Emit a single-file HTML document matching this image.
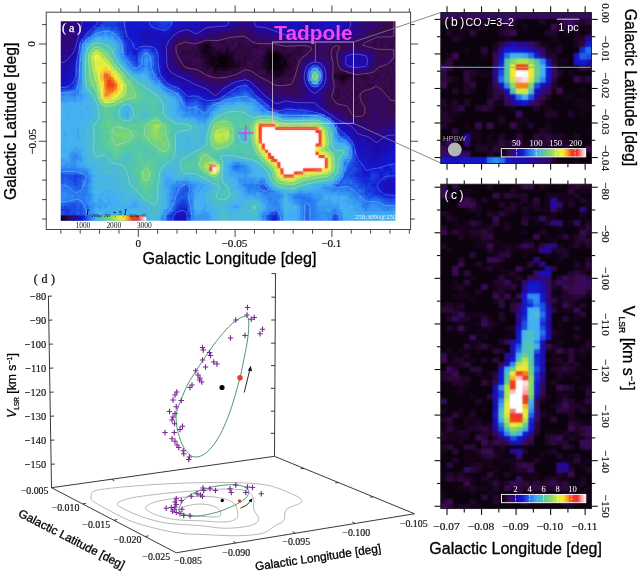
<!DOCTYPE html>
<html lang="en">
<head>
<meta charset="utf-8">
<title>Tadpole molecular cloud figure</title>
<style>
html,body{margin:0;padding:0;background:#fff;}
body{width:640px;height:576px;overflow:hidden;}
svg{display:block;}
</style>
</head>
<body>
<svg width="640" height="576" viewBox="0 0 640 576">
<defs>
<linearGradient id="cb" x1="0" x2="1" y1="0" y2="0"><stop offset="0" stop-color="#000000"/><stop offset="0.042" stop-color="#1b0422"/><stop offset="0.083" stop-color="#380a4c"/><stop offset="0.125" stop-color="#300878"/><stop offset="0.167" stop-color="#2208a0"/><stop offset="0.25" stop-color="#1218d0"/><stop offset="0.333" stop-color="#2270f0"/><stop offset="0.417" stop-color="#44b0f4"/><stop offset="0.5" stop-color="#54c8a8"/><stop offset="0.583" stop-color="#88d868"/><stop offset="0.667" stop-color="#d0ec40"/><stop offset="0.725" stop-color="#f8f030"/><stop offset="0.783" stop-color="#f8a020"/><stop offset="0.833" stop-color="#f04018"/><stop offset="0.9" stop-color="#f03030"/><stop offset="0.95" stop-color="#f8a0a0"/><stop offset="1" stop-color="#ffffff"/></linearGradient>
<filter id="sm" x="-5%" y="-5%" width="110%" height="110%" color-interpolation-filters="sRGB"><feGaussianBlur stdDeviation="0.8" result="b"/><feComposite in="SourceGraphic" in2="b" operator="arithmetic" k1="0" k2="0.6" k3="0.4" k4="0"/></filter>
<filter id="sm2" x="-5%" y="-5%" width="110%" height="110%" color-interpolation-filters="sRGB"><feGaussianBlur stdDeviation="0.8" result="b"/><feComposite in="SourceGraphic" in2="b" operator="arithmetic" k1="0" k2="0.4" k3="0.6" k4="0"/></filter>
<clipPath id="ca"><rect x="60.75" y="21.25" width="334.75" height="199.5"/></clipPath>
<clipPath id="cbp"><rect x="440.8" y="12.6" width="150.6" height="150.9"/></clipPath>
<clipPath id="ccp"><rect x="440.8" y="184.2" width="150.6" height="324.4"/></clipPath>
</defs>
<rect x="0" y="0" width="640" height="576" fill="#fff"/>
<g id="panel-a">
<rect x="46.25" y="12.2" width="364.35" height="217.3" fill="#fff" stroke="#444" stroke-width="1"/>
<g clip-path="url(#ca)"><g filter="url(#sm)">
<rect x="54.75" y="15.25" width="346.75" height="211.5" fill="#3060c0"/>
<path fill="#000000" d="M271.12 52.02H278.32V56.14H271.12ZM218.43 55.14H225.63V59.26H218.43ZM271.12 55.14H281.42V59.26H271.12ZM268.02 58.26H278.32V62.37H268.02ZM218.43 61.37H222.53V65.49H218.43ZM274.22 61.37H278.32V65.49H274.22ZM215.33 64.49H219.43V68.61H215.33ZM271.12 64.49H275.22V68.61H271.12ZM277.32 64.49H281.42V68.61H277.32ZM274.22 67.61H278.32V71.72H274.22Z"/>
<path fill="#0b020e" d="M206.03 42.67H210.13V46.79H206.03ZM206.03 45.79H210.13V49.9H206.03ZM202.93 48.9H207.03V53.02H202.93ZM268.02 52.02H272.12V56.14H268.02ZM277.32 52.02H281.42V56.14H277.32ZM212.23 55.14H216.33V59.26H212.23ZM224.63 55.14H231.82V59.26H224.63ZM268.02 55.14H272.12V59.26H268.02ZM280.42 55.14H284.52V59.26H280.42ZM209.13 58.26H213.23V62.37H209.13ZM215.33 58.26H228.72V62.37H215.33ZM277.32 58.26H281.42V62.37H277.32ZM283.52 58.26H287.62V62.37H283.52ZM212.23 61.37H216.33V65.49H212.23ZM221.53 61.37H228.72V65.49H221.53ZM268.02 61.37H275.22V65.49H268.02ZM277.32 61.37H281.42V65.49H277.32ZM283.52 61.37H287.62V65.49H283.52ZM218.43 64.49H231.82V68.61H218.43ZM268.02 64.49H272.12V68.61H268.02ZM274.22 64.49H278.32V68.61H274.22ZM280.42 64.49H284.52V68.61H280.42ZM271.12 67.61H275.22V71.72H271.12ZM277.32 67.61H281.42V71.72H277.32ZM345.51 73.84H349.61V77.96H345.51Z"/>
<path fill="#16031b" d="M202.93 42.67H207.03V46.79H202.93ZM202.93 45.79H207.03V49.9H202.93ZM209.13 45.79H213.23V49.9H209.13ZM199.83 48.9H203.93V53.02H199.83ZM206.03 48.9H210.13V53.02H206.03ZM224.63 48.9H228.72V53.02H224.63ZM271.12 48.9H275.22V53.02H271.12ZM202.93 52.02H213.23V56.14H202.93ZM215.33 52.02H228.72V56.14H215.33ZM230.82 52.02H234.92V56.14H230.82ZM264.92 52.02H269.02V56.14H264.92ZM206.03 55.14H213.23V59.26H206.03ZM215.33 55.14H219.43V59.26H215.33ZM264.92 55.14H269.02V59.26H264.92ZM212.23 58.26H216.33V62.37H212.23ZM227.72 58.26H234.92V62.37H227.72ZM264.92 58.26H269.02V62.37H264.92ZM280.42 58.26H284.52V62.37H280.42ZM206.03 61.37H213.23V65.49H206.03ZM215.33 61.37H219.43V65.49H215.33ZM227.72 61.37H234.92V65.49H227.72ZM264.92 61.37H269.02V65.49H264.92ZM280.42 61.37H284.52V65.49H280.42ZM209.13 64.49H216.33V68.61H209.13ZM230.82 64.49H238.02V68.61H230.82ZM261.82 64.49H269.02V68.61H261.82ZM283.52 64.49H287.62V68.61H283.52ZM212.23 67.61H219.43V71.72H212.23ZM221.53 67.61H228.72V71.72H221.53ZM264.92 67.61H272.12V71.72H264.92ZM280.42 67.61H284.52V71.72H280.42ZM271.12 70.72H284.52V74.84H271.12ZM274.22 73.84H281.42V77.96H274.22ZM333.11 73.84H337.21V77.96H333.11ZM339.31 73.84H346.51V77.96H339.31ZM348.61 73.84H352.71V77.96H348.61ZM339.31 76.96H346.51V81.08H339.31Z"/>
<path fill="#21052a" d="M218.43 39.55H222.53V43.67H218.43ZM199.83 42.67H203.93V46.79H199.83ZM237.02 42.67H241.12V46.79H237.02ZM196.73 45.79H203.93V49.9H196.73ZM212.23 45.79H216.33V49.9H212.23ZM224.63 45.79H228.72V49.9H224.63ZM280.42 45.79H284.52V49.9H280.42ZM209.13 48.9H222.53V53.02H209.13ZM227.72 48.9H231.82V53.02H227.72ZM233.92 48.9H238.02V53.02H233.92ZM264.92 48.9H272.12V53.02H264.92ZM274.22 48.9H281.42V53.02H274.22ZM199.83 52.02H203.93V56.14H199.83ZM212.23 52.02H216.33V56.14H212.23ZM227.72 52.02H231.82V56.14H227.72ZM280.42 52.02H284.52V56.14H280.42ZM286.62 52.02H293.82V56.14H286.62ZM199.83 55.14H207.03V59.26H199.83ZM230.82 55.14H234.92V59.26H230.82ZM243.22 55.14H247.32V59.26H243.22ZM261.82 55.14H265.92V59.26H261.82ZM283.52 55.14H290.72V59.26H283.52ZM202.93 58.26H210.13V62.37H202.93ZM237.02 58.26H241.12V62.37H237.02ZM261.82 58.26H265.92V62.37H261.82ZM292.82 58.26H296.91V62.37H292.82ZM202.93 61.37H207.03V65.49H202.93ZM233.92 61.37H241.12V65.49H233.92ZM243.22 61.37H247.32V65.49H243.22ZM258.72 61.37H265.92V65.49H258.72ZM286.62 61.37H290.72V65.49H286.62ZM206.03 64.49H210.13V68.61H206.03ZM237.02 64.49H241.12V68.61H237.02ZM286.62 64.49H293.82V68.61H286.62ZM206.03 67.61H210.13V71.72H206.03ZM218.43 67.61H222.53V71.72H218.43ZM227.72 67.61H231.82V71.72H227.72ZM283.52 67.61H290.72V71.72H283.52ZM212.23 70.72H216.33V74.84H212.23ZM264.92 70.72H272.12V74.84H264.92ZM283.52 70.72H287.62V74.84H283.52ZM342.41 70.72H346.51V74.84H342.41ZM271.12 73.84H275.22V77.96H271.12ZM336.21 73.84H340.31V77.96H336.21ZM336.21 76.96H340.31V81.08H336.21ZM345.51 76.96H349.61V81.08H345.51ZM339.31 80.08H346.51V84.19H339.31Z"/>
<path fill="#2c083b" d="M382.7 23.97H386.8V28.08H382.7ZM385.8 27.08H389.9V31.2H385.8ZM395.1 30.2H399.2V34.32H395.1ZM392 33.32H396.1V37.44H392ZM240.12 36.44H244.22V40.55H240.12ZM373.4 36.44H377.5V40.55H373.4ZM385.8 36.44H389.9V40.55H385.8ZM395.1 36.44H399.2V40.55H395.1ZM202.93 39.55H213.23V43.67H202.93ZM221.53 39.55H225.63V43.67H221.53ZM230.82 39.55H234.92V43.67H230.82ZM237.02 39.55H241.12V43.67H237.02ZM373.4 39.55H377.5V43.67H373.4ZM379.6 39.55H383.7V43.67H379.6ZM196.73 42.67H200.83V46.79H196.73ZM209.13 42.67H213.23V46.79H209.13ZM221.53 42.67H228.72V46.79H221.53ZM230.82 42.67H234.92V46.79H230.82ZM240.12 42.67H244.22V46.79H240.12ZM252.52 42.67H259.72V46.79H252.52ZM271.12 42.67H275.22V46.79H271.12ZM364.1 42.67H368.2V46.79H364.1ZM373.4 42.67H377.5V46.79H373.4ZM379.6 42.67H383.7V46.79H379.6ZM388.9 42.67H393V46.79H388.9ZM395.1 42.67H399.2V46.79H395.1ZM218.43 45.79H222.53V49.9H218.43ZM227.72 45.79H231.82V49.9H227.72ZM233.92 45.79H259.72V49.9H233.92ZM261.82 45.79H272.12V49.9H261.82ZM274.22 45.79H278.32V49.9H274.22ZM283.52 45.79H290.72V49.9H283.52ZM295.91 45.79H303.11V49.9H295.91ZM311.41 45.79H318.61V49.9H311.41ZM370.3 45.79H377.5V49.9H370.3ZM379.6 45.79H383.7V49.9H379.6ZM388.9 45.79H393V49.9H388.9ZM181.23 48.9H200.83V53.02H181.23ZM221.53 48.9H225.63V53.02H221.53ZM230.82 48.9H234.92V53.02H230.82ZM240.12 48.9H253.52V53.02H240.12ZM280.42 48.9H287.62V53.02H280.42ZM292.82 48.9H303.11V53.02H292.82ZM178.13 52.02H191.53V56.14H178.13ZM193.63 52.02H200.83V56.14H193.63ZM233.92 52.02H253.52V56.14H233.92ZM255.62 52.02H259.72V56.14H255.62ZM261.82 52.02H265.92V56.14H261.82ZM283.52 52.02H287.62V56.14H283.52ZM292.82 52.02H306.21V56.14H292.82ZM308.31 52.02H312.41V56.14H308.31ZM326.91 52.02H337.21V56.14H326.91ZM184.33 55.14H188.43V59.26H184.33ZM190.53 55.14H200.83V59.26H190.53ZM233.92 55.14H244.22V59.26H233.92ZM246.32 55.14H256.62V59.26H246.32ZM258.72 55.14H262.82V59.26H258.72ZM289.72 55.14H296.91V59.26H289.72ZM379.6 55.14H383.7V59.26H379.6ZM392 55.14H396.1V59.26H392ZM181.23 58.26H185.33V62.37H181.23ZM187.43 58.26H191.53V62.37H187.43ZM199.83 58.26H203.93V62.37H199.83ZM233.92 58.26H238.02V62.37H233.92ZM240.12 58.26H253.52V62.37H240.12ZM255.62 58.26H259.72V62.37H255.62ZM286.62 58.26H293.82V62.37H286.62ZM333.11 58.26H337.21V62.37H333.11ZM392 58.26H396.1V62.37H392ZM181.23 61.37H191.53V65.49H181.23ZM199.83 61.37H203.93V65.49H199.83ZM240.12 61.37H244.22V65.49H240.12ZM252.52 61.37H256.62V65.49H252.52ZM289.72 61.37H300.01V65.49H289.72ZM336.21 61.37H340.31V65.49H336.21ZM388.9 61.37H393V65.49H388.9ZM181.23 64.49H185.33V68.61H181.23ZM187.43 64.49H197.73V68.61H187.43ZM199.83 64.49H207.03V68.61H199.83ZM240.12 64.49H250.42V68.61H240.12ZM252.52 64.49H262.82V68.61H252.52ZM292.82 64.49H296.91V68.61H292.82ZM376.5 64.49H380.6V68.61H376.5ZM199.83 67.61H207.03V71.72H199.83ZM230.82 67.61H241.12V71.72H230.82ZM246.32 67.61H265.92V71.72H246.32ZM289.72 67.61H293.82V71.72H289.72ZM202.93 70.72H207.03V74.84H202.93ZM209.13 70.72H213.23V74.84H209.13ZM215.33 70.72H228.72V74.84H215.33ZM230.82 70.72H238.02V74.84H230.82ZM289.72 70.72H296.91V74.84H289.72ZM333.11 70.72H343.41V74.84H333.11ZM379.6 70.72H383.7V74.84H379.6ZM385.8 70.72H389.9V74.84H385.8ZM395.1 70.72H399.2V74.84H395.1ZM212.23 73.84H222.53V77.96H212.23ZM224.63 73.84H234.92V77.96H224.63ZM255.62 73.84H272.12V77.96H255.62ZM280.42 73.84H293.82V77.96H280.42ZM351.71 73.84H355.81V77.96H351.71ZM357.91 73.84H368.2V77.96H357.91ZM373.4 73.84H380.6V77.96H373.4ZM392 73.84H396.1V77.96H392ZM268.02 76.96H281.42V81.08H268.02ZM333.11 76.96H337.21V81.08H333.11ZM348.61 76.96H355.81V81.08H348.61ZM361.01 76.96H371.3V81.08H361.01ZM373.4 76.96H377.5V81.08H373.4ZM382.7 76.96H386.8V81.08H382.7ZM277.32 80.08H284.52V84.19H277.32ZM286.62 80.08H290.72V84.19H286.62ZM336.21 80.08H340.31V84.19H336.21ZM345.51 80.08H349.61V84.19H345.51ZM351.71 80.08H355.81V84.19H351.71ZM364.1 80.08H368.2V84.19H364.1ZM388.9 80.08H393V84.19H388.9ZM289.72 83.19H293.82V87.31H289.72ZM339.31 83.19H346.51V87.31H339.31ZM348.61 83.19H352.71V87.31H348.61ZM354.81 83.19H362.01V87.31H354.81ZM364.1 83.19H374.4V87.31H364.1ZM382.7 83.19H386.8V87.31H382.7ZM388.9 83.19H393V87.31H388.9ZM395.1 83.19H399.2V87.31H395.1ZM336.21 86.31H340.31V90.43H336.21ZM345.51 86.31H349.61V90.43H345.51ZM351.71 86.31H355.81V90.43H351.71ZM361.01 86.31H365.1V90.43H361.01ZM388.9 86.31H393V90.43H388.9ZM333.11 89.43H340.31V93.55H333.11ZM351.71 89.43H362.01V93.55H351.71ZM364.1 89.43H368.2V93.55H364.1ZM382.7 89.43H386.8V93.55H382.7ZM336.21 92.55H340.31V96.66H336.21ZM342.41 92.55H346.51V96.66H342.41ZM348.61 92.55H358.91V96.66H348.61ZM385.8 92.55H389.9V96.66H385.8ZM395.1 92.55H399.2V96.66H395.1ZM330.01 95.66H340.31V99.78H330.01ZM345.51 95.66H349.61V99.78H345.51ZM348.61 98.78H352.71V102.9H348.61ZM354.81 98.78H358.91V102.9H354.81ZM342.41 101.9H346.51V106.01H342.41ZM351.71 101.9H358.91V106.01H351.71ZM357.91 105.01H362.01V109.13H357.91ZM392 105.01H399.2V109.13H392ZM354.81 108.13H358.91V112.25H354.81ZM348.61 111.25H355.81V115.37H348.61ZM357.91 111.25H362.01V115.37H357.91Z"/>
<path fill="#380a4c" d="M382.7 17.73H399.2V21.85H382.7ZM379.6 20.85H399.2V24.97H379.6ZM379.6 23.97H383.7V28.08H379.6ZM385.8 23.97H399.2V28.08H385.8ZM373.4 27.08H377.5V31.2H373.4ZM379.6 27.08H386.8V31.2H379.6ZM388.9 27.08H396.1V31.2H388.9ZM240.12 30.2H244.22V34.32H240.12ZM373.4 30.2H377.5V34.32H373.4ZM379.6 30.2H386.8V34.32H379.6ZM388.9 30.2H396.1V34.32H388.9ZM224.63 33.32H228.72V37.44H224.63ZM233.92 33.32H247.32V37.44H233.92ZM364.1 33.32H368.2V37.44H364.1ZM376.5 33.32H380.6V37.44H376.5ZM382.7 33.32H393V37.44H382.7ZM395.1 33.32H399.2V37.44H395.1ZM184.33 36.44H188.43V40.55H184.33ZM218.43 36.44H241.12V40.55H218.43ZM243.22 36.44H247.32V40.55H243.22ZM249.42 36.44H253.52V40.55H249.42ZM367.2 36.44H374.4V40.55H367.2ZM376.5 36.44H386.8V40.55H376.5ZM388.9 36.44H396.1V40.55H388.9ZM175.03 39.55H182.23V43.67H175.03ZM184.33 39.55H191.53V43.67H184.33ZM196.73 39.55H203.93V43.67H196.73ZM212.23 39.55H219.43V43.67H212.23ZM224.63 39.55H231.82V43.67H224.63ZM233.92 39.55H238.02V43.67H233.92ZM240.12 39.55H253.52V43.67H240.12ZM255.62 39.55H262.82V43.67H255.62ZM268.02 39.55H272.12V43.67H268.02ZM351.71 39.55H355.81V43.67H351.71ZM364.1 39.55H371.3V43.67H364.1ZM376.5 39.55H380.6V43.67H376.5ZM382.7 39.55H396.1V43.67H382.7ZM175.03 42.67H197.73V46.79H175.03ZM212.23 42.67H222.53V46.79H212.23ZM227.72 42.67H231.82V46.79H227.72ZM233.92 42.67H238.02V46.79H233.92ZM243.22 42.67H253.52V46.79H243.22ZM258.72 42.67H272.12V46.79H258.72ZM274.22 42.67H284.52V46.79H274.22ZM289.72 42.67H293.82V46.79H289.72ZM299.01 42.67H306.21V46.79H299.01ZM308.31 42.67H312.41V46.79H308.31ZM326.91 42.67H349.61V46.79H326.91ZM354.81 42.67H365.1V46.79H354.81ZM367.2 42.67H374.4V46.79H367.2ZM376.5 42.67H380.6V46.79H376.5ZM385.8 42.67H389.9V46.79H385.8ZM392 42.67H396.1V46.79H392ZM171.93 45.79H197.73V49.9H171.93ZM215.33 45.79H219.43V49.9H215.33ZM221.53 45.79H225.63V49.9H221.53ZM230.82 45.79H234.92V49.9H230.82ZM258.72 45.79H262.82V49.9H258.72ZM271.12 45.79H275.22V49.9H271.12ZM277.32 45.79H281.42V49.9H277.32ZM289.72 45.79H296.91V49.9H289.72ZM302.11 45.79H312.41V49.9H302.11ZM330.01 45.79H346.51V49.9H330.01ZM354.81 45.79H358.91V49.9H354.81ZM361.01 45.79H371.3V49.9H361.01ZM382.7 45.79H389.9V49.9H382.7ZM392 45.79H399.2V49.9H392ZM175.03 48.9H182.23V53.02H175.03ZM237.02 48.9H241.12V53.02H237.02ZM252.52 48.9H259.72V53.02H252.52ZM261.82 48.9H265.92V53.02H261.82ZM286.62 48.9H293.82V53.02H286.62ZM302.11 48.9H315.51V53.02H302.11ZM323.81 48.9H343.41V53.02H323.81ZM376.5 48.9H399.2V53.02H376.5ZM190.53 52.02H194.63V56.14H190.53ZM252.52 52.02H256.62V56.14H252.52ZM258.72 52.02H262.82V56.14H258.72ZM317.61 52.02H324.81V56.14H317.61ZM336.21 52.02H340.31V56.14H336.21ZM376.5 52.02H399.2V56.14H376.5ZM178.13 55.14H185.33V59.26H178.13ZM187.43 55.14H191.53V59.26H187.43ZM255.62 55.14H259.72V59.26H255.62ZM295.91 55.14H309.31V59.26H295.91ZM326.91 55.14H337.21V59.26H326.91ZM373.4 55.14H380.6V59.26H373.4ZM382.7 55.14H386.8V59.26H382.7ZM395.1 55.14H399.2V59.26H395.1ZM190.53 58.26H200.83V62.37H190.53ZM252.52 58.26H256.62V62.37H252.52ZM258.72 58.26H262.82V62.37H258.72ZM295.91 58.26H300.01V62.37H295.91ZM326.91 58.26H334.11V62.37H326.91ZM336.21 58.26H340.31V62.37H336.21ZM376.5 58.26H380.6V62.37H376.5ZM382.7 58.26H386.8V62.37H382.7ZM395.1 58.26H399.2V62.37H395.1ZM178.13 61.37H182.23V65.49H178.13ZM190.53 61.37H200.83V65.49H190.53ZM246.32 61.37H253.52V65.49H246.32ZM255.62 61.37H259.72V65.49H255.62ZM330.01 61.37H337.21V65.49H330.01ZM379.6 61.37H383.7V65.49H379.6ZM385.8 61.37H389.9V65.49H385.8ZM392 61.37H399.2V65.49H392ZM178.13 64.49H182.23V68.61H178.13ZM184.33 64.49H188.43V68.61H184.33ZM196.73 64.49H200.83V68.61H196.73ZM249.42 64.49H253.52V68.61H249.42ZM295.91 64.49H300.01V68.61H295.91ZM330.01 64.49H340.31V68.61H330.01ZM379.6 64.49H393V68.61H379.6ZM395.1 64.49H399.2V68.61H395.1ZM181.23 67.61H188.43V71.72H181.23ZM193.63 67.61H200.83V71.72H193.63ZM209.13 67.61H213.23V71.72H209.13ZM240.12 67.61H247.32V71.72H240.12ZM292.82 67.61H300.01V71.72H292.82ZM330.01 67.61H346.51V71.72H330.01ZM373.4 67.61H399.2V71.72H373.4ZM196.73 70.72H200.83V74.84H196.73ZM206.03 70.72H210.13V74.84H206.03ZM227.72 70.72H231.82V74.84H227.72ZM246.32 70.72H265.92V74.84H246.32ZM286.62 70.72H290.72V74.84H286.62ZM295.91 70.72H300.01V74.84H295.91ZM330.01 70.72H334.11V74.84H330.01ZM345.51 70.72H352.71V74.84H345.51ZM361.01 70.72H380.6V74.84H361.01ZM382.7 70.72H386.8V74.84H382.7ZM388.9 70.72H396.1V74.84H388.9ZM202.93 73.84H213.23V77.96H202.93ZM221.53 73.84H225.63V77.96H221.53ZM233.92 73.84H241.12V77.96H233.92ZM252.52 73.84H256.62V77.96H252.52ZM292.82 73.84H300.01V77.96H292.82ZM330.01 73.84H334.11V77.96H330.01ZM354.81 73.84H358.91V77.96H354.81ZM367.2 73.84H374.4V77.96H367.2ZM382.7 73.84H393V77.96H382.7ZM209.13 76.96H222.53V81.08H209.13ZM224.63 76.96H228.72V81.08H224.63ZM255.62 76.96H269.02V81.08H255.62ZM280.42 76.96H296.91V81.08H280.42ZM330.01 76.96H334.11V81.08H330.01ZM354.81 76.96H362.01V81.08H354.81ZM370.3 76.96H374.4V81.08H370.3ZM376.5 76.96H383.7V81.08H376.5ZM385.8 76.96H399.2V81.08H385.8ZM221.53 80.08H225.63V84.19H221.53ZM264.92 80.08H278.32V84.19H264.92ZM283.52 80.08H287.62V84.19H283.52ZM289.72 80.08H300.01V84.19H289.72ZM330.01 80.08H337.21V84.19H330.01ZM348.61 80.08H352.71V84.19H348.61ZM354.81 80.08H365.1V84.19H354.81ZM367.2 80.08H374.4V84.19H367.2ZM376.5 80.08H389.9V84.19H376.5ZM392 80.08H399.2V84.19H392ZM268.02 83.19H290.72V87.31H268.02ZM292.82 83.19H296.91V87.31H292.82ZM333.11 83.19H340.31V87.31H333.11ZM345.51 83.19H349.61V87.31H345.51ZM351.71 83.19H355.81V87.31H351.71ZM361.01 83.19H365.1V87.31H361.01ZM373.4 83.19H383.7V87.31H373.4ZM385.8 83.19H389.9V87.31H385.8ZM271.12 86.31H275.22V90.43H271.12ZM283.52 86.31H287.62V90.43H283.52ZM289.72 86.31H293.82V90.43H289.72ZM330.01 86.31H337.21V90.43H330.01ZM339.31 86.31H346.51V90.43H339.31ZM348.61 86.31H352.71V90.43H348.61ZM354.81 86.31H362.01V90.43H354.81ZM364.1 86.31H374.4V90.43H364.1ZM376.5 86.31H389.9V90.43H376.5ZM392 86.31H399.2V90.43H392ZM330.01 89.43H334.11V93.55H330.01ZM339.31 89.43H352.71V93.55H339.31ZM361.01 89.43H365.1V93.55H361.01ZM367.2 89.43H371.3V93.55H367.2ZM373.4 89.43H377.5V93.55H373.4ZM379.6 89.43H383.7V93.55H379.6ZM385.8 89.43H399.2V93.55H385.8ZM292.82 92.55H296.91V96.66H292.82ZM326.91 92.55H337.21V96.66H326.91ZM339.31 92.55H343.41V96.66H339.31ZM345.51 92.55H349.61V96.66H345.51ZM357.91 92.55H368.2V96.66H357.91ZM379.6 92.55H386.8V96.66H379.6ZM388.9 92.55H396.1V96.66H388.9ZM339.31 95.66H346.51V99.78H339.31ZM351.71 95.66H368.2V99.78H351.71ZM385.8 95.66H399.2V99.78H385.8ZM330.01 98.78H349.61V102.9H330.01ZM351.71 98.78H355.81V102.9H351.71ZM357.91 98.78H368.2V102.9H357.91ZM376.5 98.78H380.6V102.9H376.5ZM382.7 98.78H399.2V102.9H382.7ZM330.01 101.9H343.41V106.01H330.01ZM348.61 101.9H352.71V106.01H348.61ZM357.91 101.9H371.3V106.01H357.91ZM379.6 101.9H383.7V106.01H379.6ZM385.8 101.9H399.2V106.01H385.8ZM333.11 105.01H358.91V109.13H333.11ZM361.01 105.01H371.3V109.13H361.01ZM385.8 105.01H393V109.13H385.8ZM342.41 108.13H346.51V112.25H342.41ZM348.61 108.13H355.81V112.25H348.61ZM357.91 108.13H368.2V112.25H357.91ZM379.6 108.13H383.7V112.25H379.6ZM385.8 108.13H393V112.25H385.8ZM395.1 108.13H399.2V112.25H395.1ZM345.51 111.25H349.61V115.37H345.51ZM354.81 111.25H358.91V115.37H354.81ZM361.01 111.25H368.2V115.37H361.01ZM370.3 111.25H374.4V115.37H370.3ZM385.8 111.25H389.9V115.37H385.8ZM348.61 114.37H371.3V118.48H348.61ZM379.6 114.37H383.7V118.48H379.6ZM385.8 114.37H389.9V118.48H385.8ZM367.2 117.48H371.3V121.6H367.2Z"/>
<path fill="#35095e" d="M370.3 17.73H383.7V21.85H370.3ZM367.2 20.85H371.3V24.97H367.2ZM373.4 20.85H377.5V24.97H373.4ZM364.1 23.97H368.2V28.08H364.1ZM376.5 23.97H380.6V28.08H376.5ZM240.12 27.08H247.32V31.2H240.12ZM364.1 27.08H368.2V31.2H364.1ZM376.5 27.08H380.6V31.2H376.5ZM395.1 27.08H399.2V31.2H395.1ZM224.63 30.2H228.72V34.32H224.63ZM230.82 30.2H241.12V34.32H230.82ZM246.32 30.2H250.42V34.32H246.32ZM364.1 30.2H374.4V34.32H364.1ZM376.5 30.2H380.6V34.32H376.5ZM385.8 30.2H389.9V34.32H385.8ZM209.13 33.32H213.23V37.44H209.13ZM215.33 33.32H225.63V37.44H215.33ZM227.72 33.32H234.92V37.44H227.72ZM246.32 33.32H256.62V37.44H246.32ZM367.2 33.32H377.5V37.44H367.2ZM379.6 33.32H383.7V37.44H379.6ZM181.23 36.44H185.33V40.55H181.23ZM187.43 36.44H191.53V40.55H187.43ZM202.93 36.44H219.43V40.55H202.93ZM246.32 36.44H250.42V40.55H246.32ZM255.62 36.44H265.92V40.55H255.62ZM268.02 36.44H272.12V40.55H268.02ZM361.01 36.44H368.2V40.55H361.01ZM181.23 39.55H185.33V43.67H181.23ZM190.53 39.55H197.73V43.67H190.53ZM252.52 39.55H256.62V43.67H252.52ZM261.82 39.55H269.02V43.67H261.82ZM271.12 39.55H278.32V43.67H271.12ZM280.42 39.55H284.52V43.67H280.42ZM289.72 39.55H293.82V43.67H289.72ZM299.01 39.55H303.11V43.67H299.01ZM305.21 39.55H315.51V43.67H305.21ZM330.01 39.55H334.11V43.67H330.01ZM342.41 39.55H346.51V43.67H342.41ZM348.61 39.55H352.71V43.67H348.61ZM354.81 39.55H365.1V43.67H354.81ZM370.3 39.55H374.4V43.67H370.3ZM395.1 39.55H399.2V43.67H395.1ZM171.93 42.67H176.03V46.79H171.93ZM283.52 42.67H290.72V46.79H283.52ZM292.82 42.67H300.01V46.79H292.82ZM305.21 42.67H309.31V46.79H305.21ZM311.41 42.67H321.71V46.79H311.41ZM323.81 42.67H327.91V46.79H323.81ZM348.61 42.67H355.81V46.79H348.61ZM382.7 42.67H386.8V46.79H382.7ZM317.61 45.79H321.71V49.9H317.61ZM323.81 45.79H331.01V49.9H323.81ZM345.51 45.79H355.81V49.9H345.51ZM357.91 45.79H362.01V49.9H357.91ZM376.5 45.79H380.6V49.9H376.5ZM168.83 48.9H176.03V53.02H168.83ZM258.72 48.9H262.82V53.02H258.72ZM314.51 48.9H324.81V53.02H314.51ZM342.41 48.9H346.51V53.02H342.41ZM364.1 48.9H377.5V53.02H364.1ZM171.93 52.02H179.13V56.14H171.93ZM305.21 52.02H309.31V56.14H305.21ZM311.41 52.02H318.61V56.14H311.41ZM323.81 52.02H327.91V56.14H323.81ZM373.4 52.02H377.5V56.14H373.4ZM171.93 55.14H179.13V59.26H171.93ZM308.31 55.14H327.91V59.26H308.31ZM336.21 55.14H340.31V59.26H336.21ZM385.8 55.14H393V59.26H385.8ZM171.93 58.26H182.23V62.37H171.93ZM184.33 58.26H188.43V62.37H184.33ZM299.01 58.26H309.31V62.37H299.01ZM373.4 58.26H377.5V62.37H373.4ZM379.6 58.26H383.7V62.37H379.6ZM385.8 58.26H393V62.37H385.8ZM175.03 61.37H179.13V65.49H175.03ZM299.01 61.37H303.11V65.49H299.01ZM373.4 61.37H380.6V65.49H373.4ZM382.7 61.37H386.8V65.49H382.7ZM299.01 64.49H303.11V68.61H299.01ZM326.91 64.49H331.01V68.61H326.91ZM339.31 64.49H343.41V68.61H339.31ZM370.3 64.49H377.5V68.61H370.3ZM392 64.49H396.1V68.61H392ZM178.13 67.61H182.23V71.72H178.13ZM187.43 67.61H194.63V71.72H187.43ZM299.01 67.61H303.11V71.72H299.01ZM370.3 67.61H374.4V71.72H370.3ZM187.43 70.72H197.73V74.84H187.43ZM199.83 70.72H203.93V74.84H199.83ZM237.02 70.72H247.32V74.84H237.02ZM326.91 70.72H331.01V74.84H326.91ZM351.71 70.72H362.01V74.84H351.71ZM193.63 73.84H203.93V77.96H193.63ZM240.12 73.84H253.52V77.96H240.12ZM379.6 73.84H383.7V77.96H379.6ZM395.1 73.84H399.2V77.96H395.1ZM202.93 76.96H210.13V81.08H202.93ZM221.53 76.96H225.63V81.08H221.53ZM249.42 76.96H253.52V81.08H249.42ZM295.91 76.96H300.01V81.08H295.91ZM209.13 80.08H213.23V84.19H209.13ZM215.33 80.08H222.53V84.19H215.33ZM224.63 80.08H228.72V84.19H224.63ZM261.82 80.08H265.92V84.19H261.82ZM373.4 80.08H377.5V84.19H373.4ZM212.23 83.19H219.43V87.31H212.23ZM261.82 83.19H269.02V87.31H261.82ZM295.91 83.19H300.01V87.31H295.91ZM330.01 83.19H334.11V87.31H330.01ZM392 83.19H396.1V87.31H392ZM268.02 86.31H272.12V90.43H268.02ZM274.22 86.31H284.52V90.43H274.22ZM286.62 86.31H290.72V90.43H286.62ZM292.82 86.31H303.11V90.43H292.82ZM373.4 86.31H377.5V90.43H373.4ZM271.12 89.43H303.11V93.55H271.12ZM323.81 89.43H331.01V93.55H323.81ZM370.3 89.43H374.4V93.55H370.3ZM376.5 89.43H380.6V93.55H376.5ZM274.22 92.55H278.32V96.66H274.22ZM286.62 92.55H293.82V96.66H286.62ZM295.91 92.55H303.11V96.66H295.91ZM323.81 92.55H327.91V96.66H323.81ZM367.2 92.55H380.6V96.66H367.2ZM323.81 95.66H331.01V99.78H323.81ZM348.61 95.66H352.71V99.78H348.61ZM370.3 95.66H386.8V99.78H370.3ZM323.81 98.78H331.01V102.9H323.81ZM367.2 98.78H377.5V102.9H367.2ZM379.6 98.78H383.7V102.9H379.6ZM323.81 101.9H331.01V106.01H323.81ZM345.51 101.9H349.61V106.01H345.51ZM370.3 101.9H380.6V106.01H370.3ZM382.7 101.9H386.8V106.01H382.7ZM326.91 105.01H334.11V109.13H326.91ZM370.3 105.01H386.8V109.13H370.3ZM333.11 108.13H343.41V112.25H333.11ZM345.51 108.13H349.61V112.25H345.51ZM367.2 108.13H380.6V112.25H367.2ZM382.7 108.13H386.8V112.25H382.7ZM392 108.13H396.1V112.25H392ZM342.41 111.25H346.51V115.37H342.41ZM367.2 111.25H371.3V115.37H367.2ZM376.5 111.25H386.8V115.37H376.5ZM388.9 111.25H399.2V115.37H388.9ZM342.41 114.37H349.61V118.48H342.41ZM382.7 114.37H386.8V118.48H382.7ZM388.9 114.37H399.2V118.48H388.9ZM348.61 117.48H368.2V121.6H348.61ZM373.4 117.48H399.2V121.6H373.4ZM357.91 120.6H365.1V124.72H357.91ZM367.2 120.6H380.6V124.72H367.2ZM382.7 120.6H386.8V124.72H382.7ZM388.9 120.6H393V124.72H388.9ZM364.1 123.72H368.2V127.83H364.1ZM370.3 123.72H374.4V127.83H370.3ZM376.5 123.72H386.8V127.83H376.5Z"/>
<path fill="#32086f" d="M63.45 17.73H76.85V21.85H63.45ZM240.12 17.73H244.22V21.85H240.12ZM357.91 17.73H365.1V21.85H357.91ZM367.2 17.73H371.3V21.85H367.2ZM57.25 20.85H67.55V24.97H57.25ZM69.65 20.85H73.75V24.97H69.65ZM364.1 20.85H368.2V24.97H364.1ZM370.3 20.85H374.4V24.97H370.3ZM376.5 20.85H380.6V24.97H376.5ZM57.25 23.97H67.55V28.08H57.25ZM69.65 23.97H73.75V28.08H69.65ZM75.85 23.97H79.95V28.08H75.85ZM357.91 23.97H365.1V28.08H357.91ZM370.3 23.97H377.5V28.08H370.3ZM60.35 27.08H64.45V31.2H60.35ZM69.65 27.08H76.85V31.2H69.65ZM230.82 27.08H241.12V31.2H230.82ZM246.32 27.08H253.52V31.2H246.32ZM367.2 27.08H374.4V31.2H367.2ZM60.35 30.2H64.45V34.32H60.35ZM69.65 30.2H73.75V34.32H69.65ZM215.33 30.2H219.43V34.32H215.33ZM221.53 30.2H225.63V34.32H221.53ZM227.72 30.2H231.82V34.32H227.72ZM243.22 30.2H247.32V34.32H243.22ZM249.42 30.2H256.62V34.32H249.42ZM57.25 33.32H67.55V37.44H57.25ZM72.75 33.32H76.85V37.44H72.75ZM181.23 33.32H188.43V37.44H181.23ZM206.03 33.32H210.13V37.44H206.03ZM212.23 33.32H216.33V37.44H212.23ZM255.62 33.32H259.72V37.44H255.62ZM354.81 33.32H365.1V37.44H354.81ZM57.25 36.44H61.35V40.55H57.25ZM63.45 36.44H67.55V40.55H63.45ZM175.03 36.44H182.23V40.55H175.03ZM190.53 36.44H194.63V40.55H190.53ZM196.73 36.44H203.93V40.55H196.73ZM252.52 36.44H256.62V40.55H252.52ZM264.92 36.44H269.02V40.55H264.92ZM271.12 36.44H284.52V40.55H271.12ZM342.41 36.44H346.51V40.55H342.41ZM348.61 36.44H362.01V40.55H348.61ZM57.25 39.55H61.35V43.67H57.25ZM171.93 39.55H176.03V43.67H171.93ZM277.32 39.55H281.42V43.67H277.32ZM283.52 39.55H290.72V43.67H283.52ZM292.82 39.55H300.01V43.67H292.82ZM302.11 39.55H306.21V43.67H302.11ZM314.51 39.55H331.01V43.67H314.51ZM333.11 39.55H343.41V43.67H333.11ZM57.25 42.67H61.35V46.79H57.25ZM63.45 42.67H70.65V46.79H63.45ZM320.71 42.67H324.81V46.79H320.71ZM63.45 45.79H67.55V49.9H63.45ZM168.83 45.79H172.93V49.9H168.83ZM320.71 45.79H324.81V49.9H320.71ZM345.51 48.9H365.1V53.02H345.51ZM339.31 52.02H343.41V56.14H339.31ZM370.3 52.02H374.4V56.14H370.3ZM168.83 55.14H172.93V59.26H168.83ZM339.31 55.14H343.41V59.26H339.31ZM320.71 58.26H327.91V62.37H320.71ZM339.31 58.26H343.41V62.37H339.31ZM171.93 61.37H176.03V65.49H171.93ZM302.11 61.37H306.21V65.49H302.11ZM339.31 61.37H343.41V65.49H339.31ZM370.3 61.37H374.4V65.49H370.3ZM175.03 64.49H179.13V68.61H175.03ZM345.51 67.61H349.61V71.72H345.51ZM351.71 67.61H355.81V71.72H351.71ZM367.2 67.61H371.3V71.72H367.2ZM181.23 70.72H188.43V74.84H181.23ZM299.01 70.72H303.11V74.84H299.01ZM190.53 73.84H194.63V77.96H190.53ZM299.01 73.84H303.11V77.96H299.01ZM326.91 73.84H331.01V77.96H326.91ZM196.73 76.96H203.93V81.08H196.73ZM227.72 76.96H241.12V81.08H227.72ZM252.52 76.96H256.62V81.08H252.52ZM299.01 76.96H303.11V81.08H299.01ZM202.93 80.08H210.13V84.19H202.93ZM212.23 80.08H216.33V84.19H212.23ZM255.62 80.08H262.82V84.19H255.62ZM299.01 80.08H303.11V84.19H299.01ZM326.91 80.08H331.01V84.19H326.91ZM206.03 83.19H213.23V87.31H206.03ZM218.43 83.19H222.53V87.31H218.43ZM258.72 83.19H262.82V87.31H258.72ZM299.01 83.19H303.11V87.31H299.01ZM261.82 86.31H269.02V90.43H261.82ZM326.91 86.31H331.01V90.43H326.91ZM264.92 89.43H272.12V93.55H264.92ZM302.11 89.43H306.21V93.55H302.11ZM264.92 92.55H269.02V96.66H264.92ZM271.12 92.55H275.22V96.66H271.12ZM277.32 92.55H287.62V96.66H277.32ZM302.11 92.55H309.31V96.66H302.11ZM320.71 92.55H324.81V96.66H320.71ZM277.32 95.66H284.52V99.78H277.32ZM289.72 95.66H300.01V99.78H289.72ZM320.71 95.66H324.81V99.78H320.71ZM367.2 95.66H371.3V99.78H367.2ZM320.71 98.78H324.81V102.9H320.71ZM323.81 105.01H327.91V109.13H323.81ZM326.91 108.13H334.11V112.25H326.91ZM336.21 111.25H343.41V115.37H336.21ZM373.4 111.25H377.5V115.37H373.4ZM339.31 114.37H343.41V118.48H339.31ZM370.3 114.37H380.6V118.48H370.3ZM345.51 117.48H349.61V121.6H345.51ZM370.3 117.48H374.4V121.6H370.3ZM354.81 120.6H358.91V124.72H354.81ZM364.1 120.6H368.2V124.72H364.1ZM379.6 120.6H383.7V124.72H379.6ZM385.8 120.6H389.9V124.72H385.8ZM392 120.6H399.2V124.72H392ZM367.2 123.72H371.3V127.83H367.2ZM373.4 123.72H377.5V127.83H373.4ZM385.8 123.72H393V127.83H385.8ZM370.3 126.83H380.6V130.95H370.3ZM382.7 126.83H386.8V130.95H382.7ZM370.3 129.95H374.4V134.07H370.3Z"/>
<path fill="#2d0880" d="M57.25 17.73H64.45V21.85H57.25ZM75.85 17.73H79.95V21.85H75.85ZM233.92 17.73H241.12V21.85H233.92ZM243.22 17.73H247.32V21.85H243.22ZM364.1 17.73H368.2V21.85H364.1ZM66.55 20.85H70.65V24.97H66.55ZM72.75 20.85H76.85V24.97H72.75ZM237.02 20.85H250.42V24.97H237.02ZM357.91 20.85H365.1V24.97H357.91ZM66.55 23.97H70.65V28.08H66.55ZM72.75 23.97H76.85V28.08H72.75ZM233.92 23.97H250.42V28.08H233.92ZM351.71 23.97H358.91V28.08H351.71ZM367.2 23.97H371.3V28.08H367.2ZM57.25 27.08H61.35V31.2H57.25ZM63.45 27.08H70.65V31.2H63.45ZM75.85 27.08H79.95V31.2H75.85ZM218.43 27.08H222.53V31.2H218.43ZM224.63 27.08H231.82V31.2H224.63ZM351.71 27.08H365.1V31.2H351.71ZM57.25 30.2H61.35V34.32H57.25ZM63.45 30.2H70.65V34.32H63.45ZM72.75 30.2H76.85V34.32H72.75ZM181.23 30.2H185.33V34.32H181.23ZM206.03 30.2H216.33V34.32H206.03ZM218.43 30.2H222.53V34.32H218.43ZM255.62 30.2H259.72V34.32H255.62ZM261.82 30.2H265.92V34.32H261.82ZM354.81 30.2H365.1V34.32H354.81ZM66.55 33.32H73.75V37.44H66.55ZM187.43 33.32H194.63V37.44H187.43ZM202.93 33.32H207.03V37.44H202.93ZM258.72 33.32H269.02V37.44H258.72ZM351.71 33.32H355.81V37.44H351.71ZM60.35 36.44H64.45V40.55H60.35ZM66.55 36.44H76.85V40.55H66.55ZM171.93 36.44H176.03V40.55H171.93ZM193.63 36.44H197.73V40.55H193.63ZM283.52 36.44H287.62V40.55H283.52ZM305.21 36.44H309.31V40.55H305.21ZM314.51 36.44H321.71V40.55H314.51ZM333.11 36.44H337.21V40.55H333.11ZM345.51 36.44H349.61V40.55H345.51ZM60.35 39.55H76.85V43.67H60.35ZM345.51 39.55H349.61V43.67H345.51ZM60.35 42.67H64.45V46.79H60.35ZM69.65 42.67H76.85V46.79H69.65ZM168.83 42.67H172.93V46.79H168.83ZM57.25 45.79H64.45V49.9H57.25ZM66.55 45.79H70.65V49.9H66.55ZM57.25 48.9H70.65V53.02H57.25ZM165.73 48.9H169.83V53.02H165.73ZM60.35 52.02H64.45V56.14H60.35ZM66.55 52.02H70.65V56.14H66.55ZM168.83 52.02H172.93V56.14H168.83ZM342.41 52.02H346.51V56.14H342.41ZM57.25 55.14H61.35V59.26H57.25ZM370.3 55.14H374.4V59.26H370.3ZM168.83 58.26H172.93V62.37H168.83ZM308.31 58.26H321.71V62.37H308.31ZM370.3 58.26H374.4V62.37H370.3ZM168.83 61.37H172.93V65.49H168.83ZM320.71 61.37H331.01V65.49H320.71ZM171.93 64.49H176.03V68.61H171.93ZM302.11 64.49H306.21V68.61H302.11ZM323.81 64.49H327.91V68.61H323.81ZM367.2 64.49H371.3V68.61H367.2ZM175.03 67.61H179.13V71.72H175.03ZM326.91 67.61H331.01V71.72H326.91ZM348.61 67.61H352.71V71.72H348.61ZM357.91 67.61H368.2V71.72H357.91ZM178.13 70.72H182.23V74.84H178.13ZM193.63 76.96H197.73V81.08H193.63ZM326.91 76.96H331.01V81.08H326.91ZM196.73 80.08H203.93V84.19H196.73ZM227.72 80.08H231.82V84.19H227.72ZM252.52 80.08H256.62V84.19H252.52ZM221.53 83.19H225.63V87.31H221.53ZM255.62 83.19H259.72V87.31H255.62ZM326.91 83.19H331.01V87.31H326.91ZM212.23 86.31H219.43V90.43H212.23ZM323.81 86.31H327.91V90.43H323.81ZM212.23 89.43H219.43V93.55H212.23ZM305.21 89.43H309.31V93.55H305.21ZM320.71 89.43H324.81V93.55H320.71ZM268.02 92.55H272.12V96.66H268.02ZM317.61 92.55H321.71V96.66H317.61ZM271.12 95.66H278.32V99.78H271.12ZM283.52 95.66H290.72V99.78H283.52ZM299.01 95.66H306.21V99.78H299.01ZM295.91 98.78H300.01V102.9H295.91ZM320.71 101.9H324.81V106.01H320.71ZM333.11 111.25H337.21V115.37H333.11ZM336.21 114.37H340.31V118.48H336.21ZM342.41 117.48H346.51V121.6H342.41ZM351.71 120.6H355.81V124.72H351.71ZM357.91 123.72H365.1V127.83H357.91ZM392 123.72H396.1V127.83H392ZM364.1 126.83H371.3V130.95H364.1ZM379.6 126.83H383.7V130.95H379.6ZM385.8 126.83H393V130.95H385.8ZM367.2 129.95H371.3V134.07H367.2ZM373.4 129.95H383.7V134.07H373.4Z"/>
<path fill="#280890" d="M78.95 17.73H83.05V21.85H78.95ZM227.72 17.73H231.82V21.85H227.72ZM246.32 17.73H253.52V21.85H246.32ZM351.71 17.73H358.91V21.85H351.71ZM75.85 20.85H79.95V24.97H75.85ZM230.82 20.85H238.02V24.97H230.82ZM249.42 20.85H253.52V24.97H249.42ZM354.81 20.85H358.91V24.97H354.81ZM249.42 23.97H253.52V28.08H249.42ZM206.03 27.08H219.43V31.2H206.03ZM221.53 27.08H225.63V31.2H221.53ZM252.52 27.08H259.72V31.2H252.52ZM348.61 27.08H352.71V31.2H348.61ZM75.85 30.2H79.95V34.32H75.85ZM184.33 30.2H191.53V34.32H184.33ZM196.73 30.2H200.83V34.32H196.73ZM202.93 30.2H207.03V34.32H202.93ZM258.72 30.2H262.82V34.32H258.72ZM264.92 30.2H275.22V34.32H264.92ZM348.61 30.2H355.81V34.32H348.61ZM75.85 33.32H79.95V37.44H75.85ZM175.03 33.32H182.23V37.44H175.03ZM196.73 33.32H203.93V37.44H196.73ZM268.02 33.32H284.52V37.44H268.02ZM342.41 33.32H352.71V37.44H342.41ZM286.62 36.44H293.82V40.55H286.62ZM299.01 36.44H306.21V40.55H299.01ZM308.31 36.44H315.51V40.55H308.31ZM323.81 36.44H334.11V40.55H323.81ZM336.21 36.44H343.41V40.55H336.21ZM168.83 39.55H172.93V43.67H168.83ZM69.65 45.79H76.85V49.9H69.65ZM165.73 45.79H169.83V49.9H165.73ZM57.25 52.02H61.35V56.14H57.25ZM63.45 52.02H67.55V56.14H63.45ZM165.73 52.02H169.83V56.14H165.73ZM361.01 52.02H371.3V56.14H361.01ZM60.35 55.14H70.65V59.26H60.35ZM165.73 55.14H169.83V59.26H165.73ZM342.41 55.14H346.51V59.26H342.41ZM367.2 55.14H371.3V59.26H367.2ZM60.35 58.26H67.55V62.37H60.35ZM367.2 58.26H371.3V62.37H367.2ZM305.21 61.37H309.31V65.49H305.21ZM342.41 61.37H346.51V65.49H342.41ZM367.2 61.37H371.3V65.49H367.2ZM165.73 64.49H172.93V68.61H165.73ZM342.41 64.49H346.51V68.61H342.41ZM168.83 67.61H176.03V71.72H168.83ZM302.11 67.61H306.21V71.72H302.11ZM354.81 67.61H358.91V71.72H354.81ZM171.93 70.72H176.03V74.84H171.93ZM302.11 70.72H306.21V74.84H302.11ZM181.23 73.84H185.33V77.96H181.23ZM187.43 73.84H191.53V77.96H187.43ZM302.11 73.84H306.21V77.96H302.11ZM187.43 76.96H194.63V81.08H187.43ZM240.12 76.96H250.42V81.08H240.12ZM302.11 76.96H306.21V81.08H302.11ZM230.82 80.08H234.92V84.19H230.82ZM249.42 80.08H253.52V84.19H249.42ZM302.11 80.08H306.21V84.19H302.11ZM196.73 83.19H207.03V87.31H196.73ZM224.63 83.19H228.72V87.31H224.63ZM252.52 83.19H256.62V87.31H252.52ZM302.11 83.19H306.21V87.31H302.11ZM323.81 83.19H327.91V87.31H323.81ZM209.13 86.31H213.23V90.43H209.13ZM218.43 86.31H222.53V90.43H218.43ZM258.72 86.31H262.82V90.43H258.72ZM302.11 86.31H309.31V90.43H302.11ZM320.71 86.31H324.81V90.43H320.71ZM261.82 89.43H265.92V93.55H261.82ZM212.23 92.55H216.33V96.66H212.23ZM308.31 92.55H318.61V96.66H308.31ZM268.02 95.66H272.12V99.78H268.02ZM305.21 95.66H312.41V99.78H305.21ZM314.51 95.66H321.71V99.78H314.51ZM274.22 98.78H284.52V102.9H274.22ZM286.62 98.78H296.91V102.9H286.62ZM299.01 98.78H309.31V102.9H299.01ZM317.61 98.78H321.71V102.9H317.61ZM320.71 105.01H324.81V109.13H320.71ZM330.01 111.25H334.11V115.37H330.01ZM333.11 114.37H337.21V118.48H333.11ZM339.31 117.48H343.41V121.6H339.31ZM345.51 120.6H352.71V124.72H345.51ZM348.61 123.72H358.91V127.83H348.61ZM395.1 123.72H399.2V127.83H395.1ZM354.81 126.83H365.1V130.95H354.81ZM392 126.83H399.2V130.95H392ZM354.81 129.95H368.2V134.07H354.81ZM382.7 129.95H399.2V134.07H382.7ZM367.2 133.07H383.7V137.19H367.2ZM370.3 136.19H374.4V140.3H370.3ZM376.5 136.19H380.6V140.3H376.5Z"/>
<path fill="#2208a0" d="M206.03 17.73H213.23V21.85H206.03ZM230.82 17.73H234.92V21.85H230.82ZM255.62 17.73H259.72V21.85H255.62ZM264.92 17.73H269.02V21.85H264.92ZM305.21 17.73H309.31V21.85H305.21ZM348.61 17.73H352.71V21.85H348.61ZM78.95 20.85H86.15V24.97H78.95ZM206.03 20.85H210.13V24.97H206.03ZM212.23 20.85H216.33V24.97H212.23ZM218.43 20.85H225.63V24.97H218.43ZM227.72 20.85H231.82V24.97H227.72ZM252.52 20.85H265.92V24.97H252.52ZM305.21 20.85H312.41V24.97H305.21ZM348.61 20.85H355.81V24.97H348.61ZM78.95 23.97H83.05V28.08H78.95ZM209.13 23.97H213.23V28.08H209.13ZM215.33 23.97H219.43V28.08H215.33ZM227.72 23.97H234.92V28.08H227.72ZM252.52 23.97H256.62V28.08H252.52ZM261.82 23.97H265.92V28.08H261.82ZM305.21 23.97H312.41V28.08H305.21ZM348.61 23.97H352.71V28.08H348.61ZM78.95 27.08H83.05V31.2H78.95ZM184.33 27.08H188.43V31.2H184.33ZM190.53 27.08H194.63V31.2H190.53ZM202.93 27.08H207.03V31.2H202.93ZM258.72 27.08H275.22V31.2H258.72ZM302.11 27.08H312.41V31.2H302.11ZM342.41 27.08H349.61V31.2H342.41ZM175.03 30.2H182.23V34.32H175.03ZM190.53 30.2H194.63V34.32H190.53ZM199.83 30.2H203.93V34.32H199.83ZM274.22 30.2H284.52V34.32H274.22ZM299.01 30.2H315.51V34.32H299.01ZM317.61 30.2H321.71V34.32H317.61ZM345.51 30.2H349.61V34.32H345.51ZM78.95 33.32H83.05V37.44H78.95ZM171.93 33.32H176.03V37.44H171.93ZM193.63 33.32H197.73V37.44H193.63ZM283.52 33.32H287.62V37.44H283.52ZM305.21 33.32H321.71V37.44H305.21ZM326.91 33.32H340.31V37.44H326.91ZM75.85 36.44H79.95V40.55H75.85ZM168.83 36.44H172.93V40.55H168.83ZM292.82 36.44H300.01V40.55H292.82ZM320.71 36.44H324.81V40.55H320.71ZM165.73 42.67H169.83V46.79H165.73ZM69.65 48.9H76.85V53.02H69.65ZM69.65 52.02H76.85V56.14H69.65ZM162.63 52.02H166.73V56.14H162.63ZM345.51 52.02H362.01V56.14H345.51ZM69.65 55.14H73.75V59.26H69.65ZM57.25 58.26H61.35V62.37H57.25ZM165.73 58.26H169.83V62.37H165.73ZM342.41 58.26H346.51V62.37H342.41ZM364.1 58.26H368.2V62.37H364.1ZM63.45 61.37H70.65V65.49H63.45ZM165.73 61.37H169.83V65.49H165.73ZM345.51 61.37H349.61V65.49H345.51ZM57.25 64.49H61.35V68.61H57.25ZM63.45 64.49H67.55V68.61H63.45ZM162.63 64.49H166.73V68.61H162.63ZM320.71 64.49H324.81V68.61H320.71ZM345.51 64.49H349.61V68.61H345.51ZM165.73 67.61H169.83V71.72H165.73ZM323.81 67.61H327.91V71.72H323.81ZM165.73 70.72H169.83V74.84H165.73ZM175.03 70.72H179.13V74.84H175.03ZM323.81 70.72H327.91V74.84H323.81ZM168.83 73.84H179.13V77.96H168.83ZM184.33 73.84H188.43V77.96H184.33ZM323.81 73.84H327.91V77.96H323.81ZM175.03 76.96H182.23V81.08H175.03ZM184.33 76.96H188.43V81.08H184.33ZM187.43 80.08H197.73V84.19H187.43ZM233.92 80.08H238.02V84.19H233.92ZM323.81 80.08H327.91V84.19H323.81ZM193.63 83.19H197.73V87.31H193.63ZM227.72 83.19H231.82V87.31H227.72ZM202.93 86.31H210.13V90.43H202.93ZM252.52 86.31H259.72V90.43H252.52ZM209.13 89.43H213.23V93.55H209.13ZM218.43 89.43H222.53V93.55H218.43ZM258.72 89.43H262.82V93.55H258.72ZM311.41 89.43H315.51V93.55H311.41ZM317.61 89.43H321.71V93.55H317.61ZM209.13 92.55H213.23V96.66H209.13ZM215.33 92.55H219.43V96.66H215.33ZM261.82 92.55H265.92V96.66H261.82ZM264.92 95.66H269.02V99.78H264.92ZM311.41 95.66H315.51V99.78H311.41ZM271.12 98.78H275.22V102.9H271.12ZM283.52 98.78H287.62V102.9H283.52ZM308.31 98.78H318.61V102.9H308.31ZM274.22 101.9H281.42V106.01H274.22ZM299.01 101.9H303.11V106.01H299.01ZM308.31 101.9H312.41V106.01H308.31ZM314.51 101.9H321.71V106.01H314.51ZM317.61 105.01H321.71V109.13H317.61ZM323.81 108.13H327.91V112.25H323.81ZM326.91 111.25H331.01V115.37H326.91ZM339.31 120.6H346.51V124.72H339.31ZM345.51 123.72H349.61V127.83H345.51ZM351.71 126.83H355.81V130.95H351.71ZM354.81 133.07H368.2V137.19H354.81ZM382.7 133.07H399.2V137.19H382.7ZM364.1 136.19H371.3V140.3H364.1ZM373.4 136.19H377.5V140.3H373.4ZM379.6 136.19H383.7V140.3H379.6ZM388.9 136.19H393V140.3H388.9ZM367.2 139.3H371.3V143.42H367.2ZM373.4 139.3H386.8V143.42H373.4ZM370.3 142.42H380.6V146.54H370.3ZM373.4 145.54H377.5V149.65H373.4ZM376.5 148.65H380.6V152.77H376.5Z"/>
<path fill="#1f0baa" d="M82.05 17.73H86.15V21.85H82.05ZM190.53 17.73H194.63V21.85H190.53ZM196.73 17.73H207.03V21.85H196.73ZM212.23 17.73H228.72V21.85H212.23ZM252.52 17.73H256.62V21.85H252.52ZM258.72 17.73H265.92V21.85H258.72ZM268.02 17.73H272.12V21.85H268.02ZM274.22 17.73H278.32V21.85H274.22ZM299.01 17.73H306.21V21.85H299.01ZM308.31 17.73H318.61V21.85H308.31ZM342.41 17.73H349.61V21.85H342.41ZM199.83 20.85H207.03V24.97H199.83ZM209.13 20.85H213.23V24.97H209.13ZM215.33 20.85H219.43V24.97H215.33ZM264.92 20.85H272.12V24.97H264.92ZM302.11 20.85H306.21V24.97H302.11ZM311.41 20.85H315.51V24.97H311.41ZM345.51 20.85H349.61V24.97H345.51ZM82.05 23.97H86.15V28.08H82.05ZM199.83 23.97H210.13V28.08H199.83ZM212.23 23.97H216.33V28.08H212.23ZM218.43 23.97H228.72V28.08H218.43ZM255.62 23.97H259.72V28.08H255.62ZM264.92 23.97H272.12V28.08H264.92ZM277.32 23.97H281.42V28.08H277.32ZM302.11 23.97H306.21V28.08H302.11ZM311.41 23.97H315.51V28.08H311.41ZM342.41 23.97H349.61V28.08H342.41ZM178.13 27.08H185.33V31.2H178.13ZM187.43 27.08H191.53V31.2H187.43ZM196.73 27.08H203.93V31.2H196.73ZM274.22 27.08H281.42V31.2H274.22ZM283.52 27.08H287.62V31.2H283.52ZM299.01 27.08H303.11V31.2H299.01ZM311.41 27.08H315.51V31.2H311.41ZM339.31 27.08H343.41V31.2H339.31ZM78.95 30.2H83.05V34.32H78.95ZM171.93 30.2H176.03V34.32H171.93ZM193.63 30.2H197.73V34.32H193.63ZM283.52 30.2H290.72V34.32H283.52ZM295.91 30.2H300.01V34.32H295.91ZM314.51 30.2H318.61V34.32H314.51ZM320.71 30.2H327.91V34.32H320.71ZM330.01 30.2H346.51V34.32H330.01ZM147.14 33.32H151.24V37.44H147.14ZM168.83 33.32H172.93V37.44H168.83ZM286.62 33.32H296.91V37.44H286.62ZM299.01 33.32H306.21V37.44H299.01ZM320.71 33.32H327.91V37.44H320.71ZM339.31 33.32H343.41V37.44H339.31ZM147.14 36.44H151.24V40.55H147.14ZM75.85 39.55H79.95V43.67H75.85ZM159.54 39.55H163.63V43.67H159.54ZM165.73 39.55H169.83V43.67H165.73ZM162.63 42.67H166.73V46.79H162.63ZM162.63 45.79H166.73V49.9H162.63ZM162.63 48.9H166.73V53.02H162.63ZM72.75 55.14H76.85V59.26H72.75ZM162.63 55.14H166.73V59.26H162.63ZM345.51 55.14H352.71V59.26H345.51ZM354.81 55.14H368.2V59.26H354.81ZM66.55 58.26H73.75V62.37H66.55ZM162.63 58.26H166.73V62.37H162.63ZM345.51 58.26H352.71V62.37H345.51ZM354.81 58.26H365.1V62.37H354.81ZM57.25 61.37H64.45V65.49H57.25ZM162.63 61.37H166.73V65.49H162.63ZM308.31 61.37H312.41V65.49H308.31ZM314.51 61.37H321.71V65.49H314.51ZM348.61 61.37H352.71V65.49H348.61ZM361.01 61.37H368.2V65.49H361.01ZM60.35 64.49H64.45V68.61H60.35ZM66.55 64.49H70.65V68.61H66.55ZM305.21 64.49H309.31V68.61H305.21ZM354.81 64.49H368.2V68.61H354.81ZM57.25 67.61H70.65V71.72H57.25ZM162.63 67.61H166.73V71.72H162.63ZM57.25 70.72H61.35V74.84H57.25ZM168.83 70.72H172.93V74.84H168.83ZM57.25 73.84H64.45V77.96H57.25ZM165.73 73.84H169.83V77.96H165.73ZM178.13 73.84H182.23V77.96H178.13ZM171.93 76.96H176.03V81.08H171.93ZM181.23 76.96H185.33V81.08H181.23ZM323.81 76.96H327.91V81.08H323.81ZM178.13 80.08H188.43V84.19H178.13ZM237.02 80.08H241.12V84.19H237.02ZM246.32 80.08H250.42V84.19H246.32ZM305.21 80.08H309.31V84.19H305.21ZM181.23 83.19H194.63V87.31H181.23ZM249.42 83.19H253.52V87.31H249.42ZM305.21 83.19H309.31V87.31H305.21ZM320.71 83.19H324.81V87.31H320.71ZM190.53 86.31H203.93V90.43H190.53ZM221.53 86.31H228.72V90.43H221.53ZM308.31 86.31H312.41V90.43H308.31ZM317.61 86.31H321.71V90.43H317.61ZM202.93 89.43H210.13V93.55H202.93ZM308.31 89.43H312.41V93.55H308.31ZM314.51 89.43H318.61V93.55H314.51ZM218.43 92.55H222.53V96.66H218.43ZM258.72 92.55H262.82V96.66H258.72ZM212.23 95.66H216.33V99.78H212.23ZM261.82 95.66H265.92V99.78H261.82ZM268.02 98.78H272.12V102.9H268.02ZM271.12 101.9H275.22V106.01H271.12ZM280.42 101.9H284.52V106.01H280.42ZM289.72 101.9H300.01V106.01H289.72ZM302.11 101.9H309.31V106.01H302.11ZM311.41 101.9H315.51V106.01H311.41ZM274.22 105.01H281.42V109.13H274.22ZM308.31 105.01H318.61V109.13H308.31ZM320.71 108.13H324.81V112.25H320.71ZM323.81 111.25H327.91V115.37H323.81ZM330.01 114.37H334.11V118.48H330.01ZM333.11 117.48H340.31V121.6H333.11ZM336.21 120.6H340.31V124.72H336.21ZM345.51 126.83H349.61V130.95H345.51ZM351.71 129.95H355.81V134.07H351.71ZM351.71 133.07H355.81V137.19H351.71ZM354.81 136.19H365.1V140.3H354.81ZM382.7 136.19H389.9V140.3H382.7ZM392 136.19H399.2V140.3H392ZM357.91 139.3H362.01V143.42H357.91ZM364.1 139.3H368.2V143.42H364.1ZM370.3 139.3H374.4V143.42H370.3ZM385.8 139.3H396.1V143.42H385.8ZM364.1 142.42H371.3V146.54H364.1ZM379.6 142.42H389.9V146.54H379.6ZM376.5 145.54H386.8V149.65H376.5ZM370.3 148.65H377.5V152.77H370.3ZM385.8 148.65H389.9V152.77H385.8ZM373.4 151.77H380.6V155.89H373.4ZM376.5 154.89H380.6V159.01H376.5ZM385.8 182.94H389.9V187.06H385.8Z"/>
<path fill="#1c0eb3" d="M85.15 17.73H92.35V21.85H85.15ZM181.23 17.73H191.53V21.85H181.23ZM193.63 17.73H197.73V21.85H193.63ZM271.12 17.73H275.22V21.85H271.12ZM277.32 17.73H284.52V21.85H277.32ZM317.61 17.73H321.71V21.85H317.61ZM330.01 17.73H334.11V21.85H330.01ZM336.21 17.73H343.41V21.85H336.21ZM85.15 20.85H92.35V24.97H85.15ZM181.23 20.85H185.33V24.97H181.23ZM187.43 20.85H200.83V24.97H187.43ZM224.63 20.85H228.72V24.97H224.63ZM271.12 20.85H293.82V24.97H271.12ZM299.01 20.85H303.11V24.97H299.01ZM314.51 20.85H324.81V24.97H314.51ZM336.21 20.85H346.51V24.97H336.21ZM85.15 23.97H89.25V28.08H85.15ZM181.23 23.97H185.33V28.08H181.23ZM187.43 23.97H191.53V28.08H187.43ZM193.63 23.97H200.83V28.08H193.63ZM258.72 23.97H262.82V28.08H258.72ZM271.12 23.97H278.32V28.08H271.12ZM280.42 23.97H293.82V28.08H280.42ZM295.91 23.97H303.11V28.08H295.91ZM314.51 23.97H324.81V28.08H314.51ZM339.31 23.97H343.41V28.08H339.31ZM82.05 27.08H86.15V31.2H82.05ZM171.93 27.08H179.13V31.2H171.93ZM193.63 27.08H197.73V31.2H193.63ZM280.42 27.08H284.52V31.2H280.42ZM286.62 27.08H290.72V31.2H286.62ZM295.91 27.08H300.01V31.2H295.91ZM314.51 27.08H340.31V31.2H314.51ZM82.05 30.2H86.15V34.32H82.05ZM144.04 30.2H148.14V34.32H144.04ZM289.72 30.2H296.91V34.32H289.72ZM326.91 30.2H331.01V34.32H326.91ZM140.94 33.32H148.14V37.44H140.94ZM150.24 33.32H154.34V37.44H150.24ZM159.54 33.32H163.63V37.44H159.54ZM165.73 33.32H169.83V37.44H165.73ZM295.91 33.32H300.01V37.44H295.91ZM144.04 36.44H148.14V40.55H144.04ZM156.44 36.44H169.83V40.55H156.44ZM144.04 39.55H148.14V43.67H144.04ZM162.63 39.55H166.73V43.67H162.63ZM75.85 42.67H79.95V46.79H75.85ZM156.44 42.67H163.63V46.79H156.44ZM159.54 45.79H163.63V49.9H159.54ZM159.54 48.9H163.63V53.02H159.54ZM351.71 55.14H355.81V59.26H351.71ZM72.75 58.26H76.85V62.37H72.75ZM351.71 58.26H355.81V62.37H351.71ZM69.65 61.37H73.75V65.49H69.65ZM311.41 61.37H315.51V65.49H311.41ZM351.71 61.37H362.01V65.49H351.71ZM348.61 64.49H355.81V68.61H348.61ZM305.21 67.61H309.31V71.72H305.21ZM320.71 67.61H324.81V71.72H320.71ZM60.35 70.72H73.75V74.84H60.35ZM162.63 70.72H166.73V74.84H162.63ZM63.45 73.84H67.55V77.96H63.45ZM57.25 76.96H61.35V81.08H57.25ZM63.45 76.96H67.55V81.08H63.45ZM165.73 76.96H172.93V81.08H165.73ZM57.25 80.08H61.35V84.19H57.25ZM171.93 80.08H179.13V84.19H171.93ZM240.12 80.08H247.32V84.19H240.12ZM320.71 80.08H324.81V84.19H320.71ZM178.13 83.19H182.23V87.31H178.13ZM230.82 83.19H234.92V87.31H230.82ZM181.23 86.31H191.53V90.43H181.23ZM227.72 86.31H231.82V90.43H227.72ZM311.41 86.31H318.61V90.43H311.41ZM196.73 89.43H203.93V93.55H196.73ZM221.53 89.43H228.72V93.55H221.53ZM255.62 89.43H259.72V93.55H255.62ZM199.83 92.55H203.93V96.66H199.83ZM206.03 92.55H210.13V96.66H206.03ZM264.92 98.78H269.02V102.9H264.92ZM283.52 101.9H290.72V106.01H283.52ZM271.12 105.01H275.22V109.13H271.12ZM280.42 105.01H284.52V109.13H280.42ZM292.82 105.01H296.91V109.13H292.82ZM299.01 105.01H303.11V109.13H299.01ZM305.21 105.01H309.31V109.13H305.21ZM317.61 108.13H321.71V112.25H317.61ZM320.71 111.25H324.81V115.37H320.71ZM326.91 114.37H331.01V118.48H326.91ZM336.21 123.72H346.51V127.83H336.21ZM342.41 126.83H346.51V130.95H342.41ZM348.61 126.83H352.71V130.95H348.61ZM348.61 129.95H352.71V134.07H348.61ZM351.71 136.19H355.81V140.3H351.71ZM354.81 139.3H358.91V143.42H354.81ZM361.01 139.3H365.1V143.42H361.01ZM357.91 142.42H365.1V146.54H357.91ZM388.9 142.42H393V146.54H388.9ZM364.1 145.54H374.4V149.65H364.1ZM385.8 145.54H393V149.65H385.8ZM367.2 148.65H371.3V152.77H367.2ZM379.6 148.65H386.8V152.77H379.6ZM364.1 151.77H368.2V155.89H364.1ZM379.6 151.77H386.8V155.89H379.6ZM370.3 154.89H377.5V159.01H370.3ZM382.7 182.94H386.8V187.06H382.7ZM388.9 182.94H399.2V187.06H388.9ZM382.7 186.06H386.8V190.18H382.7ZM388.9 186.06H393V190.18H388.9ZM388.9 189.18H393V193.3H388.9ZM178.13 217.23H182.23V221.35H178.13Z"/>
<path fill="#1812bd" d="M178.13 17.73H182.23V21.85H178.13ZM283.52 17.73H300.01V21.85H283.52ZM320.71 17.73H331.01V21.85H320.71ZM333.11 17.73H337.21V21.85H333.11ZM178.13 20.85H182.23V24.97H178.13ZM184.33 20.85H188.43V24.97H184.33ZM292.82 20.85H300.01V24.97H292.82ZM330.01 20.85H337.21V24.97H330.01ZM88.25 23.97H92.35V28.08H88.25ZM178.13 23.97H182.23V28.08H178.13ZM184.33 23.97H188.43V28.08H184.33ZM190.53 23.97H194.63V28.08H190.53ZM292.82 23.97H296.91V28.08H292.82ZM323.81 23.97H334.11V28.08H323.81ZM336.21 23.97H340.31V28.08H336.21ZM85.15 27.08H89.25V31.2H85.15ZM137.84 27.08H148.14V31.2H137.84ZM289.72 27.08H296.91V31.2H289.72ZM140.94 30.2H145.04V34.32H140.94ZM147.14 30.2H160.54V34.32H147.14ZM168.83 30.2H172.93V34.32H168.83ZM82.05 33.32H86.15V37.44H82.05ZM137.84 33.32H141.94V37.44H137.84ZM153.34 33.32H160.54V37.44H153.34ZM162.63 33.32H166.73V37.44H162.63ZM78.95 36.44H83.05V40.55H78.95ZM140.94 36.44H145.04V40.55H140.94ZM150.24 36.44H157.44V40.55H150.24ZM140.94 39.55H145.04V43.67H140.94ZM150.24 39.55H160.54V43.67H150.24ZM75.85 45.79H79.95V49.9H75.85ZM156.44 45.79H160.54V49.9H156.44ZM75.85 48.9H79.95V53.02H75.85ZM159.54 52.02H163.63V56.14H159.54ZM159.54 55.14H163.63V59.26H159.54ZM159.54 58.26H163.63V62.37H159.54ZM72.75 61.37H76.85V65.49H72.75ZM159.54 61.37H163.63V65.49H159.54ZM69.65 64.49H73.75V68.61H69.65ZM159.54 64.49H163.63V68.61H159.54ZM317.61 64.49H321.71V68.61H317.61ZM69.65 67.61H76.85V71.72H69.65ZM159.54 67.61H163.63V71.72H159.54ZM320.71 70.72H324.81V74.84H320.71ZM66.55 73.84H76.85V77.96H66.55ZM162.63 73.84H166.73V77.96H162.63ZM305.21 73.84H309.31V77.96H305.21ZM60.35 76.96H64.45V81.08H60.35ZM66.55 76.96H70.65V81.08H66.55ZM305.21 76.96H309.31V81.08H305.21ZM60.35 80.08H67.55V84.19H60.35ZM168.83 80.08H172.93V84.19H168.83ZM57.25 83.19H67.55V87.31H57.25ZM171.93 83.19H179.13V87.31H171.93ZM230.82 86.31H234.92V90.43H230.82ZM249.42 86.31H253.52V90.43H249.42ZM184.33 89.43H197.73V93.55H184.33ZM252.52 89.43H256.62V93.55H252.52ZM202.93 92.55H207.03V96.66H202.93ZM206.03 95.66H213.23V99.78H206.03ZM215.33 95.66H222.53V99.78H215.33ZM258.72 95.66H262.82V99.78H258.72ZM268.02 101.9H272.12V106.01H268.02ZM283.52 105.01H293.82V109.13H283.52ZM295.91 105.01H300.01V109.13H295.91ZM302.11 105.01H306.21V109.13H302.11ZM274.22 108.13H281.42V112.25H274.22ZM311.41 108.13H318.61V112.25H311.41ZM317.61 111.25H321.71V115.37H317.61ZM330.01 117.48H334.11V121.6H330.01ZM333.11 120.6H337.21V124.72H333.11ZM339.31 126.83H343.41V130.95H339.31ZM345.51 129.95H349.61V134.07H345.51ZM348.61 133.07H352.71V137.19H348.61ZM348.61 136.19H352.71V140.3H348.61ZM351.71 139.3H355.81V143.42H351.71ZM395.1 139.3H399.2V143.42H395.1ZM354.81 142.42H358.91V146.54H354.81ZM392 142.42H399.2V146.54H392ZM354.81 145.54H365.1V149.65H354.81ZM392 145.54H399.2V149.65H392ZM354.81 148.65H368.2V152.77H354.81ZM388.9 148.65H399.2V152.77H388.9ZM357.91 151.77H365.1V155.89H357.91ZM367.2 151.77H374.4V155.89H367.2ZM388.9 151.77H393V155.89H388.9ZM357.91 154.89H362.01V159.01H357.91ZM364.1 154.89H371.3V159.01H364.1ZM379.6 154.89H386.8V159.01H379.6ZM367.2 158.01H383.7V162.12H367.2ZM370.3 161.12H377.5V165.24H370.3ZM382.7 179.83H396.1V183.94H382.7ZM385.8 186.06H389.9V190.18H385.8ZM392 186.06H399.2V190.18H392ZM382.7 189.18H389.9V193.3H382.7ZM392 189.18H396.1V193.3H392ZM181.23 211H185.33V215.12H181.23ZM175.03 214.12H188.43V218.23H175.03ZM175.03 217.23H179.13V221.35H175.03ZM181.23 217.23H188.43V221.35H181.23ZM175.03 220.35H188.43V224.47H175.03Z"/>
<path fill="#1515c6" d="M91.35 17.73H95.44V21.85H91.35ZM131.64 17.73H138.84V21.85H131.64ZM140.94 17.73H148.14V21.85H140.94ZM171.93 17.73H179.13V21.85H171.93ZM91.35 20.85H98.54V24.97H91.35ZM128.54 20.85H132.64V24.97H128.54ZM134.74 20.85H141.94V24.97H134.74ZM144.04 20.85H151.24V24.97H144.04ZM171.93 20.85H179.13V24.97H171.93ZM323.81 20.85H331.01V24.97H323.81ZM91.35 23.97H95.44V28.08H91.35ZM171.93 23.97H179.13V28.08H171.93ZM333.11 23.97H337.21V28.08H333.11ZM88.25 27.08H92.35V31.2H88.25ZM147.14 27.08H154.34V31.2H147.14ZM168.83 27.08H172.93V31.2H168.83ZM125.44 30.2H129.54V34.32H125.44ZM131.64 30.2H141.94V34.32H131.64ZM159.54 30.2H169.83V34.32H159.54ZM134.74 33.32H138.84V37.44H134.74ZM134.74 36.44H141.94V40.55H134.74ZM137.84 39.55H141.94V43.67H137.84ZM147.14 39.55H151.24V43.67H147.14ZM137.84 42.67H157.44V46.79H137.84ZM156.44 48.9H160.54V53.02H156.44ZM75.85 52.02H79.95V56.14H75.85ZM156.44 58.26H160.54V62.37H156.44ZM72.75 64.49H76.85V68.61H72.75ZM308.31 64.49H312.41V68.61H308.31ZM72.75 70.72H76.85V74.84H72.75ZM159.54 70.72H163.63V74.84H159.54ZM305.21 70.72H309.31V74.84H305.21ZM159.54 73.84H163.63V77.96H159.54ZM320.71 73.84H324.81V77.96H320.71ZM69.65 76.96H76.85V81.08H69.65ZM162.63 76.96H166.73V81.08H162.63ZM320.71 76.96H324.81V81.08H320.71ZM66.55 80.08H73.75V84.19H66.55ZM165.73 80.08H169.83V84.19H165.73ZM66.55 83.19H70.65V87.31H66.55ZM233.92 83.19H241.12V87.31H233.92ZM246.32 83.19H250.42V87.31H246.32ZM308.31 83.19H312.41V87.31H308.31ZM317.61 83.19H321.71V87.31H317.61ZM178.13 86.31H182.23V90.43H178.13ZM181.23 89.43H185.33V93.55H181.23ZM227.72 89.43H231.82V93.55H227.72ZM184.33 92.55H191.53V96.66H184.33ZM196.73 92.55H200.83V96.66H196.73ZM221.53 92.55H225.63V96.66H221.53ZM252.52 92.55H259.72V96.66H252.52ZM202.93 95.66H207.03V99.78H202.93ZM261.82 98.78H265.92V102.9H261.82ZM271.12 108.13H275.22V112.25H271.12ZM308.31 108.13H312.41V112.25H308.31ZM314.51 111.25H318.61V115.37H314.51ZM336.21 126.83H340.31V130.95H336.21ZM342.41 129.95H346.51V134.07H342.41ZM345.51 133.07H349.61V137.19H345.51ZM354.81 151.77H358.91V155.89H354.81ZM385.8 151.77H389.9V155.89H385.8ZM392 151.77H399.2V155.89H392ZM361.01 154.89H365.1V159.01H361.01ZM385.8 154.89H389.9V159.01H385.8ZM392 154.89H399.2V159.01H392ZM357.91 158.01H368.2V162.12H357.91ZM382.7 158.01H396.1V162.12H382.7ZM367.2 161.12H371.3V165.24H367.2ZM376.5 161.12H386.8V165.24H376.5ZM392 161.12H399.2V165.24H392ZM367.2 164.24H374.4V168.36H367.2ZM379.6 173.59H383.7V177.71H379.6ZM385.8 176.71H393V180.83H385.8ZM379.6 179.83H383.7V183.94H379.6ZM395.1 179.83H399.2V183.94H395.1ZM379.6 182.94H383.7V187.06H379.6ZM379.6 186.06H383.7V190.18H379.6ZM379.6 189.18H383.7V193.3H379.6ZM395.1 189.18H399.2V193.3H395.1ZM392 192.3H396.1V196.41H392ZM175.03 211H182.23V215.12H175.03ZM171.93 214.12H176.03V218.23H171.93ZM171.93 220.35H176.03V224.47H171.93Z"/>
<path fill="#1218d0" d="M94.44 17.73H98.54V21.85H94.44ZM119.24 17.73H132.64V21.85H119.24ZM137.84 17.73H141.94V21.85H137.84ZM147.14 17.73H151.24V21.85H147.14ZM165.73 17.73H172.93V21.85H165.73ZM97.54 20.85H101.64V24.97H97.54ZM125.44 20.85H129.54V24.97H125.44ZM131.64 20.85H135.74V24.97H131.64ZM140.94 20.85H145.04V24.97H140.94ZM150.24 20.85H154.34V24.97H150.24ZM94.44 23.97H98.54V28.08H94.44ZM125.44 23.97H151.24V28.08H125.44ZM153.34 23.97H157.44V28.08H153.34ZM168.83 23.97H172.93V28.08H168.83ZM91.35 27.08H95.44V31.2H91.35ZM122.34 27.08H138.84V31.2H122.34ZM153.34 27.08H163.63V31.2H153.34ZM165.73 27.08H169.83V31.2H165.73ZM85.15 30.2H89.25V34.32H85.15ZM128.54 30.2H132.64V34.32H128.54ZM125.44 33.32H135.74V37.44H125.44ZM82.05 36.44H86.15V40.55H82.05ZM122.34 36.44H135.74V40.55H122.34ZM78.95 39.55H83.05V43.67H78.95ZM128.54 39.55H138.84V43.67H128.54ZM134.74 42.67H138.84V46.79H134.74ZM131.64 45.79H141.94V49.9H131.64ZM150.24 45.79H157.44V49.9H150.24ZM131.64 48.9H138.84V53.02H131.64ZM131.64 52.02H138.84V56.14H131.64ZM156.44 52.02H160.54V56.14H156.44ZM75.85 55.14H79.95V59.26H75.85ZM156.44 55.14H160.54V59.26H156.44ZM156.44 61.37H160.54V65.49H156.44ZM162.63 80.08H166.73V84.19H162.63ZM69.65 83.19H73.75V87.31H69.65ZM168.83 83.19H172.93V87.31H168.83ZM240.12 83.19H244.22V87.31H240.12ZM57.25 86.31H61.35V90.43H57.25ZM233.92 86.31H238.02V90.43H233.92ZM246.32 86.31H250.42V90.43H246.32ZM190.53 92.55H197.73V96.66H190.53ZM224.63 92.55H228.72V96.66H224.63ZM184.33 95.66H191.53V99.78H184.33ZM199.83 95.66H203.93V99.78H199.83ZM202.93 98.78H213.23V102.9H202.93ZM264.92 101.9H269.02V106.01H264.92ZM268.02 105.01H272.12V109.13H268.02ZM280.42 108.13H287.62V112.25H280.42ZM292.82 108.13H300.01V112.25H292.82ZM302.11 108.13H309.31V112.25H302.11ZM311.41 111.25H315.51V115.37H311.41ZM323.81 114.37H327.91V118.48H323.81ZM339.31 129.95H343.41V134.07H339.31ZM351.71 142.42H355.81V146.54H351.71ZM351.71 145.54H355.81V149.65H351.71ZM354.81 154.89H358.91V159.01H354.81ZM388.9 154.89H393V159.01H388.9ZM354.81 158.01H358.91V162.12H354.81ZM395.1 158.01H399.2V162.12H395.1ZM357.91 161.12H368.2V165.24H357.91ZM385.8 161.12H393V165.24H385.8ZM361.01 164.24H368.2V168.36H361.01ZM373.4 164.24H389.9V168.36H373.4ZM361.01 167.36H380.6V171.47H361.01ZM382.7 167.36H393V171.47H382.7ZM395.1 167.36H399.2V171.47H395.1ZM361.01 170.47H371.3V174.59H361.01ZM376.5 170.47H386.8V174.59H376.5ZM388.9 170.47H393V174.59H388.9ZM395.1 170.47H399.2V174.59H395.1ZM361.01 173.59H371.3V177.71H361.01ZM388.9 173.59H399.2V177.71H388.9ZM379.6 176.71H383.7V180.83H379.6ZM392 176.71H399.2V180.83H392ZM376.5 179.83H380.6V183.94H376.5ZM370.3 182.94H380.6V187.06H370.3ZM376.5 186.06H380.6V190.18H376.5ZM379.6 192.3H393V196.41H379.6ZM395.1 192.3H399.2V196.41H395.1ZM181.23 207.88H188.43V212H181.23ZM184.33 211H188.43V215.12H184.33ZM274.22 214.12H278.32V218.23H274.22ZM171.93 217.23H176.03V221.35H171.93ZM271.12 217.23H278.32V221.35H271.12ZM271.12 220.35H278.32V224.47H271.12Z"/>
<path fill="#152ad6" d="M97.54 17.73H104.74V21.85H97.54ZM109.94 17.73H114.04V21.85H109.94ZM116.14 17.73H120.24V21.85H116.14ZM150.24 17.73H154.34V21.85H150.24ZM156.44 17.73H163.63V21.85H156.44ZM100.64 20.85H104.74V24.97H100.64ZM116.14 20.85H126.44V24.97H116.14ZM153.34 20.85H160.54V24.97H153.34ZM168.83 20.85H172.93V24.97H168.83ZM97.54 23.97H101.64V28.08H97.54ZM116.14 23.97H126.44V28.08H116.14ZM150.24 23.97H154.34V28.08H150.24ZM156.44 23.97H160.54V28.08H156.44ZM165.73 23.97H169.83V28.08H165.73ZM119.24 27.08H123.34V31.2H119.24ZM162.63 27.08H166.73V31.2H162.63ZM88.25 30.2H92.35V34.32H88.25ZM122.34 30.2H126.44V34.32H122.34ZM85.15 33.32H89.25V37.44H85.15ZM122.34 33.32H126.44V37.44H122.34ZM125.44 39.55H129.54V43.67H125.44ZM125.44 42.67H135.74V46.79H125.44ZM125.44 45.79H132.64V49.9H125.44ZM140.94 45.79H151.24V49.9H140.94ZM125.44 48.9H132.64V53.02H125.44ZM137.84 48.9H141.94V53.02H137.84ZM150.24 48.9H157.44V53.02H150.24ZM125.44 52.02H129.54V56.14H125.44ZM134.74 55.14H138.84V59.26H134.74ZM75.85 58.26H79.95V62.37H75.85ZM134.74 58.26H138.84V62.37H134.74ZM156.44 64.49H160.54V68.61H156.44ZM311.41 64.49H318.61V68.61H311.41ZM156.44 67.61H160.54V71.72H156.44ZM156.44 70.72H160.54V74.84H156.44ZM156.44 73.84H160.54V77.96H156.44ZM159.54 76.96H163.63V81.08H159.54ZM72.75 80.08H76.85V84.19H72.75ZM165.73 83.19H169.83V87.31H165.73ZM243.22 83.19H247.32V87.31H243.22ZM60.35 86.31H73.75V90.43H60.35ZM175.03 86.31H179.13V90.43H175.03ZM237.02 86.31H241.12V90.43H237.02ZM178.13 89.43H182.23V93.55H178.13ZM230.82 89.43H234.92V93.55H230.82ZM249.42 89.43H253.52V93.55H249.42ZM181.23 92.55H185.33V96.66H181.23ZM227.72 92.55H231.82V96.66H227.72ZM190.53 95.66H200.83V99.78H190.53ZM255.62 95.66H259.72V99.78H255.62ZM184.33 98.78H188.43V102.9H184.33ZM199.83 98.78H203.93V102.9H199.83ZM212.23 98.78H219.43V102.9H212.23ZM202.93 101.9H207.03V106.01H202.93ZM286.62 108.13H293.82V112.25H286.62ZM299.01 108.13H303.11V112.25H299.01ZM308.31 111.25H312.41V115.37H308.31ZM339.31 133.07H346.51V137.19H339.31ZM348.61 139.3H352.71V143.42H348.61ZM354.81 164.24H362.01V168.36H354.81ZM388.9 164.24H399.2V168.36H388.9ZM357.91 167.36H362.01V171.47H357.91ZM379.6 167.36H383.7V171.47H379.6ZM392 167.36H396.1V171.47H392ZM354.81 170.47H362.01V174.59H354.81ZM370.3 170.47H377.5V174.59H370.3ZM385.8 170.47H389.9V174.59H385.8ZM392 170.47H396.1V174.59H392ZM354.81 173.59H362.01V177.71H354.81ZM376.5 173.59H380.6V177.71H376.5ZM382.7 173.59H389.9V177.71H382.7ZM357.91 176.71H371.3V180.83H357.91ZM373.4 176.71H380.6V180.83H373.4ZM382.7 176.71H386.8V180.83H382.7ZM361.01 179.83H377.5V183.94H361.01ZM364.1 182.94H368.2V187.06H364.1ZM370.3 186.06H377.5V190.18H370.3ZM367.2 189.18H371.3V193.3H367.2ZM373.4 189.18H380.6V193.3H373.4ZM373.4 192.3H380.6V196.41H373.4ZM382.7 195.41H399.2V199.53H382.7ZM178.13 204.76H188.43V208.88H178.13ZM175.03 207.88H182.23V212H175.03ZM171.93 211H176.03V215.12H171.93ZM168.83 214.12H172.93V218.23H168.83ZM187.43 214.12H191.53V218.23H187.43ZM271.12 214.12H275.22V218.23H271.12ZM60.35 217.23H64.45V221.35H60.35Z"/>
<path fill="#183bdd" d="M103.74 17.73H110.94V21.85H103.74ZM113.04 17.73H117.14V21.85H113.04ZM153.34 17.73H157.44V21.85H153.34ZM162.63 17.73H166.73V21.85H162.63ZM103.74 20.85H117.14V24.97H103.74ZM159.54 20.85H169.83V24.97H159.54ZM103.74 23.97H117.14V28.08H103.74ZM159.54 23.97H166.73V28.08H159.54ZM109.94 27.08H114.04V31.2H109.94ZM116.14 27.08H120.24V31.2H116.14ZM119.24 30.2H123.34V34.32H119.24ZM88.25 33.32H92.35V37.44H88.25ZM119.24 33.32H123.34V37.44H119.24ZM122.34 39.55H126.44V43.67H122.34ZM128.54 52.02H132.64V56.14H128.54ZM153.34 52.02H157.44V56.14H153.34ZM128.54 55.14H135.74V59.26H128.54ZM153.34 55.14H157.44V59.26H153.34ZM131.64 58.26H135.74V62.37H131.64ZM153.34 58.26H157.44V62.37H153.34ZM75.85 61.37H79.95V65.49H75.85ZM134.74 61.37H138.84V65.49H134.74ZM75.85 64.49H79.95V68.61H75.85ZM153.34 64.49H157.44V68.61H153.34ZM308.31 67.61H312.41V71.72H308.31ZM317.61 67.61H321.71V71.72H317.61ZM308.31 80.08H312.41V84.19H308.31ZM317.61 80.08H321.71V84.19H317.61ZM72.75 83.19H76.85V87.31H72.75ZM311.41 83.19H315.51V87.31H311.41ZM171.93 86.31H176.03V90.43H171.93ZM240.12 86.31H247.32V90.43H240.12ZM233.92 89.43H241.12V93.55H233.92ZM246.32 89.43H250.42V93.55H246.32ZM249.42 92.55H253.52V96.66H249.42ZM181.23 95.66H185.33V99.78H181.23ZM221.53 95.66H225.63V99.78H221.53ZM252.52 95.66H256.62V99.78H252.52ZM187.43 98.78H194.63V102.9H187.43ZM196.73 98.78H200.83V102.9H196.73ZM258.72 98.78H262.82V102.9H258.72ZM199.83 101.9H203.93V106.01H199.83ZM206.03 101.9H210.13V106.01H206.03ZM261.82 101.9H265.92V106.01H261.82ZM202.93 105.01H207.03V109.13H202.93ZM268.02 108.13H272.12V112.25H268.02ZM277.32 111.25H284.52V115.37H277.32ZM299.01 111.25H303.11V115.37H299.01ZM305.21 111.25H309.31V115.37H305.21ZM333.11 123.72H337.21V127.83H333.11ZM336.21 129.95H340.31V134.07H336.21ZM345.51 136.19H349.61V140.3H345.51ZM351.71 148.65H355.81V152.77H351.71ZM351.71 154.89H355.81V159.01H351.71ZM351.71 161.12H358.91V165.24H351.71ZM351.71 164.24H355.81V168.36H351.71ZM348.61 167.36H352.71V171.47H348.61ZM354.81 167.36H358.91V171.47H354.81ZM351.71 170.47H355.81V174.59H351.71ZM72.75 173.59H79.95V177.71H72.75ZM348.61 173.59H355.81V177.71H348.61ZM370.3 173.59H377.5V177.71H370.3ZM72.75 176.71H76.85V180.83H72.75ZM354.81 176.71H358.91V180.83H354.81ZM370.3 176.71H374.4V180.83H370.3ZM72.75 179.83H76.85V183.94H72.75ZM354.81 179.83H362.01V183.94H354.81ZM357.91 182.94H365.1V187.06H357.91ZM367.2 182.94H371.3V187.06H367.2ZM364.1 186.06H371.3V190.18H364.1ZM364.1 189.18H368.2V193.3H364.1ZM370.3 189.18H374.4V193.3H370.3ZM364.1 192.3H368.2V196.41H364.1ZM370.3 192.3H374.4V196.41H370.3ZM379.6 195.41H383.7V199.53H379.6ZM181.23 198.53H185.33V202.65H181.23ZM388.9 198.53H393V202.65H388.9ZM178.13 201.65H188.43V205.76H178.13ZM63.45 204.76H67.55V208.88H63.45ZM72.75 204.76H76.85V208.88H72.75ZM175.03 204.76H179.13V208.88H175.03ZM57.25 207.88H70.65V212H57.25ZM63.45 211H70.65V215.12H63.45ZM72.75 211H76.85V215.12H72.75ZM274.22 211H278.32V215.12H274.22ZM57.25 214.12H79.95V218.23H57.25ZM165.73 214.12H169.83V218.23H165.73ZM268.02 214.12H272.12V218.23H268.02ZM57.25 217.23H61.35V221.35H57.25ZM63.45 217.23H67.55V221.35H63.45ZM72.75 217.23H79.95V221.35H72.75ZM168.83 217.23H172.93V221.35H168.83ZM268.02 217.23H272.12V221.35H268.02ZM333.11 217.23H337.21V221.35H333.11ZM57.25 220.35H61.35V224.47H57.25ZM63.45 220.35H67.55V224.47H63.45ZM69.65 220.35H73.75V224.47H69.65ZM168.83 220.35H172.93V224.47H168.83ZM187.43 220.35H191.53V224.47H187.43ZM268.02 220.35H272.12V224.47H268.02ZM333.11 220.35H337.21V224.47H333.11Z"/>
<path fill="#1c4de3" d="M100.64 23.97H104.74V28.08H100.64ZM94.44 27.08H98.54V31.2H94.44ZM103.74 27.08H107.84V31.2H103.74ZM113.04 27.08H117.14V31.2H113.04ZM91.35 30.2H95.44V34.32H91.35ZM116.14 30.2H120.24V34.32H116.14ZM119.24 36.44H123.34V40.55H119.24ZM78.95 42.67H83.05V46.79H78.95ZM122.34 42.67H126.44V46.79H122.34ZM122.34 45.79H126.44V49.9H122.34ZM122.34 48.9H126.44V53.02H122.34ZM140.94 48.9H145.04V53.02H140.94ZM147.14 48.9H151.24V53.02H147.14ZM137.84 52.02H141.94V56.14H137.84ZM150.24 52.02H154.34V56.14H150.24ZM128.54 58.26H132.64V62.37H128.54ZM131.64 61.37H135.74V65.49H131.64ZM153.34 61.37H157.44V65.49H153.34ZM134.74 64.49H138.84V68.61H134.74ZM75.85 67.61H79.95V71.72H75.85ZM153.34 67.61H157.44V71.72H153.34ZM75.85 70.72H79.95V74.84H75.85ZM153.34 70.72H157.44V74.84H153.34ZM75.85 73.84H79.95V77.96H75.85ZM75.85 76.96H79.95V81.08H75.85ZM159.54 80.08H163.63V84.19H159.54ZM162.63 83.19H166.73V87.31H162.63ZM314.51 83.19H318.61V87.31H314.51ZM72.75 86.31H76.85V90.43H72.75ZM168.83 86.31H172.93V90.43H168.83ZM57.25 89.43H64.45V93.55H57.25ZM175.03 89.43H179.13V93.55H175.03ZM240.12 89.43H247.32V93.55H240.12ZM178.13 92.55H182.23V96.66H178.13ZM230.82 92.55H241.12V96.66H230.82ZM224.63 95.66H228.72V99.78H224.63ZM193.63 98.78H197.73V102.9H193.63ZM218.43 98.78H222.53V102.9H218.43ZM255.62 98.78H259.72V102.9H255.62ZM184.33 101.9H191.53V106.01H184.33ZM196.73 101.9H200.83V106.01H196.73ZM209.13 101.9H213.23V106.01H209.13ZM258.72 101.9H262.82V106.01H258.72ZM199.83 105.01H203.93V109.13H199.83ZM264.92 105.01H269.02V109.13H264.92ZM202.93 108.13H207.03V112.25H202.93ZM283.52 111.25H300.01V115.37H283.52ZM302.11 111.25H306.21V115.37H302.11ZM342.41 136.19H346.51V140.3H342.41ZM351.71 151.77H355.81V155.89H351.71ZM351.71 158.01H355.81V162.12H351.71ZM348.61 161.12H352.71V165.24H348.61ZM348.61 164.24H352.71V168.36H348.61ZM345.51 167.36H349.61V171.47H345.51ZM351.71 167.36H355.81V171.47H351.71ZM342.41 170.47H352.71V174.59H342.41ZM57.25 173.59H73.75V177.71H57.25ZM78.95 173.59H83.05V177.71H78.95ZM342.41 173.59H349.61V177.71H342.41ZM60.35 176.71H64.45V180.83H60.35ZM66.55 176.71H73.75V180.83H66.55ZM75.85 176.71H83.05V180.83H75.85ZM342.41 176.71H346.51V180.83H342.41ZM348.61 176.71H355.81V180.83H348.61ZM69.65 179.83H73.75V183.94H69.65ZM75.85 179.83H79.95V183.94H75.85ZM339.31 179.83H343.41V183.94H339.31ZM351.71 179.83H355.81V183.94H351.71ZM72.75 182.94H79.95V187.06H72.75ZM184.33 182.94H188.43V187.06H184.33ZM333.11 182.94H340.31V187.06H333.11ZM184.33 186.06H188.43V190.18H184.33ZM261.82 186.06H269.02V190.18H261.82ZM357.91 186.06H365.1V190.18H357.91ZM181.23 189.18H188.43V193.3H181.23ZM181.23 192.3H185.33V196.41H181.23ZM367.2 192.3H371.3V196.41H367.2ZM184.33 195.41H188.43V199.53H184.33ZM367.2 195.41H374.4V199.53H367.2ZM376.5 195.41H380.6V199.53H376.5ZM178.13 198.53H182.23V202.65H178.13ZM184.33 198.53H188.43V202.65H184.33ZM382.7 198.53H389.9V202.65H382.7ZM392 198.53H399.2V202.65H392ZM69.65 201.65H76.85V205.76H69.65ZM175.03 201.65H179.13V205.76H175.03ZM57.25 204.76H64.45V208.88H57.25ZM66.55 204.76H73.75V208.88H66.55ZM78.95 204.76H83.05V208.88H78.95ZM69.65 207.88H83.05V212H69.65ZM171.93 207.88H176.03V212H171.93ZM57.25 211H64.45V215.12H57.25ZM69.65 211H73.75V215.12H69.65ZM78.95 211H83.05V215.12H78.95ZM168.83 211H172.93V215.12H168.83ZM187.43 211H191.53V215.12H187.43ZM271.12 211H275.22V215.12H271.12ZM78.95 214.12H83.05V218.23H78.95ZM264.92 214.12H269.02V218.23H264.92ZM333.11 214.12H337.21V218.23H333.11ZM66.55 217.23H73.75V221.35H66.55ZM78.95 217.23H83.05V221.35H78.95ZM165.73 217.23H169.83V221.35H165.73ZM187.43 217.23H191.53V221.35H187.43ZM277.32 217.23H281.42V221.35H277.32ZM60.35 220.35H64.45V224.47H60.35ZM66.55 220.35H70.65V224.47H66.55ZM72.75 220.35H83.05V224.47H72.75ZM165.73 220.35H169.83V224.47H165.73Z"/>
<path fill="#1f5eea" d="M97.54 27.08H104.74V31.2H97.54ZM106.84 27.08H110.94V31.2H106.84ZM113.04 30.2H117.14V34.32H113.04ZM116.14 33.32H120.24V37.44H116.14ZM85.15 36.44H89.25V40.55H85.15ZM82.05 39.55H86.15V43.67H82.05ZM78.95 45.79H83.05V49.9H78.95ZM78.95 48.9H83.05V53.02H78.95ZM144.04 48.9H148.14V53.02H144.04ZM122.34 52.02H126.44V56.14H122.34ZM140.94 52.02H145.04V56.14H140.94ZM147.14 52.02H151.24V56.14H147.14ZM125.44 55.14H129.54V59.26H125.44ZM137.84 55.14H141.94V59.26H137.84ZM150.24 58.26H154.34V62.37H150.24ZM137.84 61.37H141.94V65.49H137.84ZM131.64 64.49H135.74V68.61H131.64ZM150.24 64.49H154.34V68.61H150.24ZM150.24 67.61H154.34V71.72H150.24ZM156.44 76.96H160.54V81.08H156.44ZM75.85 80.08H79.95V84.19H75.85ZM75.85 83.19H79.95V87.31H75.85ZM165.73 86.31H169.83V90.43H165.73ZM63.45 89.43H70.65V93.55H63.45ZM171.93 89.43H176.03V93.55H171.93ZM240.12 92.55H244.22V96.66H240.12ZM246.32 92.55H250.42V96.66H246.32ZM227.72 95.66H234.92V99.78H227.72ZM249.42 95.66H253.52V99.78H249.42ZM181.23 98.78H185.33V102.9H181.23ZM190.53 101.9H197.73V106.01H190.53ZM184.33 105.01H188.43V109.13H184.33ZM190.53 105.01H194.63V109.13H190.53ZM196.73 105.01H200.83V109.13H196.73ZM206.03 105.01H210.13V109.13H206.03ZM261.82 105.01H265.92V109.13H261.82ZM199.83 108.13H203.93V112.25H199.83ZM264.92 108.13H269.02V112.25H264.92ZM320.71 114.37H324.81V118.48H320.71ZM326.91 117.48H331.01V121.6H326.91ZM330.01 120.6H334.11V124.72H330.01ZM336.21 133.07H340.31V137.19H336.21ZM345.51 139.3H349.61V143.42H345.51ZM348.61 142.42H352.71V146.54H348.61ZM348.61 158.01H352.71V162.12H348.61ZM233.92 164.24H238.02V168.36H233.92ZM345.51 164.24H349.61V168.36H345.51ZM57.25 170.47H64.45V174.59H57.25ZM82.05 173.59H86.15V177.71H82.05ZM57.25 176.71H61.35V180.83H57.25ZM63.45 176.71H67.55V180.83H63.45ZM82.05 176.71H86.15V180.83H82.05ZM339.31 176.71H343.41V180.83H339.31ZM345.51 176.71H349.61V180.83H345.51ZM57.25 179.83H70.65V183.94H57.25ZM78.95 179.83H83.05V183.94H78.95ZM345.51 179.83H349.61V183.94H345.51ZM60.35 182.94H64.45V187.06H60.35ZM66.55 182.94H73.75V187.06H66.55ZM78.95 182.94H83.05V187.06H78.95ZM258.72 182.94H265.92V187.06H258.72ZM339.31 182.94H358.91V187.06H339.31ZM72.75 186.06H83.05V190.18H72.75ZM181.23 186.06H185.33V190.18H181.23ZM187.43 186.06H191.53V190.18H187.43ZM258.72 186.06H262.82V190.18H258.72ZM336.21 186.06H340.31V190.18H336.21ZM351.71 186.06H358.91V190.18H351.71ZM72.75 189.18H76.85V193.3H72.75ZM178.13 189.18H182.23V193.3H178.13ZM187.43 189.18H191.53V193.3H187.43ZM264.92 189.18H269.02V193.3H264.92ZM354.81 189.18H358.91V193.3H354.81ZM361.01 189.18H365.1V193.3H361.01ZM175.03 192.3H182.23V196.41H175.03ZM184.33 192.3H188.43V196.41H184.33ZM357.91 192.3H365.1V196.41H357.91ZM175.03 195.41H185.33V199.53H175.03ZM302.11 195.41H306.21V199.53H302.11ZM364.1 195.41H368.2V199.53H364.1ZM373.4 195.41H377.5V199.53H373.4ZM75.85 198.53H79.95V202.65H75.85ZM171.93 198.53H179.13V202.65H171.93ZM367.2 198.53H371.3V202.65H367.2ZM379.6 198.53H383.7V202.65H379.6ZM57.25 201.65H61.35V205.76H57.25ZM63.45 201.65H70.65V205.76H63.45ZM75.85 201.65H83.05V205.76H75.85ZM187.43 201.65H191.53V205.76H187.43ZM382.7 201.65H399.2V205.76H382.7ZM75.85 204.76H79.95V208.88H75.85ZM85.15 204.76H89.25V208.88H85.15ZM171.93 204.76H176.03V208.88H171.93ZM187.43 204.76H191.53V208.88H187.43ZM305.21 204.76H309.31V208.88H305.21ZM82.05 207.88H86.15V212H82.05ZM187.43 207.88H191.53V212H187.43ZM274.22 207.88H278.32V212H274.22ZM305.21 207.88H309.31V212H305.21ZM75.85 211H79.95V215.12H75.85ZM82.05 211H86.15V215.12H82.05ZM268.02 211H272.12V215.12H268.02ZM305.21 211H309.31V215.12H305.21ZM333.11 211H337.21V215.12H333.11ZM82.05 214.12H86.15V218.23H82.05ZM277.32 214.12H281.42V218.23H277.32ZM305.21 214.12H309.31V218.23H305.21ZM330.01 214.12H334.11V218.23H330.01ZM336.21 214.12H340.31V218.23H336.21ZM82.05 217.23H86.15V221.35H82.05ZM264.92 217.23H269.02V221.35H264.92ZM305.21 217.23H309.31V221.35H305.21ZM330.01 217.23H334.11V221.35H330.01ZM336.21 217.23H340.31V221.35H336.21ZM82.05 220.35H86.15V224.47H82.05ZM264.92 220.35H269.02V224.47H264.92ZM277.32 220.35H281.42V224.47H277.32ZM305.21 220.35H309.31V224.47H305.21ZM336.21 220.35H340.31V224.47H336.21Z"/>
<path fill="#2270f0" d="M94.44 30.2H104.74V34.32H94.44ZM106.84 30.2H114.04V34.32H106.84ZM91.35 33.32H95.44V37.44H91.35ZM119.24 39.55H123.34V43.67H119.24ZM78.95 52.02H83.05V56.14H78.95ZM122.34 55.14H126.44V59.26H122.34ZM140.94 55.14H145.04V59.26H140.94ZM150.24 55.14H154.34V59.26H150.24ZM125.44 58.26H129.54V62.37H125.44ZM137.84 58.26H145.04V62.37H137.84ZM128.54 61.37H132.64V65.49H128.54ZM147.14 61.37H154.34V65.49H147.14ZM137.84 64.49H145.04V68.61H137.84ZM134.74 67.61H138.84V71.72H134.74ZM308.31 70.72H312.41V74.84H308.31ZM150.24 73.84H157.44V77.96H150.24ZM153.34 76.96H157.44V81.08H153.34ZM69.65 89.43H76.85V93.55H69.65ZM168.83 89.43H172.93V93.55H168.83ZM243.22 92.55H247.32V96.66H243.22ZM233.92 95.66H238.02V99.78H233.92ZM240.12 95.66H244.22V99.78H240.12ZM246.32 95.66H250.42V99.78H246.32ZM221.53 98.78H225.63V102.9H221.53ZM212.23 101.9H216.33V106.01H212.23ZM187.43 105.01H191.53V109.13H187.43ZM209.13 105.01H213.23V109.13H209.13ZM184.33 108.13H188.43V112.25H184.33ZM190.53 108.13H194.63V112.25H190.53ZM196.73 108.13H200.83V112.25H196.73ZM206.03 108.13H210.13V112.25H206.03ZM196.73 111.25H200.83V115.37H196.73ZM202.93 111.25H207.03V115.37H202.93ZM274.22 111.25H278.32V115.37H274.22ZM286.62 114.37H303.11V118.48H286.62ZM339.31 136.19H343.41V140.3H339.31ZM348.61 145.54H352.71V149.65H348.61ZM348.61 151.77H352.71V155.89H348.61ZM342.41 161.12H349.61V165.24H342.41ZM237.02 164.24H241.12V168.36H237.02ZM57.25 167.36H61.35V171.47H57.25ZM233.92 167.36H238.02V171.47H233.92ZM63.45 170.47H79.95V174.59H63.45ZM85.15 176.71H89.25V180.83H85.15ZM85.15 179.83H89.25V183.94H85.15ZM336.21 179.83H340.31V183.94H336.21ZM342.41 179.83H346.51V183.94H342.41ZM348.61 179.83H352.71V183.94H348.61ZM57.25 182.94H61.35V187.06H57.25ZM63.45 182.94H67.55V187.06H63.45ZM249.42 182.94H253.52V187.06H249.42ZM255.62 182.94H259.72V187.06H255.62ZM63.45 186.06H73.75V190.18H63.45ZM82.05 186.06H86.15V190.18H82.05ZM175.03 186.06H182.23V190.18H175.03ZM255.62 186.06H259.72V190.18H255.62ZM333.11 186.06H337.21V190.18H333.11ZM345.51 186.06H352.71V190.18H345.51ZM69.65 189.18H73.75V193.3H69.65ZM75.85 189.18H83.05V193.3H75.85ZM175.03 189.18H179.13V193.3H175.03ZM258.72 189.18H265.92V193.3H258.72ZM268.02 189.18H272.12V193.3H268.02ZM351.71 189.18H355.81V193.3H351.71ZM357.91 189.18H362.01V193.3H357.91ZM75.85 192.3H79.95V196.41H75.85ZM82.05 192.3H86.15V196.41H82.05ZM187.43 192.3H191.53V196.41H187.43ZM354.81 192.3H358.91V196.41H354.81ZM72.75 195.41H76.85V199.53H72.75ZM292.82 195.41H303.11V199.53H292.82ZM361.01 195.41H365.1V199.53H361.01ZM66.55 198.53H76.85V202.65H66.55ZM82.05 198.53H86.15V202.65H82.05ZM187.43 198.53H191.53V202.65H187.43ZM305.21 198.53H312.41V202.65H305.21ZM364.1 198.53H368.2V202.65H364.1ZM370.3 198.53H380.6V202.65H370.3ZM60.35 201.65H64.45V205.76H60.35ZM82.05 201.65H86.15V205.76H82.05ZM171.93 201.65H176.03V205.76H171.93ZM302.11 201.65H309.31V205.76H302.11ZM364.1 201.65H371.3V205.76H364.1ZM379.6 201.65H383.7V205.76H379.6ZM82.05 204.76H86.15V208.88H82.05ZM308.31 204.76H312.41V208.88H308.31ZM395.1 204.76H399.2V208.88H395.1ZM165.73 211H169.83V215.12H165.73ZM277.32 211H281.42V215.12H277.32ZM302.11 211H306.21V215.12H302.11ZM85.15 214.12H89.25V218.23H85.15ZM190.53 214.12H194.63V218.23H190.53ZM261.82 214.12H265.92V218.23H261.82ZM302.11 214.12H306.21V218.23H302.11ZM308.31 214.12H312.41V218.23H308.31ZM85.15 217.23H89.25V221.35H85.15ZM190.53 217.23H194.63V221.35H190.53ZM308.31 217.23H312.41V221.35H308.31ZM85.15 220.35H89.25V224.47H85.15ZM162.63 220.35H166.73V224.47H162.63ZM330.01 220.35H334.11V224.47H330.01Z"/>
<path fill="#297df1" d="M113.04 33.32H117.14V37.44H113.04ZM88.25 36.44H92.35V40.55H88.25ZM113.04 36.44H120.24V40.55H113.04ZM119.24 42.67H123.34V46.79H119.24ZM144.04 52.02H148.14V56.14H144.04ZM78.95 55.14H83.05V59.26H78.95ZM147.14 55.14H151.24V59.26H147.14ZM78.95 61.37H83.05V65.49H78.95ZM125.44 61.37H129.54V65.49H125.44ZM140.94 61.37H145.04V65.49H140.94ZM128.54 64.49H132.64V68.61H128.54ZM147.14 64.49H151.24V68.61H147.14ZM137.84 67.61H141.94V71.72H137.84ZM147.14 67.61H151.24V71.72H147.14ZM150.24 70.72H154.34V74.84H150.24ZM308.31 73.84H312.41V77.96H308.31ZM317.61 76.96H321.71V81.08H317.61ZM156.44 80.08H160.54V84.19H156.44ZM159.54 83.19H163.63V87.31H159.54ZM75.85 86.31H79.95V90.43H75.85ZM162.63 86.31H166.73V90.43H162.63ZM75.85 89.43H79.95V93.55H75.85ZM165.73 89.43H169.83V93.55H165.73ZM60.35 92.55H64.45V96.66H60.35ZM69.65 92.55H76.85V96.66H69.65ZM178.13 95.66H182.23V99.78H178.13ZM237.02 95.66H241.12V99.78H237.02ZM243.22 95.66H247.32V99.78H243.22ZM224.63 98.78H228.72V102.9H224.63ZM252.52 98.78H256.62V102.9H252.52ZM181.23 101.9H185.33V106.01H181.23ZM215.33 101.9H219.43V106.01H215.33ZM255.62 101.9H259.72V106.01H255.62ZM181.23 105.01H185.33V109.13H181.23ZM193.63 105.01H197.73V109.13H193.63ZM212.23 105.01H216.33V109.13H212.23ZM187.43 108.13H191.53V112.25H187.43ZM209.13 108.13H213.23V112.25H209.13ZM261.82 108.13H265.92V112.25H261.82ZM190.53 111.25H194.63V115.37H190.53ZM199.83 111.25H203.93V115.37H199.83ZM206.03 111.25H210.13V115.37H206.03ZM202.93 114.37H210.13V118.48H202.93ZM280.42 114.37H287.62V118.48H280.42ZM302.11 114.37H309.31V118.48H302.11ZM317.61 114.37H321.71V118.48H317.61ZM336.21 136.19H340.31V140.3H336.21ZM345.51 142.42H349.61V146.54H345.51ZM348.61 148.65H352.71V152.77H348.61ZM72.75 154.89H76.85V159.01H72.75ZM348.61 154.89H352.71V159.01H348.61ZM230.82 164.24H234.92V168.36H230.82ZM240.12 164.24H244.22V168.36H240.12ZM342.41 164.24H346.51V168.36H342.41ZM60.35 167.36H79.95V171.47H60.35ZM230.82 167.36H234.92V171.47H230.82ZM237.02 167.36H241.12V171.47H237.02ZM342.41 167.36H346.51V171.47H342.41ZM78.95 170.47H89.25V174.59H78.95ZM85.15 173.59H89.25V177.71H85.15ZM82.05 179.83H86.15V183.94H82.05ZM258.72 179.83H265.92V183.94H258.72ZM82.05 182.94H89.25V187.06H82.05ZM178.13 182.94H185.33V187.06H178.13ZM187.43 182.94H191.53V187.06H187.43ZM243.22 182.94H250.42V187.06H243.22ZM252.52 182.94H256.62V187.06H252.52ZM264.92 182.94H269.02V187.06H264.92ZM57.25 186.06H64.45V190.18H57.25ZM85.15 186.06H89.25V190.18H85.15ZM171.93 186.06H176.03V190.18H171.93ZM246.32 186.06H256.62V190.18H246.32ZM339.31 186.06H346.51V190.18H339.31ZM57.25 189.18H70.65V193.3H57.25ZM82.05 189.18H89.25V193.3H82.05ZM171.93 189.18H176.03V193.3H171.93ZM246.32 189.18H250.42V193.3H246.32ZM271.12 189.18H275.22V193.3H271.12ZM333.11 189.18H337.21V193.3H333.11ZM339.31 189.18H343.41V193.3H339.31ZM345.51 189.18H352.71V193.3H345.51ZM66.55 192.3H76.85V196.41H66.55ZM78.95 192.3H83.05V196.41H78.95ZM85.15 192.3H89.25V196.41H85.15ZM171.93 192.3H176.03V196.41H171.93ZM261.82 192.3H269.02V196.41H261.82ZM295.91 192.3H303.11V196.41H295.91ZM351.71 192.3H355.81V196.41H351.71ZM66.55 195.41H70.65V199.53H66.55ZM75.85 195.41H86.15V199.53H75.85ZM171.93 195.41H176.03V199.53H171.93ZM187.43 195.41H191.53V199.53H187.43ZM268.02 195.41H272.12V199.53H268.02ZM305.21 195.41H312.41V199.53H305.21ZM354.81 195.41H358.91V199.53H354.81ZM57.25 198.53H67.55V202.65H57.25ZM78.95 198.53H83.05V202.65H78.95ZM168.83 198.53H172.93V202.65H168.83ZM190.53 198.53H194.63V202.65H190.53ZM268.02 198.53H272.12V202.65H268.02ZM274.22 198.53H278.32V202.65H274.22ZM299.01 198.53H306.21V202.65H299.01ZM311.41 198.53H315.51V202.65H311.41ZM361.01 198.53H365.1V202.65H361.01ZM85.15 201.65H89.25V205.76H85.15ZM271.12 201.65H278.32V205.76H271.12ZM299.01 201.65H303.11V205.76H299.01ZM308.31 201.65H315.51V205.76H308.31ZM361.01 201.65H365.1V205.76H361.01ZM373.4 201.65H380.6V205.76H373.4ZM88.25 204.76H92.35V208.88H88.25ZM168.83 204.76H172.93V208.88H168.83ZM302.11 204.76H306.21V208.88H302.11ZM311.41 204.76H315.51V208.88H311.41ZM361.01 204.76H368.2V208.88H361.01ZM382.7 204.76H396.1V208.88H382.7ZM85.15 207.88H89.25V212H85.15ZM168.83 207.88H172.93V212H168.83ZM190.53 207.88H194.63V212H190.53ZM268.02 207.88H275.22V212H268.02ZM277.32 207.88H281.42V212H277.32ZM302.11 207.88H306.21V212H302.11ZM308.31 207.88H315.51V212H308.31ZM333.11 207.88H337.21V212H333.11ZM364.1 207.88H368.2V212H364.1ZM385.8 207.88H389.9V212H385.8ZM395.1 207.88H399.2V212H395.1ZM85.15 211H89.25V215.12H85.15ZM190.53 211H194.63V215.12H190.53ZM264.92 211H269.02V215.12H264.92ZM308.31 211H315.51V215.12H308.31ZM330.01 211H334.11V215.12H330.01ZM336.21 211H340.31V215.12H336.21ZM162.63 214.12H166.73V218.23H162.63ZM280.42 214.12H284.52V218.23H280.42ZM311.41 214.12H318.61V218.23H311.41ZM162.63 217.23H166.73V221.35H162.63ZM261.82 217.23H265.92V221.35H261.82ZM302.11 217.23H306.21V221.35H302.11ZM311.41 217.23H315.51V221.35H311.41ZM326.91 217.23H331.01V221.35H326.91ZM339.31 217.23H343.41V221.35H339.31ZM88.25 220.35H92.35V224.47H88.25ZM190.53 220.35H194.63V224.47H190.53ZM261.82 220.35H265.92V224.47H261.82ZM299.01 220.35H306.21V224.47H299.01ZM308.31 220.35H318.61V224.47H308.31ZM326.91 220.35H331.01V224.47H326.91Z"/>
<path fill="#308af2" d="M103.74 30.2H107.84V34.32H103.74ZM94.44 33.32H104.74V37.44H94.44ZM106.84 33.32H114.04V37.44H106.84ZM85.15 39.55H89.25V43.67H85.15ZM116.14 39.55H120.24V43.67H116.14ZM82.05 42.67H86.15V46.79H82.05ZM119.24 45.79H123.34V49.9H119.24ZM119.24 52.02H123.34V56.14H119.24ZM144.04 55.14H148.14V59.26H144.04ZM78.95 58.26H83.05V62.37H78.95ZM122.34 58.26H126.44V62.37H122.34ZM147.14 58.26H151.24V62.37H147.14ZM78.95 64.49H83.05V68.61H78.95ZM144.04 64.49H148.14V68.61H144.04ZM78.95 67.61H83.05V71.72H78.95ZM131.64 67.61H135.74V71.72H131.64ZM140.94 67.61H145.04V71.72H140.94ZM311.41 67.61H315.51V71.72H311.41ZM78.95 70.72H83.05V74.84H78.95ZM317.61 70.72H321.71V74.84H317.61ZM78.95 73.84H83.05V77.96H78.95ZM78.95 76.96H83.05V81.08H78.95ZM150.24 76.96H154.34V81.08H150.24ZM308.31 76.96H312.41V81.08H308.31ZM78.95 80.08H83.05V84.19H78.95ZM153.34 80.08H157.44V84.19H153.34ZM57.25 92.55H61.35V96.66H57.25ZM63.45 92.55H70.65V96.66H63.45ZM75.85 92.55H79.95V96.66H75.85ZM171.93 92.55H179.13V96.66H171.93ZM72.75 95.66H76.85V99.78H72.75ZM175.03 95.66H179.13V99.78H175.03ZM178.13 98.78H182.23V102.9H178.13ZM227.72 98.78H238.02V102.9H227.72ZM240.12 98.78H253.52V102.9H240.12ZM178.13 101.9H182.23V106.01H178.13ZM218.43 101.9H222.53V106.01H218.43ZM178.13 105.01H182.23V109.13H178.13ZM258.72 105.01H262.82V109.13H258.72ZM181.23 108.13H185.33V112.25H181.23ZM193.63 108.13H197.73V112.25H193.63ZM258.72 108.13H262.82V112.25H258.72ZM184.33 111.25H191.53V115.37H184.33ZM193.63 111.25H197.73V115.37H193.63ZM268.02 111.25H275.22V115.37H268.02ZM184.33 114.37H188.43V118.48H184.33ZM190.53 114.37H203.93V118.48H190.53ZM308.31 114.37H312.41V118.48H308.31ZM196.73 117.48H200.83V121.6H196.73ZM202.93 117.48H207.03V121.6H202.93ZM323.81 117.48H327.91V121.6H323.81ZM333.11 126.83H337.21V130.95H333.11ZM339.31 139.3H346.51V143.42H339.31ZM72.75 151.77H76.85V155.89H72.75ZM69.65 154.89H73.75V159.01H69.65ZM75.85 154.89H79.95V159.01H75.85ZM69.65 158.01H76.85V162.12H69.65ZM78.95 158.01H83.05V162.12H78.95ZM345.51 158.01H349.61V162.12H345.51ZM72.75 161.12H76.85V165.24H72.75ZM233.92 161.12H241.12V165.24H233.92ZM57.25 164.24H61.35V168.36H57.25ZM63.45 164.24H67.55V168.36H63.45ZM69.65 164.24H76.85V168.36H69.65ZM243.22 164.24H247.32V168.36H243.22ZM78.95 167.36H86.15V171.47H78.95ZM240.12 167.36H247.32V171.47H240.12ZM237.02 170.47H241.12V174.59H237.02ZM243.22 170.47H247.32V174.59H243.22ZM88.25 173.59H92.35V177.71H88.25ZM339.31 173.59H343.41V177.71H339.31ZM88.25 176.71H92.35V180.83H88.25ZM88.25 179.83H92.35V183.94H88.25ZM175.03 179.83H179.13V183.94H175.03ZM181.23 179.83H188.43V183.94H181.23ZM243.22 179.83H247.32V183.94H243.22ZM249.42 179.83H253.52V183.94H249.42ZM171.93 182.94H179.13V187.06H171.93ZM190.53 182.94H194.63V187.06H190.53ZM240.12 182.94H244.22V187.06H240.12ZM168.83 186.06H172.93V190.18H168.83ZM190.53 186.06H194.63V190.18H190.53ZM243.22 186.06H247.32V190.18H243.22ZM268.02 186.06H272.12V190.18H268.02ZM323.81 186.06H334.11V190.18H323.81ZM190.53 189.18H194.63V193.3H190.53ZM249.42 189.18H259.72V193.3H249.42ZM330.01 189.18H334.11V193.3H330.01ZM342.41 189.18H346.51V193.3H342.41ZM57.25 192.3H67.55V196.41H57.25ZM88.25 192.3H92.35V196.41H88.25ZM168.83 192.3H172.93V196.41H168.83ZM190.53 192.3H194.63V196.41H190.53ZM252.52 192.3H256.62V196.41H252.52ZM268.02 192.3H281.42V196.41H268.02ZM292.82 192.3H296.91V196.41H292.82ZM302.11 192.3H312.41V196.41H302.11ZM348.61 192.3H352.71V196.41H348.61ZM57.25 195.41H67.55V199.53H57.25ZM69.65 195.41H73.75V199.53H69.65ZM85.15 195.41H92.35V199.53H85.15ZM190.53 195.41H194.63V199.53H190.53ZM264.92 195.41H269.02V199.53H264.92ZM271.12 195.41H281.42V199.53H271.12ZM289.72 195.41H293.82V199.53H289.72ZM311.41 195.41H315.51V199.53H311.41ZM348.61 195.41H355.81V199.53H348.61ZM357.91 195.41H362.01V199.53H357.91ZM85.15 198.53H92.35V202.65H85.15ZM271.12 198.53H275.22V202.65H271.12ZM292.82 198.53H300.01V202.65H292.82ZM314.51 198.53H318.61V202.65H314.51ZM354.81 198.53H362.01V202.65H354.81ZM91.35 201.65H95.44V205.76H91.35ZM168.83 201.65H172.93V205.76H168.83ZM190.53 201.65H194.63V205.76H190.53ZM268.02 201.65H272.12V205.76H268.02ZM277.32 201.65H281.42V205.76H277.32ZM295.91 201.65H300.01V205.76H295.91ZM314.51 201.65H318.61V205.76H314.51ZM370.3 201.65H374.4V205.76H370.3ZM190.53 204.76H194.63V208.88H190.53ZM271.12 204.76H281.42V208.88H271.12ZM299.01 204.76H303.11V208.88H299.01ZM314.51 204.76H318.61V208.88H314.51ZM367.2 204.76H371.3V208.88H367.2ZM376.5 204.76H383.7V208.88H376.5ZM88.25 207.88H92.35V212H88.25ZM165.73 207.88H169.83V212H165.73ZM299.01 207.88H303.11V212H299.01ZM314.51 207.88H318.61V212H314.51ZM330.01 207.88H334.11V212H330.01ZM379.6 207.88H386.8V212H379.6ZM388.9 207.88H393V212H388.9ZM88.25 211H92.35V215.12H88.25ZM261.82 211H265.92V215.12H261.82ZM299.01 211H303.11V215.12H299.01ZM314.51 211H331.01V215.12H314.51ZM88.25 214.12H92.35V218.23H88.25ZM199.83 214.12H203.93V218.23H199.83ZM299.01 214.12H303.11V218.23H299.01ZM317.61 214.12H321.71V218.23H317.61ZM323.81 214.12H331.01V218.23H323.81ZM339.31 214.12H343.41V218.23H339.31ZM159.54 217.23H163.63V221.35H159.54ZM193.63 217.23H197.73V221.35H193.63ZM280.42 217.23H284.52V221.35H280.42ZM299.01 217.23H303.11V221.35H299.01ZM314.51 217.23H324.81V221.35H314.51ZM196.73 220.35H200.83V224.47H196.73ZM280.42 220.35H284.52V224.47H280.42ZM317.61 220.35H327.91V224.47H317.61ZM339.31 220.35H343.41V224.47H339.31Z"/>
<path fill="#3696f2" d="M103.74 33.32H107.84V37.44H103.74ZM91.35 36.44H95.44V40.55H91.35ZM119.24 48.9H123.34V53.02H119.24ZM119.24 55.14H123.34V59.26H119.24ZM144.04 58.26H148.14V62.37H144.04ZM144.04 61.37H148.14V65.49H144.04ZM125.44 64.49H129.54V68.61H125.44ZM128.54 67.61H132.64V71.72H128.54ZM144.04 67.61H148.14V71.72H144.04ZM314.51 67.61H318.61V71.72H314.51ZM131.64 70.72H141.94V74.84H131.64ZM147.14 70.72H151.24V74.84H147.14ZM147.14 73.84H151.24V77.96H147.14ZM317.61 73.84H321.71V77.96H317.61ZM78.95 83.19H83.05V87.31H78.95ZM78.95 86.31H83.05V90.43H78.95ZM159.54 86.31H163.63V90.43H159.54ZM162.63 89.43H166.73V93.55H162.63ZM78.95 92.55H83.05V96.66H78.95ZM168.83 92.55H172.93V96.66H168.83ZM57.25 95.66H73.75V99.78H57.25ZM78.95 95.66H83.05V99.78H78.95ZM57.25 98.78H70.65V102.9H57.25ZM72.75 98.78H76.85V102.9H72.75ZM237.02 98.78H241.12V102.9H237.02ZM221.53 101.9H225.63V106.01H221.53ZM230.82 101.9H234.92V106.01H230.82ZM252.52 101.9H256.62V106.01H252.52ZM215.33 105.01H219.43V109.13H215.33ZM255.62 105.01H259.72V109.13H255.62ZM178.13 108.13H182.23V112.25H178.13ZM212.23 108.13H216.33V112.25H212.23ZM181.23 111.25H185.33V115.37H181.23ZM209.13 111.25H213.23V115.37H209.13ZM261.82 111.25H265.92V115.37H261.82ZM181.23 114.37H185.33V118.48H181.23ZM187.43 114.37H191.53V118.48H187.43ZM311.41 114.37H318.61V118.48H311.41ZM199.83 117.48H203.93V121.6H199.83ZM202.93 120.6H207.03V124.72H202.93ZM333.11 129.95H337.21V134.07H333.11ZM333.11 133.07H337.21V137.19H333.11ZM336.21 139.3H340.31V143.42H336.21ZM69.65 151.77H73.75V155.89H69.65ZM75.85 151.77H79.95V155.89H75.85ZM78.95 154.89H83.05V159.01H78.95ZM60.35 158.01H64.45V162.12H60.35ZM75.85 158.01H79.95V162.12H75.85ZM342.41 158.01H346.51V162.12H342.41ZM57.25 161.12H61.35V165.24H57.25ZM63.45 161.12H73.75V165.24H63.45ZM230.82 161.12H234.92V165.24H230.82ZM60.35 164.24H64.45V168.36H60.35ZM66.55 164.24H70.65V168.36H66.55ZM75.85 164.24H79.95V168.36H75.85ZM227.72 164.24H231.82V168.36H227.72ZM246.32 164.24H250.42V168.36H246.32ZM85.15 167.36H89.25V171.47H85.15ZM246.32 167.36H250.42V171.47H246.32ZM233.92 170.47H238.02V174.59H233.92ZM240.12 170.47H244.22V174.59H240.12ZM246.32 170.47H250.42V174.59H246.32ZM243.22 173.59H247.32V177.71H243.22ZM237.02 176.71H256.62V180.83H237.02ZM258.72 176.71H265.92V180.83H258.72ZM165.73 179.83H169.83V183.94H165.73ZM178.13 179.83H182.23V183.94H178.13ZM187.43 179.83H191.53V183.94H187.43ZM237.02 179.83H244.22V183.94H237.02ZM246.32 179.83H250.42V183.94H246.32ZM252.52 179.83H259.72V183.94H252.52ZM333.11 179.83H337.21V183.94H333.11ZM88.25 182.94H92.35V187.06H88.25ZM168.83 182.94H172.93V187.06H168.83ZM193.63 182.94H197.73V187.06H193.63ZM330.01 182.94H334.11V187.06H330.01ZM88.25 186.06H92.35V190.18H88.25ZM193.63 186.06H197.73V190.18H193.63ZM199.83 186.06H203.93V190.18H199.83ZM320.71 186.06H324.81V190.18H320.71ZM88.25 189.18H92.35V193.3H88.25ZM168.83 189.18H172.93V193.3H168.83ZM196.73 189.18H200.83V193.3H196.73ZM243.22 189.18H247.32V193.3H243.22ZM274.22 189.18H278.32V193.3H274.22ZM299.01 189.18H303.11V193.3H299.01ZM323.81 189.18H331.01V193.3H323.81ZM336.21 189.18H340.31V193.3H336.21ZM246.32 192.3H253.52V196.41H246.32ZM258.72 192.3H262.82V196.41H258.72ZM280.42 192.3H284.52V196.41H280.42ZM286.62 192.3H293.82V196.41H286.62ZM311.41 192.3H321.71V196.41H311.41ZM330.01 192.3H334.11V196.41H330.01ZM336.21 192.3H349.61V196.41H336.21ZM168.83 195.41H172.93V199.53H168.83ZM258.72 195.41H265.92V199.53H258.72ZM280.42 195.41H284.52V199.53H280.42ZM314.51 195.41H324.81V199.53H314.51ZM97.54 198.53H101.64V202.65H97.54ZM261.82 198.53H269.02V202.65H261.82ZM277.32 198.53H281.42V202.65H277.32ZM317.61 198.53H321.71V202.65H317.61ZM351.71 198.53H355.81V202.65H351.71ZM88.25 201.65H92.35V205.76H88.25ZM264.92 201.65H269.02V205.76H264.92ZM292.82 201.65H296.91V205.76H292.82ZM326.91 201.65H331.01V205.76H326.91ZM351.71 201.65H362.01V205.76H351.71ZM91.35 204.76H95.44V208.88H91.35ZM97.54 204.76H101.64V208.88H97.54ZM103.74 204.76H107.84V208.88H103.74ZM233.92 204.76H238.02V208.88H233.92ZM264.92 204.76H272.12V208.88H264.92ZM317.61 204.76H340.31V208.88H317.61ZM357.91 204.76H362.01V208.88H357.91ZM370.3 204.76H377.5V208.88H370.3ZM91.35 207.88H95.44V212H91.35ZM162.63 207.88H166.73V212H162.63ZM264.92 207.88H269.02V212H264.92ZM280.42 207.88H284.52V212H280.42ZM317.61 207.88H327.91V212H317.61ZM336.21 207.88H340.31V212H336.21ZM354.81 207.88H358.91V212H354.81ZM361.01 207.88H365.1V212H361.01ZM367.2 207.88H380.6V212H367.2ZM392 207.88H396.1V212H392ZM91.35 211H95.44V215.12H91.35ZM162.63 211H166.73V215.12H162.63ZM199.83 211H210.13V215.12H199.83ZM280.42 211H284.52V215.12H280.42ZM339.31 211H343.41V215.12H339.31ZM91.35 214.12H95.44V218.23H91.35ZM159.54 214.12H163.63V218.23H159.54ZM193.63 214.12H200.83V218.23H193.63ZM202.93 214.12H210.13V218.23H202.93ZM258.72 214.12H262.82V218.23H258.72ZM320.71 214.12H324.81V218.23H320.71ZM88.25 217.23H92.35V221.35H88.25ZM196.73 217.23H210.13V221.35H196.73ZM323.81 217.23H327.91V221.35H323.81ZM91.35 220.35H95.44V224.47H91.35ZM159.54 220.35H163.63V224.47H159.54ZM193.63 220.35H197.73V224.47H193.63ZM199.83 220.35H210.13V224.47H199.83ZM295.91 220.35H300.01V224.47H295.91ZM342.41 220.35H346.51V224.47H342.41Z"/>
<path fill="#3da3f3" d="M100.64 36.44H104.74V40.55H100.64ZM106.84 36.44H114.04V40.55H106.84ZM88.25 39.55H92.35V43.67H88.25ZM113.04 39.55H117.14V43.67H113.04ZM116.14 42.67H120.24V46.79H116.14ZM82.05 45.79H86.15V49.9H82.05ZM116.14 45.79H120.24V49.9H116.14ZM82.05 48.9H86.15V53.02H82.05ZM116.14 48.9H120.24V53.02H116.14ZM116.14 52.02H120.24V56.14H116.14ZM119.24 58.26H123.34V62.37H119.24ZM122.34 61.37H126.44V65.49H122.34ZM140.94 70.72H148.14V74.84H140.94ZM147.14 76.96H151.24V81.08H147.14ZM150.24 80.08H154.34V84.19H150.24ZM311.41 80.08H315.51V84.19H311.41ZM153.34 83.19H160.54V87.31H153.34ZM78.95 89.43H83.05V93.55H78.95ZM82.05 92.55H86.15V96.66H82.05ZM165.73 92.55H169.83V96.66H165.73ZM75.85 95.66H79.95V99.78H75.85ZM82.05 95.66H86.15V99.78H82.05ZM168.83 95.66H176.03V99.78H168.83ZM69.65 98.78H73.75V102.9H69.65ZM75.85 98.78H83.05V102.9H75.85ZM175.03 98.78H179.13V102.9H175.03ZM63.45 101.9H67.55V106.01H63.45ZM175.03 101.9H179.13V106.01H175.03ZM224.63 101.9H231.82V106.01H224.63ZM243.22 101.9H253.52V106.01H243.22ZM57.25 105.01H61.35V109.13H57.25ZM85.15 105.01H89.25V109.13H85.15ZM175.03 105.01H179.13V109.13H175.03ZM218.43 105.01H222.53V109.13H218.43ZM252.52 105.01H256.62V109.13H252.52ZM175.03 108.13H179.13V112.25H175.03ZM215.33 108.13H219.43V112.25H215.33ZM252.52 108.13H259.72V112.25H252.52ZM125.44 111.25H129.54V115.37H125.44ZM175.03 111.25H182.23V115.37H175.03ZM258.72 111.25H262.82V115.37H258.72ZM264.92 111.25H269.02V115.37H264.92ZM66.55 114.37H70.65V118.48H66.55ZM125.44 114.37H129.54V118.48H125.44ZM178.13 114.37H182.23V118.48H178.13ZM209.13 114.37H213.23V118.48H209.13ZM277.32 114.37H281.42V118.48H277.32ZM187.43 117.48H191.53V121.6H187.43ZM193.63 117.48H197.73V121.6H193.63ZM206.03 117.48H210.13V121.6H206.03ZM320.71 117.48H324.81V121.6H320.71ZM57.25 120.6H61.35V124.72H57.25ZM196.73 120.6H203.93V124.72H196.73ZM330.01 123.72H334.11V127.83H330.01ZM75.85 126.83H79.95V130.95H75.85ZM63.45 129.95H67.55V134.07H63.45ZM69.65 129.95H73.75V134.07H69.65ZM75.85 129.95H79.95V134.07H75.85ZM57.25 133.07H61.35V137.19H57.25ZM63.45 133.07H67.55V137.19H63.45ZM75.85 133.07H79.95V137.19H75.85ZM57.25 136.19H61.35V140.3H57.25ZM75.85 136.19H79.95V140.3H75.85ZM333.11 136.19H337.21V140.3H333.11ZM60.35 145.54H64.45V149.65H60.35ZM72.75 145.54H79.95V149.65H72.75ZM63.45 148.65H67.55V152.77H63.45ZM69.65 148.65H83.05V152.77H69.65ZM66.55 151.77H70.65V155.89H66.55ZM78.95 151.77H83.05V155.89H78.95ZM57.25 154.89H61.35V159.01H57.25ZM66.55 154.89H70.65V159.01H66.55ZM345.51 154.89H349.61V159.01H345.51ZM57.25 158.01H61.35V162.12H57.25ZM63.45 158.01H70.65V162.12H63.45ZM82.05 158.01H86.15V162.12H82.05ZM60.35 161.12H64.45V165.24H60.35ZM75.85 161.12H83.05V165.24H75.85ZM240.12 161.12H247.32V165.24H240.12ZM78.95 164.24H86.15V168.36H78.95ZM88.25 167.36H92.35V171.47H88.25ZM227.72 167.36H231.82V171.47H227.72ZM249.42 167.36H253.52V171.47H249.42ZM88.25 170.47H92.35V174.59H88.25ZM227.72 170.47H234.92V174.59H227.72ZM249.42 170.47H253.52V174.59H249.42ZM339.31 170.47H343.41V174.59H339.31ZM91.35 173.59H95.44V177.71H91.35ZM162.63 173.59H166.73V177.71H162.63ZM227.72 173.59H244.22V177.71H227.72ZM246.32 173.59H250.42V177.71H246.32ZM165.73 176.71H172.93V180.83H165.73ZM184.33 176.71H188.43V180.83H184.33ZM233.92 176.71H238.02V180.83H233.92ZM255.62 176.71H259.72V180.83H255.62ZM336.21 176.71H340.31V180.83H336.21ZM91.35 179.83H95.44V183.94H91.35ZM162.63 179.83H166.73V183.94H162.63ZM168.83 179.83H176.03V183.94H168.83ZM190.53 179.83H200.83V183.94H190.53ZM264.92 179.83H269.02V183.94H264.92ZM162.63 182.94H169.83V187.06H162.63ZM196.73 182.94H207.03V187.06H196.73ZM237.02 182.94H241.12V187.06H237.02ZM320.71 182.94H331.01V187.06H320.71ZM91.35 186.06H95.44V190.18H91.35ZM165.73 186.06H169.83V190.18H165.73ZM196.73 186.06H200.83V190.18H196.73ZM237.02 186.06H244.22V190.18H237.02ZM317.61 186.06H321.71V190.18H317.61ZM106.84 189.18H110.94V193.3H106.84ZM165.73 189.18H169.83V193.3H165.73ZM193.63 189.18H197.73V193.3H193.63ZM202.93 189.18H207.03V193.3H202.93ZM240.12 189.18H244.22V193.3H240.12ZM277.32 189.18H281.42V193.3H277.32ZM295.91 189.18H300.01V193.3H295.91ZM302.11 189.18H324.81V193.3H302.11ZM91.35 192.3H95.44V196.41H91.35ZM100.64 192.3H104.74V196.41H100.64ZM165.73 192.3H169.83V196.41H165.73ZM193.63 192.3H197.73V196.41H193.63ZM199.83 192.3H203.93V196.41H199.83ZM243.22 192.3H247.32V196.41H243.22ZM255.62 192.3H259.72V196.41H255.62ZM320.71 192.3H331.01V196.41H320.71ZM333.11 192.3H337.21V196.41H333.11ZM91.35 195.41H95.44V199.53H91.35ZM97.54 195.41H101.64V199.53H97.54ZM106.84 195.41H110.94V199.53H106.84ZM165.73 195.41H169.83V199.53H165.73ZM193.63 195.41H197.73V199.53H193.63ZM243.22 195.41H247.32V199.53H243.22ZM252.52 195.41H259.72V199.53H252.52ZM286.62 195.41H290.72V199.53H286.62ZM326.91 195.41H331.01V199.53H326.91ZM336.21 195.41H340.31V199.53H336.21ZM345.51 195.41H349.61V199.53H345.51ZM91.35 198.53H95.44V202.65H91.35ZM100.64 198.53H104.74V202.65H100.64ZM106.84 198.53H110.94V202.65H106.84ZM165.73 198.53H169.83V202.65H165.73ZM258.72 198.53H262.82V202.65H258.72ZM280.42 198.53H284.52V202.65H280.42ZM286.62 198.53H293.82V202.65H286.62ZM320.71 198.53H334.11V202.65H320.71ZM336.21 198.53H340.31V202.65H336.21ZM342.41 198.53H352.71V202.65H342.41ZM94.44 201.65H114.04V205.76H94.44ZM131.64 201.65H138.84V205.76H131.64ZM165.73 201.65H169.83V205.76H165.73ZM202.93 201.65H207.03V205.76H202.93ZM261.82 201.65H265.92V205.76H261.82ZM280.42 201.65H284.52V205.76H280.42ZM289.72 201.65H293.82V205.76H289.72ZM317.61 201.65H327.91V205.76H317.61ZM330.01 201.65H340.31V205.76H330.01ZM345.51 201.65H352.71V205.76H345.51ZM94.44 204.76H98.54V208.88H94.44ZM100.64 204.76H104.74V208.88H100.64ZM128.54 204.76H138.84V208.88H128.54ZM165.73 204.76H169.83V208.88H165.73ZM202.93 204.76H207.03V208.88H202.93ZM230.82 204.76H234.92V208.88H230.82ZM237.02 204.76H241.12V208.88H237.02ZM280.42 204.76H284.52V208.88H280.42ZM295.91 204.76H300.01V208.88H295.91ZM345.51 204.76H349.61V208.88H345.51ZM351.71 204.76H358.91V208.88H351.71ZM97.54 207.88H101.64V212H97.54ZM193.63 207.88H197.73V212H193.63ZM199.83 207.88H207.03V212H199.83ZM261.82 207.88H265.92V212H261.82ZM295.91 207.88H300.01V212H295.91ZM326.91 207.88H331.01V212H326.91ZM339.31 207.88H343.41V212H339.31ZM348.61 207.88H355.81V212H348.61ZM357.91 207.88H362.01V212H357.91ZM94.44 211H98.54V215.12H94.44ZM103.74 211H110.94V215.12H103.74ZM159.54 211H163.63V215.12H159.54ZM193.63 211H200.83V215.12H193.63ZM258.72 211H262.82V215.12H258.72ZM295.91 211H300.01V215.12H295.91ZM354.81 211H396.1V215.12H354.81ZM209.13 214.12H213.23V218.23H209.13ZM289.72 214.12H300.01V218.23H289.72ZM357.91 214.12H362.01V218.23H357.91ZM364.1 214.12H371.3V218.23H364.1ZM376.5 214.12H380.6V218.23H376.5ZM91.35 217.23H95.44V221.35H91.35ZM209.13 217.23H213.23V221.35H209.13ZM258.72 217.23H262.82V221.35H258.72ZM295.91 217.23H300.01V221.35H295.91ZM342.41 217.23H346.51V221.35H342.41ZM354.81 217.23H358.91V221.35H354.81ZM373.4 217.23H380.6V221.35H373.4ZM382.7 217.23H386.8V221.35H382.7ZM97.54 220.35H101.64V224.47H97.54ZM156.44 220.35H160.54V224.47H156.44ZM258.72 220.35H262.82V224.47H258.72ZM283.52 220.35H287.62V224.47H283.52ZM348.61 220.35H352.71V224.47H348.61Z"/>
<path fill="#44b0f4" d="M94.44 36.44H98.54V40.55H94.44ZM103.74 36.44H107.84V40.55H103.74ZM106.84 39.55H114.04V43.67H106.84ZM85.15 42.67H89.25V46.79H85.15ZM113.04 42.67H117.14V46.79H113.04ZM82.05 52.02H86.15V56.14H82.05ZM116.14 55.14H120.24V59.26H116.14ZM122.34 64.49H126.44V68.61H122.34ZM125.44 67.61H129.54V71.72H125.44ZM137.84 73.84H141.94V77.96H137.84ZM144.04 73.84H148.14V77.96H144.04ZM147.14 80.08H151.24V84.19H147.14ZM314.51 80.08H318.61V84.19H314.51ZM150.24 83.19H154.34V87.31H150.24ZM82.05 86.31H86.15V90.43H82.05ZM156.44 86.31H160.54V90.43H156.44ZM159.54 89.43H163.63V93.55H159.54ZM85.15 92.55H89.25V96.66H85.15ZM162.63 92.55H166.73V96.66H162.63ZM85.15 95.66H89.25V99.78H85.15ZM82.05 98.78H89.25V102.9H82.05ZM171.93 98.78H176.03V102.9H171.93ZM57.25 101.9H64.45V106.01H57.25ZM66.55 101.9H86.15V106.01H66.55ZM88.25 101.9H92.35V106.01H88.25ZM168.83 101.9H176.03V106.01H168.83ZM233.92 101.9H241.12V106.01H233.92ZM60.35 105.01H83.05V109.13H60.35ZM125.44 105.01H129.54V109.13H125.44ZM171.93 105.01H176.03V109.13H171.93ZM221.53 105.01H225.63V109.13H221.53ZM249.42 105.01H253.52V109.13H249.42ZM57.25 108.13H61.35V112.25H57.25ZM63.45 108.13H73.75V112.25H63.45ZM75.85 108.13H89.25V112.25H75.85ZM91.35 108.13H95.44V112.25H91.35ZM122.34 108.13H129.54V112.25H122.34ZM171.93 108.13H176.03V112.25H171.93ZM57.25 111.25H61.35V115.37H57.25ZM63.45 111.25H70.65V115.37H63.45ZM72.75 111.25H86.15V115.37H72.75ZM88.25 111.25H92.35V115.37H88.25ZM122.34 111.25H126.44V115.37H122.34ZM171.93 111.25H176.03V115.37H171.93ZM212.23 111.25H216.33V115.37H212.23ZM255.62 111.25H259.72V115.37H255.62ZM60.35 114.37H67.55V118.48H60.35ZM69.65 114.37H92.35V118.48H69.65ZM171.93 114.37H179.13V118.48H171.93ZM57.25 117.48H76.85V121.6H57.25ZM78.95 117.48H83.05V121.6H78.95ZM88.25 117.48H92.35V121.6H88.25ZM181.23 117.48H185.33V121.6H181.23ZM190.53 117.48H194.63V121.6H190.53ZM60.35 120.6H86.15V124.72H60.35ZM193.63 120.6H197.73V124.72H193.63ZM206.03 120.6H210.13V124.72H206.03ZM326.91 120.6H331.01V124.72H326.91ZM57.25 123.72H79.95V127.83H57.25ZM82.05 123.72H86.15V127.83H82.05ZM202.93 123.72H207.03V127.83H202.93ZM57.25 126.83H76.85V130.95H57.25ZM202.93 126.83H207.03V130.95H202.93ZM330.01 126.83H334.11V130.95H330.01ZM60.35 129.95H64.45V134.07H60.35ZM72.75 129.95H76.85V134.07H72.75ZM82.05 129.95H86.15V134.07H82.05ZM66.55 133.07H76.85V137.19H66.55ZM82.05 133.07H86.15V137.19H82.05ZM243.22 133.07H247.32V137.19H243.22ZM60.35 136.19H70.65V140.3H60.35ZM72.75 136.19H76.85V140.3H72.75ZM82.05 136.19H86.15V140.3H82.05ZM243.22 136.19H247.32V140.3H243.22ZM60.35 139.3H67.55V143.42H60.35ZM69.65 139.3H83.05V143.42H69.65ZM333.11 139.3H337.21V143.42H333.11ZM57.25 142.42H76.85V146.54H57.25ZM184.33 142.42H188.43V146.54H184.33ZM339.31 142.42H346.51V146.54H339.31ZM63.45 145.54H73.75V149.65H63.45ZM78.95 145.54H86.15V149.65H78.95ZM345.51 145.54H349.61V149.65H345.51ZM57.25 148.65H64.45V152.77H57.25ZM66.55 148.65H70.65V152.77H66.55ZM82.05 148.65H86.15V152.77H82.05ZM345.51 148.65H349.61V152.77H345.51ZM60.35 151.77H67.55V155.89H60.35ZM345.51 151.77H349.61V155.89H345.51ZM60.35 154.89H67.55V159.01H60.35ZM82.05 154.89H86.15V159.01H82.05ZM342.41 154.89H346.51V159.01H342.41ZM230.82 158.01H238.02V162.12H230.82ZM240.12 158.01H244.22V162.12H240.12ZM82.05 161.12H86.15V165.24H82.05ZM227.72 161.12H231.82V165.24H227.72ZM246.32 161.12H253.52V165.24H246.32ZM85.15 164.24H92.35V168.36H85.15ZM224.63 164.24H228.72V168.36H224.63ZM249.42 164.24H253.52V168.36H249.42ZM339.31 164.24H343.41V168.36H339.31ZM91.35 167.36H95.44V171.47H91.35ZM171.93 167.36H176.03V171.47H171.93ZM224.63 167.36H228.72V171.47H224.63ZM339.31 167.36H343.41V171.47H339.31ZM91.35 170.47H95.44V174.59H91.35ZM97.54 170.47H101.64V174.59H97.54ZM165.73 170.47H169.83V174.59H165.73ZM224.63 170.47H228.72V174.59H224.63ZM252.52 170.47H265.92V174.59H252.52ZM94.44 173.59H98.54V177.71H94.44ZM165.73 173.59H172.93V177.71H165.73ZM224.63 173.59H228.72V177.71H224.63ZM249.42 173.59H259.72V177.71H249.42ZM91.35 176.71H95.44V180.83H91.35ZM162.63 176.71H166.73V180.83H162.63ZM171.93 176.71H179.13V180.83H171.93ZM181.23 176.71H185.33V180.83H181.23ZM187.43 176.71H191.53V180.83H187.43ZM230.82 176.71H234.92V180.83H230.82ZM264.92 176.71H269.02V180.83H264.92ZM199.83 179.83H203.93V183.94H199.83ZM230.82 179.83H238.02V183.94H230.82ZM330.01 179.83H334.11V183.94H330.01ZM91.35 182.94H95.44V187.06H91.35ZM103.74 182.94H107.84V187.06H103.74ZM109.94 182.94H114.04V187.06H109.94ZM206.03 182.94H210.13V187.06H206.03ZM268.02 182.94H272.12V187.06H268.02ZM314.51 182.94H321.71V187.06H314.51ZM94.44 186.06H98.54V190.18H94.44ZM162.63 186.06H166.73V190.18H162.63ZM202.93 186.06H213.23V190.18H202.93ZM233.92 186.06H238.02V190.18H233.92ZM271.12 186.06H278.32V190.18H271.12ZM311.41 186.06H318.61V190.18H311.41ZM91.35 189.18H95.44V193.3H91.35ZM100.64 189.18H107.84V193.3H100.64ZM162.63 189.18H166.73V193.3H162.63ZM199.83 189.18H203.93V193.3H199.83ZM206.03 189.18H210.13V193.3H206.03ZM280.42 189.18H284.52V193.3H280.42ZM94.44 192.3H101.64V196.41H94.44ZM103.74 192.3H120.24V196.41H103.74ZM162.63 192.3H166.73V196.41H162.63ZM196.73 192.3H200.83V196.41H196.73ZM202.93 192.3H207.03V196.41H202.93ZM240.12 192.3H244.22V196.41H240.12ZM283.52 192.3H287.62V196.41H283.52ZM94.44 195.41H98.54V199.53H94.44ZM100.64 195.41H107.84V199.53H100.64ZM109.94 195.41H117.14V199.53H109.94ZM119.24 195.41H123.34V199.53H119.24ZM196.73 195.41H207.03V199.53H196.73ZM240.12 195.41H244.22V199.53H240.12ZM246.32 195.41H253.52V199.53H246.32ZM283.52 195.41H287.62V199.53H283.52ZM323.81 195.41H327.91V199.53H323.81ZM330.01 195.41H337.21V199.53H330.01ZM339.31 195.41H346.51V199.53H339.31ZM94.44 198.53H98.54V202.65H94.44ZM103.74 198.53H107.84V202.65H103.74ZM109.94 198.53H123.34V202.65H109.94ZM128.54 198.53H138.84V202.65H128.54ZM193.63 198.53H207.03V202.65H193.63ZM237.02 198.53H241.12V202.65H237.02ZM246.32 198.53H250.42V202.65H246.32ZM252.52 198.53H259.72V202.65H252.52ZM333.11 198.53H337.21V202.65H333.11ZM339.31 198.53H343.41V202.65H339.31ZM113.04 201.65H132.64V205.76H113.04ZM162.63 201.65H166.73V205.76H162.63ZM196.73 201.65H203.93V205.76H196.73ZM206.03 201.65H210.13V205.76H206.03ZM230.82 201.65H238.02V205.76H230.82ZM240.12 201.65H244.22V205.76H240.12ZM339.31 201.65H346.51V205.76H339.31ZM106.84 204.76H129.54V208.88H106.84ZM137.84 204.76H141.94V208.88H137.84ZM144.04 204.76H148.14V208.88H144.04ZM162.63 204.76H166.73V208.88H162.63ZM193.63 204.76H203.93V208.88H193.63ZM206.03 204.76H210.13V208.88H206.03ZM261.82 204.76H265.92V208.88H261.82ZM289.72 204.76H296.91V208.88H289.72ZM339.31 204.76H346.51V208.88H339.31ZM348.61 204.76H352.71V208.88H348.61ZM94.44 207.88H98.54V212H94.44ZM100.64 207.88H117.14V212H100.64ZM119.24 207.88H132.64V212H119.24ZM134.74 207.88H138.84V212H134.74ZM140.94 207.88H145.04V212H140.94ZM159.54 207.88H163.63V212H159.54ZM196.73 207.88H200.83V212H196.73ZM206.03 207.88H213.23V212H206.03ZM230.82 207.88H234.92V212H230.82ZM237.02 207.88H241.12V212H237.02ZM258.72 207.88H262.82V212H258.72ZM286.62 207.88H296.91V212H286.62ZM342.41 207.88H349.61V212H342.41ZM100.64 211H104.74V215.12H100.64ZM144.04 211H148.14V215.12H144.04ZM209.13 211H213.23V215.12H209.13ZM283.52 211H296.91V215.12H283.52ZM342.41 211H355.81V215.12H342.41ZM395.1 211H399.2V215.12H395.1ZM94.44 214.12H107.84V218.23H94.44ZM140.94 214.12H148.14V218.23H140.94ZM283.52 214.12H290.72V218.23H283.52ZM342.41 214.12H358.91V218.23H342.41ZM370.3 214.12H377.5V218.23H370.3ZM379.6 214.12H393V218.23H379.6ZM94.44 217.23H110.94V221.35H94.44ZM140.94 217.23H151.24V221.35H140.94ZM156.44 217.23H160.54V221.35H156.44ZM212.23 217.23H216.33V221.35H212.23ZM246.32 217.23H250.42V221.35H246.32ZM283.52 217.23H296.91V221.35H283.52ZM345.51 217.23H352.71V221.35H345.51ZM357.91 217.23H374.4V221.35H357.91ZM379.6 217.23H383.7V221.35H379.6ZM388.9 217.23H393V221.35H388.9ZM94.44 220.35H98.54V224.47H94.44ZM100.64 220.35H110.94V224.47H100.64ZM116.14 220.35H120.24V224.47H116.14ZM137.84 220.35H148.14V224.47H137.84ZM209.13 220.35H213.23V224.47H209.13ZM286.62 220.35H296.91V224.47H286.62ZM345.51 220.35H349.61V224.47H345.51ZM351.71 220.35H393V224.47H351.71Z"/>
<path fill="#47b5e5" d="M97.54 36.44H101.64V40.55H97.54ZM100.64 39.55H107.84V43.67H100.64ZM109.94 42.67H114.04V46.79H109.94ZM82.05 55.14H86.15V59.26H82.05ZM82.05 58.26H86.15V62.37H82.05ZM119.24 61.37H123.34V65.49H119.24ZM82.05 67.61H86.15V71.72H82.05ZM128.54 70.72H132.64V74.84H128.54ZM134.74 73.84H138.84V77.96H134.74ZM140.94 73.84H145.04V77.96H140.94ZM82.05 76.96H86.15V81.08H82.05ZM137.84 76.96H148.14V81.08H137.84ZM144.04 80.08H148.14V84.19H144.04ZM82.05 83.19H86.15V87.31H82.05ZM153.34 86.31H157.44V90.43H153.34ZM82.05 89.43H89.25V93.55H82.05ZM156.44 89.43H160.54V93.55H156.44ZM159.54 92.55H163.63V96.66H159.54ZM88.25 95.66H92.35V99.78H88.25ZM165.73 95.66H169.83V99.78H165.73ZM88.25 98.78H92.35V102.9H88.25ZM168.83 98.78H172.93V102.9H168.83ZM85.15 101.9H89.25V106.01H85.15ZM91.35 101.9H95.44V106.01H91.35ZM165.73 101.9H169.83V106.01H165.73ZM240.12 101.9H244.22V106.01H240.12ZM82.05 105.01H86.15V109.13H82.05ZM88.25 105.01H92.35V109.13H88.25ZM168.83 105.01H172.93V109.13H168.83ZM224.63 105.01H231.82V109.13H224.63ZM60.35 108.13H64.45V112.25H60.35ZM72.75 108.13H76.85V112.25H72.75ZM88.25 108.13H92.35V112.25H88.25ZM128.54 108.13H132.64V112.25H128.54ZM168.83 108.13H172.93V112.25H168.83ZM218.43 108.13H225.63V112.25H218.43ZM246.32 108.13H253.52V112.25H246.32ZM60.35 111.25H64.45V115.37H60.35ZM69.65 111.25H73.75V115.37H69.65ZM85.15 111.25H89.25V115.37H85.15ZM91.35 111.25H95.44V115.37H91.35ZM168.83 111.25H172.93V115.37H168.83ZM249.42 111.25H256.62V115.37H249.42ZM57.25 114.37H61.35V118.48H57.25ZM91.35 114.37H95.44V118.48H91.35ZM119.24 114.37H126.44V118.48H119.24ZM212.23 114.37H216.33V118.48H212.23ZM252.52 114.37H256.62V118.48H252.52ZM274.22 114.37H278.32V118.48H274.22ZM75.85 117.48H79.95V121.6H75.85ZM82.05 117.48H89.25V121.6H82.05ZM91.35 117.48H98.54V121.6H91.35ZM125.44 117.48H129.54V121.6H125.44ZM178.13 117.48H182.23V121.6H178.13ZM184.33 117.48H188.43V121.6H184.33ZM209.13 117.48H213.23V121.6H209.13ZM280.42 117.48H303.11V121.6H280.42ZM308.31 117.48H312.41V121.6H308.31ZM317.61 117.48H321.71V121.6H317.61ZM85.15 120.6H89.25V124.72H85.15ZM190.53 120.6H194.63V124.72H190.53ZM78.95 123.72H83.05V127.83H78.95ZM85.15 123.72H89.25V127.83H85.15ZM196.73 123.72H200.83V127.83H196.73ZM326.91 123.72H331.01V127.83H326.91ZM78.95 126.83H86.15V130.95H78.95ZM57.25 129.95H61.35V134.07H57.25ZM66.55 129.95H70.65V134.07H66.55ZM78.95 129.95H83.05V134.07H78.95ZM199.83 129.95H207.03V134.07H199.83ZM243.22 129.95H247.32V134.07H243.22ZM60.35 133.07H64.45V137.19H60.35ZM78.95 133.07H83.05V137.19H78.95ZM184.33 133.07H188.43V137.19H184.33ZM202.93 133.07H207.03V137.19H202.93ZM69.65 136.19H73.75V140.3H69.65ZM78.95 136.19H83.05V140.3H78.95ZM85.15 136.19H89.25V140.3H85.15ZM175.03 136.19H179.13V140.3H175.03ZM184.33 136.19H191.53V140.3H184.33ZM199.83 136.19H207.03V140.3H199.83ZM240.12 136.19H244.22V140.3H240.12ZM57.25 139.3H61.35V143.42H57.25ZM66.55 139.3H70.65V143.42H66.55ZM82.05 139.3H86.15V143.42H82.05ZM184.33 139.3H191.53V143.42H184.33ZM199.83 139.3H203.93V143.42H199.83ZM240.12 139.3H244.22V143.42H240.12ZM75.85 142.42H86.15V146.54H75.85ZM178.13 142.42H182.23V146.54H178.13ZM190.53 142.42H200.83V146.54H190.53ZM333.11 142.42H340.31V146.54H333.11ZM57.25 145.54H61.35V149.65H57.25ZM181.23 145.54H191.53V149.65H181.23ZM193.63 145.54H197.73V149.65H193.63ZM333.11 145.54H337.21V149.65H333.11ZM85.15 148.65H89.25V152.77H85.15ZM175.03 148.65H179.13V152.77H175.03ZM57.25 151.77H61.35V155.89H57.25ZM82.05 151.77H89.25V155.89H82.05ZM85.15 154.89H92.35V159.01H85.15ZM103.74 154.89H107.84V159.01H103.74ZM85.15 158.01H89.25V162.12H85.15ZM224.63 158.01H228.72V162.12H224.63ZM237.02 158.01H241.12V162.12H237.02ZM85.15 161.12H98.54V165.24H85.15ZM224.63 161.12H228.72V165.24H224.63ZM252.52 161.12H256.62V165.24H252.52ZM339.31 161.12H343.41V165.24H339.31ZM91.35 164.24H98.54V168.36H91.35ZM165.73 164.24H169.83V168.36H165.73ZM252.52 164.24H259.72V168.36H252.52ZM97.54 167.36H101.64V171.47H97.54ZM168.83 167.36H172.93V171.47H168.83ZM252.52 167.36H262.82V171.47H252.52ZM94.44 170.47H98.54V174.59H94.44ZM100.64 170.47H104.74V174.59H100.64ZM109.94 170.47H114.04V174.59H109.94ZM116.14 170.47H120.24V174.59H116.14ZM162.63 170.47H166.73V174.59H162.63ZM168.83 170.47H179.13V174.59H168.83ZM221.53 170.47H225.63V174.59H221.53ZM264.92 170.47H269.02V174.59H264.92ZM97.54 173.59H117.14V177.71H97.54ZM159.54 173.59H163.63V177.71H159.54ZM171.93 173.59H179.13V177.71H171.93ZM258.72 173.59H269.02V177.71H258.72ZM336.21 173.59H340.31V177.71H336.21ZM94.44 176.71H114.04V180.83H94.44ZM178.13 176.71H182.23V180.83H178.13ZM190.53 176.71H197.73V180.83H190.53ZM224.63 176.71H231.82V180.83H224.63ZM333.11 176.71H337.21V180.83H333.11ZM94.44 179.83H98.54V183.94H94.44ZM100.64 179.83H120.24V183.94H100.64ZM159.54 179.83H163.63V183.94H159.54ZM202.93 179.83H207.03V183.94H202.93ZM224.63 179.83H228.72V183.94H224.63ZM268.02 179.83H272.12V183.94H268.02ZM323.81 179.83H331.01V183.94H323.81ZM94.44 182.94H101.64V187.06H94.44ZM106.84 182.94H110.94V187.06H106.84ZM113.04 182.94H117.14V187.06H113.04ZM209.13 182.94H213.23V187.06H209.13ZM227.72 182.94H238.02V187.06H227.72ZM308.31 182.94H315.51V187.06H308.31ZM97.54 186.06H120.24V190.18H97.54ZM159.54 186.06H163.63V190.18H159.54ZM230.82 186.06H234.92V190.18H230.82ZM299.01 186.06H303.11V190.18H299.01ZM305.21 186.06H312.41V190.18H305.21ZM94.44 189.18H101.64V193.3H94.44ZM109.94 189.18H123.34V193.3H109.94ZM159.54 189.18H163.63V193.3H159.54ZM230.82 189.18H234.92V193.3H230.82ZM237.02 189.18H241.12V193.3H237.02ZM283.52 189.18H296.91V193.3H283.52ZM119.24 192.3H129.54V196.41H119.24ZM159.54 192.3H163.63V196.41H159.54ZM209.13 192.3H213.23V196.41H209.13ZM237.02 192.3H241.12V196.41H237.02ZM116.14 195.41H120.24V199.53H116.14ZM122.34 195.41H126.44V199.53H122.34ZM128.54 195.41H135.74V199.53H128.54ZM162.63 195.41H166.73V199.53H162.63ZM206.03 195.41H213.23V199.53H206.03ZM237.02 195.41H241.12V199.53H237.02ZM159.54 198.53H166.73V202.65H159.54ZM206.03 198.53H210.13V202.65H206.03ZM227.72 198.53H238.02V202.65H227.72ZM240.12 198.53H247.32V202.65H240.12ZM283.52 198.53H287.62V202.65H283.52ZM137.84 201.65H145.04V205.76H137.84ZM159.54 201.65H163.63V205.76H159.54ZM193.63 201.65H197.73V205.76H193.63ZM209.13 201.65H213.23V205.76H209.13ZM227.72 201.65H231.82V205.76H227.72ZM237.02 201.65H241.12V205.76H237.02ZM243.22 201.65H247.32V205.76H243.22ZM258.72 201.65H262.82V205.76H258.72ZM283.52 201.65H290.72V205.76H283.52ZM140.94 204.76H145.04V208.88H140.94ZM159.54 204.76H163.63V208.88H159.54ZM209.13 204.76H213.23V208.88H209.13ZM221.53 204.76H231.82V208.88H221.53ZM240.12 204.76H244.22V208.88H240.12ZM258.72 204.76H262.82V208.88H258.72ZM283.52 204.76H290.72V208.88H283.52ZM116.14 207.88H120.24V212H116.14ZM131.64 207.88H135.74V212H131.64ZM137.84 207.88H141.94V212H137.84ZM144.04 207.88H148.14V212H144.04ZM212.23 207.88H219.43V212H212.23ZM224.63 207.88H231.82V212H224.63ZM233.92 207.88H238.02V212H233.92ZM255.62 207.88H259.72V212H255.62ZM283.52 207.88H287.62V212H283.52ZM97.54 211H101.64V215.12H97.54ZM109.94 211H145.04V215.12H109.94ZM150.24 211H154.34V215.12H150.24ZM212.23 211H219.43V215.12H212.23ZM227.72 211H241.12V215.12H227.72ZM246.32 211H250.42V215.12H246.32ZM255.62 211H259.72V215.12H255.62ZM106.84 214.12H114.04V218.23H106.84ZM116.14 214.12H132.64V218.23H116.14ZM137.84 214.12H141.94V218.23H137.84ZM147.14 214.12H151.24V218.23H147.14ZM156.44 214.12H160.54V218.23H156.44ZM212.23 214.12H219.43V218.23H212.23ZM227.72 214.12H234.92V218.23H227.72ZM237.02 214.12H241.12V218.23H237.02ZM246.32 214.12H250.42V218.23H246.32ZM255.62 214.12H259.72V218.23H255.62ZM361.01 214.12H365.1V218.23H361.01ZM392 214.12H396.1V218.23H392ZM116.14 217.23H123.34V221.35H116.14ZM125.44 217.23H132.64V221.35H125.44ZM134.74 217.23H141.94V221.35H134.74ZM215.33 217.23H219.43V221.35H215.33ZM227.72 217.23H234.92V221.35H227.72ZM240.12 217.23H244.22V221.35H240.12ZM249.42 217.23H253.52V221.35H249.42ZM255.62 217.23H259.72V221.35H255.62ZM351.71 217.23H355.81V221.35H351.71ZM385.8 217.23H389.9V221.35H385.8ZM392 217.23H396.1V221.35H392ZM109.94 220.35H117.14V224.47H109.94ZM119.24 220.35H126.44V224.47H119.24ZM134.74 220.35H138.84V224.47H134.74ZM147.14 220.35H151.24V224.47H147.14ZM212.23 220.35H219.43V224.47H212.23ZM233.92 220.35H244.22V224.47H233.92ZM246.32 220.35H250.42V224.47H246.32ZM392 220.35H399.2V224.47H392Z"/>
<path fill="#4abad6" d="M91.35 39.55H101.64V43.67H91.35ZM88.25 42.67H92.35V46.79H88.25ZM85.15 45.79H89.25V49.9H85.15ZM113.04 45.79H117.14V49.9H113.04ZM113.04 48.9H117.14V53.02H113.04ZM113.04 52.02H117.14V56.14H113.04ZM113.04 55.14H117.14V59.26H113.04ZM116.14 58.26H120.24V62.37H116.14ZM82.05 61.37H86.15V65.49H82.05ZM82.05 64.49H86.15V68.61H82.05ZM82.05 70.72H86.15V74.84H82.05ZM125.44 70.72H129.54V74.84H125.44ZM82.05 73.84H86.15V77.96H82.05ZM131.64 73.84H135.74V77.96H131.64ZM134.74 76.96H138.84V81.08H134.74ZM82.05 80.08H86.15V84.19H82.05ZM137.84 80.08H141.94V84.19H137.84ZM144.04 83.19H148.14V87.31H144.04ZM144.04 86.31H148.14V90.43H144.04ZM150.24 86.31H154.34V90.43H150.24ZM88.25 92.55H92.35V96.66H88.25ZM91.35 98.78H95.44V102.9H91.35ZM162.63 98.78H169.83V102.9H162.63ZM94.44 101.9H98.54V106.01H94.44ZM125.44 101.9H129.54V106.01H125.44ZM162.63 101.9H166.73V106.01H162.63ZM91.35 105.01H98.54V109.13H91.35ZM122.34 105.01H126.44V109.13H122.34ZM128.54 105.01H132.64V109.13H128.54ZM165.73 105.01H169.83V109.13H165.73ZM230.82 105.01H250.42V109.13H230.82ZM94.44 108.13H98.54V112.25H94.44ZM119.24 108.13H123.34V112.25H119.24ZM165.73 108.13H169.83V112.25H165.73ZM233.92 108.13H241.12V112.25H233.92ZM94.44 111.25H98.54V115.37H94.44ZM119.24 111.25H123.34V115.37H119.24ZM165.73 111.25H169.83V115.37H165.73ZM215.33 111.25H222.53V115.37H215.33ZM246.32 111.25H250.42V115.37H246.32ZM94.44 114.37H98.54V118.48H94.44ZM128.54 114.37H132.64V118.48H128.54ZM144.04 114.37H148.14V118.48H144.04ZM165.73 114.37H172.93V118.48H165.73ZM258.72 114.37H265.92V118.48H258.72ZM268.02 114.37H275.22V118.48H268.02ZM165.73 117.48H179.13V121.6H165.73ZM302.11 117.48H309.31V121.6H302.11ZM311.41 117.48H318.61V121.6H311.41ZM88.25 120.6H92.35V124.72H88.25ZM175.03 120.6H179.13V124.72H175.03ZM181.23 120.6H191.53V124.72H181.23ZM323.81 120.6H327.91V124.72H323.81ZM88.25 123.72H92.35V127.83H88.25ZM193.63 123.72H197.73V127.83H193.63ZM199.83 123.72H203.93V127.83H199.83ZM206.03 123.72H210.13V127.83H206.03ZM85.15 126.83H92.35V130.95H85.15ZM190.53 126.83H203.93V130.95H190.53ZM85.15 129.95H92.35V134.07H85.15ZM178.13 129.95H182.23V134.07H178.13ZM184.33 129.95H188.43V134.07H184.33ZM190.53 129.95H200.83V134.07H190.53ZM246.32 129.95H250.42V134.07H246.32ZM85.15 133.07H95.44V137.19H85.15ZM175.03 133.07H185.33V137.19H175.03ZM187.43 133.07H194.63V137.19H187.43ZM196.73 133.07H203.93V137.19H196.73ZM240.12 133.07H244.22V137.19H240.12ZM88.25 136.19H92.35V140.3H88.25ZM178.13 136.19H185.33V140.3H178.13ZM190.53 136.19H200.83V140.3H190.53ZM330.01 136.19H334.11V140.3H330.01ZM85.15 139.3H92.35V143.42H85.15ZM175.03 139.3H185.33V143.42H175.03ZM190.53 139.3H200.83V143.42H190.53ZM202.93 139.3H207.03V143.42H202.93ZM243.22 139.3H247.32V143.42H243.22ZM85.15 142.42H92.35V146.54H85.15ZM175.03 142.42H179.13V146.54H175.03ZM181.23 142.42H185.33V146.54H181.23ZM187.43 142.42H191.53V146.54H187.43ZM199.83 142.42H203.93V146.54H199.83ZM85.15 145.54H92.35V149.65H85.15ZM175.03 145.54H182.23V149.65H175.03ZM190.53 145.54H194.63V149.65H190.53ZM196.73 145.54H207.03V149.65H196.73ZM336.21 145.54H346.51V149.65H336.21ZM178.13 148.65H194.63V152.77H178.13ZM88.25 151.77H92.35V155.89H88.25ZM178.13 151.77H188.43V155.89H178.13ZM91.35 154.89H95.44V159.01H91.35ZM175.03 154.89H179.13V159.01H175.03ZM227.72 154.89H234.92V159.01H227.72ZM88.25 158.01H95.44V162.12H88.25ZM97.54 158.01H107.84V162.12H97.54ZM175.03 158.01H182.23V162.12H175.03ZM227.72 158.01H231.82V162.12H227.72ZM243.22 158.01H247.32V162.12H243.22ZM249.42 158.01H253.52V162.12H249.42ZM339.31 158.01H343.41V162.12H339.31ZM97.54 161.12H107.84V165.24H97.54ZM109.94 161.12H114.04V165.24H109.94ZM168.83 161.12H179.13V165.24H168.83ZM221.53 161.12H225.63V165.24H221.53ZM255.62 161.12H259.72V165.24H255.62ZM97.54 164.24H104.74V168.36H97.54ZM109.94 164.24H117.14V168.36H109.94ZM168.83 164.24H179.13V168.36H168.83ZM221.53 164.24H225.63V168.36H221.53ZM258.72 164.24H262.82V168.36H258.72ZM94.44 167.36H98.54V171.47H94.44ZM100.64 167.36H123.34V171.47H100.64ZM162.63 167.36H169.83V171.47H162.63ZM175.03 167.36H182.23V171.47H175.03ZM221.53 167.36H225.63V171.47H221.53ZM261.82 167.36H265.92V171.47H261.82ZM113.04 170.47H117.14V174.59H113.04ZM122.34 170.47H126.44V174.59H122.34ZM159.54 170.47H163.63V174.59H159.54ZM181.23 170.47H185.33V174.59H181.23ZM116.14 173.59H120.24V177.71H116.14ZM125.44 173.59H129.54V177.71H125.44ZM178.13 173.59H197.73V177.71H178.13ZM221.53 173.59H225.63V177.71H221.53ZM113.04 176.71H126.44V180.83H113.04ZM159.54 176.71H163.63V180.83H159.54ZM196.73 176.71H200.83V180.83H196.73ZM221.53 176.71H225.63V180.83H221.53ZM97.54 179.83H101.64V183.94H97.54ZM119.24 179.83H123.34V183.94H119.24ZM206.03 179.83H210.13V183.94H206.03ZM227.72 179.83H231.82V183.94H227.72ZM100.64 182.94H104.74V187.06H100.64ZM116.14 182.94H129.54V187.06H116.14ZM159.54 182.94H163.63V187.06H159.54ZM212.23 182.94H216.33V187.06H212.23ZM271.12 182.94H275.22V187.06H271.12ZM305.21 182.94H309.31V187.06H305.21ZM119.24 186.06H132.64V190.18H119.24ZM212.23 186.06H216.33V190.18H212.23ZM277.32 186.06H281.42V190.18H277.32ZM295.91 186.06H300.01V190.18H295.91ZM302.11 186.06H306.21V190.18H302.11ZM122.34 189.18H132.64V193.3H122.34ZM209.13 189.18H213.23V193.3H209.13ZM215.33 189.18H222.53V193.3H215.33ZM227.72 189.18H231.82V193.3H227.72ZM233.92 189.18H238.02V193.3H233.92ZM128.54 192.3H138.84V196.41H128.54ZM206.03 192.3H210.13V196.41H206.03ZM212.23 192.3H216.33V196.41H212.23ZM230.82 192.3H238.02V196.41H230.82ZM125.44 195.41H129.54V199.53H125.44ZM134.74 195.41H141.94V199.53H134.74ZM159.54 195.41H163.63V199.53H159.54ZM233.92 195.41H238.02V199.53H233.92ZM122.34 198.53H129.54V202.65H122.34ZM137.84 198.53H141.94V202.65H137.84ZM209.13 198.53H216.33V202.65H209.13ZM249.42 198.53H253.52V202.65H249.42ZM144.04 201.65H148.14V205.76H144.04ZM156.44 201.65H160.54V205.76H156.44ZM212.23 201.65H216.33V205.76H212.23ZM218.43 201.65H228.72V205.76H218.43ZM246.32 201.65H253.52V205.76H246.32ZM255.62 201.65H259.72V205.76H255.62ZM147.14 204.76H154.34V208.88H147.14ZM212.23 204.76H222.53V208.88H212.23ZM243.22 204.76H250.42V208.88H243.22ZM147.14 207.88H154.34V212H147.14ZM156.44 207.88H160.54V212H156.44ZM218.43 207.88H225.63V212H218.43ZM240.12 207.88H250.42V212H240.12ZM147.14 211H151.24V215.12H147.14ZM153.34 211H160.54V215.12H153.34ZM218.43 211H228.72V215.12H218.43ZM240.12 211H247.32V215.12H240.12ZM249.42 211H253.52V215.12H249.42ZM113.04 214.12H117.14V218.23H113.04ZM131.64 214.12H138.84V218.23H131.64ZM150.24 214.12H157.44V218.23H150.24ZM218.43 214.12H222.53V218.23H218.43ZM233.92 214.12H238.02V218.23H233.92ZM240.12 214.12H247.32V218.23H240.12ZM249.42 214.12H256.62V218.23H249.42ZM395.1 214.12H399.2V218.23H395.1ZM109.94 217.23H117.14V221.35H109.94ZM122.34 217.23H126.44V221.35H122.34ZM131.64 217.23H135.74V221.35H131.64ZM150.24 217.23H157.44V221.35H150.24ZM218.43 217.23H222.53V221.35H218.43ZM233.92 217.23H241.12V221.35H233.92ZM243.22 217.23H247.32V221.35H243.22ZM252.52 217.23H256.62V221.35H252.52ZM395.1 217.23H399.2V221.35H395.1ZM125.44 220.35H135.74V224.47H125.44ZM150.24 220.35H157.44V224.47H150.24ZM224.63 220.35H234.92V224.47H224.63ZM243.22 220.35H247.32V224.47H243.22ZM249.42 220.35H259.72V224.47H249.42Z"/>
<path fill="#4ebec6" d="M103.74 42.67H110.94V46.79H103.74ZM109.94 45.79H114.04V49.9H109.94ZM116.14 61.37H120.24V65.49H116.14ZM119.24 64.49H123.34V68.61H119.24ZM122.34 67.61H126.44V71.72H122.34ZM128.54 73.84H132.64V77.96H128.54ZM131.64 76.96H135.74V81.08H131.64ZM134.74 80.08H138.84V84.19H134.74ZM140.94 80.08H145.04V84.19H140.94ZM137.84 83.19H145.04V87.31H137.84ZM147.14 83.19H151.24V87.31H147.14ZM85.15 86.31H89.25V90.43H85.15ZM147.14 86.31H151.24V90.43H147.14ZM147.14 89.43H157.44V93.55H147.14ZM147.14 92.55H154.34V96.66H147.14ZM156.44 92.55H160.54V96.66H156.44ZM91.35 95.66H98.54V99.78H91.35ZM156.44 95.66H166.73V99.78H156.44ZM94.44 98.78H98.54V102.9H94.44ZM159.54 98.78H163.63V102.9H159.54ZM156.44 101.9H163.63V106.01H156.44ZM97.54 105.01H101.64V109.13H97.54ZM119.24 105.01H123.34V109.13H119.24ZM159.54 105.01H166.73V109.13H159.54ZM97.54 108.13H101.64V112.25H97.54ZM116.14 108.13H120.24V112.25H116.14ZM131.64 108.13H135.74V112.25H131.64ZM144.04 108.13H148.14V112.25H144.04ZM159.54 108.13H166.73V112.25H159.54ZM224.63 108.13H234.92V112.25H224.63ZM240.12 108.13H247.32V112.25H240.12ZM128.54 111.25H135.74V115.37H128.54ZM140.94 111.25H148.14V115.37H140.94ZM221.53 111.25H228.72V115.37H221.53ZM243.22 111.25H247.32V115.37H243.22ZM97.54 114.37H101.64V118.48H97.54ZM116.14 114.37H120.24V118.48H116.14ZM131.64 114.37H135.74V118.48H131.64ZM140.94 114.37H145.04V118.48H140.94ZM147.14 114.37H151.24V118.48H147.14ZM159.54 114.37H166.73V118.48H159.54ZM215.33 114.37H219.43V118.48H215.33ZM246.32 114.37H253.52V118.48H246.32ZM264.92 114.37H269.02V118.48H264.92ZM128.54 117.48H135.74V121.6H128.54ZM144.04 117.48H148.14V121.6H144.04ZM277.32 117.48H281.42V121.6H277.32ZM91.35 120.6H98.54V124.72H91.35ZM171.93 120.6H176.03V124.72H171.93ZM178.13 120.6H182.23V124.72H178.13ZM209.13 120.6H213.23V124.72H209.13ZM320.71 120.6H324.81V124.72H320.71ZM91.35 123.72H95.44V127.83H91.35ZM178.13 123.72H182.23V127.83H178.13ZM190.53 123.72H194.63V127.83H190.53ZM91.35 126.83H95.44V130.95H91.35ZM178.13 126.83H182.23V130.95H178.13ZM184.33 126.83H191.53V130.95H184.33ZM206.03 126.83H210.13V130.95H206.03ZM240.12 126.83H244.22V130.95H240.12ZM91.35 129.95H98.54V134.07H91.35ZM175.03 129.95H179.13V134.07H175.03ZM181.23 129.95H185.33V134.07H181.23ZM187.43 129.95H191.53V134.07H187.43ZM206.03 129.95H210.13V134.07H206.03ZM240.12 129.95H244.22V134.07H240.12ZM330.01 129.95H334.11V134.07H330.01ZM193.63 133.07H197.73V137.19H193.63ZM237.02 133.07H241.12V137.19H237.02ZM246.32 133.07H250.42V137.19H246.32ZM330.01 133.07H334.11V137.19H330.01ZM91.35 136.19H98.54V140.3H91.35ZM206.03 136.19H210.13V140.3H206.03ZM237.02 136.19H241.12V140.3H237.02ZM246.32 136.19H250.42V140.3H246.32ZM91.35 139.3H95.44V143.42H91.35ZM233.92 139.3H241.12V143.42H233.92ZM246.32 139.3H250.42V143.42H246.32ZM330.01 139.3H334.11V143.42H330.01ZM91.35 142.42H95.44V146.54H91.35ZM202.93 142.42H207.03V146.54H202.93ZM246.32 142.42H250.42V146.54H246.32ZM91.35 145.54H98.54V149.65H91.35ZM330.01 145.54H334.11V149.65H330.01ZM88.25 148.65H95.44V152.77H88.25ZM193.63 148.65H200.83V152.77H193.63ZM333.11 148.65H346.51V152.77H333.11ZM91.35 151.77H101.64V155.89H91.35ZM103.74 151.77H110.94V155.89H103.74ZM125.44 151.77H129.54V155.89H125.44ZM171.93 151.77H179.13V155.89H171.93ZM187.43 151.77H194.63V155.89H187.43ZM221.53 151.77H231.82V155.89H221.53ZM240.12 151.77H244.22V155.89H240.12ZM336.21 151.77H343.41V155.89H336.21ZM94.44 154.89H98.54V159.01H94.44ZM100.64 154.89H104.74V159.01H100.64ZM106.84 154.89H110.94V159.01H106.84ZM122.34 154.89H132.64V159.01H122.34ZM168.83 154.89H176.03V159.01H168.83ZM178.13 154.89H191.53V159.01H178.13ZM215.33 154.89H228.72V159.01H215.33ZM233.92 154.89H244.22V159.01H233.92ZM339.31 154.89H343.41V159.01H339.31ZM94.44 158.01H98.54V162.12H94.44ZM106.84 158.01H110.94V162.12H106.84ZM116.14 158.01H120.24V162.12H116.14ZM122.34 158.01H129.54V162.12H122.34ZM168.83 158.01H176.03V162.12H168.83ZM221.53 158.01H225.63V162.12H221.53ZM246.32 158.01H250.42V162.12H246.32ZM252.52 158.01H256.62V162.12H252.52ZM106.84 161.12H110.94V165.24H106.84ZM113.04 161.12H117.14V165.24H113.04ZM122.34 161.12H129.54V165.24H122.34ZM159.54 161.12H163.63V165.24H159.54ZM165.73 161.12H169.83V165.24H165.73ZM178.13 161.12H182.23V165.24H178.13ZM336.21 161.12H340.31V165.24H336.21ZM103.74 164.24H110.94V168.36H103.74ZM116.14 164.24H123.34V168.36H116.14ZM162.63 164.24H166.73V168.36H162.63ZM178.13 164.24H182.23V168.36H178.13ZM122.34 167.36H129.54V171.47H122.34ZM159.54 167.36H163.63V171.47H159.54ZM181.23 167.36H185.33V171.47H181.23ZM336.21 167.36H340.31V171.47H336.21ZM103.74 170.47H110.94V174.59H103.74ZM119.24 170.47H123.34V174.59H119.24ZM125.44 170.47H132.64V174.59H125.44ZM178.13 170.47H182.23V174.59H178.13ZM184.33 170.47H188.43V174.59H184.33ZM190.53 170.47H197.73V174.59H190.53ZM336.21 170.47H340.31V174.59H336.21ZM119.24 173.59H126.44V177.71H119.24ZM196.73 173.59H200.83V177.71H196.73ZM333.11 173.59H337.21V177.71H333.11ZM125.44 176.71H132.64V180.83H125.44ZM156.44 176.71H160.54V180.83H156.44ZM199.83 176.71H207.03V180.83H199.83ZM209.13 176.71H213.23V180.83H209.13ZM218.43 176.71H222.53V180.83H218.43ZM268.02 176.71H272.12V180.83H268.02ZM122.34 179.83H132.64V183.94H122.34ZM156.44 179.83H160.54V183.94H156.44ZM209.13 179.83H216.33V183.94H209.13ZM218.43 179.83H225.63V183.94H218.43ZM317.61 179.83H324.81V183.94H317.61ZM134.74 182.94H138.84V187.06H134.74ZM156.44 182.94H160.54V187.06H156.44ZM215.33 182.94H228.72V187.06H215.33ZM302.11 182.94H306.21V187.06H302.11ZM131.64 186.06H135.74V190.18H131.64ZM156.44 186.06H160.54V190.18H156.44ZM215.33 186.06H225.63V190.18H215.33ZM227.72 186.06H231.82V190.18H227.72ZM280.42 186.06H293.82V190.18H280.42ZM131.64 189.18H138.84V193.3H131.64ZM156.44 189.18H160.54V193.3H156.44ZM212.23 189.18H216.33V193.3H212.23ZM137.84 192.3H141.94V196.41H137.84ZM153.34 192.3H160.54V196.41H153.34ZM215.33 192.3H219.43V196.41H215.33ZM227.72 192.3H231.82V196.41H227.72ZM153.34 195.41H160.54V199.53H153.34ZM215.33 195.41H225.63V199.53H215.33ZM227.72 195.41H234.92V199.53H227.72ZM140.94 198.53H151.24V202.65H140.94ZM156.44 198.53H160.54V202.65H156.44ZM215.33 198.53H228.72V202.65H215.33ZM147.14 201.65H157.44V205.76H147.14ZM215.33 201.65H219.43V205.76H215.33ZM252.52 201.65H256.62V205.76H252.52ZM153.34 204.76H160.54V208.88H153.34ZM249.42 204.76H253.52V208.88H249.42ZM255.62 204.76H259.72V208.88H255.62ZM153.34 207.88H157.44V212H153.34ZM249.42 207.88H256.62V212H249.42ZM252.52 211H256.62V215.12H252.52ZM221.53 214.12H228.72V218.23H221.53ZM221.53 217.23H228.72V221.35H221.53ZM218.43 220.35H225.63V224.47H218.43Z"/>
<path fill="#51c3b7" d="M91.35 42.67H95.44V46.79H91.35ZM97.54 42.67H104.74V46.79H97.54ZM103.74 45.79H110.94V49.9H103.74ZM85.15 48.9H89.25V53.02H85.15ZM109.94 48.9H114.04V53.02H109.94ZM85.15 52.02H89.25V56.14H85.15ZM109.94 52.02H114.04V56.14H109.94ZM113.04 58.26H117.14V62.37H113.04ZM85.15 67.61H89.25V71.72H85.15ZM122.34 70.72H126.44V74.84H122.34ZM311.41 70.72H318.61V74.84H311.41ZM131.64 80.08H135.74V84.19H131.64ZM85.15 83.19H89.25V87.31H85.15ZM137.84 86.31H141.94V90.43H137.84ZM88.25 89.43H95.44V93.55H88.25ZM144.04 89.43H148.14V93.55H144.04ZM91.35 92.55H95.44V96.66H91.35ZM153.34 92.55H157.44V96.66H153.34ZM144.04 95.66H148.14V99.78H144.04ZM150.24 95.66H157.44V99.78H150.24ZM140.94 98.78H148.14V102.9H140.94ZM156.44 98.78H160.54V102.9H156.44ZM122.34 101.9H126.44V106.01H122.34ZM128.54 101.9H135.74V106.01H128.54ZM140.94 101.9H145.04V106.01H140.94ZM147.14 101.9H151.24V106.01H147.14ZM153.34 101.9H157.44V106.01H153.34ZM116.14 105.01H120.24V109.13H116.14ZM131.64 105.01H135.74V109.13H131.64ZM137.84 105.01H154.34V109.13H137.84ZM156.44 105.01H160.54V109.13H156.44ZM134.74 108.13H145.04V112.25H134.74ZM147.14 108.13H151.24V112.25H147.14ZM153.34 108.13H160.54V112.25H153.34ZM97.54 111.25H101.64V115.37H97.54ZM113.04 111.25H120.24V115.37H113.04ZM134.74 111.25H141.94V115.37H134.74ZM147.14 111.25H154.34V115.37H147.14ZM156.44 111.25H166.73V115.37H156.44ZM227.72 111.25H244.22V115.37H227.72ZM100.64 114.37H104.74V118.48H100.64ZM113.04 114.37H117.14V118.48H113.04ZM134.74 114.37H141.94V118.48H134.74ZM150.24 114.37H154.34V118.48H150.24ZM156.44 114.37H160.54V118.48H156.44ZM218.43 114.37H225.63V118.48H218.43ZM227.72 114.37H231.82V118.48H227.72ZM237.02 114.37H247.32V118.48H237.02ZM255.62 114.37H259.72V118.48H255.62ZM97.54 117.48H104.74V121.6H97.54ZM119.24 117.48H126.44V121.6H119.24ZM137.84 117.48H145.04V121.6H137.84ZM162.63 117.48H166.73V121.6H162.63ZM212.23 117.48H216.33V121.6H212.23ZM240.12 117.48H247.32V121.6H240.12ZM249.42 117.48H253.52V121.6H249.42ZM274.22 117.48H278.32V121.6H274.22ZM97.54 120.6H101.64V124.72H97.54ZM122.34 120.6H129.54V124.72H122.34ZM168.83 120.6H172.93V124.72H168.83ZM283.52 120.6H287.62V124.72H283.52ZM94.44 123.72H98.54V127.83H94.44ZM168.83 123.72H179.13V127.83H168.83ZM184.33 123.72H191.53V127.83H184.33ZM323.81 123.72H327.91V127.83H323.81ZM94.44 126.83H101.64V130.95H94.44ZM171.93 126.83H179.13V130.95H171.93ZM181.23 126.83H185.33V130.95H181.23ZM237.02 126.83H241.12V130.95H237.02ZM243.22 126.83H247.32V130.95H243.22ZM326.91 126.83H331.01V130.95H326.91ZM97.54 129.95H101.64V134.07H97.54ZM171.93 129.95H176.03V134.07H171.93ZM237.02 129.95H241.12V134.07H237.02ZM94.44 133.07H101.64V137.19H94.44ZM168.83 133.07H176.03V137.19H168.83ZM206.03 133.07H210.13V137.19H206.03ZM97.54 136.19H104.74V140.3H97.54ZM171.93 136.19H176.03V140.3H171.93ZM233.92 136.19H238.02V140.3H233.92ZM94.44 139.3H101.64V143.42H94.44ZM171.93 139.3H176.03V143.42H171.93ZM206.03 139.3H210.13V143.42H206.03ZM94.44 142.42H101.64V146.54H94.44ZM140.94 142.42H145.04V146.54H140.94ZM171.93 142.42H176.03V146.54H171.93ZM206.03 142.42H210.13V146.54H206.03ZM243.22 142.42H247.32V146.54H243.22ZM330.01 142.42H334.11V146.54H330.01ZM97.54 145.54H104.74V149.65H97.54ZM131.64 145.54H135.74V149.65H131.64ZM171.93 145.54H176.03V149.65H171.93ZM237.02 145.54H244.22V149.65H237.02ZM94.44 148.65H107.84V152.77H94.44ZM128.54 148.65H132.64V152.77H128.54ZM137.84 148.65H141.94V152.77H137.84ZM144.04 148.65H151.24V152.77H144.04ZM171.93 148.65H176.03V152.77H171.93ZM199.83 148.65H203.93V152.77H199.83ZM206.03 148.65H210.13V152.77H206.03ZM221.53 148.65H225.63V152.77H221.53ZM227.72 148.65H234.92V152.77H227.72ZM237.02 148.65H241.12V152.77H237.02ZM246.32 148.65H253.52V152.77H246.32ZM330.01 148.65H334.11V152.77H330.01ZM100.64 151.77H104.74V155.89H100.64ZM109.94 151.77H114.04V155.89H109.94ZM119.24 151.77H126.44V155.89H119.24ZM128.54 151.77H135.74V155.89H128.54ZM144.04 151.77H148.14V155.89H144.04ZM150.24 151.77H157.44V155.89H150.24ZM193.63 151.77H200.83V155.89H193.63ZM215.33 151.77H222.53V155.89H215.33ZM230.82 151.77H241.12V155.89H230.82ZM243.22 151.77H247.32V155.89H243.22ZM249.42 151.77H253.52V155.89H249.42ZM342.41 151.77H346.51V155.89H342.41ZM97.54 154.89H101.64V159.01H97.54ZM119.24 154.89H123.34V159.01H119.24ZM131.64 154.89H135.74V159.01H131.64ZM153.34 154.89H157.44V159.01H153.34ZM190.53 154.89H197.73V159.01H190.53ZM212.23 154.89H216.33V159.01H212.23ZM243.22 154.89H253.52V159.01H243.22ZM109.94 158.01H117.14V162.12H109.94ZM119.24 158.01H123.34V162.12H119.24ZM128.54 158.01H138.84V162.12H128.54ZM156.44 158.01H163.63V162.12H156.44ZM165.73 158.01H169.83V162.12H165.73ZM181.23 158.01H194.63V162.12H181.23ZM218.43 158.01H222.53V162.12H218.43ZM255.62 158.01H259.72V162.12H255.62ZM336.21 158.01H340.31V162.12H336.21ZM116.14 161.12H123.34V165.24H116.14ZM131.64 161.12H135.74V165.24H131.64ZM162.63 161.12H166.73V165.24H162.63ZM181.23 161.12H188.43V165.24H181.23ZM193.63 161.12H197.73V165.24H193.63ZM218.43 161.12H222.53V165.24H218.43ZM258.72 161.12H262.82V165.24H258.72ZM122.34 164.24H129.54V168.36H122.34ZM131.64 164.24H138.84V168.36H131.64ZM156.44 164.24H163.63V168.36H156.44ZM193.63 164.24H197.73V168.36H193.63ZM261.82 164.24H265.92V168.36H261.82ZM336.21 164.24H340.31V168.36H336.21ZM128.54 167.36H132.64V171.47H128.54ZM153.34 167.36H160.54V171.47H153.34ZM184.33 167.36H197.73V171.47H184.33ZM264.92 167.36H269.02V171.47H264.92ZM156.44 170.47H160.54V174.59H156.44ZM187.43 170.47H191.53V174.59H187.43ZM196.73 170.47H200.83V174.59H196.73ZM218.43 170.47H222.53V174.59H218.43ZM268.02 170.47H272.12V174.59H268.02ZM128.54 173.59H135.74V177.71H128.54ZM156.44 173.59H160.54V177.71H156.44ZM199.83 173.59H203.93V177.71H199.83ZM218.43 173.59H222.53V177.71H218.43ZM268.02 173.59H272.12V177.71H268.02ZM330.01 173.59H334.11V177.71H330.01ZM131.64 176.71H138.84V180.83H131.64ZM153.34 176.71H157.44V180.83H153.34ZM206.03 176.71H210.13V180.83H206.03ZM326.91 176.71H334.11V180.83H326.91ZM131.64 179.83H138.84V183.94H131.64ZM153.34 179.83H157.44V183.94H153.34ZM271.12 179.83H275.22V183.94H271.12ZM308.31 179.83H318.61V183.94H308.31ZM128.54 182.94H135.74V187.06H128.54ZM274.22 182.94H278.32V187.06H274.22ZM299.01 182.94H303.11V187.06H299.01ZM134.74 186.06H141.94V190.18H134.74ZM150.24 186.06H157.44V190.18H150.24ZM224.63 186.06H228.72V190.18H224.63ZM292.82 186.06H296.91V190.18H292.82ZM137.84 189.18H141.94V193.3H137.84ZM150.24 189.18H157.44V193.3H150.24ZM221.53 189.18H228.72V193.3H221.53ZM140.94 192.3H145.04V196.41H140.94ZM218.43 192.3H228.72V196.41H218.43ZM140.94 195.41H148.14V199.53H140.94ZM150.24 195.41H154.34V199.53H150.24ZM212.23 195.41H216.33V199.53H212.23ZM224.63 195.41H228.72V199.53H224.63ZM150.24 198.53H157.44V202.65H150.24ZM252.52 204.76H256.62V208.88H252.52Z"/>
<path fill="#54c8a8" d="M94.44 42.67H98.54V46.79H94.44ZM88.25 45.79H92.35V49.9H88.25ZM100.64 45.79H104.74V49.9H100.64ZM106.84 48.9H110.94V53.02H106.84ZM85.15 55.14H89.25V59.26H85.15ZM109.94 55.14H114.04V59.26H109.94ZM85.15 61.37H89.25V65.49H85.15ZM85.15 64.49H89.25V68.61H85.15ZM116.14 64.49H120.24V68.61H116.14ZM119.24 67.61H123.34V71.72H119.24ZM85.15 70.72H89.25V74.84H85.15ZM85.15 73.84H89.25V77.96H85.15ZM125.44 73.84H129.54V77.96H125.44ZM85.15 76.96H89.25V81.08H85.15ZM128.54 76.96H132.64V81.08H128.54ZM85.15 80.08H89.25V84.19H85.15ZM134.74 83.19H138.84V87.31H134.74ZM88.25 86.31H95.44V90.43H88.25ZM140.94 86.31H145.04V90.43H140.94ZM137.84 89.43H145.04V93.55H137.84ZM94.44 92.55H98.54V96.66H94.44ZM140.94 92.55H148.14V96.66H140.94ZM147.14 95.66H151.24V99.78H147.14ZM125.44 98.78H132.64V102.9H125.44ZM137.84 98.78H141.94V102.9H137.84ZM147.14 98.78H157.44V102.9H147.14ZM97.54 101.9H101.64V106.01H97.54ZM119.24 101.9H123.34V106.01H119.24ZM134.74 101.9H141.94V106.01H134.74ZM144.04 101.9H148.14V106.01H144.04ZM150.24 101.9H154.34V106.01H150.24ZM100.64 105.01H104.74V109.13H100.64ZM113.04 105.01H117.14V109.13H113.04ZM134.74 105.01H138.84V109.13H134.74ZM153.34 105.01H157.44V109.13H153.34ZM100.64 108.13H104.74V112.25H100.64ZM106.84 108.13H117.14V112.25H106.84ZM150.24 108.13H154.34V112.25H150.24ZM100.64 111.25H104.74V115.37H100.64ZM109.94 111.25H114.04V115.37H109.94ZM153.34 111.25H157.44V115.37H153.34ZM106.84 114.37H114.04V118.48H106.84ZM153.34 114.37H157.44V118.48H153.34ZM224.63 114.37H228.72V118.48H224.63ZM230.82 114.37H238.02V118.48H230.82ZM113.04 117.48H120.24V121.6H113.04ZM134.74 117.48H138.84V121.6H134.74ZM147.14 117.48H151.24V121.6H147.14ZM159.54 117.48H163.63V121.6H159.54ZM230.82 117.48H241.12V121.6H230.82ZM246.32 117.48H250.42V121.6H246.32ZM252.52 117.48H256.62V121.6H252.52ZM119.24 120.6H123.34V124.72H119.24ZM128.54 120.6H138.84V124.72H128.54ZM162.63 120.6H169.83V124.72H162.63ZM212.23 120.6H216.33V124.72H212.23ZM230.82 120.6H247.32V124.72H230.82ZM249.42 120.6H253.52V124.72H249.42ZM286.62 120.6H293.82V124.72H286.62ZM295.91 120.6H300.01V124.72H295.91ZM317.61 120.6H321.71V124.72H317.61ZM97.54 123.72H101.64V127.83H97.54ZM103.74 123.72H107.84V127.83H103.74ZM134.74 123.72H138.84V127.83H134.74ZM181.23 123.72H185.33V127.83H181.23ZM209.13 123.72H213.23V127.83H209.13ZM233.92 123.72H241.12V127.83H233.92ZM243.22 123.72H247.32V127.83H243.22ZM103.74 126.83H107.84V130.95H103.74ZM168.83 126.83H172.93V130.95H168.83ZM233.92 126.83H238.02V130.95H233.92ZM246.32 126.83H250.42V130.95H246.32ZM100.64 129.95H104.74V134.07H100.64ZM168.83 129.95H172.93V134.07H168.83ZM233.92 129.95H238.02V134.07H233.92ZM326.91 129.95H331.01V134.07H326.91ZM100.64 133.07H104.74V137.19H100.64ZM233.92 133.07H238.02V137.19H233.92ZM134.74 136.19H141.94V140.3H134.74ZM168.83 136.19H172.93V140.3H168.83ZM103.74 139.3H107.84V143.42H103.74ZM131.64 139.3H135.74V143.42H131.64ZM137.84 139.3H141.94V143.42H137.84ZM100.64 142.42H104.74V146.54H100.64ZM128.54 142.42H138.84V146.54H128.54ZM144.04 142.42H148.14V146.54H144.04ZM233.92 142.42H244.22V146.54H233.92ZM249.42 142.42H253.52V146.54H249.42ZM103.74 145.54H107.84V149.65H103.74ZM122.34 145.54H129.54V149.65H122.34ZM134.74 145.54H151.24V149.65H134.74ZM206.03 145.54H210.13V149.65H206.03ZM230.82 145.54H238.02V149.65H230.82ZM243.22 145.54H253.52V149.65H243.22ZM326.91 145.54H331.01V149.65H326.91ZM106.84 148.65H114.04V152.77H106.84ZM119.24 148.65H129.54V152.77H119.24ZM131.64 148.65H138.84V152.77H131.64ZM140.94 148.65H145.04V152.77H140.94ZM153.34 148.65H157.44V152.77H153.34ZM168.83 148.65H172.93V152.77H168.83ZM202.93 148.65H207.03V152.77H202.93ZM224.63 148.65H228.72V152.77H224.63ZM233.92 148.65H238.02V152.77H233.92ZM240.12 148.65H247.32V152.77H240.12ZM252.52 148.65H256.62V152.77H252.52ZM134.74 151.77H145.04V155.89H134.74ZM147.14 151.77H151.24V155.89H147.14ZM165.73 151.77H172.93V155.89H165.73ZM209.13 151.77H216.33V155.89H209.13ZM246.32 151.77H250.42V155.89H246.32ZM333.11 151.77H337.21V155.89H333.11ZM109.94 154.89H114.04V159.01H109.94ZM140.94 154.89H148.14V159.01H140.94ZM150.24 154.89H154.34V159.01H150.24ZM156.44 154.89H169.83V159.01H156.44ZM252.52 154.89H259.72V159.01H252.52ZM336.21 154.89H340.31V159.01H336.21ZM140.94 158.01H157.44V162.12H140.94ZM162.63 158.01H166.73V162.12H162.63ZM193.63 158.01H197.73V162.12H193.63ZM215.33 158.01H219.43V162.12H215.33ZM128.54 161.12H132.64V165.24H128.54ZM134.74 161.12H138.84V165.24H134.74ZM150.24 161.12H160.54V165.24H150.24ZM187.43 161.12H194.63V165.24H187.43ZM128.54 164.24H132.64V168.36H128.54ZM137.84 164.24H141.94V168.36H137.84ZM153.34 164.24H157.44V168.36H153.34ZM181.23 164.24H185.33V168.36H181.23ZM264.92 164.24H269.02V168.36H264.92ZM131.64 167.36H135.74V171.47H131.64ZM218.43 167.36H222.53V171.47H218.43ZM268.02 167.36H272.12V171.47H268.02ZM131.64 170.47H138.84V174.59H131.64ZM153.34 170.47H157.44V174.59H153.34ZM199.83 170.47H203.93V174.59H199.83ZM333.11 170.47H337.21V174.59H333.11ZM134.74 173.59H138.84V177.71H134.74ZM150.24 173.59H157.44V177.71H150.24ZM202.93 173.59H210.13V177.71H202.93ZM320.71 176.71H327.91V180.83H320.71ZM215.33 179.83H219.43V183.94H215.33ZM302.11 179.83H309.31V183.94H302.11ZM137.84 182.94H145.04V187.06H137.84ZM150.24 182.94H157.44V187.06H150.24ZM295.91 182.94H300.01V187.06H295.91ZM140.94 186.06H145.04V190.18H140.94ZM147.14 186.06H151.24V190.18H147.14ZM140.94 189.18H145.04V193.3H140.94ZM147.14 189.18H151.24V193.3H147.14ZM144.04 192.3H154.34V196.41H144.04ZM147.14 195.41H151.24V199.53H147.14Z"/>
<path fill="#5ecb9b" d="M88.25 48.9H92.35V53.02H88.25ZM103.74 48.9H107.84V53.02H103.74ZM106.84 52.02H110.94V56.14H106.84ZM85.15 58.26H89.25V62.37H85.15ZM113.04 61.37H117.14V65.49H113.04ZM125.44 76.96H129.54V81.08H125.44ZM311.41 76.96H315.51V81.08H311.41ZM88.25 80.08H92.35V84.19H88.25ZM88.25 83.19H92.35V87.31H88.25ZM131.64 83.19H135.74V87.31H131.64ZM134.74 86.31H138.84V90.43H134.74ZM94.44 89.43H98.54V93.55H94.44ZM134.74 89.43H138.84V93.55H134.74ZM137.84 92.55H141.94V96.66H137.84ZM137.84 95.66H145.04V99.78H137.84ZM122.34 98.78H126.44V102.9H122.34ZM131.64 98.78H138.84V102.9H131.64ZM116.14 101.9H120.24V106.01H116.14ZM103.74 105.01H114.04V109.13H103.74ZM103.74 111.25H110.94V115.37H103.74ZM103.74 114.37H107.84V118.48H103.74ZM103.74 117.48H114.04V121.6H103.74ZM150.24 117.48H154.34V121.6H150.24ZM215.33 117.48H231.82V121.6H215.33ZM255.62 117.48H259.72V121.6H255.62ZM261.82 117.48H265.92V121.6H261.82ZM271.12 117.48H275.22V121.6H271.12ZM100.64 120.6H107.84V124.72H100.64ZM109.94 120.6H120.24V124.72H109.94ZM137.84 120.6H148.14V124.72H137.84ZM159.54 120.6H163.63V124.72H159.54ZM246.32 120.6H250.42V124.72H246.32ZM280.42 120.6H284.52V124.72H280.42ZM292.82 120.6H296.91V124.72H292.82ZM299.01 120.6H312.41V124.72H299.01ZM314.51 120.6H318.61V124.72H314.51ZM100.64 123.72H104.74V127.83H100.64ZM109.94 123.72H114.04V127.83H109.94ZM122.34 123.72H135.74V127.83H122.34ZM137.84 123.72H141.94V127.83H137.84ZM165.73 123.72H169.83V127.83H165.73ZM246.32 123.72H250.42V127.83H246.32ZM320.71 123.72H324.81V127.83H320.71ZM100.64 126.83H104.74V130.95H100.64ZM106.84 126.83H110.94V130.95H106.84ZM128.54 126.83H145.04V130.95H128.54ZM165.73 126.83H169.83V130.95H165.73ZM209.13 126.83H213.23V130.95H209.13ZM249.42 126.83H253.52V130.95H249.42ZM103.74 129.95H107.84V134.07H103.74ZM137.84 129.95H145.04V134.07H137.84ZM209.13 129.95H213.23V134.07H209.13ZM249.42 129.95H253.52V134.07H249.42ZM103.74 133.07H114.04V137.19H103.74ZM137.84 133.07H141.94V137.19H137.84ZM165.73 133.07H169.83V137.19H165.73ZM249.42 133.07H253.52V137.19H249.42ZM326.91 133.07H331.01V137.19H326.91ZM103.74 136.19H110.94V140.3H103.74ZM131.64 136.19H135.74V140.3H131.64ZM249.42 136.19H253.52V140.3H249.42ZM326.91 136.19H331.01V140.3H326.91ZM100.64 139.3H104.74V143.42H100.64ZM113.04 139.3H117.14V143.42H113.04ZM134.74 139.3H138.84V143.42H134.74ZM140.94 139.3H148.14V143.42H140.94ZM168.83 139.3H172.93V143.42H168.83ZM249.42 139.3H253.52V143.42H249.42ZM103.74 142.42H110.94V146.54H103.74ZM125.44 142.42H129.54V146.54H125.44ZM137.84 142.42H141.94V146.54H137.84ZM147.14 142.42H154.34V146.54H147.14ZM168.83 142.42H172.93V146.54H168.83ZM209.13 142.42H213.23V146.54H209.13ZM230.82 142.42H234.92V146.54H230.82ZM326.91 142.42H331.01V146.54H326.91ZM106.84 145.54H114.04V149.65H106.84ZM116.14 145.54H123.34V149.65H116.14ZM128.54 145.54H132.64V149.65H128.54ZM150.24 145.54H157.44V149.65H150.24ZM168.83 145.54H172.93V149.65H168.83ZM209.13 145.54H213.23V149.65H209.13ZM227.72 145.54H231.82V149.65H227.72ZM252.52 145.54H256.62V149.65H252.52ZM113.04 148.65H117.14V152.77H113.04ZM150.24 148.65H154.34V152.77H150.24ZM165.73 148.65H169.83V152.77H165.73ZM209.13 148.65H222.53V152.77H209.13ZM113.04 151.77H120.24V155.89H113.04ZM156.44 151.77H166.73V155.89H156.44ZM206.03 151.77H210.13V155.89H206.03ZM252.52 151.77H256.62V155.89H252.52ZM113.04 154.89H120.24V159.01H113.04ZM134.74 154.89H141.94V159.01H134.74ZM147.14 154.89H151.24V159.01H147.14ZM196.73 154.89H200.83V159.01H196.73ZM209.13 154.89H213.23V159.01H209.13ZM333.11 154.89H337.21V159.01H333.11ZM137.84 158.01H141.94V162.12H137.84ZM196.73 158.01H200.83V162.12H196.73ZM212.23 158.01H216.33V162.12H212.23ZM258.72 158.01H262.82V162.12H258.72ZM333.11 158.01H337.21V162.12H333.11ZM137.84 161.12H148.14V165.24H137.84ZM261.82 161.12H265.92V165.24H261.82ZM333.11 161.12H337.21V165.24H333.11ZM140.94 164.24H145.04V168.36H140.94ZM147.14 164.24H154.34V168.36H147.14ZM184.33 164.24H194.63V168.36H184.33ZM218.43 164.24H222.53V168.36H218.43ZM134.74 167.36H145.04V171.47H134.74ZM150.24 167.36H154.34V171.47H150.24ZM196.73 167.36H200.83V171.47H196.73ZM333.11 167.36H337.21V171.47H333.11ZM137.84 170.47H141.94V174.59H137.84ZM137.84 173.59H141.94V177.71H137.84ZM271.12 173.59H275.22V177.71H271.12ZM137.84 176.71H141.94V180.83H137.84ZM150.24 176.71H154.34V180.83H150.24ZM212.23 176.71H219.43V180.83H212.23ZM271.12 176.71H275.22V180.83H271.12ZM317.61 176.71H321.71V180.83H317.61ZM137.84 179.83H141.94V183.94H137.84ZM147.14 179.83H154.34V183.94H147.14ZM147.14 182.94H151.24V187.06H147.14ZM277.32 182.94H284.52V187.06H277.32ZM286.62 182.94H290.72V187.06H286.62ZM292.82 182.94H296.91V187.06H292.82ZM144.04 186.06H148.14V190.18H144.04ZM144.04 189.18H148.14V193.3H144.04Z"/>
<path fill="#69ce8e" d="M91.35 45.79H101.64V49.9H91.35ZM106.84 55.14H110.94V59.26H106.84ZM109.94 58.26H114.04V62.37H109.94ZM88.25 70.72H92.35V74.84H88.25ZM122.34 73.84H126.44V77.96H122.34ZM88.25 76.96H92.35V81.08H88.25ZM314.51 76.96H318.61V81.08H314.51ZM128.54 80.08H132.64V84.19H128.54ZM128.54 83.19H132.64V87.31H128.54ZM131.64 86.31H135.74V90.43H131.64ZM131.64 89.43H135.74V93.55H131.64ZM134.74 92.55H138.84V96.66H134.74ZM131.64 95.66H138.84V99.78H131.64ZM97.54 98.78H101.64V102.9H97.54ZM103.74 108.13H107.84V112.25H103.74ZM156.44 117.48H160.54V121.6H156.44ZM258.72 117.48H262.82V121.6H258.72ZM264.92 117.48H272.12V121.6H264.92ZM106.84 120.6H110.94V124.72H106.84ZM147.14 120.6H151.24V124.72H147.14ZM215.33 120.6H222.53V124.72H215.33ZM227.72 120.6H231.82V124.72H227.72ZM277.32 120.6H281.42V124.72H277.32ZM311.41 120.6H315.51V124.72H311.41ZM106.84 123.72H110.94V127.83H106.84ZM113.04 123.72H123.34V127.83H113.04ZM140.94 123.72H148.14V127.83H140.94ZM227.72 123.72H234.92V127.83H227.72ZM240.12 123.72H244.22V127.83H240.12ZM249.42 123.72H253.52V127.83H249.42ZM109.94 126.83H120.24V130.95H109.94ZM122.34 126.83H129.54V130.95H122.34ZM144.04 126.83H148.14V130.95H144.04ZM162.63 126.83H166.73V130.95H162.63ZM230.82 126.83H234.92V130.95H230.82ZM323.81 126.83H327.91V130.95H323.81ZM106.84 129.95H114.04V134.07H106.84ZM116.14 129.95H120.24V134.07H116.14ZM131.64 129.95H138.84V134.07H131.64ZM144.04 129.95H148.14V134.07H144.04ZM162.63 129.95H169.83V134.07H162.63ZM230.82 129.95H234.92V134.07H230.82ZM131.64 133.07H138.84V137.19H131.64ZM140.94 133.07H148.14V137.19H140.94ZM209.13 133.07H213.23V137.19H209.13ZM109.94 136.19H114.04V140.3H109.94ZM128.54 136.19H132.64V140.3H128.54ZM140.94 136.19H148.14V140.3H140.94ZM162.63 136.19H169.83V140.3H162.63ZM106.84 139.3H114.04V143.42H106.84ZM116.14 139.3H120.24V143.42H116.14ZM122.34 139.3H132.64V143.42H122.34ZM147.14 139.3H154.34V143.42H147.14ZM165.73 139.3H169.83V143.42H165.73ZM209.13 139.3H213.23V143.42H209.13ZM230.82 139.3H234.92V143.42H230.82ZM326.91 139.3H331.01V143.42H326.91ZM109.94 142.42H117.14V146.54H109.94ZM119.24 142.42H126.44V146.54H119.24ZM153.34 142.42H157.44V146.54H153.34ZM165.73 142.42H169.83V146.54H165.73ZM227.72 142.42H231.82V146.54H227.72ZM113.04 145.54H117.14V149.65H113.04ZM156.44 145.54H160.54V149.65H156.44ZM165.73 145.54H169.83V149.65H165.73ZM212.23 145.54H216.33V149.65H212.23ZM221.53 145.54H228.72V149.65H221.53ZM116.14 148.65H120.24V152.77H116.14ZM156.44 148.65H163.63V152.77H156.44ZM326.91 148.65H331.01V152.77H326.91ZM199.83 151.77H207.03V155.89H199.83ZM255.62 151.77H259.72V155.89H255.62ZM199.83 154.89H203.93V159.01H199.83ZM147.14 161.12H151.24V165.24H147.14ZM196.73 161.12H200.83V165.24H196.73ZM215.33 161.12H219.43V165.24H215.33ZM144.04 164.24H148.14V168.36H144.04ZM196.73 164.24H200.83V168.36H196.73ZM333.11 164.24H337.21V168.36H333.11ZM144.04 167.36H151.24V171.47H144.04ZM199.83 167.36H203.93V171.47H199.83ZM150.24 170.47H154.34V174.59H150.24ZM202.93 170.47H210.13V174.59H202.93ZM271.12 170.47H275.22V174.59H271.12ZM330.01 170.47H334.11V174.59H330.01ZM209.13 173.59H219.43V177.71H209.13ZM326.91 173.59H331.01V177.71H326.91ZM147.14 176.71H151.24V180.83H147.14ZM308.31 176.71H318.61V180.83H308.31ZM140.94 179.83H148.14V183.94H140.94ZM274.22 179.83H278.32V183.94H274.22ZM299.01 179.83H303.11V183.94H299.01ZM144.04 182.94H148.14V187.06H144.04ZM283.52 182.94H287.62V187.06H283.52ZM289.72 182.94H293.82V187.06H289.72Z"/>
<path fill="#73d282" d="M100.64 48.9H104.74V53.02H100.64ZM88.25 52.02H92.35V56.14H88.25ZM88.25 64.49H92.35V68.61H88.25ZM113.04 64.49H117.14V68.61H113.04ZM88.25 67.61H92.35V71.72H88.25ZM119.24 70.72H123.34V74.84H119.24ZM88.25 73.84H92.35V77.96H88.25ZM311.41 73.84H318.61V77.96H311.41ZM91.35 76.96H95.44V81.08H91.35ZM122.34 76.96H126.44V81.08H122.34ZM125.44 80.08H129.54V84.19H125.44ZM94.44 86.31H98.54V90.43H94.44ZM125.44 86.31H132.64V90.43H125.44ZM128.54 89.43H132.64V93.55H128.54ZM131.64 92.55H135.74V96.66H131.64ZM125.44 95.66H132.64V99.78H125.44ZM119.24 98.78H123.34V102.9H119.24ZM100.64 101.9H104.74V106.01H100.64ZM109.94 101.9H117.14V106.01H109.94ZM153.34 117.48H157.44V121.6H153.34ZM150.24 120.6H160.54V124.72H150.24ZM224.63 120.6H228.72V124.72H224.63ZM252.52 120.6H256.62V124.72H252.52ZM147.14 123.72H151.24V127.83H147.14ZM159.54 123.72H166.73V127.83H159.54ZM212.23 123.72H216.33V127.83H212.23ZM119.24 126.83H123.34V130.95H119.24ZM147.14 126.83H151.24V130.95H147.14ZM159.54 126.83H163.63V130.95H159.54ZM119.24 129.95H132.64V134.07H119.24ZM147.14 129.95H151.24V134.07H147.14ZM113.04 133.07H117.14V137.19H113.04ZM128.54 133.07H132.64V137.19H128.54ZM162.63 133.07H166.73V137.19H162.63ZM230.82 133.07H234.92V137.19H230.82ZM113.04 136.19H123.34V140.3H113.04ZM125.44 136.19H129.54V140.3H125.44ZM147.14 136.19H151.24V140.3H147.14ZM209.13 136.19H213.23V140.3H209.13ZM230.82 136.19H234.92V140.3H230.82ZM119.24 139.3H123.34V143.42H119.24ZM156.44 139.3H160.54V143.42H156.44ZM162.63 139.3H166.73V143.42H162.63ZM227.72 139.3H231.82V143.42H227.72ZM116.14 142.42H120.24V146.54H116.14ZM156.44 142.42H163.63V146.54H156.44ZM224.63 142.42H228.72V146.54H224.63ZM252.52 142.42H256.62V146.54H252.52ZM159.54 145.54H166.73V149.65H159.54ZM215.33 145.54H222.53V149.65H215.33ZM162.63 148.65H166.73V152.77H162.63ZM330.01 151.77H334.11V155.89H330.01ZM202.93 154.89H210.13V159.01H202.93ZM258.72 154.89H262.82V159.01H258.72ZM199.83 158.01H203.93V162.12H199.83ZM209.13 158.01H213.23V162.12H209.13ZM261.82 158.01H265.92V162.12H261.82ZM199.83 161.12H203.93V165.24H199.83ZM264.92 161.12H269.02V165.24H264.92ZM268.02 164.24H272.12V168.36H268.02ZM271.12 167.36H275.22V171.47H271.12ZM140.94 170.47H151.24V174.59H140.94ZM140.94 173.59H145.04V177.71H140.94ZM147.14 173.59H151.24V177.71H147.14ZM323.81 173.59H327.91V177.71H323.81ZM140.94 176.71H148.14V180.83H140.94ZM305.21 176.71H309.31V180.83H305.21ZM277.32 179.83H281.42V183.94H277.32ZM295.91 179.83H300.01V183.94H295.91Z"/>
<path fill="#7ed575" d="M91.35 48.9H95.44V53.02H91.35ZM103.74 52.02H107.84V56.14H103.74ZM88.25 58.26H92.35V62.37H88.25ZM88.25 61.37H92.35V65.49H88.25ZM116.14 67.61H120.24V71.72H116.14ZM91.35 73.84H95.44V77.96H91.35ZM91.35 80.08H95.44V84.19H91.35ZM91.35 83.19H98.54V87.31H91.35ZM125.44 83.19H129.54V87.31H125.44ZM125.44 89.43H129.54V93.55H125.44ZM125.44 92.55H132.64V96.66H125.44ZM122.34 95.66H126.44V99.78H122.34ZM116.14 98.78H120.24V102.9H116.14ZM106.84 101.9H110.94V106.01H106.84ZM221.53 120.6H225.63V124.72H221.53ZM215.33 123.72H219.43V127.83H215.33ZM221.53 123.72H228.72V127.83H221.53ZM317.61 123.72H321.71V127.83H317.61ZM212.23 126.83H216.33V130.95H212.23ZM227.72 126.83H231.82V130.95H227.72ZM113.04 129.95H117.14V134.07H113.04ZM150.24 129.95H154.34V134.07H150.24ZM159.54 129.95H163.63V134.07H159.54ZM227.72 129.95H231.82V134.07H227.72ZM323.81 129.95H327.91V134.07H323.81ZM116.14 133.07H129.54V137.19H116.14ZM147.14 133.07H151.24V137.19H147.14ZM156.44 133.07H163.63V137.19H156.44ZM122.34 136.19H126.44V140.3H122.34ZM150.24 136.19H154.34V140.3H150.24ZM156.44 136.19H163.63V140.3H156.44ZM153.34 139.3H157.44V143.42H153.34ZM159.54 139.3H163.63V143.42H159.54ZM212.23 139.3H216.33V143.42H212.23ZM252.52 139.3H256.62V143.42H252.52ZM162.63 142.42H166.73V146.54H162.63ZM212.23 142.42H216.33V146.54H212.23ZM218.43 142.42H225.63V146.54H218.43ZM323.81 145.54H327.91V149.65H323.81ZM255.62 148.65H259.72V152.77H255.62ZM323.81 148.65H327.91V152.77H323.81ZM330.01 154.89H334.11V159.01H330.01ZM202.93 158.01H210.13V162.12H202.93ZM199.83 164.24H203.93V168.36H199.83ZM202.93 167.36H207.03V171.47H202.93ZM144.04 173.59H148.14V177.71H144.04ZM320.71 173.59H324.81V177.71H320.71ZM274.22 176.71H278.32V180.83H274.22ZM302.11 176.71H306.21V180.83H302.11ZM280.42 179.83H284.52V183.94H280.42Z"/>
<path fill="#88d868" d="M97.54 48.9H101.64V53.02H97.54ZM88.25 55.14H92.35V59.26H88.25ZM103.74 55.14H107.84V59.26H103.74ZM106.84 58.26H110.94V62.37H106.84ZM109.94 61.37H114.04V65.49H109.94ZM91.35 70.72H95.44V74.84H91.35ZM116.14 70.72H120.24V74.84H116.14ZM94.44 80.08H98.54V84.19H94.44ZM122.34 80.08H126.44V84.19H122.34ZM97.54 92.55H101.64V96.66H97.54ZM97.54 95.66H101.64V99.78H97.54ZM103.74 101.9H107.84V106.01H103.74ZM274.22 120.6H278.32V124.72H274.22ZM150.24 123.72H154.34V127.83H150.24ZM218.43 123.72H222.53V127.83H218.43ZM252.52 123.72H256.62V127.83H252.52ZM286.62 123.72H290.72V127.83H286.62ZM292.82 123.72H303.11V127.83H292.82ZM150.24 126.83H154.34V130.95H150.24ZM156.44 126.83H160.54V130.95H156.44ZM215.33 126.83H219.43V130.95H215.33ZM156.44 129.95H160.54V134.07H156.44ZM212.23 129.95H216.33V134.07H212.23ZM252.52 129.95H256.62V134.07H252.52ZM150.24 133.07H154.34V137.19H150.24ZM227.72 133.07H231.82V137.19H227.72ZM323.81 133.07H327.91V137.19H323.81ZM153.34 136.19H157.44V140.3H153.34ZM212.23 136.19H216.33V140.3H212.23ZM227.72 136.19H231.82V140.3H227.72ZM323.81 136.19H327.91V140.3H323.81ZM215.33 142.42H219.43V146.54H215.33ZM258.72 151.77H262.82V155.89H258.72ZM202.93 161.12H210.13V165.24H202.93ZM330.01 161.12H334.11V165.24H330.01ZM330.01 167.36H334.11V171.47H330.01ZM215.33 170.47H219.43V174.59H215.33ZM326.91 170.47H331.01V174.59H326.91ZM274.22 173.59H278.32V177.71H274.22ZM314.51 173.59H321.71V177.71H314.51ZM299.01 176.71H303.11V180.83H299.01ZM283.52 179.83H287.62V183.94H283.52ZM289.72 179.83H296.91V183.94H289.72Z"/>
<path fill="#96dc60" d="M100.64 52.02H104.74V56.14H100.64ZM109.94 64.49H114.04V68.61H109.94ZM91.35 67.61H95.44V71.72H91.35ZM113.04 67.61H117.14V71.72H113.04ZM119.24 73.84H123.34V77.96H119.24ZM97.54 89.43H101.64V93.55H97.54ZM122.34 92.55H126.44V96.66H122.34ZM119.24 95.66H123.34V99.78H119.24ZM100.64 98.78H104.74V102.9H100.64ZM113.04 98.78H117.14V102.9H113.04ZM255.62 120.6H259.72V124.72H255.62ZM268.02 120.6H272.12V124.72H268.02ZM277.32 123.72H284.52V127.83H277.32ZM289.72 123.72H293.82V127.83H289.72ZM302.11 123.72H309.31V127.83H302.11ZM311.41 123.72H318.61V127.83H311.41ZM218.43 126.83H228.72V130.95H218.43ZM252.52 126.83H256.62V130.95H252.52ZM320.71 126.83H324.81V130.95H320.71ZM153.34 129.95H157.44V134.07H153.34ZM153.34 133.07H157.44V137.19H153.34ZM212.23 133.07H216.33V137.19H212.23ZM252.52 133.07H256.62V137.19H252.52ZM252.52 136.19H256.62V140.3H252.52ZM215.33 139.3H219.43V143.42H215.33ZM221.53 139.3H228.72V143.42H221.53ZM323.81 139.3H327.91V143.42H323.81ZM323.81 142.42H327.91V146.54H323.81ZM255.62 145.54H259.72V149.65H255.62ZM320.71 148.65H324.81V152.77H320.71ZM326.91 151.77H331.01V155.89H326.91ZM261.82 154.89H265.92V159.01H261.82ZM330.01 158.01H334.11V162.12H330.01ZM209.13 161.12H213.23V165.24H209.13ZM202.93 164.24H207.03V168.36H202.93ZM271.12 164.24H275.22V168.36H271.12ZM330.01 164.24H334.11V168.36H330.01ZM206.03 167.36H210.13V171.47H206.03ZM274.22 170.47H278.32V174.59H274.22ZM308.31 173.59H315.51V177.71H308.31ZM277.32 176.71H281.42V180.83H277.32ZM295.91 176.71H300.01V180.83H295.91ZM286.62 179.83H290.72V183.94H286.62Z"/>
<path fill="#a5e058" d="M94.44 48.9H98.54V53.02H94.44ZM91.35 52.02H95.44V56.14H91.35ZM100.64 55.14H104.74V59.26H100.64ZM91.35 61.37H95.44V65.49H91.35ZM106.84 61.37H110.94V65.49H106.84ZM91.35 64.49H95.44V68.61H91.35ZM94.44 76.96H98.54V81.08H94.44ZM119.24 76.96H123.34V81.08H119.24ZM122.34 86.31H126.44V90.43H122.34ZM122.34 89.43H126.44V93.55H122.34ZM258.72 120.6H269.02V124.72H258.72ZM271.12 120.6H275.22V124.72H271.12ZM153.34 123.72H160.54V127.83H153.34ZM283.52 123.72H287.62V127.83H283.52ZM308.31 123.72H312.41V127.83H308.31ZM153.34 126.83H157.44V130.95H153.34ZM218.43 129.95H222.53V134.07H218.43ZM221.53 136.19H225.63V140.3H221.53ZM218.43 139.3H222.53V143.42H218.43ZM320.71 145.54H324.81V149.65H320.71ZM264.92 158.01H269.02V162.12H264.92ZM212.23 161.12H216.33V165.24H212.23ZM268.02 161.12H272.12V165.24H268.02Z"/>
<path fill="#b3e450" d="M97.54 52.02H101.64V56.14H97.54ZM91.35 58.26H95.44V62.37H91.35ZM103.74 58.26H107.84V62.37H103.74ZM94.44 70.72H98.54V74.84H94.44ZM94.44 73.84H98.54V77.96H94.44ZM122.34 83.19H126.44V87.31H122.34ZM97.54 86.31H101.64V90.43H97.54ZM116.14 95.66H120.24V99.78H116.14ZM109.94 98.78H114.04V102.9H109.94ZM215.33 129.95H219.43V134.07H215.33ZM221.53 129.95H228.72V134.07H221.53ZM218.43 136.19H222.53V140.3H218.43ZM224.63 136.19H228.72V140.3H224.63ZM255.62 142.42H259.72V146.54H255.62ZM317.61 148.65H321.71V152.77H317.61ZM206.03 164.24H210.13V168.36H206.03ZM302.11 173.59H309.31V177.71H302.11Z"/>
<path fill="#c2e848" d="M91.35 55.14H95.44V59.26H91.35ZM109.94 67.61H114.04V71.72H109.94ZM116.14 73.84H120.24V77.96H116.14ZM97.54 80.08H101.64V84.19H97.54ZM119.24 80.08H123.34V84.19H119.24ZM97.54 83.19H101.64V87.31H97.54ZM119.24 89.43H123.34V93.55H119.24ZM119.24 92.55H123.34V96.66H119.24ZM106.84 98.78H110.94V102.9H106.84ZM215.33 133.07H228.72V137.19H215.33ZM215.33 136.19H219.43V140.3H215.33ZM258.72 148.65H262.82V152.77H258.72ZM323.81 151.77H327.91V155.89H323.81ZM326.91 154.89H331.01V159.01H326.91ZM274.22 164.24H278.32V168.36H274.22ZM274.22 167.36H278.32V171.47H274.22ZM209.13 170.47H213.23V174.59H209.13ZM320.71 170.47H327.91V174.59H320.71ZM299.01 173.59H303.11V177.71H299.01ZM280.42 176.71H284.52V180.83H280.42ZM292.82 176.71H296.91V180.83H292.82Z"/>
<path fill="#d0ec40" d="M94.44 52.02H98.54V56.14H94.44ZM97.54 55.14H101.64V59.26H97.54ZM100.64 58.26H104.74V62.37H100.64ZM94.44 61.37H98.54V65.49H94.44ZM103.74 61.37H107.84V65.49H103.74ZM106.84 64.49H110.94V68.61H106.84ZM94.44 67.61H98.54V71.72H94.44ZM113.04 70.72H117.14V74.84H113.04ZM116.14 92.55H120.24V96.66H116.14ZM100.64 95.66H104.74V99.78H100.64ZM113.04 95.66H117.14V99.78H113.04ZM103.74 98.78H107.84V102.9H103.74ZM317.61 126.83H321.71V130.95H317.61ZM320.71 129.95H324.81V134.07H320.71ZM255.62 139.3H259.72V143.42H255.62ZM261.82 151.77H265.92V155.89H261.82ZM271.12 161.12H275.22V165.24H271.12ZM326.91 161.12H331.01V165.24H326.91ZM215.33 164.24H219.43V168.36H215.33ZM326.91 167.36H331.01V171.47H326.91ZM314.51 170.47H318.61V174.59H314.51ZM277.32 173.59H281.42V177.71H277.32ZM283.52 176.71H287.62V180.83H283.52Z"/>
<path fill="#dbed3b" d="M97.54 58.26H101.64V62.37H97.54ZM97.54 61.37H104.74V65.49H97.54ZM94.44 64.49H98.54V68.61H94.44ZM97.54 73.84H101.64V77.96H97.54ZM97.54 76.96H101.64V81.08H97.54ZM116.14 76.96H120.24V81.08H116.14ZM255.62 123.72H259.72V127.83H255.62ZM274.22 123.72H278.32V127.83H274.22ZM320.71 133.07H324.81V137.19H320.71ZM258.72 145.54H262.82V149.65H258.72ZM317.61 145.54H321.71V149.65H317.61ZM320.71 151.77H324.81V155.89H320.71ZM264.92 154.89H269.02V159.01H264.92ZM268.02 158.01H272.12V162.12H268.02ZM326.91 158.01H331.01V162.12H326.91ZM215.33 167.36H219.43V171.47H215.33ZM317.61 170.47H321.71V174.59H317.61ZM286.62 176.71H290.72V180.83H286.62Z"/>
<path fill="#e7ee37" d="M94.44 58.26H98.54V62.37H94.44ZM97.54 64.49H107.84V68.61H97.54ZM97.54 67.61H101.64V71.72H97.54ZM97.54 70.72H101.64V74.84H97.54ZM109.94 70.72H114.04V74.84H109.94ZM113.04 73.84H117.14V77.96H113.04ZM100.64 86.31H104.74V90.43H100.64ZM119.24 86.31H123.34V90.43H119.24ZM100.64 92.55H104.74V96.66H100.64ZM109.94 95.66H114.04V99.78H109.94ZM255.62 126.83H259.72V130.95H255.62ZM255.62 136.19H259.72V140.3H255.62ZM320.71 136.19H324.81V140.3H320.71ZM320.71 139.3H324.81V143.42H320.71ZM320.71 142.42H324.81V146.54H320.71ZM326.91 164.24H331.01V168.36H326.91ZM277.32 170.47H281.42V174.59H277.32ZM308.31 170.47H315.51V174.59H308.31ZM295.91 173.59H300.01V177.71H295.91ZM289.72 176.71H293.82V180.83H289.72Z"/>
<path fill="#f2ef32" d="M94.44 55.14H98.54V59.26H94.44ZM106.84 67.61H110.94V71.72H106.84ZM100.64 83.19H104.74V87.31H100.64ZM119.24 83.19H123.34V87.31H119.24ZM100.64 89.43H104.74V93.55H100.64ZM116.14 89.43H120.24V93.55H116.14ZM113.04 92.55H117.14V96.66H113.04ZM255.62 129.95H259.72V134.07H255.62ZM255.62 133.07H259.72V137.19H255.62ZM258.72 142.42H262.82V146.54H258.72ZM323.81 167.36H327.91V171.47H323.81ZM212.23 170.47H216.33V174.59H212.23ZM305.21 170.47H309.31V174.59H305.21Z"/>
<path fill="#f8e52e" d="M100.64 67.61H104.74V71.72H100.64ZM113.04 76.96H117.14V81.08H113.04ZM100.64 80.08H104.74V84.19H100.64ZM116.14 80.08H120.24V84.19H116.14ZM314.51 145.54H318.61V149.65H314.51ZM261.82 148.65H265.92V152.77H261.82ZM314.51 148.65H318.61V152.77H314.51ZM264.92 151.77H269.02V155.89H264.92ZM317.61 151.77H321.71V155.89H317.61ZM323.81 154.89H327.91V159.01H323.81ZM274.22 161.12H278.32V165.24H274.22ZM277.32 167.36H281.42V171.47H277.32ZM320.71 167.36H324.81V171.47H320.71ZM280.42 173.59H284.52V177.71H280.42ZM292.82 173.59H296.91V177.71H292.82Z"/>
<path fill="#f8ce29" d="M103.74 67.61H107.84V71.72H103.74ZM100.64 70.72H104.74V74.84H100.64ZM109.94 73.84H114.04V77.96H109.94ZM116.14 83.19H120.24V87.31H116.14ZM116.14 86.31H120.24V90.43H116.14ZM109.94 92.55H114.04V96.66H109.94ZM103.74 95.66H110.94V99.78H103.74ZM302.11 170.47H306.21V174.59H302.11Z"/>
<path fill="#f8b725" d="M106.84 70.72H110.94V74.84H106.84ZM100.64 73.84H104.74V77.96H100.64ZM100.64 76.96H104.74V81.08H100.64ZM113.04 89.43H117.14V93.55H113.04Z"/>
<path fill="#f8a020" d="M103.74 70.72H107.84V74.84H103.74ZM113.04 80.08H117.14V84.19H113.04ZM103.74 89.43H107.84V93.55H103.74ZM106.84 92.55H110.94V96.66H106.84Z"/>
<path fill="#f5801d" d="M106.84 73.84H110.94V77.96H106.84ZM103.74 76.96H107.84V81.08H103.74ZM109.94 76.96H114.04V81.08H109.94ZM103.74 80.08H107.84V84.19H103.74ZM103.74 83.19H107.84V87.31H103.74ZM103.74 86.31H107.84V90.43H103.74ZM113.04 86.31H117.14V90.43H113.04ZM106.84 89.43H114.04V93.55H106.84ZM103.74 92.55H107.84V96.66H103.74Z"/>
<path fill="#f3601b" d="M103.74 73.84H107.84V77.96H103.74ZM106.84 76.96H110.94V81.08H106.84ZM109.94 80.08H114.04V84.19H109.94ZM113.04 83.19H117.14V87.31H113.04ZM106.84 86.31H114.04V90.43H106.84ZM314.51 126.83H318.61V130.95H314.51ZM209.13 164.24H213.23V168.36H209.13Z"/>
<path fill="#f04018" d="M106.84 80.08H110.94V84.19H106.84ZM106.84 83.19H114.04V87.31H106.84ZM261.82 123.72H275.22V127.83H261.82ZM286.62 126.83H293.82V130.95H286.62ZM295.91 126.83H306.21V130.95H295.91ZM317.61 142.42H321.71V146.54H317.61ZM268.02 154.89H272.12V159.01H268.02ZM271.12 158.01H275.22V162.12H271.12ZM323.81 158.01H327.91V162.12H323.81ZM277.32 164.24H281.42V168.36H277.32Z"/>
<path fill="#f03c1e" d="M258.72 123.72H262.82V127.83H258.72ZM274.22 126.83H284.52V130.95H274.22ZM305.21 126.83H315.51V130.95H305.21ZM258.72 136.19H262.82V140.3H258.72ZM258.72 139.3H262.82V143.42H258.72ZM308.31 167.36H312.41V171.47H308.31ZM314.51 167.36H321.71V171.47H314.51ZM295.91 170.47H303.11V174.59H295.91ZM283.52 173.59H293.82V177.71H283.52Z"/>
<path fill="#f03824" d="M283.52 126.83H287.62V130.95H283.52ZM292.82 126.83H296.91V130.95H292.82ZM258.72 129.95H262.82V134.07H258.72ZM317.61 129.95H321.71V134.07H317.61ZM258.72 133.07H262.82V137.19H258.72ZM317.61 136.19H321.71V140.3H317.61ZM317.61 139.3H321.71V143.42H317.61ZM261.82 142.42H265.92V146.54H261.82ZM314.51 142.42H318.61V146.54H314.51ZM261.82 145.54H265.92V149.65H261.82ZM268.02 151.77H272.12V155.89H268.02ZM314.51 151.77H318.61V155.89H314.51ZM317.61 154.89H324.81V159.01H317.61ZM274.22 158.01H278.32V162.12H274.22ZM277.32 161.12H281.42V165.24H277.32ZM323.81 161.12H327.91V165.24H323.81ZM323.81 164.24H327.91V168.36H323.81ZM280.42 167.36H284.52V171.47H280.42ZM302.11 167.36H309.31V171.47H302.11ZM311.41 167.36H315.51V171.47H311.41ZM280.42 170.47H284.52V174.59H280.42ZM292.82 170.47H296.91V174.59H292.82Z"/>
<path fill="#f0342a" d="M258.72 126.83H262.82V130.95H258.72ZM314.51 129.95H318.61V134.07H314.51ZM317.61 133.07H321.71V137.19H317.61ZM264.92 148.65H269.02V152.77H264.92ZM271.12 154.89H275.22V159.01H271.12ZM209.13 167.36H213.23V171.47H209.13Z"/>
<path fill="#f57b7b" d="M212.23 164.24H216.33V168.36H212.23Z"/>
<path fill="#ffffff" d="M261.82 126.83H275.22V130.95H261.82ZM261.82 129.95H315.51V134.07H261.82ZM261.82 133.07H318.61V137.19H261.82ZM261.82 136.19H318.61V140.3H261.82ZM261.82 139.3H318.61V143.42H261.82ZM264.92 142.42H315.51V146.54H264.92ZM264.92 145.54H315.51V149.65H264.92ZM268.02 148.65H315.51V152.77H268.02ZM271.12 151.77H315.51V155.89H271.12ZM274.22 154.89H318.61V159.01H274.22ZM277.32 158.01H324.81V162.12H277.32ZM280.42 161.12H324.81V165.24H280.42ZM280.42 164.24H324.81V168.36H280.42ZM212.23 167.36H216.33V171.47H212.23ZM283.52 167.36H303.11V171.47H283.52ZM283.52 170.47H293.82V174.59H283.52Z"/>
</g>
<path d="M393.8 21.2L393.8 36.2L392.2 36.8L377.2 37.1L366.8 41.7L363.5 43.8L363 45.2L363.8 45.5L377.2 49.2L393.8 49.8L393.6 58.8L392.2 59.2L392.1 60.2L390.8 60.9L390.5 61.8L386.3 64.8L378.8 66.9L375 70.8L372.8 72.2L368.2 73.4L356.2 74.6L344.2 71L341.2 69.5L338.6 66.2L336.8 57.2L337.2 52.8L339.8 46.8L336.8 45.7L333.6 46.8L331.8 49.8L331 54.2L333.1 63.2L332.7 76.8L334.2 85.8L333.5 90.2L331.5 96.2L332.9 99.2L336.7 103.8L345.8 105.7L348.4 108.2L351.6 114.2L353.3 115.8L356.2 116.8L362.2 116L364.4 114.2L365 109.8L364.6 106.8L361 100.8L359.8 96.2L360.8 93L363.8 91L369.8 89.3L375.8 86.4L377.2 86.5L382 90.2L388.9 97.8L389.2 98.7L390.3 99.2L390.8 100.4L395.2 100.7M291.3 84.2L293.2 81.9L299.8 60.2L302.2 57.5L307 54.2L311.1 49.8L311.8 48.2L310.6 46.8L303.8 45.4L285.8 46.4L275.2 43.8L257.2 43.5L254.2 42.8L251.2 41.2L245.2 36.6L242.2 36.2L228.5 37.8L218.2 40.6L206.2 40.2L195.8 43.8L192.8 43.6L185.2 42L177.8 44.5L175.8 46.8L176.2 51.8L177.7 55.8L183.9 66.2L186.8 67.9L197.2 69.7L206.8 75.2L210.9 76.8L216.8 78.1L225.8 77.3L236.2 74.5L243.8 70.5L246.8 69.7L251.2 71L259.6 76.8L275.2 85.1L278.2 85.6L284.2 85.5L291.3 84.2M60.8 62.5L63.8 62.1L66.8 60.3L72.2 54.2L74.2 50.9L81.3 27.2L82.1 21.2M228.9 21.2L228.3 24.2L226.3 25.8L207.8 27.4L204.8 28.6L197.2 33.6L195.8 33.7L188.8 30.2L185.2 29.9L179.2 31.7L174.2 34.8L168.8 40.8L166.2 46.8L166.9 64.8L167.8 67.8L169.7 70.8L171.8 72.7L176.2 75.5L186.5 79.8L195.8 84.9L206.3 88.8L213.6 94.8L215.2 95.2L216.9 94.8L222.8 89L231.8 83.6L236.2 81.8L245.2 79.7L249.8 81.4L260.2 90.9L265.3 96.2L275.2 103.1L276.8 103.7L285.8 101L296.2 102.6L314.2 102.7L318.7 106.8L338.8 120.2L351.2 126.2L353 127.8L357.8 134L368.2 136.7L375.8 142.4L377.2 142.3L384.8 136.5L387.8 135.5L395.2 134.8M350.7 21.2L350.4 25.8L348.8 29.3L345.8 32L339.8 34.8L335.2 35.7L326.2 36.2L306.8 35.2L296.2 37.5L288.9 36.2L266.2 27.8L257.2 26.8L255.5 25.8L254.8 24.2L254.5 21.2M365.2 66.4L356.2 67.7L348.4 66.2L346.3 64.8L345.8 63.4L345.8 57.2L347.2 55.4L353.2 54.2L358.5 54.2L365.2 55.6L367 57.2L367.4 60.2L366.9 64.8L365.2 66.4M317.2 92L315.8 93L314.2 93L311.2 91.2L308.7 88.8L305.7 84.2L304.2 78.2L304.5 72.2L306.7 66.2L309.8 63.6L314.2 62L318.8 62.6L322.2 64.8L324.5 67.8L326 73.8L325.8 79.8L324.4 84.2L322.3 87.2L317.2 92M60.8 87.6L66 87.2L69.8 85.8L71.6 84.2L74.2 80.3L75.8 75.3L76.2 64.8L80.2 43.2L82.4 39.2L88.7 31.8L96.8 24.2L97.4 21.2M124.2 21.2L124.6 25.8L126.8 35.7L128.2 38.1L132.2 42.2L134.4 48.2L135.8 49.6L140.2 46.8L146.2 46.1L152.2 46.8L155.2 48.3L157.9 54.2L158.7 67.8L160 73.8L161.5 76.8L167.2 83.4L180.8 89.7L186.8 95.9L188.2 96.4L194.2 95.9L197.2 96.3L206.2 100.7L215.2 100.2L221.2 97.8L237.1 87.2L241.5 85.8L245.2 85.3L248.2 87.1L254.2 94.2L270.8 108.2L273.4 109.8L279.8 110.9L287.2 109L306.8 110.6L320.2 113.6L329.2 118.1L333.8 121.9L339.8 130L347.2 136.1L351.8 141.1L354.3 145.8L356.2 155.1L357.8 159L363 165.2L365.2 169.3L366.8 170.5L372.8 168.9L380.2 167.7L387.6 165.2L395.2 163.6M171.7 21.2L171.5 24.2L169.6 27.2L167.2 29.2L164.2 30.2L158.2 29.1L153.1 27.2L150.8 25.8L149.7 24.2L149.3 21.2M317.2 86.3L314.2 86.8L311.2 85.3L309.2 82.8L307.6 78.2L307.7 73.8L309.3 69.2L311.2 67L314.2 65.7L317.2 66.1L319.6 67.8L321.5 70.8L322.4 73.8L322.4 78.2L321.5 81.2L319.8 84.2L317.2 86.3M395.2 175.9L387.8 176L384.8 177L379.2 181.8L377.4 184.8L377.2 186.2L379.6 190.8L383.2 193.8L387.8 195.1L395.2 195.2M187.3 220.8L186.8 214.4L185.2 211.3L183.8 210.4L179.2 211.1L176.2 212.5L173.3 216.2L172.7 220.8M60.8 92.8L74.2 91.9L75.8 91L77.2 88.8L79.2 78.2L79.6 64.8L81.5 49.8L82.6 45.2L84.8 41.6L87.8 39L96.8 33.1L105.8 30.8L110.2 31.7L114.8 34L119.2 38.9L122.3 45.2L123.3 54.2L124.5 57.2L131 64.8L134.2 67.7L137.2 68.2L140.1 66.2L141.4 63.2L142.3 57.2L144 54.2L146.2 53.2L149.2 54.7L150.6 57.2L151.5 67.8L154.5 76.8L164.2 87.5L174.8 92.4L178.2 94.8L180.3 97.8L183.8 105L185.2 107.1L186.8 108.2L195.8 107.2L204.8 113.9L206.2 113.4L210.8 107L213.8 104.9L227.2 99.4L236.2 97.4L245.2 96.2L255.8 101.3L259 103.8L264.8 109.8L267.8 111.3L284.2 115.3L317.2 115.5L321.8 116.7L327.8 119.8L330.8 122.2L334 126.2L338.6 136.8L340.3 138.2L345.8 141L348.8 143.8L350.5 147.2L351.1 150.2L351.3 154.8L350.2 159.3L345.8 166.1L344.6 171.2L342.3 177.2L340.3 180.2L334.3 186.2L335.2 187.6L338.2 187.9L344.2 186.5L347.2 186.5L354.3 190.8L363.8 199.9L365.8 201.2L368.2 201.7L375.8 201.5L386.2 205.6L395.2 205.8M317.2 83.3L315.8 83.9L312.8 83.3L310.9 81.2L309.8 78.2L309.6 75.2L310.3 72.2L312.5 69.2L314.2 68.4L317.5 69.2L318.9 70.8L320.2 73.8L320.4 76.8L319.8 79.8L317.2 83.3M60.8 184.9L63.8 185L66.8 185.9L74.2 191.7L77.2 192.5L80.2 191L81.8 189.2L85.6 180.2L86.3 177.2L85.8 175.8L84.1 174.2L77.2 171.7L74.2 171.3L60.8 171.7M192.1 220.8L191.8 214.8L188.7 196.8L189.8 187.8L189.4 186.2L188.2 185.3L185.2 184.4L182.2 185.1L180.3 186.2L179.1 187.8L172.1 207.2L165.2 216.2L164.8 220.8M267.5 190.8L267.9 189.2L267.5 187.8L264.8 184.2L261.8 183.8L259.6 184.8L258.2 186.2L258.8 187.8L263.2 190.8L266.2 191.5L267.5 190.8M87.3 220.8L86.2 210.5L84 204.2L81.7 201.2L78.8 199.7L75.8 199.3L68.2 201.5L60.8 201.9M310.2 220.8L310 207.2L308.7 204.2L306.8 202.8L305.2 203.7L304.7 205.8L304.6 220.8M280.7 220.8L280.4 216.2L279.4 213.2L276.8 209.6L275.2 209L270.8 210.9L266.2 214.4L265.3 216.2L264.9 220.8M339.5 220.8L339.4 217.8L338.5 214.8L336.8 213L335.2 212.7L333.8 213.2L332 214.8L330.9 217.8L330.8 220.8M155.2 205.3L144.8 199.8L137.2 191.1L131.2 186.2L129.7 183.2L127.4 172.8L125.2 168.9L122.2 165.3L111.8 162.7L109.5 160.8L107.2 156.5L105.8 155.2L102.8 155L96.8 156.4L95.2 155.3L94.3 153.2L92.9 145.8L94.3 136.8L93.4 127.8L94.3 124.8L98.6 118.8L99.4 114.2L98.4 108.2L94 96.2L87.8 89L86.1 85.8L85.4 64.8L85.7 55.8L87.8 48.6L90.8 45.3L95.2 43L98.2 42.7L102.8 43.6L109.2 46.8L111.8 49.8L114.9 57.2L118.6 63.2L126.8 72.7L135.8 81L141.8 84.6L148.4 90.2L158.4 96.2L160.6 99.2L162.4 103.8L163.2 106.8L163.7 114.2L165.9 117.2L176.2 123.6L186.8 124.1L191.3 126.2L191.7 127.8L189.8 129.5L177.8 131.5L175.9 133.8L175.2 136.8L175.4 148.8L174.1 156.2L172.4 159.2L170.2 161.6L162.8 166.7L161.2 168.9L159.8 172.8L157.7 186.2L157.6 198.2L156.8 203.2L155.2 205.3M315.8 79.8L314.2 79.8L312.9 78.2L312.5 76.8L312.8 74.5L314.2 72.6L315.8 72.6L317.5 75.2L317.2 78L315.8 79.8M130 120.2L132.2 118.8L134 115.8L133 109.8L131.8 106.8L130.4 105.2L128.2 104.2L125.2 104.1L122.2 105.7L120.1 108.2L118.7 112.8L118.6 115.8L120.7 118.8L123.8 120.7L126.8 121.2L130 120.2M225.8 198.8L219.8 199.3L218.2 199.1L216.8 197.9L216.2 195.2L219.4 187.8L219.3 186.2L195.8 174.1L194.2 173.6L186.8 173.6L184.4 172.8L181.5 169.8L180 165.2L180.8 161.8L182.7 159.2L186.8 157.1L191.9 153.2L204 147.2L205.8 145.8L206.4 144.2L207.4 133.8L210 124.8L215.2 118L224.2 113.2L228.8 112L237.8 111L245.1 112.8L249.8 116.5L252.8 117.6L260.2 116.5L272.2 117L276.8 118L282 120.2L290.2 120.9L314.2 120L318.8 120.7L326.2 124.8L329.2 128.4L331 133.8L332.4 145.8L333.8 148.6L338.2 151L343 150.2L343.6 151.8L343 153.2L341.2 154.5L339.2 159.2L337.4 171.2L335.2 175.1L332.2 178.1L327.8 180.2L310.1 183.2L302.2 185.3L296.2 188L291.8 188.7L281.2 187.7L275.2 185L271.2 180.2L267.4 171.2L258.8 163L255.8 161L249.8 159L228.8 155.3L224.2 155.2L220.3 156.2L222.2 160.8L222.9 165.2L221.9 177.2L222.3 181.8L223.2 183.2L227.4 186.2L229.9 193.8L229.9 195.2L229 196.8L225.8 198.8M246.8 142.8L248.1 139.8L247.9 133.8L246.8 130.9L243.8 130.4L240.8 132L239.5 133.8L239 135.2L239.3 138.2L240.8 140.8L242.2 142.1L245.2 143L246.8 142.8M254.2 209.1L252.6 207.2L254.2 206L255.9 207.2L254.2 209.1M113.2 105.3L108.8 106.6L105.8 106.5L101.2 103.3L99.4 100.8L96.3 91.8L91.5 82.8L89.5 72.2L88.5 57.2L89.1 54.2L90.8 50.9L93.3 48.2L95.2 47.2L98.2 47.2L101 48.2L104.2 50.3L106.7 52.8L116.1 66.2L122.9 73.8L131.5 85.8L135.7 94.8L135.8 96.2L134.2 97.8L125.2 99.7L113.2 105.3M167.2 150.3L165.8 151.4L164.2 151.6L159.8 149.5L150.8 142.3L144.8 135.2L144.5 129.2L145.6 126.2L148.9 123.2L153.8 120.3L156.8 119.9L158.2 120.5L162.1 123.2L164.3 126.2L166.1 135.2L169 144.2L168.8 147.2L167.2 150.3M296.2 183.7L291.8 184.6L284.2 184.1L281.2 183.6L277.6 181.8L274 177.2L272.1 171.2L270.8 168.8L264.8 163.2L256.8 153.2L254.7 148.8L252.3 141.2L251.1 127.8L251.7 124.8L255.8 120.8L260.2 119.5L269.2 119.6L275.2 120.3L279.8 122.5L282.8 123.1L293.2 123.5L315.8 122.9L321.8 125.3L326.1 129.2L327.3 132.2L328.5 139.8L327.9 148.8L332.2 153.2L334.1 157.8L334.5 166.8L333.2 171.2L330.8 174.2L327.8 176.1L303.8 180.4L296.2 183.7M218.2 148.9L215.2 148.8L213.8 148L212.2 145.1L210.9 136.8L212.4 129.2L213.8 125.9L216.8 122.9L224.2 121.3L227.2 121.6L230.2 124.2L232.5 129.2L233.4 135.2L232.7 139.8L231.2 142.8L228.8 145.1L224.2 147.1L218.2 148.9M117.8 144.8L116.2 145.1L114.6 144.2L112 138.2L111.8 133.2L113.3 127.8L116.2 126.6L126.8 128.9L130.2 130.8L131.6 132.2L132.8 135.2L132.6 136.8L131.2 138.9L126.8 142L117.8 144.8M216.8 175.8L213.8 176.7L209.2 175.1L203.5 171.2L200.7 168.2L199.6 165.2L199.8 162.2L201.3 157.8L203.2 155.5L206.2 154.4L207.8 155.1L210.8 158.4L216.8 161.5L219 163.8L220.1 166.8L220.1 169.8L219.1 172.8L216.8 175.8M146.2 180.6L144.8 180.1L143.6 178.8L142.5 175.8L143.3 171.2L144.8 168.6L146.2 167.9L147.8 169.2L148.6 171.2L149.6 175.8L148.4 178.8L146.2 180.6M110.2 102.5L107.2 103.1L104.2 102.2L101.4 99.2L100 96.2L93.4 70.8L91.7 60.2L91.5 57.2L92.2 54.5L95.2 51.3L96.8 51L99.8 52.1L107.2 59.8L113.3 67.8L120.2 75.2L122.9 79.8L125.4 85.8L125.7 88.8L125 93.2L123.1 96.2L116.2 100.3L110.2 102.5M296.2 180.3L293.2 181.3L290.2 181.5L282.8 180.7L279.8 179.5L276.7 175.8L273.8 167.6L266.5 160.8L259.4 151.8L255.2 141.2L254.4 136.8L254.1 127.8L255.1 124.8L257.2 122.8L260.2 121.8L270.8 121.9L275.2 122.6L279.4 124.8L281.2 125.1L315.8 125.2L321.3 127.8L324.1 130.8L325.3 135.2L325.8 142.8L323.2 148.8L323.7 150.2L328.1 153.2L330.4 156.2L331.6 165.2L330.6 169.8L329.2 171.6L326.2 173.5L303.6 177.2L299.2 178.6L296.2 180.3M221.2 141.4L218.2 141.8L216.7 141.2L214.8 138.2L214.9 133.8L216.8 130.4L218.2 129.5L224.2 129L225.8 129.6L228 132.2L229 135.2L228.8 136.8L227.2 139.3L225.8 140.4L221.2 141.4M213.8 174.3L210.8 173.6L207 169.8L205.7 166.8L205.6 165.2L206.5 163.8L209.2 162.6L213.8 162.4L216.7 163.8L218 165.2L218.8 168.2L218.1 171.2L216.8 173.1L213.8 174.3M110.2 99.8L107.2 100.5L105.8 100.3L104.1 99.2L102.2 96.2L97.4 69.2L94.9 58.8L95.2 56.1L96.8 55.2L98.2 55.9L101.2 60.6L107.2 65L116.6 75.2L119.2 79L121.8 84.2L121.9 88.8L120 93.2L116.9 96.2L110.2 99.8M293.2 178.9L284.2 178.6L280.8 177.2L278.5 174.2L276.7 168.2L275.2 165.7L268.1 159.2L260.9 150.2L257.3 141.2L256 135.2L255.9 127.8L257.2 125.1L258.8 124L261.8 123.4L272.2 123.6L275.2 124.3L278.2 126.1L281.2 126.6L314.2 126.6L318.8 128.1L322 130.8L323.2 133.8L323.7 142.8L322.2 145.8L319.7 148.8L319.8 150.2L321.2 151.8L326.4 154.8L328.5 157.8L329.4 163.8L328.8 168.2L327.8 169.8L324.8 171.5L300.8 175.5L293.2 178.9M213.8 173.1L210.8 172.2L208.8 169.8L208.3 168.2L208.4 166.8L209.2 165.2L212.2 163.6L215.2 164.1L216.7 165.2L217.8 168.2L216.8 171.4L213.8 173.1M108.8 96.7L107.2 97.1L105.8 96.6L104.6 94.8L103.9 85.8L102.5 78.2L102.8 73.5L104.2 71.1L105.8 70.6L108.8 72.6L114.8 79.1L117.3 82.8L118.3 85.8L117.8 88.4L116.2 90.5L108.8 96.7M294.8 176L291.8 177L287.2 176.9L282.8 175.8L281.2 174.6L277.6 165.2L269.3 157.8L263.3 150.2L260.9 145.8L257.9 136.8L257.6 129.2L258.8 126.1L261.8 125.1L270.8 125.1L273.8 125.5L277.9 127.8L279.8 128.1L314.2 128.2L317.2 129.1L320.2 131.3L321.4 133.8L321.9 141.2L320.9 144.2L317.8 147.2L317.4 150.2L318.8 152.5L324.8 156.1L326.2 157.8L327.5 162.2L327.1 166.8L324.8 169.2L300.8 173.3L294.8 176M215.2 171.3L213.8 171.9L212.2 171.6L210.2 169.8L210.1 166.8L211.6 165.2L213.8 164.8L215.2 165.5L216.3 166.8L216.4 169.8L215.2 171.3" fill="none" stroke="#fff" stroke-opacity="0.42" stroke-width="0.6"/>
<rect x="60.75" y="215.5" width="85.6" height="5.3" fill="url(#cb)"/>
</g>
<line x1="68.53" y1="215.5" x2="68.53" y2="217.6" stroke="#000" stroke-width="0.3" />
<line x1="76.31" y1="216.2" x2="76.31" y2="217.4" stroke="#000" stroke-width="0.3" />
<line x1="84.1" y1="215.5" x2="84.1" y2="217.6" stroke="#000" stroke-width="0.3" />
<line x1="91.88" y1="216.2" x2="91.88" y2="217.4" stroke="#000" stroke-width="0.3" />
<line x1="99.66" y1="215.5" x2="99.66" y2="217.6" stroke="#000" stroke-width="0.3" />
<line x1="107.44" y1="216.2" x2="107.44" y2="217.4" stroke="#000" stroke-width="0.3" />
<line x1="115.22" y1="215.5" x2="115.22" y2="217.6" stroke="#000" stroke-width="0.3" />
<line x1="123" y1="216.2" x2="123" y2="217.4" stroke="#000" stroke-width="0.3" />
<line x1="130.79" y1="215.5" x2="130.79" y2="217.6" stroke="#000" stroke-width="0.3" />
<line x1="138.57" y1="216.2" x2="138.57" y2="217.4" stroke="#000" stroke-width="0.3" />
<line x1="146.35" y1="215.5" x2="146.35" y2="217.6" stroke="#000" stroke-width="0.3" />
<text x="146" y="215" font-family="'Liberation Serif',serif" font-size="5" fill="#000" text-anchor="end" ><tspan font-style="italic" font-size="9">I</tspan><tspan font-size="4.4" dy="1.5">−200to+200</tspan><tspan dy="-1.5" font-size="6.8" font-style="italic"> + 5 </tspan><tspan font-style="italic" font-size="9">I</tspan><tspan font-size="4.4" dy="1.5">−150to−80</tspan></text>
<text x="82.9" y="227.6" font-family="'Liberation Serif',serif" font-size="7.4" fill="#111" text-anchor="middle" >1000</text>
<text x="113.8" y="227.6" font-family="'Liberation Serif',serif" font-size="7.4" fill="#111" text-anchor="middle" >2000</text>
<text x="144.3" y="227.6" font-family="'Liberation Serif',serif" font-size="7.4" fill="#111" text-anchor="middle" >3000</text>
<text x="375.6" y="219" font-family="'Liberation Serif',serif" font-size="6.6" fill="#fff" text-anchor="middle" opacity="0.9">250:3000@250</text>
<line x1="60.86" y1="229.5" x2="60.86" y2="233.7" stroke="#333" stroke-width="0.9" />
<line x1="60.86" y1="12.2" x2="60.86" y2="8.42" stroke="#333" stroke-width="0.9" />
<line x1="80.22" y1="229.5" x2="80.22" y2="233.7" stroke="#333" stroke-width="0.9" />
<line x1="80.22" y1="12.2" x2="80.22" y2="8.42" stroke="#333" stroke-width="0.9" />
<line x1="99.58" y1="229.5" x2="99.58" y2="233.7" stroke="#333" stroke-width="0.9" />
<line x1="99.58" y1="12.2" x2="99.58" y2="8.42" stroke="#333" stroke-width="0.9" />
<line x1="118.94" y1="229.5" x2="118.94" y2="233.7" stroke="#333" stroke-width="0.9" />
<line x1="118.94" y1="12.2" x2="118.94" y2="8.42" stroke="#333" stroke-width="0.9" />
<line x1="138.3" y1="229.5" x2="138.3" y2="237" stroke="#333" stroke-width="0.9" />
<line x1="138.3" y1="12.2" x2="138.3" y2="5.45" stroke="#333" stroke-width="0.9" />
<line x1="157.66" y1="229.5" x2="157.66" y2="233.7" stroke="#333" stroke-width="0.9" />
<line x1="157.66" y1="12.2" x2="157.66" y2="8.42" stroke="#333" stroke-width="0.9" />
<line x1="177.02" y1="229.5" x2="177.02" y2="233.7" stroke="#333" stroke-width="0.9" />
<line x1="177.02" y1="12.2" x2="177.02" y2="8.42" stroke="#333" stroke-width="0.9" />
<line x1="196.38" y1="229.5" x2="196.38" y2="233.7" stroke="#333" stroke-width="0.9" />
<line x1="196.38" y1="12.2" x2="196.38" y2="8.42" stroke="#333" stroke-width="0.9" />
<line x1="215.74" y1="229.5" x2="215.74" y2="233.7" stroke="#333" stroke-width="0.9" />
<line x1="215.74" y1="12.2" x2="215.74" y2="8.42" stroke="#333" stroke-width="0.9" />
<line x1="235.1" y1="229.5" x2="235.1" y2="237" stroke="#333" stroke-width="0.9" />
<line x1="235.1" y1="12.2" x2="235.1" y2="5.45" stroke="#333" stroke-width="0.9" />
<line x1="254.46" y1="229.5" x2="254.46" y2="233.7" stroke="#333" stroke-width="0.9" />
<line x1="254.46" y1="12.2" x2="254.46" y2="8.42" stroke="#333" stroke-width="0.9" />
<line x1="273.82" y1="229.5" x2="273.82" y2="233.7" stroke="#333" stroke-width="0.9" />
<line x1="273.82" y1="12.2" x2="273.82" y2="8.42" stroke="#333" stroke-width="0.9" />
<line x1="293.18" y1="229.5" x2="293.18" y2="233.7" stroke="#333" stroke-width="0.9" />
<line x1="293.18" y1="12.2" x2="293.18" y2="8.42" stroke="#333" stroke-width="0.9" />
<line x1="312.54" y1="229.5" x2="312.54" y2="233.7" stroke="#333" stroke-width="0.9" />
<line x1="312.54" y1="12.2" x2="312.54" y2="8.42" stroke="#333" stroke-width="0.9" />
<line x1="331.9" y1="229.5" x2="331.9" y2="237" stroke="#333" stroke-width="0.9" />
<line x1="331.9" y1="12.2" x2="331.9" y2="5.45" stroke="#333" stroke-width="0.9" />
<line x1="351.26" y1="229.5" x2="351.26" y2="233.7" stroke="#333" stroke-width="0.9" />
<line x1="351.26" y1="12.2" x2="351.26" y2="8.42" stroke="#333" stroke-width="0.9" />
<line x1="370.62" y1="229.5" x2="370.62" y2="233.7" stroke="#333" stroke-width="0.9" />
<line x1="370.62" y1="12.2" x2="370.62" y2="8.42" stroke="#333" stroke-width="0.9" />
<line x1="389.98" y1="229.5" x2="389.98" y2="233.7" stroke="#333" stroke-width="0.9" />
<line x1="389.98" y1="12.2" x2="389.98" y2="8.42" stroke="#333" stroke-width="0.9" />
<line x1="409.34" y1="229.5" x2="409.34" y2="233.7" stroke="#333" stroke-width="0.9" />
<line x1="409.34" y1="12.2" x2="409.34" y2="8.42" stroke="#333" stroke-width="0.9" />
<line x1="46.25" y1="24.55" x2="42.05" y2="24.55" stroke="#333" stroke-width="0.9" />
<line x1="410.6" y1="24.55" x2="414.8" y2="24.55" stroke="#333" stroke-width="0.9" />
<line x1="46.25" y1="44" x2="38.75" y2="44" stroke="#333" stroke-width="0.9" />
<line x1="410.6" y1="44" x2="418.1" y2="44" stroke="#333" stroke-width="0.9" />
<line x1="46.25" y1="63.45" x2="42.05" y2="63.45" stroke="#333" stroke-width="0.9" />
<line x1="410.6" y1="63.45" x2="414.8" y2="63.45" stroke="#333" stroke-width="0.9" />
<line x1="46.25" y1="82.9" x2="42.05" y2="82.9" stroke="#333" stroke-width="0.9" />
<line x1="410.6" y1="82.9" x2="414.8" y2="82.9" stroke="#333" stroke-width="0.9" />
<line x1="46.25" y1="102.35" x2="42.05" y2="102.35" stroke="#333" stroke-width="0.9" />
<line x1="410.6" y1="102.35" x2="414.8" y2="102.35" stroke="#333" stroke-width="0.9" />
<line x1="46.25" y1="121.8" x2="42.05" y2="121.8" stroke="#333" stroke-width="0.9" />
<line x1="410.6" y1="121.8" x2="414.8" y2="121.8" stroke="#333" stroke-width="0.9" />
<line x1="46.25" y1="141.25" x2="38.75" y2="141.25" stroke="#333" stroke-width="0.9" />
<line x1="410.6" y1="141.25" x2="418.1" y2="141.25" stroke="#333" stroke-width="0.9" />
<line x1="46.25" y1="160.7" x2="42.05" y2="160.7" stroke="#333" stroke-width="0.9" />
<line x1="410.6" y1="160.7" x2="414.8" y2="160.7" stroke="#333" stroke-width="0.9" />
<line x1="46.25" y1="180.15" x2="42.05" y2="180.15" stroke="#333" stroke-width="0.9" />
<line x1="410.6" y1="180.15" x2="414.8" y2="180.15" stroke="#333" stroke-width="0.9" />
<line x1="46.25" y1="199.6" x2="42.05" y2="199.6" stroke="#333" stroke-width="0.9" />
<line x1="410.6" y1="199.6" x2="414.8" y2="199.6" stroke="#333" stroke-width="0.9" />
<line x1="46.25" y1="219.05" x2="42.05" y2="219.05" stroke="#333" stroke-width="0.9" />
<line x1="410.6" y1="219.05" x2="414.8" y2="219.05" stroke="#333" stroke-width="0.9" />
<text x="138.3" y="247.4" font-family="'Liberation Serif',serif" font-size="11.2" fill="#111" text-anchor="middle"  stroke="#111" stroke-width="0.18">0</text>
<text x="234.5" y="247.4" font-family="'Liberation Serif',serif" font-size="11.2" fill="#111" text-anchor="middle"  stroke="#111" stroke-width="0.18">−0.05</text>
<text x="331.3" y="247.4" font-family="'Liberation Serif',serif" font-size="11.2" fill="#111" text-anchor="middle"  stroke="#111" stroke-width="0.18">−0.1</text>
<text x="34.6" y="44" font-family="'Liberation Serif',serif" font-size="11.2" fill="#111" text-anchor="middle" transform="rotate(-90 34.6 44)"  stroke="#111" stroke-width="0.18">0</text>
<text x="35.6" y="141.85" font-family="'Liberation Serif',serif" font-size="11.2" fill="#111" text-anchor="middle" transform="rotate(-90 35.6 141.85)"  stroke="#111" stroke-width="0.18">−0.05</text>
<text x="229.5" y="263.8" font-family="'Liberation Sans',sans-serif" font-size="16.15" fill="#000" text-anchor="middle"  stroke="#000" stroke-width="0.3">Galactic Longitude [deg]</text>
<text x="16.2" y="121.3" font-family="'Liberation Sans',sans-serif" font-size="16.3" fill="#000" text-anchor="middle" transform="rotate(-90 16.2 121.3)" textLength="157.5" lengthAdjust="spacingAndGlyphs" stroke="#000" stroke-width="0.3">Galactic Latitude [deg]</text>
<text x="62" y="31.8" font-family="'Liberation Serif',serif" font-size="12" fill="#fff" text-anchor="start" letter-spacing="0" stroke="#fff" stroke-width="0.25">( a )</text>
<rect x="272.5" y="42" width="81" height="81.3" fill="none" stroke="#d8d0e0" stroke-opacity="0.85" stroke-width="0.9"/>
<line x1="353.5" y1="42" x2="440.8" y2="12.5" stroke="#7a7a7a" stroke-width="0.9" />
<line x1="353.5" y1="123.3" x2="440.8" y2="163.1" stroke="#7a7a7a" stroke-width="0.9" />
<text x="313.4" y="40.4" font-family="'Liberation Sans',sans-serif" font-size="20.8" fill="#f446f0" text-anchor="middle" font-weight="bold" stroke="none">Tadpole</text>
<line x1="315.4" y1="42" x2="315.4" y2="62" stroke="#e838d8" stroke-width="0.8" />
<line x1="238" y1="133.1" x2="253.2" y2="133.1" stroke="#e040e0" stroke-width="1.6" />
<line x1="245.6" y1="125.4" x2="245.6" y2="141" stroke="#e040e0" stroke-width="1.6" />
</g>
<g id="panel-b">
<g clip-path="url(#cbp)"><g filter="url(#sm2)">
<rect x="432.8" y="4.6" width="166.6" height="166.9" fill="#0b020e"/>
<path fill="#0b020e" d="M446.19 17.99H452.98V24.78H446.19ZM457.78 17.99H470.36V24.78H457.78ZM475.15 17.99H481.95V24.78H475.15ZM486.74 17.99H499.32V24.78H486.74ZM521.49 17.99H539.87V24.78H521.49ZM544.66 17.99H557.25V24.78H544.66ZM434.61 23.78H464.57V30.58H434.61ZM469.36 23.78H476.15V30.58H469.36ZM486.74 23.78H499.32V30.58H486.74ZM515.7 23.78H522.49V30.58H515.7ZM527.28 23.78H551.45V30.58H527.28ZM434.61 29.58H447.19V36.37H434.61ZM451.98 29.58H458.78V36.37H451.98ZM463.57 29.58H470.36V36.37H463.57ZM475.15 29.58H499.32V36.37H475.15ZM515.7 29.58H545.66V36.37H515.7ZM556.25 29.58H563.04V36.37H556.25ZM567.83 29.58H574.62V36.37H567.83ZM579.42 29.58H586.21V36.37H579.42ZM434.61 35.37H452.98V42.16H434.61ZM463.57 35.37H505.12V42.16H463.57ZM509.91 35.37H551.45V42.16H509.91ZM556.25 35.37H574.62V42.16H556.25ZM434.61 41.16H493.53V47.95H434.61ZM550.45 41.16H557.25V47.95H550.45ZM562.04 41.16H574.62V47.95H562.04ZM434.61 46.95H464.57V53.75H434.61ZM469.36 46.95H481.95V53.75H469.36ZM486.74 46.95H493.53V53.75H486.74ZM562.04 46.95H580.42V53.75H562.04ZM434.61 52.75H447.19V59.54H434.61ZM457.78 52.75H481.95V59.54H457.78ZM486.74 52.75H493.53V59.54H486.74ZM556.25 52.75H574.62V59.54H556.25ZM451.98 58.54H493.53V65.33H451.98ZM567.83 58.54H574.62V65.33H567.83ZM451.98 64.33H458.78V71.12H451.98ZM463.57 64.33H493.53V71.12H463.57ZM556.25 64.33H580.42V71.12H556.25ZM446.19 70.12H464.57V76.92H446.19ZM562.04 70.12H568.83V76.92H562.04ZM573.62 70.12H597.79V76.92H573.62ZM457.78 75.92H464.57V82.71H457.78ZM475.15 75.92H493.53V82.71H475.15ZM556.25 75.92H574.62V82.71H556.25ZM446.19 81.71H464.57V88.5H446.19ZM475.15 81.71H487.74V88.5H475.15ZM556.25 81.71H597.79V88.5H556.25ZM434.61 87.5H452.98V94.29H434.61ZM457.78 87.5H464.57V94.29H457.78ZM475.15 87.5H487.74V94.29H475.15ZM562.04 87.5H580.42V94.29H562.04ZM585.21 87.5H597.79V94.29H585.21ZM434.61 93.29H487.74V100.08H434.61ZM550.45 93.29H563.04V100.08H550.45ZM573.62 93.29H597.79V100.08H573.62ZM446.19 99.08H452.98V105.88H446.19ZM457.78 99.08H464.57V105.88H457.78ZM469.36 99.08H487.74V105.88H469.36ZM544.66 99.08H574.62V105.88H544.66ZM463.57 104.88H476.15V111.67H463.57ZM492.53 104.88H510.91V111.67H492.53ZM515.7 104.88H534.08V111.67H515.7ZM538.87 104.88H545.66V111.67H538.87ZM550.45 104.88H580.42V111.67H550.45ZM457.78 110.67H516.7V117.46H457.78ZM521.49 110.67H545.66V117.46H521.49ZM556.25 110.67H568.83V117.46H556.25ZM573.62 110.67H580.42V117.46H573.62ZM585.21 110.67H597.79V117.46H585.21ZM451.98 116.46H499.32V123.25H451.98ZM504.12 116.46H516.7V123.25H504.12ZM527.28 116.46H597.79V123.25H527.28ZM446.19 122.25H464.57V129.05H446.19ZM469.36 122.25H476.15V129.05H469.36ZM480.95 122.25H487.74V129.05H480.95ZM492.53 122.25H510.91V129.05H492.53ZM521.49 122.25H528.28V129.05H521.49ZM533.08 122.25H545.66V129.05H533.08ZM550.45 122.25H597.79V129.05H550.45ZM434.61 128.05H452.98V134.84H434.61ZM457.78 128.05H470.36V134.84H457.78ZM480.95 128.05H516.7V134.84H480.95ZM521.49 128.05H539.87V134.84H521.49ZM550.45 128.05H586.21V134.84H550.45ZM434.61 133.84H464.57V140.63H434.61ZM480.95 133.84H487.74V140.63H480.95ZM492.53 133.84H499.32V140.63H492.53ZM504.12 133.84H516.7V140.63H504.12ZM521.49 133.84H534.08V140.63H521.49ZM567.83 133.84H574.62V140.63H567.83ZM579.42 133.84H597.79V140.63H579.42ZM457.78 139.63H464.57V146.42H457.78ZM469.36 139.63H476.15V146.42H469.36ZM480.95 139.63H487.74V146.42H480.95ZM567.83 139.63H597.79V146.42H567.83ZM457.78 145.42H464.57V152.22H457.78ZM469.36 145.42H476.15V152.22H469.36ZM538.87 145.42H551.45V152.22H538.87ZM556.25 145.42H563.04V152.22H556.25ZM573.62 145.42H586.21V152.22H573.62ZM469.36 151.22H487.74V158.01H469.36ZM492.53 151.22H516.7V158.01H492.53ZM521.49 151.22H539.87V158.01H521.49ZM544.66 151.22H568.83V158.01H544.66ZM573.62 151.22H597.79V158.01H573.62ZM556.25 157.01H574.62V163.8H556.25ZM579.42 157.01H597.79V163.8H579.42ZM556.25 162.8H574.62V169.59H556.25ZM579.42 162.8H597.79V169.59H579.42Z"/>
<path fill="#16031b" d="M451.98 17.99H458.78V24.78H451.98ZM515.7 17.99H522.49V24.78H515.7ZM556.25 17.99H563.04V24.78H556.25ZM463.57 23.78H470.36V30.58H463.57ZM475.15 23.78H487.74V30.58H475.15ZM498.32 23.78H505.12V30.58H498.32ZM509.91 23.78H516.7V30.58H509.91ZM521.49 23.78H528.28V30.58H521.49ZM556.25 23.78H563.04V30.58H556.25ZM579.42 23.78H597.79V30.58H579.42ZM457.78 29.58H464.57V36.37H457.78ZM562.04 29.58H568.83V36.37H562.04ZM573.62 29.58H580.42V36.37H573.62ZM585.21 29.58H597.79V36.37H585.21ZM457.78 35.37H464.57V42.16H457.78ZM504.12 35.37H510.91V42.16H504.12ZM550.45 35.37H557.25V42.16H550.45ZM492.53 41.16H499.32V47.95H492.53ZM538.87 41.16H551.45V47.95H538.87ZM556.25 41.16H563.04V47.95H556.25ZM573.62 41.16H580.42V47.95H573.62ZM463.57 46.95H470.36V53.75H463.57ZM544.66 46.95H557.25V53.75H544.66ZM446.19 52.75H452.98V59.54H446.19ZM480.95 52.75H487.74V59.54H480.95ZM434.61 58.54H447.19V65.33H434.61ZM556.25 58.54H568.83V65.33H556.25ZM457.78 64.33H464.57V71.12H457.78ZM475.15 70.12H493.53V76.92H475.15ZM567.83 70.12H574.62V76.92H567.83ZM451.98 75.92H458.78V82.71H451.98ZM469.36 75.92H476.15V82.71H469.36ZM486.74 81.71H493.53V88.5H486.74ZM469.36 87.5H476.15V94.29H469.36ZM486.74 87.5H493.53V94.29H486.74ZM550.45 87.5H557.25V94.29H550.45ZM579.42 87.5H586.21V94.29H579.42ZM486.74 93.29H493.53V100.08H486.74ZM562.04 93.29H574.62V100.08H562.04ZM492.53 99.08H505.12V105.88H492.53ZM573.62 99.08H597.79V105.88H573.62ZM434.61 104.88H452.98V111.67H434.61ZM509.91 104.88H516.7V111.67H509.91ZM544.66 104.88H551.45V111.67H544.66ZM579.42 104.88H597.79V111.67H579.42ZM446.19 110.67H458.78V117.46H446.19ZM579.42 110.67H586.21V117.46H579.42ZM515.7 116.46H528.28V123.25H515.7ZM463.57 122.25H470.36V129.05H463.57ZM515.7 122.25H522.49V129.05H515.7ZM544.66 122.25H551.45V129.05H544.66ZM469.36 128.05H481.95V134.84H469.36ZM515.7 128.05H522.49V134.84H515.7ZM544.66 128.05H551.45V134.84H544.66ZM585.21 128.05H597.79V134.84H585.21ZM469.36 133.84H481.95V140.63H469.36ZM486.74 133.84H493.53V140.63H486.74ZM562.04 133.84H568.83V140.63H562.04ZM451.98 139.63H458.78V146.42H451.98ZM475.15 139.63H481.95V146.42H475.15ZM486.74 139.63H499.32V146.42H486.74ZM521.49 139.63H528.28V146.42H521.49ZM556.25 139.63H563.04V146.42H556.25ZM446.19 145.42H458.78V152.22H446.19ZM463.57 145.42H470.36V152.22H463.57ZM486.74 145.42H493.53V152.22H486.74ZM509.91 145.42H522.49V152.22H509.91ZM527.28 145.42H539.87V152.22H527.28ZM515.7 151.22H522.49V158.01H515.7ZM567.83 151.22H574.62V158.01H567.83ZM573.62 157.01H580.42V163.8H573.62ZM573.62 162.8H580.42V169.59H573.62Z"/>
<path fill="#21052a" d="M434.61 17.99H447.19V24.78H434.61ZM469.36 17.99H476.15V24.78H469.36ZM480.95 17.99H487.74V24.78H480.95ZM498.32 17.99H505.12V24.78H498.32ZM538.87 17.99H545.66V24.78H538.87ZM579.42 17.99H586.21V24.78H579.42ZM504.12 23.78H510.91V30.58H504.12ZM573.62 23.78H580.42V30.58H573.62ZM446.19 29.58H452.98V36.37H446.19ZM498.32 29.58H505.12V36.37H498.32ZM544.66 29.58H557.25V36.37H544.66ZM451.98 35.37H458.78V42.16H451.98ZM573.62 35.37H586.21V42.16H573.62ZM492.53 46.95H499.32V53.75H492.53ZM556.25 46.95H563.04V53.75H556.25ZM544.66 52.75H557.25V59.54H544.66ZM550.45 58.54H557.25V65.33H550.45ZM585.21 64.33H597.79V71.12H585.21ZM469.36 70.12H476.15V76.92H469.36ZM556.25 70.12H563.04V76.92H556.25ZM446.19 75.92H452.98V82.71H446.19ZM579.42 75.92H586.21V82.71H579.42ZM463.57 81.71H470.36V88.5H463.57ZM550.45 81.71H557.25V88.5H550.45ZM451.98 87.5H458.78V94.29H451.98ZM463.57 87.5H470.36V94.29H463.57ZM498.32 93.29H505.12V100.08H498.32ZM544.66 93.29H551.45V100.08H544.66ZM434.61 99.08H447.19V105.88H434.61ZM451.98 99.08H458.78V105.88H451.98ZM463.57 99.08H470.36V105.88H463.57ZM538.87 99.08H545.66V105.88H538.87ZM451.98 104.88H458.78V111.67H451.98ZM475.15 104.88H481.95V111.67H475.15ZM486.74 104.88H493.53V111.67H486.74ZM533.08 104.88H539.87V111.67H533.08ZM434.61 110.67H447.19V117.46H434.61ZM544.66 110.67H557.25V117.46H544.66ZM567.83 110.67H574.62V117.46H567.83ZM434.61 116.46H452.98V123.25H434.61ZM498.32 116.46H505.12V123.25H498.32ZM434.61 122.25H447.19V129.05H434.61ZM527.28 122.25H534.08V129.05H527.28ZM538.87 128.05H545.66V134.84H538.87ZM498.32 133.84H505.12V140.63H498.32ZM538.87 133.84H545.66V140.63H538.87ZM550.45 133.84H563.04V140.63H550.45ZM573.62 133.84H580.42V140.63H573.62ZM434.61 139.63H447.19V146.42H434.61ZM504.12 139.63H510.91V146.42H504.12ZM527.28 139.63H545.66V146.42H527.28ZM550.45 139.63H557.25V146.42H550.45ZM562.04 139.63H568.83V146.42H562.04ZM475.15 145.42H487.74V152.22H475.15ZM498.32 145.42H510.91V152.22H498.32ZM521.49 145.42H528.28V152.22H521.49ZM550.45 145.42H557.25V152.22H550.45ZM567.83 145.42H574.62V152.22H567.83ZM486.74 151.22H493.53V158.01H486.74ZM538.87 151.22H545.66V158.01H538.87ZM550.45 157.01H557.25V163.8H550.45ZM550.45 162.8H557.25V169.59H550.45Z"/>
<path fill="#2c083b" d="M509.91 17.99H516.7V24.78H509.91ZM573.62 17.99H580.42V24.78H573.62ZM585.21 17.99H597.79V24.78H585.21ZM562.04 23.78H568.83V30.58H562.04ZM469.36 29.58H476.15V36.37H469.36ZM504.12 29.58H510.91V36.37H504.12ZM498.32 41.16H505.12V47.95H498.32ZM533.08 41.16H539.87V47.95H533.08ZM579.42 41.16H586.21V47.95H579.42ZM480.95 46.95H487.74V53.75H480.95ZM446.19 58.54H452.98V65.33H446.19ZM446.19 64.33H452.98V71.12H446.19ZM579.42 64.33H586.21V71.12H579.42ZM434.61 70.12H447.19V76.92H434.61ZM463.57 70.12H470.36V76.92H463.57ZM434.61 75.92H447.19V82.71H434.61ZM463.57 75.92H470.36V82.71H463.57ZM550.45 75.92H557.25V82.71H550.45ZM585.21 75.92H597.79V82.71H585.21ZM469.36 81.71H476.15V88.5H469.36ZM492.53 87.5H499.32V94.29H492.53ZM492.53 93.29H499.32V100.08H492.53ZM486.74 99.08H493.53V105.88H486.74ZM457.78 104.88H464.57V111.67H457.78ZM480.95 104.88H487.74V111.67H480.95ZM451.98 128.05H458.78V134.84H451.98ZM515.7 133.84H522.49V140.63H515.7ZM533.08 133.84H539.87V140.63H533.08ZM544.66 133.84H551.45V140.63H544.66ZM498.32 139.63H505.12V146.42H498.32ZM509.91 139.63H516.7V146.42H509.91ZM544.66 139.63H551.45V146.42H544.66ZM492.53 145.42H499.32V152.22H492.53ZM562.04 145.42H568.83V152.22H562.04Z"/>
<path fill="#380a4c" d="M562.04 17.99H568.83V24.78H562.04ZM550.45 23.78H557.25V30.58H550.45ZM509.91 29.58H516.7V36.37H509.91ZM538.87 46.95H545.66V53.75H538.87ZM451.98 52.75H458.78V59.54H451.98ZM492.53 52.75H499.32V59.54H492.53ZM492.53 58.54H499.32V65.33H492.53ZM550.45 64.33H557.25V71.12H550.45ZM550.45 70.12H557.25V76.92H550.45ZM573.62 75.92H580.42V82.71H573.62ZM434.61 81.71H447.19V88.5H434.61ZM492.53 81.71H499.32V88.5H492.53ZM498.32 87.5H505.12V94.29H498.32ZM544.66 87.5H551.45V94.29H544.66ZM556.25 87.5H563.04V94.29H556.25ZM538.87 93.29H545.66V100.08H538.87ZM504.12 99.08H510.91V105.88H504.12ZM533.08 99.08H539.87V105.88H533.08ZM475.15 122.25H481.95V129.05H475.15ZM486.74 122.25H493.53V129.05H486.74ZM509.91 122.25H516.7V129.05H509.91ZM515.7 139.63H522.49V146.42H515.7ZM434.61 145.42H447.19V152.22H434.61ZM585.21 145.42H597.79V152.22H585.21Z"/>
<path fill="#35095e" d="M434.61 6.41H597.79V13.2H434.61ZM434.61 12.2H597.79V18.99H434.61ZM504.12 17.99H510.91V24.78H504.12ZM567.83 17.99H574.62V24.78H567.83ZM567.83 23.78H574.62V30.58H567.83ZM434.61 64.33H447.19V71.12H434.61ZM515.7 110.67H522.49V117.46H515.7ZM446.19 139.63H452.98V146.42H446.19ZM463.57 151.22H470.36V158.01H463.57ZM544.66 157.01H551.45V163.8H544.66ZM544.66 162.8H551.45V169.59H544.66Z"/>
<path fill="#32086f" d="M527.28 41.16H534.08V47.95H527.28ZM492.53 64.33H499.32V71.12H492.53ZM492.53 75.92H499.32V82.71H492.53ZM504.12 93.29H510.91V100.08H504.12ZM434.61 151.22H447.19V158.01H434.61ZM457.78 151.22H464.57V158.01H457.78Z"/>
<path fill="#2d0880" d="M463.57 139.63H470.36V146.42H463.57ZM446.19 151.22H458.78V158.01H446.19ZM533.08 157.01H545.66V163.8H533.08ZM533.08 162.8H545.66V169.59H533.08Z"/>
<path fill="#280890" d="M504.12 41.16H510.91V47.95H504.12ZM515.7 41.16H528.28V47.95H515.7ZM498.32 46.95H505.12V53.75H498.32ZM533.08 46.95H539.87V53.75H533.08ZM538.87 52.75H545.66V59.54H538.87ZM492.53 70.12H499.32V76.92H492.53ZM544.66 81.71H551.45V88.5H544.66ZM538.87 87.5H545.66V94.29H538.87ZM533.08 93.29H539.87V100.08H533.08ZM509.91 99.08H516.7V105.88H509.91ZM527.28 99.08H534.08V105.88H527.28Z"/>
<path fill="#2208a0" d="M585.21 35.37H597.79V42.16H585.21ZM463.57 133.84H470.36V140.63H463.57ZM527.28 157.01H534.08V163.8H527.28ZM527.28 162.8H534.08V169.59H527.28Z"/>
<path fill="#1f0baa" d="M585.21 58.54H597.79V65.33H585.21ZM521.49 157.01H528.28V163.8H521.49ZM521.49 162.8H528.28V169.59H521.49Z"/>
<path fill="#1c0eb3" d="M509.91 41.16H516.7V47.95H509.91ZM527.28 46.95H534.08V53.75H527.28ZM498.32 52.75H505.12V59.54H498.32ZM544.66 58.54H551.45V65.33H544.66ZM498.32 81.71H505.12V88.5H498.32ZM538.87 81.71H545.66V88.5H538.87ZM504.12 87.5H510.91V94.29H504.12ZM533.08 87.5H539.87V94.29H533.08ZM509.91 93.29H516.7V100.08H509.91ZM515.7 99.08H522.49V105.88H515.7ZM451.98 157.01H458.78V163.8H451.98ZM509.91 157.01H522.49V163.8H509.91ZM451.98 162.8H458.78V169.59H451.98ZM509.91 162.8H522.49V169.59H509.91Z"/>
<path fill="#1812bd" d="M446.19 157.01H452.98V163.8H446.19ZM469.36 157.01H476.15V163.8H469.36ZM446.19 162.8H452.98V169.59H446.19ZM469.36 162.8H476.15V169.59H469.36Z"/>
<path fill="#1515c6" d="M515.7 46.95H528.28V53.75H515.7ZM573.62 52.75H580.42V59.54H573.62ZM573.62 58.54H580.42V65.33H573.62ZM544.66 75.92H551.45V82.71H544.66ZM521.49 99.08H528.28V105.88H521.49ZM434.61 157.01H447.19V163.8H434.61ZM457.78 157.01H470.36V163.8H457.78ZM475.15 157.01H487.74V163.8H475.15ZM434.61 162.8H447.19V169.59H434.61ZM457.78 162.8H470.36V169.59H457.78ZM475.15 162.8H487.74V169.59H475.15Z"/>
<path fill="#1218d0" d="M585.21 41.16H597.79V47.95H585.21ZM504.12 46.95H516.7V53.75H504.12ZM533.08 52.75H539.87V59.54H533.08ZM498.32 58.54H505.12V65.33H498.32ZM579.42 58.54H586.21V65.33H579.42ZM544.66 64.33H551.45V71.12H544.66ZM544.66 70.12H551.45V76.92H544.66ZM504.12 157.01H510.91V163.8H504.12ZM504.12 162.8H510.91V169.59H504.12Z"/>
<path fill="#152ad6" d="M579.42 46.95H586.21V53.75H579.42ZM498.32 64.33H505.12V71.12H498.32Z"/>
<path fill="#1c4de3" d="M585.21 52.75H597.79V59.54H585.21ZM498.32 70.12H505.12V76.92H498.32ZM533.08 81.71H539.87V88.5H533.08ZM527.28 93.29H534.08V100.08H527.28Z"/>
<path fill="#1f5eea" d="M579.42 52.75H586.21V59.54H579.42Z"/>
<path fill="#2270f0" d="M585.21 46.95H597.79V53.75H585.21ZM504.12 52.75H510.91V59.54H504.12ZM527.28 52.75H534.08V59.54H527.28ZM498.32 75.92H505.12V82.71H498.32ZM515.7 93.29H522.49V100.08H515.7ZM486.74 157.01H493.53V163.8H486.74ZM498.32 157.01H505.12V163.8H498.32ZM486.74 162.8H493.53V169.59H486.74ZM498.32 162.8H505.12V169.59H498.32Z"/>
<path fill="#308af2" d="M538.87 58.54H545.66V65.33H538.87ZM538.87 75.92H545.66V82.71H538.87ZM504.12 81.71H510.91V88.5H504.12ZM492.53 157.01H499.32V163.8H492.53ZM492.53 162.8H499.32V169.59H492.53Z"/>
<path fill="#3da3f3" d="M521.49 52.75H528.28V59.54H521.49Z"/>
<path fill="#44b0f4" d="M509.91 52.75H522.49V59.54H509.91ZM538.87 64.33H545.66V71.12H538.87ZM538.87 70.12H545.66V76.92H538.87ZM521.49 93.29H528.28V100.08H521.49Z"/>
<path fill="#4ebec6" d="M509.91 87.5H516.7V94.29H509.91ZM527.28 87.5H534.08V94.29H527.28Z"/>
<path fill="#54c8a8" d="M504.12 58.54H510.91V65.33H504.12ZM533.08 58.54H539.87V65.33H533.08ZM504.12 64.33H510.91V71.12H504.12ZM504.12 70.12H510.91V76.92H504.12ZM504.12 75.92H510.91V82.71H504.12ZM533.08 75.92H539.87V82.71H533.08Z"/>
<path fill="#69ce8e" d="M533.08 64.33H539.87V71.12H533.08ZM533.08 70.12H539.87V76.92H533.08Z"/>
<path fill="#7ed575" d="M527.28 81.71H534.08V88.5H527.28Z"/>
<path fill="#88d868" d="M509.91 58.54H516.7V65.33H509.91ZM527.28 58.54H534.08V65.33H527.28ZM509.91 81.71H516.7V88.5H509.91Z"/>
<path fill="#b3e450" d="M515.7 58.54H528.28V65.33H515.7Z"/>
<path fill="#d0ec40" d="M527.28 64.33H534.08V71.12H527.28ZM509.91 75.92H516.7V82.71H509.91ZM527.28 75.92H534.08V82.71H527.28ZM515.7 87.5H528.28V94.29H515.7Z"/>
<path fill="#e7ee37" d="M509.91 64.33H516.7V71.12H509.91Z"/>
<path fill="#f8e52e" d="M509.91 70.12H516.7V76.92H509.91ZM527.28 70.12H534.08V76.92H527.28Z"/>
<path fill="#f5801d" d="M515.7 81.71H528.28V88.5H515.7Z"/>
<path fill="#f04018" d="M515.7 64.33H528.28V71.12H515.7Z"/>
<path fill="#fac0c0" d="M515.7 75.92H522.49V82.71H515.7Z"/>
<path fill="#fddfdf" d="M521.49 75.92H528.28V82.71H521.49Z"/>
<path fill="#ffffff" d="M515.7 70.12H528.28V76.92H515.7Z"/>
</g></g>
<line x1="440.8" y1="67.3" x2="591.4" y2="67.3" stroke="#62c0bc" stroke-width="1" />
<rect x="501.3" y="148.6" width="84.4" height="8.3" fill="url(#cb)" stroke="#fff" stroke-width="0.9"/><line x1="516.6" y1="148.6" x2="516.6" y2="156.9" stroke="#fff" stroke-width="0.6" stroke-dasharray="2.4 1.2"/><line x1="536.2" y1="148.6" x2="536.2" y2="156.9" stroke="#fff" stroke-width="0.6" stroke-dasharray="2.4 1.2"/><line x1="555.7" y1="148.6" x2="555.7" y2="156.9" stroke="#fff" stroke-width="0.6" stroke-dasharray="2.4 1.2"/><line x1="575.1" y1="148.6" x2="575.1" y2="156.9" stroke="#fff" stroke-width="0.6" stroke-dasharray="2.4 1.2"/><text x="516.2" y="146.4" font-family="'Liberation Serif',serif" font-size="8.6" fill="#fff" text-anchor="middle" >50</text><text x="536" y="146.4" font-family="'Liberation Serif',serif" font-size="8.6" fill="#fff" text-anchor="middle" >100</text><text x="555.7" y="146.4" font-family="'Liberation Serif',serif" font-size="8.6" fill="#fff" text-anchor="middle" >150</text><text x="575.5" y="146.4" font-family="'Liberation Serif',serif" font-size="8.6" fill="#fff" text-anchor="middle" >200</text>
<text x="444.4" y="25.6" font-family="'Liberation Sans',sans-serif" font-size="12" fill="#fff" text-anchor="start" letter-spacing="-0.4" stroke="none">( b )</text>
<text x="465.6" y="25.8" font-family="'Liberation Sans',sans-serif" font-size="10.7" fill="#fff" text-anchor="start" stroke="none">CO <tspan font-style="italic">J</tspan>=3–2</text>
<line x1="556.8" y1="19.2" x2="579.4" y2="19.2" stroke="#fff" stroke-width="0.8" />
<text x="568.4" y="31.4" font-family="'Liberation Sans',sans-serif" font-size="10.8" fill="#fff" text-anchor="middle" stroke="none">1 pc</text>
<text x="454.5" y="140.6" font-family="'Liberation Sans',sans-serif" font-size="7.6" fill="#aaa" text-anchor="middle" >HPBW</text>
<circle cx="454.8" cy="149.6" r="7" fill="#b4b4b4"/>
<rect x="440.8" y="12.6" width="150.6" height="150.9" fill="none" stroke="#111" stroke-width="0.9"/>
<line x1="447" y1="12.6" x2="447" y2="6.3" stroke="#111" stroke-width="1.1" />
<line x1="447" y1="163.5" x2="447" y2="169.8" stroke="#111" stroke-width="1.1" />
<line x1="464.27" y1="12.6" x2="464.27" y2="8.8" stroke="#111" stroke-width="1.1" />
<line x1="464.27" y1="163.5" x2="464.27" y2="167.3" stroke="#111" stroke-width="1.1" />
<line x1="481.54" y1="12.6" x2="481.54" y2="6.3" stroke="#111" stroke-width="1.1" />
<line x1="481.54" y1="163.5" x2="481.54" y2="169.8" stroke="#111" stroke-width="1.1" />
<line x1="498.81" y1="12.6" x2="498.81" y2="8.8" stroke="#111" stroke-width="1.1" />
<line x1="498.81" y1="163.5" x2="498.81" y2="167.3" stroke="#111" stroke-width="1.1" />
<line x1="516.08" y1="12.6" x2="516.08" y2="6.3" stroke="#111" stroke-width="1.1" />
<line x1="516.08" y1="163.5" x2="516.08" y2="169.8" stroke="#111" stroke-width="1.1" />
<line x1="533.35" y1="12.6" x2="533.35" y2="8.8" stroke="#111" stroke-width="1.1" />
<line x1="533.35" y1="163.5" x2="533.35" y2="167.3" stroke="#111" stroke-width="1.1" />
<line x1="550.62" y1="12.6" x2="550.62" y2="6.3" stroke="#111" stroke-width="1.1" />
<line x1="550.62" y1="163.5" x2="550.62" y2="169.8" stroke="#111" stroke-width="1.1" />
<line x1="567.89" y1="12.6" x2="567.89" y2="8.8" stroke="#111" stroke-width="1.1" />
<line x1="567.89" y1="163.5" x2="567.89" y2="167.3" stroke="#111" stroke-width="1.1" />
<line x1="585.16" y1="12.6" x2="585.16" y2="6.3" stroke="#111" stroke-width="1.1" />
<line x1="585.16" y1="163.5" x2="585.16" y2="169.8" stroke="#111" stroke-width="1.1" />
<line x1="591.4" y1="19.4" x2="597.7" y2="19.4" stroke="#111" stroke-width="1.1" />
<line x1="440.8" y1="19.4" x2="434.5" y2="19.4" stroke="#111" stroke-width="1.1" />
<line x1="591.4" y1="36.67" x2="595.2" y2="36.67" stroke="#111" stroke-width="1.1" />
<line x1="440.8" y1="36.67" x2="437" y2="36.67" stroke="#111" stroke-width="1.1" />
<line x1="591.4" y1="53.94" x2="597.7" y2="53.94" stroke="#111" stroke-width="1.1" />
<line x1="440.8" y1="53.94" x2="434.5" y2="53.94" stroke="#111" stroke-width="1.1" />
<line x1="591.4" y1="71.21" x2="595.2" y2="71.21" stroke="#111" stroke-width="1.1" />
<line x1="440.8" y1="71.21" x2="437" y2="71.21" stroke="#111" stroke-width="1.1" />
<line x1="591.4" y1="88.48" x2="597.7" y2="88.48" stroke="#111" stroke-width="1.1" />
<line x1="440.8" y1="88.48" x2="434.5" y2="88.48" stroke="#111" stroke-width="1.1" />
<line x1="591.4" y1="105.75" x2="595.2" y2="105.75" stroke="#111" stroke-width="1.1" />
<line x1="440.8" y1="105.75" x2="437" y2="105.75" stroke="#111" stroke-width="1.1" />
<line x1="591.4" y1="123.02" x2="597.7" y2="123.02" stroke="#111" stroke-width="1.1" />
<line x1="440.8" y1="123.02" x2="434.5" y2="123.02" stroke="#111" stroke-width="1.1" />
<line x1="591.4" y1="140.29" x2="595.2" y2="140.29" stroke="#111" stroke-width="1.1" />
<line x1="440.8" y1="140.29" x2="437" y2="140.29" stroke="#111" stroke-width="1.1" />
<line x1="591.4" y1="157.56" x2="597.7" y2="157.56" stroke="#111" stroke-width="1.1" />
<line x1="440.8" y1="157.56" x2="434.5" y2="157.56" stroke="#111" stroke-width="1.1" />
<text x="601.6" y="13.1" font-family="'Liberation Serif',serif" font-size="11.3" fill="#111" text-anchor="middle" transform="rotate(90 601.6 13.1)"  stroke="#111" stroke-width="0.18">0.00</text>
<text x="601.6" y="48.9" font-family="'Liberation Serif',serif" font-size="11.3" fill="#111" text-anchor="middle" transform="rotate(90 601.6 48.9)"  stroke="#111" stroke-width="0.18">−0.01</text>
<text x="601.6" y="85.4" font-family="'Liberation Serif',serif" font-size="11.3" fill="#111" text-anchor="middle" transform="rotate(90 601.6 85.4)"  stroke="#111" stroke-width="0.18">−0.02</text>
<text x="601.6" y="121.5" font-family="'Liberation Serif',serif" font-size="11.3" fill="#111" text-anchor="middle" transform="rotate(90 601.6 121.5)"  stroke="#111" stroke-width="0.18">−0.03</text>
<text x="601.6" y="158" font-family="'Liberation Serif',serif" font-size="11.3" fill="#111" text-anchor="middle" transform="rotate(90 601.6 158)"  stroke="#111" stroke-width="0.18">−0.04</text>
<text x="625.4" y="8.8" font-family="'Liberation Sans',sans-serif" font-size="16.3" fill="#000" text-anchor="start" transform="rotate(90 625.4 8.8)" textLength="157.3" lengthAdjust="spacingAndGlyphs" stroke="#000" stroke-width="0.3">Galactic Latitude [deg]</text>
</g>
<g id="panel-c">
<g clip-path="url(#ccp)"><g filter="url(#sm2)">
<rect x="432.8" y="176.2" width="166.6" height="340.4" fill="#0b020e"/>
<path fill="#0b020e" d="M446.19 179.23H452.98V184.8H446.19ZM457.78 179.23H487.74V184.8H457.78ZM492.53 179.23H516.7V184.8H492.53ZM533.08 179.23H539.87V184.8H533.08ZM550.45 179.23H557.25V184.8H550.45ZM562.04 179.23H568.83V184.8H562.04ZM446.19 183.8H452.98V189.37H446.19ZM457.78 183.8H487.74V189.37H457.78ZM492.53 183.8H516.7V189.37H492.53ZM533.08 183.8H539.87V189.37H533.08ZM550.45 183.8H557.25V189.37H550.45ZM562.04 183.8H568.83V189.37H562.04ZM446.19 188.37H464.57V193.94H446.19ZM469.36 188.37H510.91V193.94H469.36ZM515.7 188.37H568.83V193.94H515.7ZM573.62 188.37H580.42V193.94H573.62ZM451.98 192.94H464.57V198.51H451.98ZM469.36 192.94H493.53V198.51H469.36ZM527.28 192.94H545.66V198.51H527.28ZM579.42 192.94H597.79V198.51H579.42ZM434.61 197.51H458.78V203.08H434.61ZM475.15 197.51H481.95V203.08H475.15ZM486.74 197.51H522.49V203.08H486.74ZM527.28 197.51H534.08V203.08H527.28ZM538.87 197.51H545.66V203.08H538.87ZM573.62 197.51H580.42V203.08H573.62ZM434.61 202.08H458.78V207.65H434.61ZM480.95 202.08H499.32V207.65H480.95ZM504.12 202.08H510.91V207.65H504.12ZM521.49 202.08H528.28V207.65H521.49ZM538.87 202.08H545.66V207.65H538.87ZM562.04 202.08H568.83V207.65H562.04ZM573.62 202.08H586.21V207.65H573.62ZM434.61 206.65H464.57V212.21H434.61ZM480.95 206.65H505.12V212.21H480.95ZM515.7 206.65H522.49V212.21H515.7ZM527.28 206.65H534.08V212.21H527.28ZM562.04 206.65H580.42V212.21H562.04ZM451.98 211.21H476.15V216.78H451.98ZM480.95 211.21H487.74V216.78H480.95ZM509.91 211.21H522.49V216.78H509.91ZM527.28 211.21H551.45V216.78H527.28ZM556.25 211.21H580.42V216.78H556.25ZM585.21 211.21H597.79V216.78H585.21ZM434.61 215.78H447.19V221.35H434.61ZM457.78 215.78H493.53V221.35H457.78ZM498.32 215.78H522.49V221.35H498.32ZM556.25 215.78H580.42V221.35H556.25ZM585.21 215.78H597.79V221.35H585.21ZM434.61 220.35H452.98V225.92H434.61ZM457.78 220.35H464.57V225.92H457.78ZM480.95 220.35H493.53V225.92H480.95ZM498.32 220.35H505.12V225.92H498.32ZM509.91 220.35H522.49V225.92H509.91ZM527.28 220.35H534.08V225.92H527.28ZM538.87 220.35H545.66V225.92H538.87ZM562.04 220.35H568.83V225.92H562.04ZM579.42 220.35H586.21V225.92H579.42ZM446.19 224.92H458.78V230.49H446.19ZM492.53 224.92H505.12V230.49H492.53ZM509.91 224.92H557.25V230.49H509.91ZM562.04 224.92H580.42V230.49H562.04ZM492.53 229.49H522.49V235.06H492.53ZM527.28 229.49H539.87V235.06H527.28ZM544.66 229.49H580.42V235.06H544.66ZM434.61 234.06H458.78V239.63H434.61ZM463.57 234.06H470.36V239.63H463.57ZM492.53 234.06H534.08V239.63H492.53ZM538.87 234.06H545.66V239.63H538.87ZM550.45 234.06H557.25V239.63H550.45ZM567.83 234.06H574.62V239.63H567.83ZM434.61 238.63H476.15V244.2H434.61ZM498.32 238.63H522.49V244.2H498.32ZM533.08 238.63H551.45V244.2H533.08ZM556.25 238.63H574.62V244.2H556.25ZM446.19 243.2H476.15V248.77H446.19ZM492.53 243.2H499.32V248.77H492.53ZM533.08 243.2H539.87V248.77H533.08ZM562.04 243.2H568.83V248.77H562.04ZM579.42 243.2H586.21V248.77H579.42ZM434.61 247.77H447.19V253.34H434.61ZM451.98 247.77H487.74V253.34H451.98ZM492.53 247.77H499.32V253.34H492.53ZM515.7 247.77H528.28V253.34H515.7ZM567.83 247.77H597.79V253.34H567.83ZM434.61 252.34H470.36V257.9H434.61ZM475.15 252.34H493.53V257.9H475.15ZM509.91 252.34H522.49V257.9H509.91ZM527.28 252.34H545.66V257.9H527.28ZM550.45 252.34H557.25V257.9H550.45ZM567.83 252.34H597.79V257.9H567.83ZM434.61 256.9H458.78V262.47H434.61ZM463.57 256.9H487.74V262.47H463.57ZM504.12 256.9H534.08V262.47H504.12ZM538.87 256.9H557.25V262.47H538.87ZM562.04 256.9H586.21V262.47H562.04ZM434.61 261.47H458.78V267.04H434.61ZM463.57 261.47H476.15V267.04H463.57ZM480.95 261.47H487.74V267.04H480.95ZM498.32 261.47H528.28V267.04H498.32ZM544.66 261.47H574.62V267.04H544.66ZM579.42 261.47H586.21V267.04H579.42ZM434.61 266.04H452.98V271.61H434.61ZM457.78 266.04H481.95V271.61H457.78ZM492.53 266.04H499.32V271.61H492.53ZM504.12 266.04H516.7V271.61H504.12ZM527.28 266.04H545.66V271.61H527.28ZM556.25 266.04H574.62V271.61H556.25ZM434.61 270.61H452.98V276.18H434.61ZM457.78 270.61H464.57V276.18H457.78ZM469.36 270.61H505.12V276.18H469.36ZM515.7 270.61H534.08V276.18H515.7ZM550.45 270.61H568.83V276.18H550.45ZM585.21 270.61H597.79V276.18H585.21ZM434.61 275.18H470.36V280.75H434.61ZM475.15 275.18H499.32V280.75H475.15ZM504.12 275.18H516.7V280.75H504.12ZM521.49 275.18H528.28V280.75H521.49ZM550.45 275.18H557.25V280.75H550.45ZM434.61 279.75H452.98V285.32H434.61ZM457.78 279.75H464.57V285.32H457.78ZM469.36 279.75H493.53V285.32H469.36ZM515.7 279.75H522.49V285.32H515.7ZM434.61 284.32H452.98V289.89H434.61ZM463.57 284.32H481.95V289.89H463.57ZM486.74 284.32H493.53V289.89H486.74ZM515.7 284.32H522.49V289.89H515.7ZM434.61 288.89H458.78V294.46H434.61ZM463.57 288.89H476.15V294.46H463.57ZM480.95 288.89H493.53V294.46H480.95ZM504.12 288.89H522.49V294.46H504.12ZM550.45 288.89H563.04V294.46H550.45ZM434.61 293.46H452.98V299.03H434.61ZM469.36 293.46H493.53V299.03H469.36ZM509.91 293.46H516.7V299.03H509.91ZM434.61 298.03H470.36V303.59H434.61ZM475.15 298.03H493.53V303.59H475.15ZM504.12 298.03H510.91V303.59H504.12ZM515.7 298.03H522.49V303.59H515.7ZM579.42 298.03H597.79V303.59H579.42ZM463.57 302.59H499.32V308.16H463.57ZM504.12 302.59H510.91V308.16H504.12ZM556.25 302.59H563.04V308.16H556.25ZM573.62 302.59H580.42V308.16H573.62ZM585.21 302.59H597.79V308.16H585.21ZM463.57 307.16H510.91V312.73H463.57ZM556.25 307.16H563.04V312.73H556.25ZM579.42 307.16H597.79V312.73H579.42ZM434.61 311.73H447.19V317.3H434.61ZM486.74 311.73H499.32V317.3H486.74ZM504.12 311.73H516.7V317.3H504.12ZM550.45 311.73H574.62V317.3H550.45ZM585.21 311.73H597.79V317.3H585.21ZM434.61 316.3H447.19V321.87H434.61ZM469.36 316.3H481.95V321.87H469.36ZM492.53 316.3H499.32V321.87H492.53ZM504.12 316.3H516.7V321.87H504.12ZM550.45 316.3H563.04V321.87H550.45ZM567.83 316.3H574.62V321.87H567.83ZM579.42 316.3H597.79V321.87H579.42ZM434.61 320.87H458.78V326.44H434.61ZM463.57 320.87H476.15V326.44H463.57ZM498.32 320.87H516.7V326.44H498.32ZM550.45 320.87H557.25V326.44H550.45ZM562.04 320.87H597.79V326.44H562.04ZM434.61 325.44H447.19V331.01H434.61ZM469.36 325.44H481.95V331.01H469.36ZM492.53 325.44H505.12V331.01H492.53ZM550.45 325.44H574.62V331.01H550.45ZM579.42 325.44H597.79V331.01H579.42ZM434.61 330.01H458.78V335.58H434.61ZM463.57 330.01H476.15V335.58H463.57ZM480.95 330.01H510.91V335.58H480.95ZM562.04 330.01H597.79V335.58H562.04ZM434.61 334.58H470.36V340.15H434.61ZM475.15 334.58H481.95V340.15H475.15ZM486.74 334.58H505.12V340.15H486.74ZM509.91 334.58H516.7V340.15H509.91ZM556.25 334.58H574.62V340.15H556.25ZM579.42 334.58H597.79V340.15H579.42ZM434.61 339.15H476.15V344.72H434.61ZM480.95 339.15H499.32V344.72H480.95ZM544.66 339.15H557.25V344.72H544.66ZM562.04 339.15H586.21V344.72H562.04ZM434.61 343.72H464.57V349.28H434.61ZM492.53 343.72H510.91V349.28H492.53ZM562.04 343.72H580.42V349.28H562.04ZM434.61 348.28H447.19V353.85H434.61ZM451.98 348.28H458.78V353.85H451.98ZM463.57 348.28H476.15V353.85H463.57ZM480.95 348.28H493.53V353.85H480.95ZM504.12 348.28H510.91V353.85H504.12ZM446.19 352.85H452.98V358.42H446.19ZM457.78 352.85H464.57V358.42H457.78ZM469.36 352.85H505.12V358.42H469.36ZM544.66 352.85H551.45V358.42H544.66ZM556.25 352.85H568.83V358.42H556.25ZM573.62 352.85H580.42V358.42H573.62ZM585.21 352.85H597.79V358.42H585.21ZM446.19 357.42H452.98V362.99H446.19ZM463.57 357.42H470.36V362.99H463.57ZM475.15 357.42H481.95V362.99H475.15ZM486.74 357.42H493.53V362.99H486.74ZM498.32 357.42H505.12V362.99H498.32ZM562.04 357.42H568.83V362.99H562.04ZM573.62 357.42H597.79V362.99H573.62ZM434.61 361.99H447.19V367.56H434.61ZM469.36 361.99H499.32V367.56H469.36ZM544.66 361.99H557.25V367.56H544.66ZM579.42 361.99H597.79V367.56H579.42ZM434.61 366.56H447.19V372.13H434.61ZM457.78 366.56H470.36V372.13H457.78ZM480.95 366.56H499.32V372.13H480.95ZM544.66 366.56H551.45V372.13H544.66ZM585.21 366.56H597.79V372.13H585.21ZM457.78 371.13H476.15V376.7H457.78ZM480.95 371.13H487.74V376.7H480.95ZM544.66 371.13H557.25V376.7H544.66ZM573.62 371.13H586.21V376.7H573.62ZM469.36 375.7H481.95V381.27H469.36ZM486.74 375.7H493.53V381.27H486.74ZM544.66 375.7H557.25V381.27H544.66ZM562.04 375.7H574.62V381.27H562.04ZM579.42 375.7H597.79V381.27H579.42ZM434.61 380.27H452.98V385.84H434.61ZM469.36 380.27H481.95V385.84H469.36ZM544.66 380.27H551.45V385.84H544.66ZM556.25 380.27H597.79V385.84H556.25ZM434.61 384.84H458.78V390.41H434.61ZM463.57 384.84H493.53V390.41H463.57ZM544.66 384.84H557.25V390.41H544.66ZM573.62 384.84H580.42V390.41H573.62ZM434.61 389.41H458.78V394.97H434.61ZM463.57 389.41H493.53V394.97H463.57ZM544.66 389.41H557.25V394.97H544.66ZM562.04 389.41H568.83V394.97H562.04ZM573.62 389.41H586.21V394.97H573.62ZM434.61 393.97H470.36V399.54H434.61ZM475.15 393.97H487.74V399.54H475.15ZM550.45 393.97H557.25V399.54H550.45ZM567.83 393.97H586.21V399.54H567.83ZM446.19 398.54H476.15V404.11H446.19ZM480.95 398.54H493.53V404.11H480.95ZM544.66 398.54H557.25V404.11H544.66ZM573.62 398.54H580.42V404.11H573.62ZM434.61 403.11H493.53V408.68H434.61ZM538.87 403.11H551.45V408.68H538.87ZM446.19 407.68H458.78V413.25H446.19ZM463.57 407.68H470.36V413.25H463.57ZM475.15 407.68H481.95V413.25H475.15ZM486.74 407.68H493.53V413.25H486.74ZM544.66 407.68H557.25V413.25H544.66ZM573.62 407.68H580.42V413.25H573.62ZM434.61 412.25H452.98V417.82H434.61ZM463.57 412.25H470.36V417.82H463.57ZM475.15 412.25H493.53V417.82H475.15ZM550.45 412.25H568.83V417.82H550.45ZM573.62 412.25H597.79V417.82H573.62ZM451.98 416.82H464.57V422.39H451.98ZM480.95 416.82H493.53V422.39H480.95ZM538.87 416.82H551.45V422.39H538.87ZM556.25 416.82H568.83V422.39H556.25ZM579.42 416.82H597.79V422.39H579.42ZM434.61 421.39H447.19V426.96H434.61ZM451.98 421.39H464.57V426.96H451.98ZM480.95 421.39H487.74V426.96H480.95ZM538.87 421.39H568.83V426.96H538.87ZM457.78 425.96H464.57V431.53H457.78ZM538.87 425.96H568.83V431.53H538.87ZM469.36 430.53H476.15V436.1H469.36ZM538.87 430.53H545.66V436.1H538.87ZM556.25 430.53H563.04V436.1H556.25ZM567.83 430.53H574.62V436.1H567.83ZM469.36 435.1H476.15V440.66H469.36ZM486.74 435.1H493.53V440.66H486.74ZM533.08 435.1H545.66V440.66H533.08ZM562.04 435.1H568.83V440.66H562.04ZM434.61 439.66H458.78V445.23H434.61ZM463.57 439.66H481.95V445.23H463.57ZM533.08 439.66H545.66V445.23H533.08ZM567.83 439.66H580.42V445.23H567.83ZM451.98 444.23H464.57V449.8H451.98ZM475.15 444.23H481.95V449.8H475.15ZM492.53 444.23H499.32V449.8H492.53ZM504.12 444.23H522.49V449.8H504.12ZM527.28 444.23H563.04V449.8H527.28ZM573.62 444.23H580.42V449.8H573.62ZM446.19 448.8H452.98V454.37H446.19ZM457.78 448.8H470.36V454.37H457.78ZM504.12 448.8H510.91V454.37H504.12ZM527.28 448.8H545.66V454.37H527.28ZM556.25 448.8H597.79V454.37H556.25ZM434.61 453.37H464.57V458.94H434.61ZM469.36 453.37H476.15V458.94H469.36ZM504.12 453.37H516.7V458.94H504.12ZM521.49 453.37H539.87V458.94H521.49ZM544.66 453.37H557.25V458.94H544.66ZM562.04 453.37H568.83V458.94H562.04ZM579.42 453.37H597.79V458.94H579.42ZM434.61 457.94H452.98V463.51H434.61ZM457.78 457.94H464.57V463.51H457.78ZM475.15 457.94H481.95V463.51H475.15ZM492.53 457.94H499.32V463.51H492.53ZM527.28 457.94H534.08V463.51H527.28ZM538.87 457.94H563.04V463.51H538.87ZM579.42 457.94H586.21V463.51H579.42ZM434.61 462.51H447.19V468.08H434.61ZM451.98 462.51H470.36V468.08H451.98ZM492.53 462.51H510.91V468.08H492.53ZM533.08 462.51H557.25V468.08H533.08ZM573.62 462.51H580.42V468.08H573.62ZM585.21 462.51H597.79V468.08H585.21ZM434.61 467.08H464.57V472.65H434.61ZM480.95 467.08H493.53V472.65H480.95ZM498.32 467.08H510.91V472.65H498.32ZM533.08 467.08H557.25V472.65H533.08ZM573.62 467.08H586.21V472.65H573.62ZM463.57 471.65H487.74V477.22H463.57ZM492.53 471.65H505.12V477.22H492.53ZM509.91 471.65H528.28V477.22H509.91ZM538.87 471.65H557.25V477.22H538.87ZM562.04 471.65H568.83V477.22H562.04ZM573.62 471.65H597.79V477.22H573.62ZM475.15 476.22H481.95V481.79H475.15ZM498.32 476.22H516.7V481.79H498.32ZM538.87 476.22H545.66V481.79H538.87ZM567.83 476.22H580.42V481.79H567.83ZM585.21 476.22H597.79V481.79H585.21ZM434.61 480.79H464.57V486.35H434.61ZM475.15 480.79H487.74V486.35H475.15ZM585.21 480.79H597.79V486.35H585.21ZM434.61 485.35H458.78V490.92H434.61ZM486.74 485.35H493.53V490.92H486.74ZM498.32 485.35H505.12V490.92H498.32ZM579.42 485.35H586.21V490.92H579.42ZM446.19 489.92H470.36V495.49H446.19ZM475.15 489.92H487.74V495.49H475.15ZM492.53 489.92H516.7V495.49H492.53ZM521.49 489.92H528.28V495.49H521.49ZM544.66 489.92H563.04V495.49H544.66ZM573.62 489.92H580.42V495.49H573.62ZM585.21 489.92H597.79V495.49H585.21ZM446.19 494.49H481.95V500.06H446.19ZM486.74 494.49H493.53V500.06H486.74ZM498.32 494.49H505.12V500.06H498.32ZM509.91 494.49H522.49V500.06H509.91ZM544.66 494.49H557.25V500.06H544.66ZM562.04 494.49H580.42V500.06H562.04ZM451.98 499.06H470.36V504.63H451.98ZM475.15 499.06H493.53V504.63H475.15ZM498.32 499.06H522.49V504.63H498.32ZM550.45 499.06H557.25V504.63H550.45ZM567.83 499.06H597.79V504.63H567.83ZM480.95 503.63H563.04V509.2H480.95ZM573.62 503.63H586.21V509.2H573.62ZM480.95 508.2H563.04V513.77H480.95ZM573.62 508.2H586.21V513.77H573.62Z"/>
<path fill="#16031b" d="M515.7 179.23H522.49V184.8H515.7ZM544.66 179.23H551.45V184.8H544.66ZM556.25 179.23H563.04V184.8H556.25ZM515.7 183.8H522.49V189.37H515.7ZM544.66 183.8H551.45V189.37H544.66ZM556.25 183.8H563.04V189.37H556.25ZM463.57 188.37H470.36V193.94H463.57ZM579.42 188.37H597.79V193.94H579.42ZM463.57 192.94H470.36V198.51H463.57ZM498.32 192.94H505.12V198.51H498.32ZM544.66 192.94H574.62V198.51H544.66ZM457.78 197.51H464.57V203.08H457.78ZM544.66 197.51H551.45V203.08H544.66ZM556.25 197.51H574.62V203.08H556.25ZM585.21 197.51H597.79V203.08H585.21ZM475.15 202.08H481.95V207.65H475.15ZM515.7 202.08H522.49V207.65H515.7ZM527.28 202.08H534.08V207.65H527.28ZM544.66 202.08H551.45V207.65H544.66ZM585.21 202.08H597.79V207.65H585.21ZM463.57 206.65H470.36V212.21H463.57ZM475.15 206.65H481.95V212.21H475.15ZM533.08 206.65H551.45V212.21H533.08ZM585.21 206.65H597.79V212.21H585.21ZM446.19 211.21H452.98V216.78H446.19ZM475.15 211.21H481.95V216.78H475.15ZM492.53 211.21H499.32V216.78H492.53ZM504.12 211.21H510.91V216.78H504.12ZM521.49 211.21H528.28V216.78H521.49ZM550.45 211.21H557.25V216.78H550.45ZM579.42 211.21H586.21V216.78H579.42ZM451.98 215.78H458.78V221.35H451.98ZM527.28 215.78H539.87V221.35H527.28ZM544.66 215.78H557.25V221.35H544.66ZM579.42 215.78H586.21V221.35H579.42ZM451.98 220.35H458.78V225.92H451.98ZM463.57 220.35H470.36V225.92H463.57ZM504.12 220.35H510.91V225.92H504.12ZM533.08 220.35H539.87V225.92H533.08ZM567.83 220.35H574.62V225.92H567.83ZM457.78 224.92H487.74V230.49H457.78ZM556.25 224.92H563.04V230.49H556.25ZM579.42 224.92H586.21V230.49H579.42ZM446.19 229.49H452.98V235.06H446.19ZM457.78 229.49H470.36V235.06H457.78ZM521.49 229.49H528.28V235.06H521.49ZM469.36 234.06H481.95V239.63H469.36ZM544.66 234.06H551.45V239.63H544.66ZM556.25 234.06H563.04V239.63H556.25ZM585.21 234.06H597.79V239.63H585.21ZM475.15 238.63H499.32V244.2H475.15ZM521.49 238.63H534.08V244.2H521.49ZM550.45 238.63H557.25V244.2H550.45ZM475.15 243.2H487.74V248.77H475.15ZM498.32 243.2H516.7V248.77H498.32ZM556.25 243.2H563.04V248.77H556.25ZM567.83 243.2H574.62V248.77H567.83ZM446.19 247.77H452.98V253.34H446.19ZM498.32 247.77H505.12V253.34H498.32ZM509.91 247.77H516.7V253.34H509.91ZM527.28 247.77H539.87V253.34H527.28ZM550.45 247.77H557.25V253.34H550.45ZM492.53 252.34H499.32V257.9H492.53ZM521.49 252.34H528.28V257.9H521.49ZM544.66 252.34H551.45V257.9H544.66ZM556.25 252.34H563.04V257.9H556.25ZM556.25 256.9H563.04V262.47H556.25ZM486.74 261.47H499.32V267.04H486.74ZM533.08 261.47H539.87V267.04H533.08ZM480.95 266.04H487.74V271.61H480.95ZM498.32 266.04H505.12V271.61H498.32ZM521.49 266.04H528.28V271.61H521.49ZM573.62 266.04H586.21V271.61H573.62ZM504.12 270.61H510.91V276.18H504.12ZM469.36 275.18H476.15V280.75H469.36ZM451.98 279.75H458.78V285.32H451.98ZM509.91 279.75H516.7V285.32H509.91ZM451.98 284.32H458.78V289.89H451.98ZM492.53 284.32H499.32V289.89H492.53ZM556.25 284.32H563.04V289.89H556.25ZM457.78 288.89H464.57V294.46H457.78ZM451.98 293.46H470.36V299.03H451.98ZM498.32 293.46H505.12V299.03H498.32ZM550.45 293.46H563.04V299.03H550.45ZM585.21 293.46H597.79V299.03H585.21ZM469.36 298.03H476.15V303.59H469.36ZM492.53 298.03H499.32V303.59H492.53ZM509.91 298.03H516.7V303.59H509.91ZM556.25 298.03H563.04V303.59H556.25ZM573.62 298.03H580.42V303.59H573.62ZM434.61 302.59H447.19V308.16H434.61ZM451.98 302.59H458.78V308.16H451.98ZM550.45 302.59H557.25V308.16H550.45ZM457.78 307.16H464.57V312.73H457.78ZM562.04 307.16H574.62V312.73H562.04ZM446.19 311.73H452.98V317.3H446.19ZM463.57 311.73H487.74V317.3H463.57ZM573.62 311.73H580.42V317.3H573.62ZM486.74 316.3H493.53V321.87H486.74ZM573.62 316.3H580.42V321.87H573.62ZM457.78 320.87H464.57V326.44H457.78ZM475.15 320.87H481.95V326.44H475.15ZM492.53 320.87H499.32V326.44H492.53ZM556.25 320.87H563.04V326.44H556.25ZM451.98 325.44H458.78V331.01H451.98ZM463.57 325.44H470.36V331.01H463.57ZM480.95 325.44H493.53V331.01H480.95ZM504.12 325.44H510.91V331.01H504.12ZM457.78 330.01H464.57V335.58H457.78ZM475.15 330.01H481.95V335.58H475.15ZM509.91 330.01H516.7V335.58H509.91ZM556.25 330.01H563.04V335.58H556.25ZM480.95 334.58H487.74V340.15H480.95ZM504.12 334.58H510.91V340.15H504.12ZM550.45 334.58H557.25V340.15H550.45ZM475.15 339.15H481.95V344.72H475.15ZM556.25 339.15H563.04V344.72H556.25ZM469.36 343.72H476.15V349.28H469.36ZM486.74 343.72H493.53V349.28H486.74ZM556.25 343.72H563.04V349.28H556.25ZM579.42 343.72H586.21V349.28H579.42ZM446.19 348.28H452.98V353.85H446.19ZM457.78 348.28H464.57V353.85H457.78ZM475.15 348.28H481.95V353.85H475.15ZM544.66 348.28H557.25V353.85H544.66ZM573.62 348.28H580.42V353.85H573.62ZM585.21 348.28H597.79V353.85H585.21ZM451.98 352.85H458.78V358.42H451.98ZM550.45 352.85H557.25V358.42H550.45ZM579.42 352.85H586.21V358.42H579.42ZM469.36 357.42H476.15V362.99H469.36ZM544.66 357.42H557.25V362.99H544.66ZM446.19 361.99H458.78V367.56H446.19ZM556.25 361.99H563.04V367.56H556.25ZM567.83 361.99H574.62V367.56H567.83ZM573.62 366.56H586.21V372.13H573.62ZM475.15 371.13H481.95V376.7H475.15ZM486.74 371.13H493.53V376.7H486.74ZM562.04 371.13H574.62V376.7H562.04ZM585.21 371.13H597.79V376.7H585.21ZM480.95 375.7H487.74V381.27H480.95ZM556.25 375.7H563.04V381.27H556.25ZM573.62 375.7H580.42V381.27H573.62ZM463.57 380.27H470.36V385.84H463.57ZM457.78 384.84H464.57V390.41H457.78ZM579.42 384.84H586.21V390.41H579.42ZM457.78 389.41H464.57V394.97H457.78ZM556.25 389.41H563.04V394.97H556.25ZM567.83 389.41H574.62V394.97H567.83ZM469.36 393.97H476.15V399.54H469.36ZM544.66 393.97H551.45V399.54H544.66ZM556.25 393.97H563.04V399.54H556.25ZM538.87 398.54H545.66V404.11H538.87ZM556.25 398.54H563.04V404.11H556.25ZM579.42 398.54H586.21V404.11H579.42ZM550.45 403.11H557.25V408.68H550.45ZM579.42 403.11H597.79V408.68H579.42ZM434.61 407.68H447.19V413.25H434.61ZM457.78 407.68H464.57V413.25H457.78ZM469.36 407.68H476.15V413.25H469.36ZM480.95 407.68H487.74V413.25H480.95ZM538.87 407.68H545.66V413.25H538.87ZM585.21 407.68H597.79V413.25H585.21ZM457.78 412.25H464.57V417.82H457.78ZM544.66 412.25H551.45V417.82H544.66ZM463.57 416.82H481.95V422.39H463.57ZM567.83 416.82H580.42V422.39H567.83ZM463.57 421.39H476.15V426.96H463.57ZM486.74 421.39H493.53V426.96H486.74ZM579.42 421.39H597.79V426.96H579.42ZM434.61 425.96H447.19V431.53H434.61ZM451.98 425.96H458.78V431.53H451.98ZM463.57 425.96H470.36V431.53H463.57ZM446.19 430.53H458.78V436.1H446.19ZM475.15 430.53H481.95V436.1H475.15ZM544.66 430.53H557.25V436.1H544.66ZM573.62 430.53H580.42V436.1H573.62ZM446.19 435.1H470.36V440.66H446.19ZM573.62 435.1H586.21V440.66H573.62ZM457.78 439.66H464.57V445.23H457.78ZM521.49 444.23H528.28V449.8H521.49ZM434.61 448.8H447.19V454.37H434.61ZM469.36 448.8H476.15V454.37H469.36ZM492.53 448.8H505.12V454.37H492.53ZM544.66 448.8H551.45V454.37H544.66ZM463.57 453.37H470.36V458.94H463.57ZM475.15 453.37H481.95V458.94H475.15ZM498.32 453.37H505.12V458.94H498.32ZM538.87 453.37H545.66V458.94H538.87ZM567.83 453.37H574.62V458.94H567.83ZM463.57 457.94H476.15V463.51H463.57ZM480.95 457.94H493.53V463.51H480.95ZM498.32 457.94H516.7V463.51H498.32ZM521.49 457.94H528.28V463.51H521.49ZM562.04 457.94H574.62V463.51H562.04ZM585.21 457.94H597.79V463.51H585.21ZM469.36 462.51H476.15V468.08H469.36ZM480.95 462.51H493.53V468.08H480.95ZM509.91 462.51H516.7V468.08H509.91ZM567.83 462.51H574.62V468.08H567.83ZM579.42 462.51H586.21V468.08H579.42ZM492.53 467.08H499.32V472.65H492.53ZM509.91 467.08H516.7V472.65H509.91ZM434.61 471.65H447.19V477.22H434.61ZM451.98 471.65H458.78V477.22H451.98ZM527.28 471.65H539.87V477.22H527.28ZM434.61 476.22H447.19V481.79H434.61ZM469.36 476.22H476.15V481.79H469.36ZM486.74 476.22H499.32V481.79H486.74ZM521.49 476.22H539.87V481.79H521.49ZM556.25 476.22H568.83V481.79H556.25ZM579.42 476.22H586.21V481.79H579.42ZM469.36 480.79H476.15V486.35H469.36ZM486.74 480.79H493.53V486.35H486.74ZM498.32 480.79H505.12V486.35H498.32ZM567.83 480.79H580.42V486.35H567.83ZM457.78 485.35H470.36V490.92H457.78ZM475.15 485.35H487.74V490.92H475.15ZM567.83 485.35H580.42V490.92H567.83ZM585.21 485.35H597.79V490.92H585.21ZM434.61 489.92H447.19V495.49H434.61ZM469.36 489.92H476.15V495.49H469.36ZM486.74 489.92H493.53V495.49H486.74ZM527.28 489.92H545.66V495.49H527.28ZM562.04 489.92H568.83V495.49H562.04ZM579.42 489.92H586.21V495.49H579.42ZM434.61 494.49H447.19V500.06H434.61ZM504.12 494.49H510.91V500.06H504.12ZM521.49 494.49H528.28V500.06H521.49ZM585.21 494.49H597.79V500.06H585.21ZM527.28 499.06H539.87V504.63H527.28ZM544.66 499.06H551.45V504.63H544.66ZM556.25 499.06H563.04V504.63H556.25ZM451.98 503.63H458.78V509.2H451.98ZM469.36 503.63H481.95V509.2H469.36ZM562.04 503.63H568.83V509.2H562.04ZM585.21 503.63H597.79V509.2H585.21ZM451.98 508.2H458.78V513.77H451.98ZM469.36 508.2H481.95V513.77H469.36ZM562.04 508.2H568.83V513.77H562.04ZM585.21 508.2H597.79V513.77H585.21Z"/>
<path fill="#21052a" d="M486.74 179.23H493.53V184.8H486.74ZM538.87 179.23H545.66V184.8H538.87ZM567.83 179.23H574.62V184.8H567.83ZM579.42 179.23H597.79V184.8H579.42ZM486.74 183.8H493.53V189.37H486.74ZM538.87 183.8H545.66V189.37H538.87ZM567.83 183.8H574.62V189.37H567.83ZM579.42 183.8H597.79V189.37H579.42ZM509.91 188.37H516.7V193.94H509.91ZM446.19 192.94H452.98V198.51H446.19ZM509.91 192.94H528.28V198.51H509.91ZM573.62 192.94H580.42V198.51H573.62ZM469.36 197.51H476.15V203.08H469.36ZM480.95 197.51H487.74V203.08H480.95ZM521.49 197.51H528.28V203.08H521.49ZM579.42 197.51H586.21V203.08H579.42ZM498.32 202.08H505.12V207.65H498.32ZM509.91 202.08H516.7V207.65H509.91ZM533.08 202.08H539.87V207.65H533.08ZM567.83 202.08H574.62V207.65H567.83ZM469.36 206.65H476.15V212.21H469.36ZM504.12 206.65H516.7V212.21H504.12ZM521.49 206.65H528.28V212.21H521.49ZM556.25 206.65H563.04V212.21H556.25ZM434.61 211.21H447.19V216.78H434.61ZM486.74 211.21H493.53V216.78H486.74ZM446.19 215.78H452.98V221.35H446.19ZM521.49 215.78H528.28V221.35H521.49ZM475.15 220.35H481.95V225.92H475.15ZM544.66 220.35H551.45V225.92H544.66ZM585.21 220.35H597.79V225.92H585.21ZM434.61 224.92H447.19V230.49H434.61ZM486.74 224.92H493.53V230.49H486.74ZM504.12 224.92H510.91V230.49H504.12ZM469.36 229.49H481.95V235.06H469.36ZM486.74 229.49H493.53V235.06H486.74ZM538.87 229.49H545.66V235.06H538.87ZM585.21 229.49H597.79V235.06H585.21ZM457.78 234.06H464.57V239.63H457.78ZM573.62 234.06H580.42V239.63H573.62ZM573.62 238.63H586.21V244.2H573.62ZM434.61 243.2H447.19V248.77H434.61ZM515.7 243.2H522.49V248.77H515.7ZM573.62 243.2H580.42V248.77H573.62ZM585.21 243.2H597.79V248.77H585.21ZM486.74 247.77H493.53V253.34H486.74ZM504.12 247.77H510.91V253.34H504.12ZM556.25 247.77H568.83V253.34H556.25ZM562.04 252.34H568.83V257.9H562.04ZM457.78 256.9H464.57V262.47H457.78ZM498.32 256.9H505.12V262.47H498.32ZM585.21 256.9H597.79V262.47H585.21ZM475.15 261.47H481.95V267.04H475.15ZM573.62 261.47H580.42V267.04H573.62ZM486.74 266.04H493.53V271.61H486.74ZM585.21 266.04H597.79V271.61H585.21ZM509.91 270.61H516.7V276.18H509.91ZM567.83 270.61H574.62V276.18H567.83ZM579.42 270.61H586.21V276.18H579.42ZM515.7 275.18H522.49V280.75H515.7ZM556.25 275.18H563.04V280.75H556.25ZM492.53 279.75H505.12V285.32H492.53ZM550.45 279.75H557.25V285.32H550.45ZM457.78 284.32H464.57V289.89H457.78ZM498.32 284.32H510.91V289.89H498.32ZM550.45 284.32H557.25V289.89H550.45ZM475.15 288.89H481.95V294.46H475.15ZM492.53 288.89H505.12V294.46H492.53ZM562.04 288.89H568.83V294.46H562.04ZM585.21 288.89H597.79V294.46H585.21ZM562.04 293.46H574.62V299.03H562.04ZM579.42 293.46H586.21V299.03H579.42ZM562.04 298.03H574.62V303.59H562.04ZM446.19 302.59H452.98V308.16H446.19ZM457.78 302.59H464.57V308.16H457.78ZM567.83 302.59H574.62V308.16H567.83ZM579.42 302.59H586.21V308.16H579.42ZM451.98 307.16H458.78V312.73H451.98ZM451.98 311.73H458.78V317.3H451.98ZM498.32 311.73H505.12V317.3H498.32ZM446.19 316.3H452.98V321.87H446.19ZM457.78 316.3H470.36V321.87H457.78ZM498.32 316.3H505.12V321.87H498.32ZM486.74 320.87H493.53V326.44H486.74ZM446.19 325.44H452.98V331.01H446.19ZM509.91 325.44H516.7V331.01H509.91ZM573.62 325.44H580.42V331.01H573.62ZM550.45 330.01H557.25V335.58H550.45ZM573.62 334.58H580.42V340.15H573.62ZM498.32 339.15H505.12V344.72H498.32ZM585.21 339.15H597.79V344.72H585.21ZM475.15 343.72H481.95V349.28H475.15ZM550.45 343.72H557.25V349.28H550.45ZM585.21 343.72H597.79V349.28H585.21ZM498.32 348.28H505.12V353.85H498.32ZM562.04 348.28H568.83V353.85H562.04ZM579.42 348.28H586.21V353.85H579.42ZM463.57 352.85H470.36V358.42H463.57ZM451.98 357.42H464.57V362.99H451.98ZM480.95 357.42H487.74V362.99H480.95ZM556.25 357.42H563.04V362.99H556.25ZM457.78 361.99H464.57V367.56H457.78ZM562.04 361.99H568.83V367.56H562.04ZM573.62 361.99H580.42V367.56H573.62ZM451.98 366.56H458.78V372.13H451.98ZM550.45 366.56H563.04V372.13H550.45ZM567.83 366.56H574.62V372.13H567.83ZM434.61 371.13H452.98V376.7H434.61ZM556.25 371.13H563.04V376.7H556.25ZM434.61 375.7H447.19V381.27H434.61ZM457.78 375.7H470.36V381.27H457.78ZM451.98 380.27H464.57V385.84H451.98ZM486.74 380.27H493.53V385.84H486.74ZM550.45 380.27H557.25V385.84H550.45ZM567.83 384.84H574.62V390.41H567.83ZM585.21 384.84H597.79V390.41H585.21ZM562.04 393.97H568.83V399.54H562.04ZM585.21 393.97H597.79V399.54H585.21ZM475.15 398.54H481.95V404.11H475.15ZM567.83 398.54H574.62V404.11H567.83ZM556.25 403.11H563.04V408.68H556.25ZM567.83 403.11H580.42V408.68H567.83ZM567.83 407.68H574.62V413.25H567.83ZM579.42 407.68H586.21V413.25H579.42ZM469.36 412.25H476.15V417.82H469.36ZM538.87 412.25H545.66V417.82H538.87ZM567.83 412.25H574.62V417.82H567.83ZM434.61 416.82H447.19V422.39H434.61ZM446.19 421.39H452.98V426.96H446.19ZM475.15 421.39H481.95V426.96H475.15ZM573.62 421.39H580.42V426.96H573.62ZM469.36 425.96H481.95V431.53H469.36ZM486.74 425.96H493.53V431.53H486.74ZM573.62 425.96H580.42V431.53H573.62ZM434.61 430.53H447.19V436.1H434.61ZM457.78 430.53H470.36V436.1H457.78ZM480.95 430.53H493.53V436.1H480.95ZM533.08 430.53H539.87V436.1H533.08ZM562.04 430.53H568.83V436.1H562.04ZM434.61 435.1H447.19V440.66H434.61ZM492.53 435.1H499.32V440.66H492.53ZM544.66 435.1H551.45V440.66H544.66ZM567.83 435.1H574.62V440.66H567.83ZM486.74 439.66H493.53V445.23H486.74ZM544.66 439.66H551.45V445.23H544.66ZM556.25 439.66H568.83V445.23H556.25ZM434.61 444.23H447.19V449.8H434.61ZM480.95 444.23H493.53V449.8H480.95ZM498.32 444.23H505.12V449.8H498.32ZM567.83 444.23H574.62V449.8H567.83ZM475.15 448.8H481.95V454.37H475.15ZM521.49 448.8H528.28V454.37H521.49ZM550.45 448.8H557.25V454.37H550.45ZM480.95 453.37H487.74V458.94H480.95ZM492.53 453.37H499.32V458.94H492.53ZM556.25 453.37H563.04V458.94H556.25ZM573.62 453.37H580.42V458.94H573.62ZM451.98 457.94H458.78V463.51H451.98ZM515.7 457.94H522.49V463.51H515.7ZM533.08 457.94H539.87V463.51H533.08ZM475.15 462.51H481.95V468.08H475.15ZM475.15 467.08H481.95V472.65H475.15ZM515.7 467.08H528.28V472.65H515.7ZM567.83 467.08H574.62V472.65H567.83ZM585.21 467.08H597.79V472.65H585.21ZM446.19 471.65H452.98V477.22H446.19ZM457.78 471.65H464.57V477.22H457.78ZM504.12 471.65H510.91V477.22H504.12ZM556.25 471.65H563.04V477.22H556.25ZM451.98 476.22H458.78V481.79H451.98ZM463.57 476.22H470.36V481.79H463.57ZM480.95 476.22H487.74V481.79H480.95ZM544.66 476.22H557.25V481.79H544.66ZM504.12 480.79H510.91V486.35H504.12ZM527.28 480.79H534.08V486.35H527.28ZM538.87 480.79H545.66V486.35H538.87ZM556.25 480.79H563.04V486.35H556.25ZM579.42 480.79H586.21V486.35H579.42ZM469.36 485.35H476.15V490.92H469.36ZM492.53 485.35H499.32V490.92H492.53ZM509.91 485.35H516.7V490.92H509.91ZM521.49 485.35H528.28V490.92H521.49ZM544.66 485.35H557.25V490.92H544.66ZM567.83 489.92H574.62V495.49H567.83ZM492.53 494.49H499.32V500.06H492.53ZM527.28 494.49H534.08V500.06H527.28ZM538.87 494.49H545.66V500.06H538.87ZM579.42 494.49H586.21V500.06H579.42ZM434.61 499.06H447.19V504.63H434.61ZM469.36 499.06H476.15V504.63H469.36ZM492.53 499.06H499.32V504.63H492.53ZM538.87 499.06H545.66V504.63H538.87ZM457.78 503.63H470.36V509.2H457.78ZM567.83 503.63H574.62V509.2H567.83ZM457.78 508.2H470.36V513.77H457.78ZM567.83 508.2H574.62V513.77H567.83Z"/>
<path fill="#2c083b" d="M573.62 179.23H580.42V184.8H573.62ZM573.62 183.8H580.42V189.37H573.62ZM567.83 188.37H574.62V193.94H567.83ZM504.12 192.94H510.91V198.51H504.12ZM533.08 197.51H539.87V203.08H533.08ZM498.32 211.21H505.12V216.78H498.32ZM469.36 220.35H476.15V225.92H469.36ZM492.53 220.35H499.32V225.92H492.53ZM521.49 220.35H528.28V225.92H521.49ZM585.21 224.92H597.79V230.49H585.21ZM451.98 229.49H458.78V235.06H451.98ZM480.95 229.49H487.74V235.06H480.95ZM480.95 234.06H493.53V239.63H480.95ZM562.04 234.06H568.83V239.63H562.04ZM579.42 234.06H586.21V239.63H579.42ZM585.21 238.63H597.79V244.2H585.21ZM527.28 243.2H534.08V248.77H527.28ZM538.87 243.2H545.66V248.77H538.87ZM469.36 252.34H476.15V257.9H469.36ZM498.32 252.34H510.91V257.9H498.32ZM527.28 261.47H534.08V267.04H527.28ZM585.21 261.47H597.79V267.04H585.21ZM550.45 266.04H557.25V271.61H550.45ZM463.57 270.61H470.36V276.18H463.57ZM573.62 270.61H580.42V276.18H573.62ZM498.32 275.18H505.12V280.75H498.32ZM567.83 275.18H574.62V280.75H567.83ZM585.21 275.18H597.79V280.75H585.21ZM463.57 279.75H470.36V285.32H463.57ZM562.04 279.75H574.62V285.32H562.04ZM509.91 284.32H516.7V289.89H509.91ZM573.62 293.46H580.42V299.03H573.62ZM498.32 298.03H505.12V303.59H498.32ZM550.45 298.03H557.25V303.59H550.45ZM498.32 302.59H505.12V308.16H498.32ZM509.91 302.59H516.7V308.16H509.91ZM434.61 307.16H452.98V312.73H434.61ZM509.91 307.16H516.7V312.73H509.91ZM550.45 307.16H557.25V312.73H550.45ZM579.42 311.73H586.21V317.3H579.42ZM480.95 316.3H487.74V321.87H480.95ZM562.04 316.3H568.83V321.87H562.04ZM463.57 343.72H470.36V349.28H463.57ZM480.95 343.72H487.74V349.28H480.95ZM492.53 348.28H499.32V353.85H492.53ZM567.83 348.28H574.62V353.85H567.83ZM567.83 352.85H574.62V358.42H567.83ZM492.53 357.42H499.32V362.99H492.53ZM567.83 357.42H574.62V362.99H567.83ZM463.57 361.99H470.36V367.56H463.57ZM469.36 366.56H481.95V372.13H469.36ZM562.04 366.56H568.83V372.13H562.04ZM492.53 371.13H499.32V376.7H492.53ZM446.19 375.7H458.78V381.27H446.19ZM492.53 375.7H499.32V381.27H492.53ZM480.95 380.27H487.74V385.84H480.95ZM562.04 384.84H568.83V390.41H562.04ZM585.21 389.41H597.79V394.97H585.21ZM486.74 393.97H493.53V399.54H486.74ZM538.87 393.97H545.66V399.54H538.87ZM562.04 398.54H568.83V404.11H562.04ZM585.21 398.54H597.79V404.11H585.21ZM556.25 407.68H568.83V413.25H556.25ZM451.98 412.25H458.78V417.82H451.98ZM446.19 416.82H452.98V422.39H446.19ZM550.45 416.82H557.25V422.39H550.45ZM533.08 421.39H539.87V426.96H533.08ZM567.83 421.39H574.62V426.96H567.83ZM446.19 425.96H452.98V431.53H446.19ZM480.95 425.96H487.74V431.53H480.95ZM533.08 425.96H539.87V431.53H533.08ZM579.42 425.96H586.21V431.53H579.42ZM579.42 430.53H586.21V436.1H579.42ZM480.95 435.1H487.74V440.66H480.95ZM550.45 435.1H557.25V440.66H550.45ZM585.21 435.1H597.79V440.66H585.21ZM498.32 439.66H505.12V445.23H498.32ZM527.28 439.66H534.08V445.23H527.28ZM550.45 439.66H557.25V445.23H550.45ZM446.19 444.23H452.98V449.8H446.19ZM463.57 444.23H476.15V449.8H463.57ZM562.04 444.23H568.83V449.8H562.04ZM579.42 444.23H586.21V449.8H579.42ZM451.98 448.8H458.78V454.37H451.98ZM486.74 453.37H493.53V458.94H486.74ZM573.62 457.94H580.42V463.51H573.62ZM446.19 462.51H452.98V468.08H446.19ZM515.7 462.51H522.49V468.08H515.7ZM527.28 462.51H534.08V468.08H527.28ZM469.36 467.08H476.15V472.65H469.36ZM486.74 471.65H493.53V477.22H486.74ZM446.19 476.22H452.98V481.79H446.19ZM457.78 476.22H464.57V481.79H457.78ZM492.53 480.79H499.32V486.35H492.53ZM515.7 480.79H528.28V486.35H515.7ZM533.08 480.79H539.87V486.35H533.08ZM544.66 480.79H551.45V486.35H544.66ZM562.04 480.79H568.83V486.35H562.04ZM515.7 485.35H522.49V490.92H515.7ZM533.08 485.35H539.87V490.92H533.08ZM556.25 485.35H568.83V490.92H556.25ZM515.7 489.92H522.49V495.49H515.7ZM480.95 494.49H487.74V500.06H480.95ZM533.08 494.49H539.87V500.06H533.08ZM556.25 494.49H563.04V500.06H556.25ZM562.04 499.06H568.83V504.63H562.04ZM446.19 503.63H452.98V509.2H446.19ZM446.19 508.2H452.98V513.77H446.19Z"/>
<path fill="#380a4c" d="M434.61 179.23H447.19V184.8H434.61ZM451.98 179.23H458.78V184.8H451.98ZM521.49 179.23H534.08V184.8H521.49ZM434.61 183.8H447.19V189.37H434.61ZM451.98 183.8H458.78V189.37H451.98ZM521.49 183.8H534.08V189.37H521.49ZM434.61 192.94H447.19V198.51H434.61ZM492.53 192.94H499.32V198.51H492.53ZM463.57 197.51H470.36V203.08H463.57ZM457.78 202.08H476.15V207.65H457.78ZM492.53 215.78H499.32V221.35H492.53ZM434.61 229.49H447.19V235.06H434.61ZM579.42 229.49H586.21V235.06H579.42ZM533.08 234.06H539.87V239.63H533.08ZM486.74 243.2H493.53V248.77H486.74ZM492.53 256.9H499.32V262.47H492.53ZM457.78 261.47H464.57V267.04H457.78ZM451.98 266.04H458.78V271.61H451.98ZM515.7 266.04H522.49V271.61H515.7ZM451.98 270.61H458.78V276.18H451.98ZM527.28 275.18H539.87V280.75H527.28ZM562.04 275.18H568.83V280.75H562.04ZM573.62 275.18H580.42V280.75H573.62ZM544.66 279.75H551.45V285.32H544.66ZM573.62 279.75H580.42V285.32H573.62ZM562.04 284.32H574.62V289.89H562.04ZM585.21 284.32H597.79V289.89H585.21ZM567.83 288.89H586.21V294.46H567.83ZM492.53 293.46H499.32V299.03H492.53ZM504.12 293.46H510.91V299.03H504.12ZM515.7 293.46H522.49V299.03H515.7ZM562.04 302.59H568.83V308.16H562.04ZM457.78 325.44H464.57V331.01H457.78ZM504.12 339.15H510.91V344.72H504.12ZM544.66 343.72H551.45V349.28H544.66ZM556.25 348.28H563.04V353.85H556.25ZM434.61 352.85H447.19V358.42H434.61ZM434.61 357.42H447.19V362.99H434.61ZM498.32 361.99H505.12V367.56H498.32ZM451.98 371.13H458.78V376.7H451.98ZM492.53 380.27H499.32V385.84H492.53ZM538.87 384.84H545.66V390.41H538.87ZM556.25 384.84H563.04V390.41H556.25ZM538.87 389.41H545.66V394.97H538.87ZM533.08 398.54H539.87V404.11H533.08ZM533.08 403.11H539.87V408.68H533.08ZM562.04 403.11H568.83V408.68H562.04ZM567.83 425.96H574.62V431.53H567.83ZM585.21 430.53H597.79V436.1H585.21ZM475.15 435.1H481.95V440.66H475.15ZM527.28 435.1H534.08V440.66H527.28ZM480.95 439.66H487.74V445.23H480.95ZM492.53 439.66H499.32V445.23H492.53ZM504.12 439.66H510.91V445.23H504.12ZM521.49 439.66H528.28V445.23H521.49ZM585.21 439.66H597.79V445.23H585.21ZM480.95 448.8H493.53V454.37H480.95ZM521.49 462.51H528.28V468.08H521.49ZM567.83 471.65H574.62V477.22H567.83ZM463.57 480.79H470.36V486.35H463.57ZM504.12 485.35H510.91V490.92H504.12ZM527.28 485.35H534.08V490.92H527.28ZM538.87 485.35H545.66V490.92H538.87ZM446.19 499.06H452.98V504.63H446.19ZM521.49 499.06H528.28V504.63H521.49Z"/>
<path fill="#35095e" d="M434.61 188.37H447.19V193.94H434.61ZM556.25 202.08H563.04V207.65H556.25ZM538.87 215.78H545.66V221.35H538.87ZM573.62 220.35H580.42V225.92H573.62ZM521.49 243.2H528.28V248.77H521.49ZM486.74 256.9H493.53V262.47H486.74ZM533.08 270.61H539.87V276.18H533.08ZM579.42 275.18H586.21V280.75H579.42ZM504.12 279.75H510.91V285.32H504.12ZM556.25 279.75H563.04V285.32H556.25ZM579.42 279.75H597.79V285.32H579.42ZM480.95 284.32H487.74V289.89H480.95ZM573.62 284.32H586.21V289.89H573.62ZM515.7 302.59H522.49V308.16H515.7ZM573.62 307.16H580.42V312.73H573.62ZM457.78 311.73H464.57V317.3H457.78ZM451.98 316.3H458.78V321.87H451.98ZM480.95 320.87H487.74V326.44H480.95ZM469.36 334.58H476.15V340.15H469.36ZM446.19 366.56H452.98V372.13H446.19ZM434.61 398.54H447.19V404.11H434.61ZM533.08 416.82H539.87V422.39H533.08ZM585.21 425.96H597.79V431.53H585.21ZM492.53 430.53H499.32V436.1H492.53ZM556.25 435.1H563.04V440.66H556.25ZM579.42 439.66H586.21V445.23H579.42ZM585.21 444.23H597.79V449.8H585.21ZM515.7 453.37H522.49V458.94H515.7ZM463.57 467.08H470.36V472.65H463.57ZM527.28 467.08H534.08V472.65H527.28ZM515.7 476.22H522.49V481.79H515.7ZM509.91 480.79H516.7V486.35H509.91ZM550.45 480.79H557.25V486.35H550.45ZM434.61 503.63H447.19V509.2H434.61ZM434.61 508.2H447.19V513.77H434.61Z"/>
<path fill="#32086f" d="M550.45 206.65H557.25V212.21H550.45ZM556.25 220.35H563.04V225.92H556.25ZM544.66 243.2H551.45V248.77H544.66ZM544.66 275.18H551.45V280.75H544.66ZM521.49 279.75H528.28V285.32H521.49ZM544.66 284.32H551.45V289.89H544.66ZM544.66 288.89H551.45V294.46H544.66ZM544.66 293.46H551.45V299.03H544.66ZM544.66 298.03H551.45V303.59H544.66ZM533.08 407.68H539.87V413.25H533.08ZM533.08 412.25H539.87V417.82H533.08ZM498.32 435.1H505.12V440.66H498.32Z"/>
<path fill="#2d0880" d="M550.45 197.51H557.25V203.08H550.45ZM579.42 206.65H586.21V212.21H579.42ZM550.45 220.35H557.25V225.92H550.45ZM550.45 243.2H557.25V248.77H550.45ZM538.87 247.77H545.66V253.34H538.87ZM533.08 256.9H539.87V262.47H533.08ZM538.87 261.47H545.66V267.04H538.87ZM515.7 307.16H522.49V312.73H515.7ZM515.7 311.73H522.49V317.3H515.7ZM538.87 380.27H545.66V385.84H538.87ZM556.25 462.51H563.04V468.08H556.25ZM556.25 467.08H563.04V472.65H556.25Z"/>
<path fill="#280890" d="M538.87 275.18H545.66V280.75H538.87ZM538.87 279.75H545.66V285.32H538.87ZM521.49 284.32H528.28V289.89H521.49ZM521.49 288.89H528.28V294.46H521.49ZM544.66 302.59H551.45V308.16H544.66ZM515.7 316.3H522.49V321.87H515.7ZM515.7 320.87H522.49V326.44H515.7ZM504.12 352.85H510.91V358.42H504.12ZM504.12 357.42H510.91V362.99H504.12ZM538.87 371.13H545.66V376.7H538.87ZM538.87 375.7H545.66V381.27H538.87ZM533.08 393.97H539.87V399.54H533.08ZM492.53 425.96H499.32V431.53H492.53ZM527.28 430.53H534.08V436.1H527.28ZM521.49 435.1H528.28V440.66H521.49ZM509.91 448.8H516.7V454.37H509.91ZM562.04 467.08H568.83V472.65H562.04Z"/>
<path fill="#2208a0" d="M544.66 247.77H551.45V253.34H544.66ZM544.66 266.04H551.45V271.61H544.66ZM544.66 320.87H551.45V326.44H544.66ZM492.53 403.11H499.32V408.68H492.53ZM562.04 462.51H568.83V468.08H562.04Z"/>
<path fill="#1f0baa" d="M550.45 202.08H557.25V207.65H550.45ZM544.66 307.16H551.45V312.73H544.66ZM544.66 311.73H551.45V317.3H544.66ZM544.66 316.3H551.45V321.87H544.66ZM544.66 325.44H551.45V331.01H544.66Z"/>
<path fill="#1c0eb3" d="M538.87 270.61H551.45V276.18H538.87ZM527.28 279.75H539.87V285.32H527.28ZM538.87 284.32H545.66V289.89H538.87ZM538.87 288.89H545.66V294.46H538.87ZM515.7 325.44H522.49V331.01H515.7ZM544.66 330.01H551.45V335.58H544.66ZM544.66 334.58H551.45V340.15H544.66ZM509.91 339.15H516.7V344.72H509.91ZM538.87 339.15H545.66V344.72H538.87ZM509.91 343.72H516.7V349.28H509.91ZM538.87 343.72H545.66V349.28H538.87ZM509.91 348.28H516.7V353.85H509.91ZM538.87 348.28H545.66V353.85H538.87ZM509.91 352.85H516.7V358.42H509.91ZM538.87 352.85H545.66V358.42H538.87ZM538.87 357.42H545.66V362.99H538.87ZM504.12 361.99H510.91V367.56H504.12ZM538.87 361.99H545.66V367.56H538.87ZM498.32 366.56H505.12V372.13H498.32ZM538.87 366.56H545.66V372.13H538.87ZM492.53 384.84H499.32V390.41H492.53ZM492.53 389.41H499.32V394.97H492.53ZM492.53 393.97H499.32V399.54H492.53ZM492.53 398.54H499.32V404.11H492.53ZM492.53 407.68H499.32V413.25H492.53ZM492.53 416.82H499.32V422.39H492.53ZM492.53 421.39H499.32V426.96H492.53ZM504.12 435.1H510.91V440.66H504.12ZM509.91 439.66H522.49V445.23H509.91ZM515.7 448.8H522.49V454.37H515.7Z"/>
<path fill="#1515c6" d="M521.49 298.03H528.28V303.59H521.49ZM521.49 302.59H528.28V308.16H521.49ZM498.32 371.13H505.12V376.7H498.32ZM533.08 389.41H539.87V394.97H533.08ZM527.28 425.96H534.08V431.53H527.28ZM498.32 430.53H505.12V436.1H498.32ZM515.7 435.1H522.49V440.66H515.7Z"/>
<path fill="#1218d0" d="M527.28 284.32H539.87V289.89H527.28ZM527.28 288.89H539.87V294.46H527.28ZM521.49 293.46H528.28V299.03H521.49ZM538.87 293.46H545.66V299.03H538.87ZM538.87 298.03H545.66V303.59H538.87ZM521.49 307.16H528.28V312.73H521.49ZM521.49 311.73H528.28V317.3H521.49ZM515.7 330.01H522.49V335.58H515.7ZM515.7 334.58H522.49V340.15H515.7ZM515.7 339.15H522.49V344.72H515.7ZM533.08 352.85H539.87V358.42H533.08ZM509.91 357.42H516.7V362.99H509.91ZM498.32 375.7H505.12V381.27H498.32ZM498.32 380.27H505.12V385.84H498.32ZM533.08 380.27H539.87V385.84H533.08ZM533.08 384.84H539.87V390.41H533.08ZM492.53 412.25H499.32V417.82H492.53ZM527.28 421.39H534.08V426.96H527.28ZM521.49 430.53H528.28V436.1H521.49Z"/>
<path fill="#152ad6" d="M527.28 302.59H534.08V308.16H527.28ZM521.49 316.3H528.28V321.87H521.49ZM538.87 320.87H545.66V326.44H538.87ZM533.08 357.42H539.87V362.99H533.08ZM533.08 361.99H539.87V367.56H533.08ZM533.08 371.13H539.87V376.7H533.08ZM533.08 375.7H539.87V381.27H533.08ZM527.28 416.82H534.08V422.39H527.28Z"/>
<path fill="#1c4de3" d="M527.28 298.03H534.08V303.59H527.28ZM538.87 302.59H545.66V308.16H538.87ZM538.87 307.16H545.66V312.73H538.87ZM538.87 316.3H545.66V321.87H538.87ZM521.49 320.87H528.28V326.44H521.49ZM521.49 325.44H528.28V331.01H521.49ZM538.87 325.44H545.66V331.01H538.87ZM538.87 334.58H545.66V340.15H538.87ZM515.7 343.72H522.49V349.28H515.7ZM533.08 348.28H539.87V353.85H533.08ZM533.08 366.56H539.87V372.13H533.08ZM498.32 389.41H505.12V394.97H498.32ZM498.32 393.97H505.12V399.54H498.32ZM498.32 425.96H505.12V431.53H498.32ZM509.91 435.1H516.7V440.66H509.91Z"/>
<path fill="#1f5eea" d="M527.28 412.25H534.08V417.82H527.28Z"/>
<path fill="#2270f0" d="M533.08 302.59H539.87V308.16H533.08ZM538.87 311.73H545.66V317.3H538.87ZM538.87 330.01H545.66V335.58H538.87ZM515.7 348.28H522.49V353.85H515.7ZM498.32 421.39H505.12V426.96H498.32Z"/>
<path fill="#308af2" d="M527.28 293.46H539.87V299.03H527.28ZM533.08 298.03H539.87V303.59H533.08ZM533.08 339.15H539.87V344.72H533.08ZM509.91 361.99H516.7V367.56H509.91ZM498.32 384.84H505.12V390.41H498.32ZM498.32 398.54H505.12V404.11H498.32ZM527.28 407.68H534.08V413.25H527.28ZM504.12 430.53H510.91V436.1H504.12Z"/>
<path fill="#3da3f3" d="M498.32 403.11H505.12V408.68H498.32ZM527.28 403.11H534.08V408.68H527.28Z"/>
<path fill="#44b0f4" d="M527.28 307.16H539.87V312.73H527.28ZM527.28 311.73H534.08V317.3H527.28ZM527.28 316.3H539.87V321.87H527.28ZM527.28 320.87H539.87V326.44H527.28ZM527.28 325.44H539.87V331.01H527.28ZM533.08 330.01H539.87V335.58H533.08ZM533.08 334.58H539.87V340.15H533.08ZM533.08 343.72H539.87V349.28H533.08ZM515.7 352.85H522.49V358.42H515.7ZM504.12 366.56H510.91V372.13H504.12ZM527.28 398.54H534.08V404.11H527.28ZM498.32 416.82H505.12V422.39H498.32ZM521.49 425.96H528.28V431.53H521.49ZM515.7 430.53H522.49V436.1H515.7Z"/>
<path fill="#47b5e5" d="M521.49 330.01H528.28V335.58H521.49ZM521.49 334.58H528.28V340.15H521.49ZM498.32 407.68H505.12V413.25H498.32Z"/>
<path fill="#4ebec6" d="M533.08 311.73H539.87V317.3H533.08ZM527.28 330.01H534.08V335.58H527.28ZM527.28 334.58H534.08V340.15H527.28ZM521.49 339.15H534.08V344.72H521.49ZM521.49 343.72H528.28V349.28H521.49ZM521.49 348.28H528.28V353.85H521.49ZM515.7 357.42H522.49V362.99H515.7ZM504.12 425.96H510.91V431.53H504.12Z"/>
<path fill="#51c3b7" d="M527.28 348.28H534.08V353.85H527.28ZM527.28 352.85H534.08V358.42H527.28ZM527.28 357.42H534.08V362.99H527.28ZM504.12 371.13H510.91V376.7H504.12Z"/>
<path fill="#54c8a8" d="M527.28 343.72H534.08V349.28H527.28ZM527.28 361.99H534.08V367.56H527.28ZM504.12 375.7H510.91V381.27H504.12ZM498.32 412.25H505.12V417.82H498.32ZM509.91 430.53H516.7V436.1H509.91Z"/>
<path fill="#69ce8e" d="M521.49 352.85H528.28V358.42H521.49ZM509.91 366.56H516.7V372.13H509.91ZM527.28 366.56H534.08V372.13H527.28ZM527.28 371.13H534.08V376.7H527.28ZM504.12 380.27H510.91V385.84H504.12ZM527.28 393.97H534.08V399.54H527.28ZM521.49 421.39H528.28V426.96H521.49ZM515.7 425.96H522.49V431.53H515.7Z"/>
<path fill="#88d868" d="M527.28 375.7H534.08V381.27H527.28ZM527.28 380.27H534.08V385.84H527.28ZM527.28 384.84H534.08V390.41H527.28ZM527.28 389.41H534.08V394.97H527.28ZM504.12 421.39H510.91V426.96H504.12ZM509.91 425.96H516.7V431.53H509.91Z"/>
<path fill="#b3e450" d="M521.49 357.42H528.28V362.99H521.49ZM515.7 361.99H522.49V367.56H515.7ZM504.12 384.84H510.91V390.41H504.12ZM504.12 389.41H510.91V394.97H504.12ZM504.12 393.97H510.91V399.54H504.12ZM504.12 416.82H510.91V422.39H504.12ZM521.49 416.82H528.28V422.39H521.49Z"/>
<path fill="#d0ec40" d="M521.49 361.99H528.28V367.56H521.49ZM504.12 398.54H510.91V404.11H504.12ZM504.12 412.25H510.91V417.82H504.12ZM515.7 421.39H522.49V426.96H515.7Z"/>
<path fill="#e7ee37" d="M509.91 371.13H516.7V376.7H509.91ZM504.12 403.11H510.91V408.68H504.12ZM504.12 407.68H510.91V413.25H504.12ZM521.49 407.68H528.28V413.25H521.49ZM521.49 412.25H528.28V417.82H521.49ZM509.91 421.39H516.7V426.96H509.91Z"/>
<path fill="#f8e52e" d="M515.7 366.56H528.28V372.13H515.7Z"/>
<path fill="#f8b725" d="M509.91 375.7H516.7V381.27H509.91ZM521.49 403.11H528.28V408.68H521.49Z"/>
<path fill="#f5801d" d="M521.49 371.13H528.28V376.7H521.49Z"/>
<path fill="#f04018" d="M515.7 371.13H522.49V376.7H515.7ZM509.91 380.27H516.7V385.84H509.91ZM521.49 398.54H528.28V404.11H521.49ZM509.91 416.82H522.49V422.39H509.91Z"/>
<path fill="#f03c1e" d="M509.91 384.84H516.7V390.41H509.91Z"/>
<path fill="#f03824" d="M521.49 375.7H528.28V381.27H521.49ZM521.49 393.97H528.28V399.54H521.49ZM509.91 412.25H516.7V417.82H509.91Z"/>
<path fill="#f03030" d="M515.7 412.25H522.49V417.82H515.7Z"/>
<path fill="#f57b7b" d="M509.91 407.68H516.7V413.25H509.91Z"/>
<path fill="#f8a0a0" d="M521.49 389.41H528.28V394.97H521.49Z"/>
<path fill="#fac0c0" d="M515.7 375.7H522.49V381.27H515.7ZM521.49 384.84H528.28V390.41H521.49ZM509.91 389.41H516.7V394.97H509.91Z"/>
<path fill="#fddfdf" d="M521.49 380.27H528.28V385.84H521.49Z"/>
<path fill="#ffffff" d="M515.7 380.27H522.49V385.84H515.7ZM515.7 384.84H522.49V390.41H515.7ZM515.7 389.41H522.49V394.97H515.7ZM509.91 393.97H522.49V399.54H509.91ZM509.91 398.54H522.49V404.11H509.91ZM509.91 403.11H522.49V408.68H509.91ZM515.7 407.68H522.49V413.25H515.7Z"/>
</g></g>
<rect x="501.5" y="494.4" width="84.3" height="8.3" fill="url(#cb)" stroke="#fff" stroke-width="0.9"/><line x1="515.5" y1="494.4" x2="515.5" y2="502.7" stroke="#fff" stroke-width="0.6" stroke-dasharray="2.4 1.2"/><line x1="529.6" y1="494.4" x2="529.6" y2="502.7" stroke="#fff" stroke-width="0.6" stroke-dasharray="2.4 1.2"/><line x1="543.6" y1="494.4" x2="543.6" y2="502.7" stroke="#fff" stroke-width="0.6" stroke-dasharray="2.4 1.2"/><line x1="557.7" y1="494.4" x2="557.7" y2="502.7" stroke="#fff" stroke-width="0.6" stroke-dasharray="2.4 1.2"/><line x1="571.8" y1="494.4" x2="571.8" y2="502.7" stroke="#fff" stroke-width="0.6" stroke-dasharray="2.4 1.2"/><text x="515.5" y="492.2" font-family="'Liberation Serif',serif" font-size="8.6" fill="#fff" text-anchor="middle" >2</text><text x="529.6" y="492.2" font-family="'Liberation Serif',serif" font-size="8.6" fill="#fff" text-anchor="middle" >4</text><text x="543.6" y="492.2" font-family="'Liberation Serif',serif" font-size="8.6" fill="#fff" text-anchor="middle" >6</text><text x="557.7" y="492.2" font-family="'Liberation Serif',serif" font-size="8.6" fill="#fff" text-anchor="middle" >8</text><text x="572.6" y="492.2" font-family="'Liberation Serif',serif" font-size="8.6" fill="#fff" text-anchor="middle" >10</text>
<text x="444.4" y="198.8" font-family="'Liberation Sans',sans-serif" font-size="12" fill="#fff" text-anchor="start" letter-spacing="-0.4" stroke="none">( c )</text>
<rect x="440.8" y="184.2" width="150.6" height="324.4" fill="none" stroke="#111" stroke-width="0.9"/>
<line x1="447" y1="184.2" x2="447" y2="177.9" stroke="#111" stroke-width="1.1" />
<line x1="447" y1="508.6" x2="447" y2="514.9" stroke="#111" stroke-width="1.1" />
<line x1="464.27" y1="184.2" x2="464.27" y2="180.4" stroke="#111" stroke-width="1.1" />
<line x1="464.27" y1="508.6" x2="464.27" y2="512.4" stroke="#111" stroke-width="1.1" />
<line x1="481.54" y1="184.2" x2="481.54" y2="177.9" stroke="#111" stroke-width="1.1" />
<line x1="481.54" y1="508.6" x2="481.54" y2="514.9" stroke="#111" stroke-width="1.1" />
<line x1="498.81" y1="184.2" x2="498.81" y2="180.4" stroke="#111" stroke-width="1.1" />
<line x1="498.81" y1="508.6" x2="498.81" y2="512.4" stroke="#111" stroke-width="1.1" />
<line x1="516.08" y1="184.2" x2="516.08" y2="177.9" stroke="#111" stroke-width="1.1" />
<line x1="516.08" y1="508.6" x2="516.08" y2="514.9" stroke="#111" stroke-width="1.1" />
<line x1="533.35" y1="184.2" x2="533.35" y2="180.4" stroke="#111" stroke-width="1.1" />
<line x1="533.35" y1="508.6" x2="533.35" y2="512.4" stroke="#111" stroke-width="1.1" />
<line x1="550.62" y1="184.2" x2="550.62" y2="177.9" stroke="#111" stroke-width="1.1" />
<line x1="550.62" y1="508.6" x2="550.62" y2="514.9" stroke="#111" stroke-width="1.1" />
<line x1="567.89" y1="184.2" x2="567.89" y2="180.4" stroke="#111" stroke-width="1.1" />
<line x1="567.89" y1="508.6" x2="567.89" y2="512.4" stroke="#111" stroke-width="1.1" />
<line x1="585.16" y1="184.2" x2="585.16" y2="177.9" stroke="#111" stroke-width="1.1" />
<line x1="585.16" y1="508.6" x2="585.16" y2="514.9" stroke="#111" stroke-width="1.1" />
<line x1="591.4" y1="187.2" x2="597.7" y2="187.2" stroke="#111" stroke-width="1.1" />
<line x1="440.8" y1="187.2" x2="434.5" y2="187.2" stroke="#111" stroke-width="1.1" />
<line x1="591.4" y1="209.99" x2="595.2" y2="209.99" stroke="#111" stroke-width="1.1" />
<line x1="440.8" y1="209.99" x2="437" y2="209.99" stroke="#111" stroke-width="1.1" />
<line x1="591.4" y1="232.78" x2="597.7" y2="232.78" stroke="#111" stroke-width="1.1" />
<line x1="440.8" y1="232.78" x2="434.5" y2="232.78" stroke="#111" stroke-width="1.1" />
<line x1="591.4" y1="255.57" x2="595.2" y2="255.57" stroke="#111" stroke-width="1.1" />
<line x1="440.8" y1="255.57" x2="437" y2="255.57" stroke="#111" stroke-width="1.1" />
<line x1="591.4" y1="278.36" x2="597.7" y2="278.36" stroke="#111" stroke-width="1.1" />
<line x1="440.8" y1="278.36" x2="434.5" y2="278.36" stroke="#111" stroke-width="1.1" />
<line x1="591.4" y1="301.15" x2="595.2" y2="301.15" stroke="#111" stroke-width="1.1" />
<line x1="440.8" y1="301.15" x2="437" y2="301.15" stroke="#111" stroke-width="1.1" />
<line x1="591.4" y1="323.94" x2="597.7" y2="323.94" stroke="#111" stroke-width="1.1" />
<line x1="440.8" y1="323.94" x2="434.5" y2="323.94" stroke="#111" stroke-width="1.1" />
<line x1="591.4" y1="346.73" x2="595.2" y2="346.73" stroke="#111" stroke-width="1.1" />
<line x1="440.8" y1="346.73" x2="437" y2="346.73" stroke="#111" stroke-width="1.1" />
<line x1="591.4" y1="369.52" x2="597.7" y2="369.52" stroke="#111" stroke-width="1.1" />
<line x1="440.8" y1="369.52" x2="434.5" y2="369.52" stroke="#111" stroke-width="1.1" />
<line x1="591.4" y1="392.31" x2="595.2" y2="392.31" stroke="#111" stroke-width="1.1" />
<line x1="440.8" y1="392.31" x2="437" y2="392.31" stroke="#111" stroke-width="1.1" />
<line x1="591.4" y1="415.1" x2="597.7" y2="415.1" stroke="#111" stroke-width="1.1" />
<line x1="440.8" y1="415.1" x2="434.5" y2="415.1" stroke="#111" stroke-width="1.1" />
<line x1="591.4" y1="437.89" x2="595.2" y2="437.89" stroke="#111" stroke-width="1.1" />
<line x1="440.8" y1="437.89" x2="437" y2="437.89" stroke="#111" stroke-width="1.1" />
<line x1="591.4" y1="460.68" x2="597.7" y2="460.68" stroke="#111" stroke-width="1.1" />
<line x1="440.8" y1="460.68" x2="434.5" y2="460.68" stroke="#111" stroke-width="1.1" />
<line x1="591.4" y1="483.47" x2="595.2" y2="483.47" stroke="#111" stroke-width="1.1" />
<line x1="440.8" y1="483.47" x2="437" y2="483.47" stroke="#111" stroke-width="1.1" />
<line x1="591.4" y1="506.26" x2="597.7" y2="506.26" stroke="#111" stroke-width="1.1" />
<line x1="440.8" y1="506.26" x2="434.5" y2="506.26" stroke="#111" stroke-width="1.1" />
<text x="601.6" y="191" font-family="'Liberation Serif',serif" font-size="11.3" fill="#111" text-anchor="middle" transform="rotate(90 601.6 191)"  stroke="#111" stroke-width="0.18">−80</text>
<text x="601.6" y="233.75" font-family="'Liberation Serif',serif" font-size="11.3" fill="#111" text-anchor="middle" transform="rotate(90 601.6 233.75)"  stroke="#111" stroke-width="0.18">−90</text>
<text x="601.6" y="278.6" font-family="'Liberation Serif',serif" font-size="11.3" fill="#111" text-anchor="middle" transform="rotate(90 601.6 278.6)"  stroke="#111" stroke-width="0.18">−100</text>
<text x="601.6" y="324.4" font-family="'Liberation Serif',serif" font-size="11.3" fill="#111" text-anchor="middle" transform="rotate(90 601.6 324.4)"  stroke="#111" stroke-width="0.18">−110</text>
<text x="601.6" y="370.6" font-family="'Liberation Serif',serif" font-size="11.3" fill="#111" text-anchor="middle" transform="rotate(90 601.6 370.6)"  stroke="#111" stroke-width="0.18">−120</text>
<text x="601.6" y="416.2" font-family="'Liberation Serif',serif" font-size="11.3" fill="#111" text-anchor="middle" transform="rotate(90 601.6 416.2)"  stroke="#111" stroke-width="0.18">−130</text>
<text x="601.6" y="461.6" font-family="'Liberation Serif',serif" font-size="11.3" fill="#111" text-anchor="middle" transform="rotate(90 601.6 461.6)"  stroke="#111" stroke-width="0.18">−140</text>
<text x="601.6" y="506.3" font-family="'Liberation Serif',serif" font-size="11.3" fill="#111" text-anchor="middle" transform="rotate(90 601.6 506.3)"  stroke="#111" stroke-width="0.18">−150</text>
<text x="446.4" y="530.2" font-family="'Liberation Serif',serif" font-size="11.4" fill="#111" text-anchor="middle"  stroke="#111" stroke-width="0.18">−0.07</text>
<text x="480.94" y="530.2" font-family="'Liberation Serif',serif" font-size="11.4" fill="#111" text-anchor="middle"  stroke="#111" stroke-width="0.18">−0.08</text>
<text x="515.48" y="530.2" font-family="'Liberation Serif',serif" font-size="11.4" fill="#111" text-anchor="middle"  stroke="#111" stroke-width="0.18">−0.09</text>
<text x="550.02" y="530.2" font-family="'Liberation Serif',serif" font-size="11.4" fill="#111" text-anchor="middle"  stroke="#111" stroke-width="0.18">−0.10</text>
<text x="584.56" y="530.2" font-family="'Liberation Serif',serif" font-size="11.4" fill="#111" text-anchor="middle"  stroke="#111" stroke-width="0.18">−0.11</text>
<text x="515.6" y="553.8" font-family="'Liberation Sans',sans-serif" font-size="16" fill="#000" text-anchor="middle"  stroke="#000" stroke-width="0.3">Galactic Longitude [deg]</text>
<text transform="translate(622.8 305.8) rotate(90)" font-family="'Liberation Sans',sans-serif" font-size="16" fill="#000" stroke="#000" stroke-width="0.3" text-anchor="start">V<tspan font-size="8.6" dy="4.2">LSR</tspan><tspan dy="-4.2"> [km s</tspan><tspan font-size="9" dy="-6.5">−1</tspan><tspan dy="6.5">]</tspan></text>
</g>
<g id="panel-d">
<path d="M51.5 487.7L176.25 552.75L414.5 513.75L274.5 456.3Z" fill="none" stroke="#222" stroke-width="0.9" stroke-linejoin="round" />
<line x1="48.4" y1="295.8" x2="51.5" y2="487.7" stroke="#222" stroke-width="0.9" />
<line x1="275.5" y1="273.5" x2="274.5" y2="456.3" stroke="#222" stroke-width="0.9" />
<line x1="48.41" y1="296.25" x2="52.11" y2="296.05" stroke="#222" stroke-width="0.9" />
<text x="46.2" y="299.65" font-family="'Liberation Serif',serif" font-size="10.4" fill="#111" text-anchor="end"  stroke="#111" stroke-width="0.18">−80</text>
<line x1="48.79" y1="320.25" x2="52.49" y2="320.05" stroke="#222" stroke-width="0.9" />
<text x="46.2" y="323.65" font-family="'Liberation Serif',serif" font-size="10.4" fill="#111" text-anchor="end"  stroke="#111" stroke-width="0.18">−90</text>
<line x1="49.18" y1="344.25" x2="52.88" y2="344.05" stroke="#222" stroke-width="0.9" />
<text x="46.2" y="347.65" font-family="'Liberation Serif',serif" font-size="10.4" fill="#111" text-anchor="end"  stroke="#111" stroke-width="0.18">−100</text>
<line x1="49.57" y1="368.25" x2="53.27" y2="368.05" stroke="#222" stroke-width="0.9" />
<text x="46.2" y="371.65" font-family="'Liberation Serif',serif" font-size="10.4" fill="#111" text-anchor="end"  stroke="#111" stroke-width="0.18">−110</text>
<line x1="49.96" y1="392.25" x2="53.66" y2="392.05" stroke="#222" stroke-width="0.9" />
<text x="46.2" y="395.65" font-family="'Liberation Serif',serif" font-size="10.4" fill="#111" text-anchor="end"  stroke="#111" stroke-width="0.18">−120</text>
<line x1="50.35" y1="416.25" x2="54.05" y2="416.05" stroke="#222" stroke-width="0.9" />
<text x="46.2" y="419.65" font-family="'Liberation Serif',serif" font-size="10.4" fill="#111" text-anchor="end"  stroke="#111" stroke-width="0.18">−130</text>
<line x1="50.73" y1="440.25" x2="54.43" y2="440.05" stroke="#222" stroke-width="0.9" />
<text x="46.2" y="443.65" font-family="'Liberation Serif',serif" font-size="10.4" fill="#111" text-anchor="end"  stroke="#111" stroke-width="0.18">−140</text>
<line x1="51.12" y1="464.25" x2="54.82" y2="464.05" stroke="#222" stroke-width="0.9" />
<text x="46.2" y="467.65" font-family="'Liberation Serif',serif" font-size="10.4" fill="#111" text-anchor="end"  stroke="#111" stroke-width="0.18">−150</text>
<line x1="275.5" y1="273.6" x2="271.5" y2="273.6" stroke="#222" stroke-width="0.9" />
<line x1="275.37" y1="297.2" x2="271.37" y2="297.2" stroke="#222" stroke-width="0.9" />
<line x1="275.25" y1="320" x2="271.25" y2="320" stroke="#222" stroke-width="0.9" />
<line x1="275.12" y1="343.2" x2="271.12" y2="343.2" stroke="#222" stroke-width="0.9" />
<line x1="275" y1="365.6" x2="271" y2="365.6" stroke="#222" stroke-width="0.9" />
<line x1="274.87" y1="388.3" x2="270.87" y2="388.3" stroke="#222" stroke-width="0.9" />
<line x1="274.75" y1="411.2" x2="270.75" y2="411.2" stroke="#222" stroke-width="0.9" />
<line x1="274.63" y1="433.3" x2="270.63" y2="433.3" stroke="#222" stroke-width="0.9" />
<line x1="82.69" y1="503.96" x2="86.09" y2="503.36" stroke="#222" stroke-width="0.9" />
<line x1="235.81" y1="543" x2="233.21" y2="541.4" stroke="#222" stroke-width="0.9" />
<line x1="303.83" y1="468.34" x2="300.63" y2="468.74" stroke="#222" stroke-width="0.9" />
<line x1="111.71" y1="479.22" x2="114.31" y2="480.82" stroke="#222" stroke-width="0.9" />
<line x1="113.88" y1="520.23" x2="117.28" y2="519.62" stroke="#222" stroke-width="0.9" />
<line x1="295.38" y1="533.25" x2="292.77" y2="531.65" stroke="#222" stroke-width="0.9" />
<line x1="338.48" y1="482.55" x2="335.28" y2="482.95" stroke="#222" stroke-width="0.9" />
<line x1="145.06" y1="536.49" x2="148.46" y2="535.89" stroke="#222" stroke-width="0.9" />
<line x1="354.94" y1="523.5" x2="352.34" y2="521.9" stroke="#222" stroke-width="0.9" />
<line x1="373.13" y1="496.77" x2="369.93" y2="497.17" stroke="#222" stroke-width="0.9" />
<text x="34.6" y="493.6" font-family="'Liberation Serif',serif" font-size="9.9" fill="#111" text-anchor="middle"  stroke="#111" stroke-width="0.18">−0.005</text>
<text x="65.5" y="510.6" font-family="'Liberation Serif',serif" font-size="9.9" fill="#111" text-anchor="middle"  stroke="#111" stroke-width="0.18">−0.010</text>
<text x="96.25" y="528" font-family="'Liberation Serif',serif" font-size="9.9" fill="#111" text-anchor="middle"  stroke="#111" stroke-width="0.18">−0.015</text>
<text x="127.5" y="543" font-family="'Liberation Serif',serif" font-size="9.9" fill="#111" text-anchor="middle"  stroke="#111" stroke-width="0.18">−0.020</text>
<text x="156.25" y="559.8" font-family="'Liberation Serif',serif" font-size="9.9" fill="#111" text-anchor="middle"  stroke="#111" stroke-width="0.18">−0.025</text>
<text x="188" y="563.5" font-family="'Liberation Serif',serif" font-size="9.9" fill="#111" text-anchor="middle"  stroke="#111" stroke-width="0.18">−0.085</text>
<text x="236.25" y="555.5" font-family="'Liberation Serif',serif" font-size="9.9" fill="#111" text-anchor="middle"  stroke="#111" stroke-width="0.18">−0.090</text>
<text x="296.25" y="545.3" font-family="'Liberation Serif',serif" font-size="9.9" fill="#111" text-anchor="middle"  stroke="#111" stroke-width="0.18">−0.095</text>
<text x="356.25" y="535.5" font-family="'Liberation Serif',serif" font-size="9.9" fill="#111" text-anchor="middle"  stroke="#111" stroke-width="0.18">−0.100</text>
<text x="413.75" y="526.8" font-family="'Liberation Serif',serif" font-size="9.9" fill="#111" text-anchor="middle"  stroke="#111" stroke-width="0.18">−0.105</text>
<text x="69.8" y="542.6" font-family="'Liberation Sans',sans-serif" font-size="11.8" fill="#000" text-anchor="middle" transform="rotate(27 69.8 542.6)"  stroke="#000" stroke-width="0.3">Galactic Latitude [deg]</text>
<text x="318.6" y="561.3" font-family="'Liberation Sans',sans-serif" font-size="11.8" fill="#000" text-anchor="middle" transform="rotate(-8.4 318.6 561.3)"  stroke="#000" stroke-width="0.3">Galactic Longitude [deg]</text>
<text transform="translate(16.4 385.5) rotate(-90)" font-family="'Liberation Sans',sans-serif" font-size="12.2" fill="#000" stroke="#000" stroke-width="0.25" text-anchor="middle"><tspan font-style="italic">V</tspan><tspan font-size="6.5" dy="2.6">LSR</tspan><tspan dy="-2.6"> [km s</tspan><tspan font-size="7" dy="-4.5">−1</tspan><tspan dy="4.5">]</tspan></text>
<text x="33.8" y="283.2" font-family="'Liberation Serif',serif" font-size="12" fill="#000" text-anchor="start" letter-spacing="0.3" stroke="#000" stroke-width="0.2">( d )</text>
<path d="M91.25 495.75L91.4 494.46L91.64 493.14L92.63 491.88L95 490.75L98.96 489.81L104.14 489L110.38 488.25L117.5 487.5L125.82 486.7L135.31 485.9L145.27 485.15L155 484.5L164.49 483.95L174.06 483.48L183.48 483.1L192.5 482.8L201.15 482.6L209.53 482.5L217.52 482.47L225 482.5L231.89 482.57L238.28 482.7L244.28 482.91L250 483.25L255.41 483.66L260.47 484.16L265.29 484.82L270 485.75L274.67 487.05L279.22 488.64L283.54 490.35L287.5 492L291.27 493.59L294.84 495.2L297.87 496.78L300 498.25L301.2 499.56L301.64 500.75L301.26 501.94L300 503.25L297.27 504.61L293.28 505.98L289.22 507.56L286.25 509.5L284.98 512.11L284.69 515.2L284.55 518.26L283.75 520.75L282.09 522.38L280 523.48L277.6 524.47L275 525.75L272.43 527.57L269.77 529.66L266.59 531.67L262.5 533.25L257.3 534.31L251.25 535.04L244.57 535.5L237.5 535.75L229.73 535.72L221.25 535.42L212.77 534.99L205 534.6L198.22 534.36L192.03 534.17L186.07 533.85L180 533.25L173.75 532.32L167.5 531.13L161.25 529.76L155 528.25L148.75 526.67L142.5 524.97L136.25 523.04L130 520.75L123.46 517.86L116.72 514.5L110.37 511.14L105 508.25L100.73 505.96L97.27 504.03L94.54 502.33L92.5 500.75L91.28 499.32L90.86 498.09L90.95 496.94Z" fill="none" stroke="#9a9a9a" stroke-width="0.7" stroke-linejoin="round" />
<path d="M117.5 503.25L119.1 501.97L121.88 500.67L125.59 499.41L130 498.25L135.37 497.2L141.72 496.22L148.46 495.32L155 494.5L161.25 493.78L167.5 493.14L173.75 492.56L180 492L186.37 491.44L192.81 490.91L199.1 490.42L205 490L210.41 489.63L215.47 489.31L220.29 489.09L225 489L229.79 489.06L234.53 489.23L238.89 489.54L242.5 490L245.17 490.58L247.11 491.3L248.62 492.17L250 493.25L251.29 494.51L252.34 495.95L253.16 497.6L253.75 499.5L253.9 501.74L253.67 504.27L253.49 506.91L253.75 509.5L254.97 512.09L256.8 514.73L258.35 517.26L258.75 519.5L257.91 521.41L256.25 523.09L253.65 524.54L250 525.75L244.89 526.76L238.52 527.56L231.63 528.07L225 528.25L218.93 527.94L212.97 527.23L206.78 526.36L200 525.6L192.23 525.08L183.75 524.65L175.27 524.1L167.5 523.25L160.61 522.02L154.22 520.52L148.22 518.83L142.5 517L136.8 514.9L131.25 512.55L126.33 510.23L122.5 508.25L119.79 506.74L117.97 505.52L117.17 504.41Z" fill="none" stroke="#9a9a9a" stroke-width="0.7" stroke-linejoin="round" />
<path d="M145.75 507L147.04 505.69L149.33 504.34L152.14 503.07L155 502L157.9 501.19L161.05 500.56L164.3 500.03L167.5 499.5L170.51 498.94L173.44 498.41L176.52 497.92L180 497.5L184.02 497.14L188.44 496.84L193.01 496.62L197.5 496.5L201.99 496.47L206.56 496.51L210.98 496.68L215 497L218.59 497.49L221.88 498.14L224.84 498.91L227.5 499.8L229.84 500.78L231.88 501.86L233.59 503.08L235 504.5L236.06 506.2L236.78 508.14L237.24 510.13L237.5 512L237.74 513.77L237.88 515.5L237.57 517.11L236.5 518.5L234.68 519.7L232.25 520.73L229.07 521.53L225 522L219.58 522.01L213.03 521.64L206.21 521.14L200 520.75L194.59 520.58L189.53 520.48L184.71 520.33L180 520L175.33 519.46L170.78 518.77L166.46 517.94L162.5 517L158.83 515.89L155.42 514.62L152.43 513.3L150 512L148.04 510.75L146.52 509.5L145.67 508.25Z" fill="none" stroke="#9a9a9a" stroke-width="0.7" stroke-linejoin="round" />
<path d="M180 509.5L181.16 508.57L182.91 507.55L185.07 506.56L187.5 505.75L190.27 505.09L193.44 504.53L196.76 504.14L200 504L203.24 504.12L206.56 504.45L209.73 505L212.5 505.75L214.93 506.75L217.11 508L218.86 509.37L220 510.75L220.6 512.27L220.7 513.94L220.15 515.45L218.75 516.5L216.22 516.94L212.73 516.95L208.82 516.74L205 516.5L201.2 516.25L197.2 515.91L193.36 515.48L190 515L187.14 514.46L184.62 513.84L182.55 513.18L181 512.5L179.99 511.8L179.47 511.08L179.46 510.31Z" fill="none" stroke="#9a9a9a" stroke-width="0.7" stroke-linejoin="round" />
<path d="M246.25 316.25L244.9 316.27L243.19 316.71L241.25 317.5L239.17 318.56L237.05 319.84L235 321.25L232.99 322.86L230.93 324.72L228.83 326.8L226.71 329.03L224.6 331.36L222.5 333.75L220.42 336.21L218.33 338.8L216.25 341.48L214.17 344.26L212.08 347.1L210 350L207.89 353.01L205.74 356.16L203.59 359.38L201.48 362.59L199.44 365.74L197.5 368.75L195.66 371.59L193.89 374.31L192.19 376.95L190.56 379.58L188.99 382.25L187.5 385L186.06 387.9L184.68 390.93L183.36 393.98L182.13 396.99L181.01 399.86L180 402.5L179.09 404.84L178.27 406.94L177.55 408.91L176.95 410.83L176.5 412.83L176.2 415L176.08 417.36L176.12 419.81L176.3 422.34L176.6 424.91L177.01 427.47L177.5 430L178.1 432.57L178.85 435.23L179.69 437.89L180.6 440.46L181.55 442.86L182.5 445L183.47 446.88L184.49 448.58L185.55 450.11L186.62 451.47L187.69 452.68L188.75 453.75L189.76 454.68L190.74 455.45L191.72 456.08L192.73 456.55L193.81 456.85L195 457L196.31 456.98L197.73 456.81L199.22 456.47L200.74 455.97L202.26 455.32L203.75 454.5L205.21 453.52L206.67 452.38L208.12 451.08L209.58 449.62L211.04 448.01L212.5 446.25L213.97 444.32L215.46 442.21L216.95 439.95L218.43 437.56L219.86 435.07L221.25 432.5L222.6 429.77L223.94 426.85L225.23 423.83L226.48 420.79L227.66 417.82L228.75 415L229.71 412.44L230.56 410.09L231.33 407.81L232.08 405.46L232.87 402.91L233.75 400L234.75 396.63L235.83 392.87L236.95 388.91L238.06 384.91L239.09 381.05L240 377.5L240.77 374.32L241.44 371.39L242.03 368.59L242.59 365.83L243.15 363L243.75 360L244.4 356.77L245.09 353.38L245.78 349.92L246.44 346.48L247.02 343.15L247.5 340L247.9 336.97L248.24 333.98L248.52 331.09L248.7 328.38L248.79 325.91L248.75 323.75L248.65 321.85L248.52 320.14L248.28 318.67L247.87 317.5L247.22 316.68Z" fill="none" stroke="#3a8a5a" stroke-width="0.9" stroke-linejoin="round" />
<path d="M178.75 510L178.93 508.62L179.44 506.98L180.23 505.19L181.25 503.35L182.44 501.59L183.75 500L185.22 498.58L186.9 497.22L188.75 495.94L190.74 494.72L192.84 493.58L195 492.5L197.28 491.49L199.72 490.56L202.27 489.69L204.86 488.89L207.46 488.16L210 487.5L212.53 486.91L215.09 486.39L217.66 485.94L220.19 485.56L222.64 485.24L225 485L227.27 484.82L229.49 484.7L231.64 484.66L233.7 484.69L235.66 484.8L237.5 485L239.25 485.31L240.93 485.72L242.5 486.22L243.94 486.78L245.2 487.38L246.25 488L247.1 488.64L247.78 489.32L248.28 490.05L248.61 490.81L248.77 491.63L248.75 492.5L248.56 493.44L248.19 494.45L247.66 495.52L246.94 496.6L246.06 497.69L245 498.75L243.75 499.79L242.31 500.83L240.7 501.88L238.94 502.92L237.03 503.96L235 505L232.79 506.07L230.37 507.18L227.81 508.28L225.19 509.35L222.56 510.35L220 511.25L217.47 512.05L214.91 512.78L212.34 513.44L209.81 514.03L207.36 514.55L205 515L202.73 515.39L200.51 515.71L198.36 515.97L196.3 516.15L194.34 516.24L192.5 516.25L190.78 516.16L189.17 515.99L187.66 515.73L186.25 515.4L184.95 514.99L183.75 514.5L182.58 513.97L181.44 513.41L180.39 512.77L179.54 512.01L178.96 511.1Z" fill="none" stroke="#3a8a5a" stroke-width="0.9" stroke-linejoin="round" />
<path d="M244.8 307.5h5.4M247.5 304.8v5.4M244.3 315h5.4M247 312.3v5.4M233.05 320h5.4M235.75 317.3v5.4M248.55 319.25h5.4M251.25 316.55v5.4M251.55 317.5h5.4M254.25 314.8v5.4M259.8 329.25h5.4M262.5 326.55v5.4M257.3 333.75h5.4M260 331.05v5.4M242.3 335.5h5.4M245 332.8v5.4M227.8 338h5.4M230.5 335.3v5.4M199.8 347.5h5.4M202.5 344.8v5.4M200.55 350h5.4M203.25 347.3v5.4M206.8 352.5h5.4M209.5 349.8v5.4M207.8 355.5h5.4M210.5 352.8v5.4M199.8 360h5.4M202.5 357.3v5.4M211.05 362h5.4M213.75 359.3v5.4M214.3 364h5.4M217 361.3v5.4M202.8 367h5.4M205.5 364.3v5.4M193.05 370.75h5.4M195.75 368.05v5.4M195.3 375h5.4M198 372.3v5.4M197.3 378h5.4M200 375.3v5.4M196.8 380h5.4M199.5 377.3v5.4M199.05 382h5.4M201.75 379.3v5.4M189.3 385h5.4M192 382.3v5.4M187.3 387.5h5.4M190 384.8v5.4M174.05 392h5.4M176.75 389.3v5.4M172.3 395h5.4M175 392.3v5.4M170.3 400h5.4M173 397.3v5.4M178.55 400.5h5.4M181.25 397.8v5.4M173.55 406.75h5.4M176.25 404.05v5.4M166.8 411.5h5.4M169.5 408.8v5.4M172.3 413.5h5.4M175 410.8v5.4M170.3 417h5.4M173 414.3v5.4M169.3 420h5.4M172 417.3v5.4M171.8 423.75h5.4M174.5 421.05v5.4M179.8 426.25h5.4M182.5 423.55v5.4M177.3 429.5h5.4M180 426.8v5.4M162.3 432.5h5.4M165 429.8v5.4M171.55 432.5h5.4M174.25 429.8v5.4M169.3 438.75h5.4M172 436.05v5.4M172.3 441.25h5.4M175 438.55v5.4M174.3 445h5.4M177 442.3v5.4M176.05 447.5h5.4M178.75 444.8v5.4M180.55 450.75h5.4M183.25 448.05v5.4M181.05 453.75h5.4M183.75 451.05v5.4M186.8 457h5.4M189.5 454.3v5.4M186.05 459.5h5.4M188.75 456.8v5.4M233.05 485h5.4M235.75 482.3v5.4M244.8 487h5.4M247.5 484.3v5.4M249.8 487.5h5.4M252.5 484.8v5.4M227.3 488.75h5.4M230 486.05v5.4M228.55 492.5h5.4M231.25 489.8v5.4M243.05 492.5h5.4M245.75 489.8v5.4M258.55 493.75h5.4M261.25 491.05v5.4M200.3 488h5.4M203 485.3v5.4M201.05 490.5h5.4M203.75 487.8v5.4M207.3 488.75h5.4M210 486.05v5.4M212.8 490.5h5.4M215.5 487.8v5.4M194.3 493.75h5.4M197 491.05v5.4M197.8 495h5.4M200.5 492.3v5.4M199.8 496.25h5.4M202.5 493.55v5.4M188.55 496.25h5.4M191.25 493.55v5.4M173.55 498.75h5.4M176.25 496.05v5.4M178.55 500.5h5.4M181.25 497.8v5.4M172.3 502h5.4M175 499.3v5.4M173.55 504.5h5.4M176.25 501.8v5.4M172.3 507h5.4M175 504.3v5.4M163.55 508.25h5.4M166.25 505.55v5.4M168.55 507.5h5.4M171.25 504.8v5.4M171.8 509.25h5.4M174.5 506.55v5.4M179.3 509.25h5.4M182 506.55v5.4M169.8 511.25h5.4M172.5 508.55v5.4M173.55 512.5h5.4M176.25 509.8v5.4M177.3 513.75h5.4M180 511.05v5.4M181.05 515.5h5.4M183.75 512.8v5.4M187.3 515.75h5.4M190 513.05v5.4" fill="none" stroke="#7a2a96" stroke-width="1.15"/>
<circle cx="222" cy="387.5" r="2.6" fill="#000"/><circle cx="240" cy="377.8" r="2.7" fill="#f03820"/>
<circle cx="222.3" cy="500.5" r="1.7" fill="#000"/><circle cx="239.5" cy="501" r="1.7" fill="#f03820"/>
<path d="M244.2 392.5L250 369" fill="none" stroke="#111" stroke-width="0.9"/><path d="M250.7 365.8L247.8 370.4L252.1 371.2Z" fill="#111"/>
<path d="M240.5 508.2Q247.5 506 251.2 500.2" fill="none" stroke="#111" stroke-width="0.9"/><path d="M252.4 498.2L248.6 500.6L251.6 502.6Z" fill="#111"/>
</g>
</svg>
</body>
</html>
